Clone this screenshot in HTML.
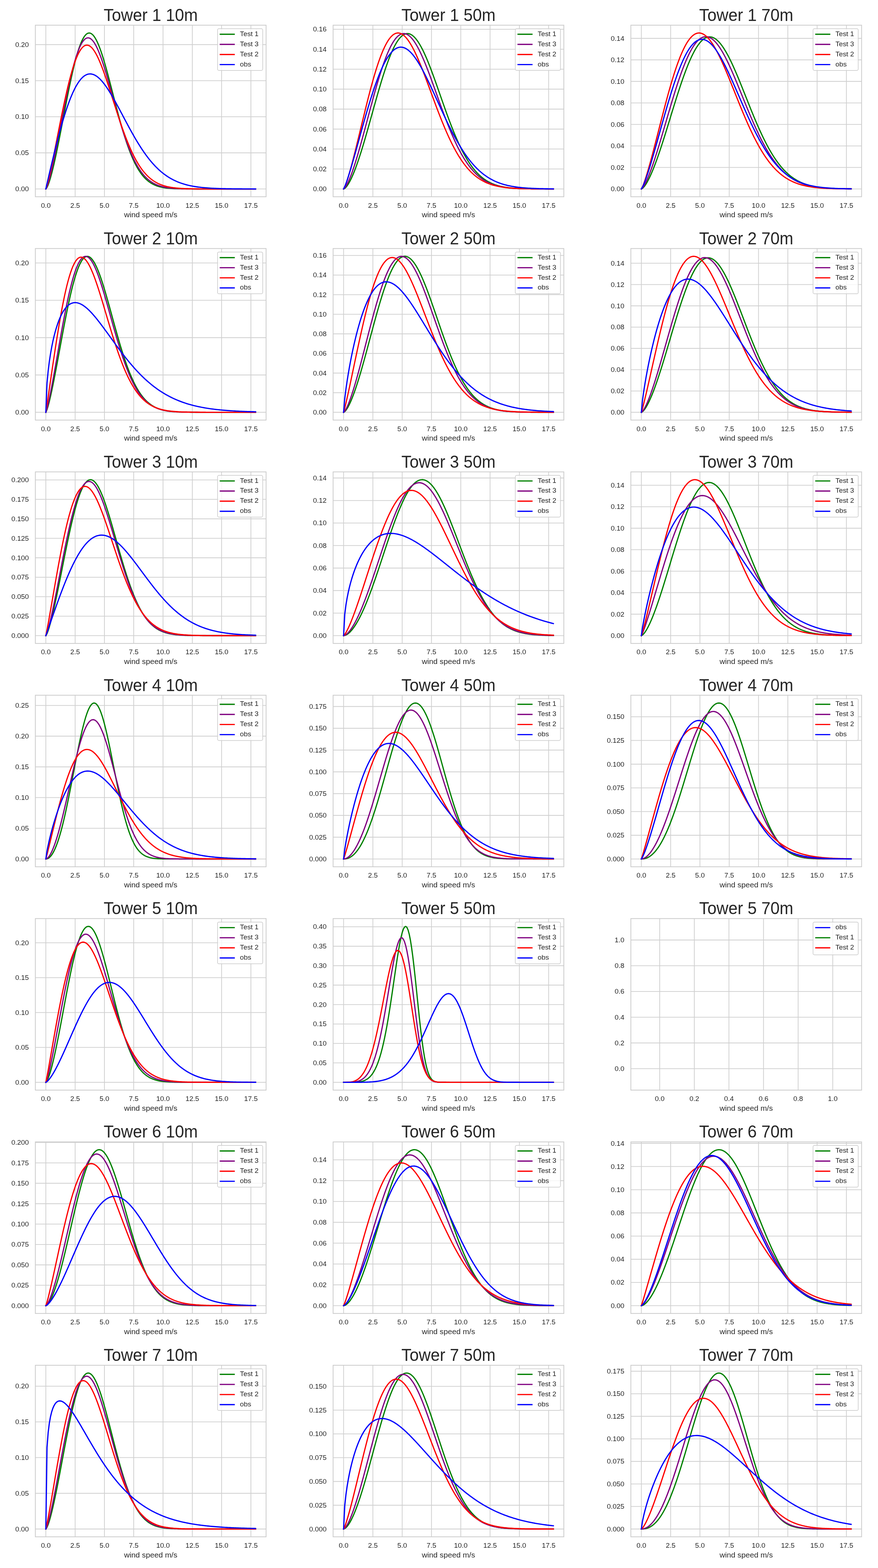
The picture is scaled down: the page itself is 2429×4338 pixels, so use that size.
<!DOCTYPE html>
<html><head><meta charset="utf-8"><title>Wind speed distributions</title><style>html,body{margin:0;padding:0;background:#fff;overflow:hidden}svg{display:block}text{font-family:"Liberation Sans",Arial,sans-serif;fill:#262626}</style></head><body>
<svg width="2429" height="4338" viewBox="0 0 2429 4338">
<rect width="2429" height="4338" fill="#fff"/>
<g stroke="#d0d0d0" stroke-width="2.1"><line x1="126.81" y1="69.70" x2="126.81" y2="544.30"/><line x1="207.86" y1="69.70" x2="207.86" y2="544.30"/><line x1="288.90" y1="69.70" x2="288.90" y2="544.30"/><line x1="369.94" y1="69.70" x2="369.94" y2="544.30"/><line x1="450.99" y1="69.70" x2="450.99" y2="544.30"/><line x1="532.03" y1="69.70" x2="532.03" y2="544.30"/><line x1="613.08" y1="69.70" x2="613.08" y2="544.30"/><line x1="694.12" y1="69.70" x2="694.12" y2="544.30"/><line x1="97.80" y1="522.73" x2="736.10" y2="522.73"/><line x1="97.80" y1="422.90" x2="736.10" y2="422.90"/><line x1="97.80" y1="323.07" x2="736.10" y2="323.07"/><line x1="97.80" y1="223.24" x2="736.10" y2="223.24"/><line x1="97.80" y1="123.42" x2="736.10" y2="123.42"/></g>
<polyline fill="none" stroke="#008000" stroke-width="3.40" stroke-linejoin="round" stroke-linecap="square" points="126.81,522.73 130.06,518.48 133.30,511.19 136.54,502.03 139.78,491.41 143.02,479.59 146.26,466.75 149.51,453.02 152.75,438.52 155.99,423.38 159.23,407.70 162.47,391.57 165.71,375.08 168.96,358.34 172.20,341.44 175.44,324.47 178.68,307.52 181.92,290.67 185.17,274.03 188.41,257.67 191.65,241.69 194.89,226.15 198.13,211.16 201.37,196.77 204.62,183.07 207.86,170.12 211.10,158.00 214.34,146.75 217.58,136.43 220.82,127.09 224.07,118.77 227.31,111.51 230.55,105.34 233.79,100.27 237.03,96.33 240.27,93.51 243.52,91.83 246.76,91.27 250.00,91.83 253.24,93.47 256.48,96.18 259.73,99.92 262.97,104.65 266.21,110.34 269.45,116.92 272.69,124.35 275.93,132.58 279.18,141.53 282.42,151.15 285.66,161.37 288.90,172.13 292.14,183.36 295.38,194.98 298.63,206.93 301.87,219.15 305.11,231.56 308.35,244.11 311.59,256.72 314.83,269.34 318.08,281.92 321.32,294.39 324.56,306.72 327.80,318.84 331.04,330.73 334.29,342.33 337.53,353.62 340.77,364.57 344.01,375.15 347.25,385.34 350.49,395.12 353.74,404.47 356.98,413.40 360.22,421.88 363.46,429.93 366.70,437.53 369.94,444.68 373.19,451.41 376.43,457.71 379.67,463.59 382.91,469.06 386.15,474.15 389.40,478.85 392.64,483.20 395.88,487.20 399.12,490.87 402.36,494.23 405.60,497.29 408.85,500.08 412.09,502.62 415.33,504.91 418.57,506.98 421.81,508.84 425.05,510.52 428.30,512.01 431.54,513.35 434.78,514.54 438.02,515.60 441.26,516.53 444.50,517.36 447.75,518.09 450.99,518.73 454.23,519.29 457.47,519.77 460.71,520.20 463.96,520.57 467.20,520.89 470.44,521.17 473.68,521.41 476.92,521.61 480.16,521.79 483.41,521.94 486.65,522.06 489.89,522.17 493.13,522.26 496.37,522.34 499.61,522.41 502.86,522.46 506.10,522.51 509.34,522.55 512.58,522.58 515.82,522.61 519.07,522.63 522.31,522.65 525.55,522.66 528.79,522.67 532.03,522.68 535.27,522.69 538.52,522.70 541.76,522.71 545.00,522.71 548.24,522.71 551.48,522.72 554.72,522.72 557.97,522.72 561.21,522.72 564.45,522.72 567.69,522.72 570.93,522.72 574.17,522.73 577.42,522.73 580.66,522.73 583.90,522.73 587.14,522.73 590.38,522.73 593.63,522.73 596.87,522.73 600.11,522.73 603.35,522.73 606.59,522.73 609.83,522.73 613.08,522.73 616.32,522.73 619.56,522.73 622.80,522.73 626.04,522.73 629.28,522.73 632.53,522.73 635.77,522.73 639.01,522.73 642.25,522.73 645.49,522.73 648.73,522.73 651.98,522.73 655.22,522.73 658.46,522.73 661.70,522.73 664.94,522.73 668.19,522.73 671.43,522.73 674.67,522.73 677.91,522.73 681.15,522.73 684.39,522.73 687.64,522.73 690.88,522.73 694.12,522.73 697.36,522.73 700.60,522.73 703.84,522.73 707.09,522.73"/>
<polyline fill="none" stroke="#800080" stroke-width="3.40" stroke-linejoin="round" stroke-linecap="square" points="126.81,522.73 130.06,516.54 133.30,507.13 136.54,495.95 139.78,483.48 143.02,469.98 146.26,455.64 149.51,440.61 152.75,425.03 155.99,409.00 159.23,392.64 162.47,376.04 165.71,359.29 168.96,342.49 172.20,325.72 175.44,309.07 178.68,292.63 181.92,276.47 185.17,260.67 188.41,245.32 191.65,230.47 194.89,216.20 198.13,202.58 201.37,189.66 204.62,177.50 207.86,166.16 211.10,155.68 214.34,146.10 217.58,137.47 220.82,129.80 224.07,123.13 227.31,117.47 230.55,112.84 233.79,109.24 237.03,106.68 240.27,105.16 243.52,104.65 246.76,105.15 250.00,106.63 253.24,109.08 256.48,112.44 259.73,116.71 262.97,121.82 266.21,127.74 269.45,134.42 272.69,141.81 275.93,149.86 279.18,158.52 282.42,167.72 285.66,177.42 288.90,187.55 292.14,198.06 295.38,208.88 298.63,219.97 301.87,231.26 305.11,242.69 308.35,254.23 311.59,265.81 314.83,277.38 318.08,288.91 321.32,300.34 324.56,311.63 327.80,322.75 331.04,333.67 334.29,344.34 337.53,354.75 340.77,364.86 344.01,374.67 347.25,384.14 350.49,393.26 353.74,402.02 356.98,410.41 360.22,418.43 363.46,426.07 366.70,433.33 369.94,440.20 373.19,446.70 376.43,452.83 379.67,458.60 382.91,464.00 386.15,469.06 389.40,473.78 392.64,478.17 395.88,482.25 399.12,486.04 402.36,489.53 405.60,492.75 408.85,495.72 412.09,498.44 415.33,500.93 418.57,503.21 421.81,505.28 425.05,507.16 428.30,508.87 431.54,510.42 434.78,511.82 438.02,513.08 441.26,514.21 444.50,515.22 447.75,516.13 450.99,516.94 454.23,517.66 457.47,518.30 460.71,518.86 463.96,519.36 467.20,519.81 470.44,520.20 473.68,520.54 476.92,520.84 480.16,521.10 483.41,521.33 486.65,521.53 489.89,521.70 493.13,521.85 496.37,521.98 499.61,522.09 502.86,522.19 506.10,522.27 509.34,522.34 512.58,522.40 515.82,522.45 519.07,522.50 522.31,522.54 525.55,522.57 528.79,522.59 532.03,522.62 535.27,522.63 538.52,522.65 541.76,522.66 545.00,522.68 548.24,522.68 551.48,522.69 554.72,522.70 557.97,522.70 561.21,522.71 564.45,522.71 567.69,522.71 570.93,522.72 574.17,522.72 577.42,522.72 580.66,522.72 583.90,522.72 587.14,522.72 590.38,522.72 593.63,522.73 596.87,522.73 600.11,522.73 603.35,522.73 606.59,522.73 609.83,522.73 613.08,522.73 616.32,522.73 619.56,522.73 622.80,522.73 626.04,522.73 629.28,522.73 632.53,522.73 635.77,522.73 639.01,522.73 642.25,522.73 645.49,522.73 648.73,522.73 651.98,522.73 655.22,522.73 658.46,522.73 661.70,522.73 664.94,522.73 668.19,522.73 671.43,522.73 674.67,522.73 677.91,522.73 681.15,522.73 684.39,522.73 687.64,522.73 690.88,522.73 694.12,522.73 697.36,522.73 700.60,522.73 703.84,522.73 707.09,522.73"/>
<polyline fill="none" stroke="#ff0000" stroke-width="3.40" stroke-linejoin="round" stroke-linecap="square" points="126.81,522.73 130.06,513.30 133.30,500.99 136.54,487.34 139.78,472.76 143.02,457.52 146.26,441.79 149.51,425.69 152.75,409.34 155.99,392.85 159.23,376.30 162.47,359.78 165.71,343.36 168.96,327.14 172.20,311.17 175.44,295.53 178.68,280.28 181.92,265.49 185.17,251.21 188.41,237.49 191.65,224.40 194.89,211.98 198.13,200.26 201.37,189.30 204.62,179.13 207.86,169.77 211.10,161.26 214.34,153.62 217.58,146.86 220.82,141.00 224.07,136.04 227.31,131.99 230.55,128.85 233.79,126.62 237.03,125.28 240.27,124.82 243.52,125.22 246.76,126.46 250.00,128.52 253.24,131.37 256.48,134.98 259.73,139.31 262.97,144.33 266.21,150.00 269.45,156.27 272.69,163.11 275.93,170.48 279.18,178.32 282.42,186.59 285.66,195.26 288.90,204.26 292.14,213.56 295.38,223.11 298.63,232.87 301.87,242.79 305.11,252.84 308.35,262.97 311.59,273.14 314.83,283.31 318.08,293.45 321.32,303.53 324.56,313.52 327.80,323.38 331.04,333.08 334.29,342.61 337.53,351.94 340.77,361.05 344.01,369.93 347.25,378.55 350.49,386.91 353.74,394.98 356.98,402.77 360.22,410.27 363.46,417.47 366.70,424.37 369.94,430.96 373.19,437.24 376.43,443.23 379.67,448.91 382.91,454.29 386.15,459.39 389.40,464.19 392.64,468.72 395.88,472.98 399.12,476.98 402.36,480.72 405.60,484.21 408.85,487.47 412.09,490.51 415.33,493.33 418.57,495.95 421.81,498.37 425.05,500.61 428.30,502.68 431.54,504.58 434.78,506.32 438.02,507.93 441.26,509.39 444.50,510.73 447.75,511.96 450.99,513.07 454.23,514.08 457.47,515.00 460.71,515.83 463.96,516.59 467.20,517.26 470.44,517.88 473.68,518.43 476.92,518.92 480.16,519.36 483.41,519.76 486.65,520.11 489.89,520.43 493.13,520.71 496.37,520.96 499.61,521.18 502.86,521.37 506.10,521.54 509.34,521.70 512.58,521.83 515.82,521.95 519.07,522.05 522.31,522.14 525.55,522.22 528.79,522.29 532.03,522.35 535.27,522.40 538.52,522.45 541.76,522.49 545.00,522.52 548.24,522.55 551.48,522.58 554.72,522.60 557.97,522.62 561.21,522.64 564.45,522.65 567.69,522.66 570.93,522.67 574.17,522.68 577.42,522.69 580.66,522.69 583.90,522.70 587.14,522.70 590.38,522.71 593.63,522.71 596.87,522.71 600.11,522.72 603.35,522.72 606.59,522.72 609.83,522.72 613.08,522.72 616.32,522.72 619.56,522.72 622.80,522.72 626.04,522.72 629.28,522.73 632.53,522.73 635.77,522.73 639.01,522.73 642.25,522.73 645.49,522.73 648.73,522.73 651.98,522.73 655.22,522.73 658.46,522.73 661.70,522.73 664.94,522.73 668.19,522.73 671.43,522.73 674.67,522.73 677.91,522.73 681.15,522.73 684.39,522.73 687.64,522.73 690.88,522.73 694.12,522.73 697.36,522.73 700.60,522.73 703.84,522.73 707.09,522.73"/>
<polyline fill="none" stroke="#0000ff" stroke-width="3.40" stroke-linejoin="round" stroke-linecap="square" points="126.81,522.73 130.06,508.37 133.30,494.24 136.54,480.24 139.78,466.38 143.02,452.67 146.26,439.14 149.51,425.80 152.75,412.68 155.99,399.81 159.23,387.20 162.47,374.88 165.71,362.88 168.96,351.20 172.20,339.88 175.44,328.93 178.68,318.38 181.92,308.22 185.17,298.49 188.41,289.20 191.65,280.36 194.89,271.98 198.13,264.07 201.37,256.64 204.62,249.70 207.86,243.25 211.10,237.30 214.34,231.85 217.58,226.90 220.82,222.46 224.07,218.52 227.31,215.07 230.55,212.13 233.79,209.67 237.03,207.70 240.27,206.20 243.52,205.18 246.76,204.61 250.00,204.49 253.24,204.81 256.48,205.55 259.73,206.70 262.97,208.25 266.21,210.18 269.45,212.48 272.69,215.14 275.93,218.12 279.18,221.43 282.42,225.04 285.66,228.93 288.90,233.09 292.14,237.50 295.38,242.14 298.63,247.00 301.87,252.06 305.11,257.29 308.35,262.68 311.59,268.22 314.83,273.89 318.08,279.67 321.32,285.55 324.56,291.50 327.80,297.52 331.04,303.59 334.29,309.70 337.53,315.83 340.77,321.96 344.01,328.09 347.25,334.21 350.49,340.29 353.74,346.34 356.98,352.33 360.22,358.27 363.46,364.14 366.70,369.93 369.94,375.64 373.19,381.26 376.43,386.78 379.67,392.19 382.91,397.49 386.15,402.68 389.40,407.76 392.64,412.70 395.88,417.53 399.12,422.22 402.36,426.78 405.60,431.22 408.85,435.51 412.09,439.68 415.33,443.71 418.57,447.60 421.81,451.36 425.05,454.98 428.30,458.48 431.54,461.84 434.78,465.07 438.02,468.17 441.26,471.15 444.50,474.00 447.75,476.73 450.99,479.34 454.23,481.84 457.47,484.22 460.71,486.49 463.96,488.66 467.20,490.71 470.44,492.67 473.68,494.53 476.92,496.30 480.16,497.97 483.41,499.56 486.65,501.06 489.89,502.47 493.13,503.81 496.37,505.08 499.61,506.27 502.86,507.39 506.10,508.45 509.34,509.45 512.58,510.38 515.82,511.26 519.07,512.08 522.31,512.85 525.55,513.58 528.79,514.25 532.03,514.88 535.27,515.47 538.52,516.02 541.76,516.54 545.00,517.02 548.24,517.46 551.48,517.87 554.72,518.26 557.97,518.62 561.21,518.95 564.45,519.26 567.69,519.54 570.93,519.80 574.17,520.05 577.42,520.27 580.66,520.48 583.90,520.67 587.14,520.85 590.38,521.01 593.63,521.16 596.87,521.30 600.11,521.43 603.35,521.54 606.59,521.65 609.83,521.75 613.08,521.84 616.32,521.92 619.56,521.99 622.80,522.06 626.04,522.12 629.28,522.18 632.53,522.23 635.77,522.28 639.01,522.32 642.25,522.36 645.49,522.40 648.73,522.43 651.98,522.46 655.22,522.49 658.46,522.51 661.70,522.53 664.94,522.55 668.19,522.57 671.43,522.59 674.67,522.60 677.91,522.61 681.15,522.63 684.39,522.64 687.64,522.65 690.88,522.66 694.12,522.66 697.36,522.67 700.60,522.68 703.84,522.68 707.09,522.69"/>
<rect x="97.80" y="69.70" width="638.30" height="474.60" fill="none" stroke="#cccccc" stroke-width="2.2"/>
<g font-size="19.3"><text transform="matrix(1 0 0 0.930 126.81 574.62)" text-anchor="middle">0.0</text><text transform="matrix(1 0 0 0.930 207.86 574.62)" text-anchor="middle">2.5</text><text transform="matrix(1 0 0 0.930 288.90 574.62)" text-anchor="middle">5.0</text><text transform="matrix(1 0 0 0.930 369.94 574.62)" text-anchor="middle">7.5</text><text transform="matrix(1 0 0 0.930 450.99 574.62)" text-anchor="middle">10.0</text><text transform="matrix(1 0 0 0.930 532.03 574.62)" text-anchor="middle">12.5</text><text transform="matrix(1 0 0 0.930 613.08 574.62)" text-anchor="middle">15.0</text><text transform="matrix(1 0 0 0.930 694.12 574.62)" text-anchor="middle">17.5</text><text transform="matrix(1 0 0 0.930 79.80 529.14)" text-anchor="end">0.00</text><text transform="matrix(1 0 0 0.930 79.80 429.32)" text-anchor="end">0.05</text><text transform="matrix(1 0 0 0.930 79.80 329.49)" text-anchor="end">0.10</text><text transform="matrix(1 0 0 0.930 79.80 229.66)" text-anchor="end">0.15</text><text transform="matrix(1 0 0 0.930 79.80 129.83)" text-anchor="end">0.20</text></g>
<text transform="matrix(1 0 0 0.930 416.95 601.30)" font-size="21.2" text-anchor="middle">wind speed m/s</text>
<text x="416.95" y="0.00" font-size="45.5" text-anchor="middle" transform="translate(0 57.80) scale(1 1.05)">Tower 1 10m</text>
<g><rect x="601.80" y="79.40" width="125.00" height="115.40" rx="3.8" ry="3.8" fill="#fff" fill-opacity="0.8" stroke="#cccccc" stroke-width="1.75"/><line x1="609.50" y1="94.80" x2="647.90" y2="94.80" stroke="#008000" stroke-width="3.40" stroke-linecap="square"/><text transform="matrix(1 0 0 0.930 663.80 99.72)" font-size="19.3">Test 1</text><line x1="609.50" y1="122.75" x2="647.90" y2="122.75" stroke="#800080" stroke-width="3.40" stroke-linecap="square"/><text transform="matrix(1 0 0 0.930 663.80 127.67)" font-size="19.3">Test 3</text><line x1="609.50" y1="150.70" x2="647.90" y2="150.70" stroke="#ff0000" stroke-width="3.40" stroke-linecap="square"/><text transform="matrix(1 0 0 0.930 663.80 155.62)" font-size="19.3">Test 2</text><line x1="609.50" y1="178.65" x2="647.90" y2="178.65" stroke="#0000ff" stroke-width="3.40" stroke-linecap="square"/><text transform="matrix(1 0 0 0.930 663.80 183.57)" font-size="19.3">obs</text></g>
<g stroke="#d0d0d0" stroke-width="2.1"><line x1="950.56" y1="69.70" x2="950.56" y2="544.30"/><line x1="1031.61" y1="69.70" x2="1031.61" y2="544.30"/><line x1="1112.65" y1="69.70" x2="1112.65" y2="544.30"/><line x1="1193.69" y1="69.70" x2="1193.69" y2="544.30"/><line x1="1274.74" y1="69.70" x2="1274.74" y2="544.30"/><line x1="1355.78" y1="69.70" x2="1355.78" y2="544.30"/><line x1="1436.83" y1="69.70" x2="1436.83" y2="544.30"/><line x1="1517.87" y1="69.70" x2="1517.87" y2="544.30"/><line x1="921.55" y1="522.73" x2="1559.85" y2="522.73"/><line x1="921.55" y1="467.51" x2="1559.85" y2="467.51"/><line x1="921.55" y1="412.30" x2="1559.85" y2="412.30"/><line x1="921.55" y1="357.08" x2="1559.85" y2="357.08"/><line x1="921.55" y1="301.87" x2="1559.85" y2="301.87"/><line x1="921.55" y1="246.65" x2="1559.85" y2="246.65"/><line x1="921.55" y1="191.44" x2="1559.85" y2="191.44"/><line x1="921.55" y1="136.22" x2="1559.85" y2="136.22"/><line x1="921.55" y1="81.00" x2="1559.85" y2="81.00"/></g>
<polyline fill="none" stroke="#008000" stroke-width="3.40" stroke-linejoin="round" stroke-linecap="square" points="950.56,522.73 953.81,521.18 957.05,518.17 960.29,514.15 963.53,509.30 966.77,503.72 970.01,497.48 973.26,490.65 976.50,483.27 979.74,475.38 982.98,467.03 986.22,458.24 989.46,449.05 992.71,439.49 995.95,429.59 999.19,419.38 1002.43,408.90 1005.67,398.16 1008.92,387.20 1012.16,376.05 1015.40,364.74 1018.64,353.31 1021.88,341.77 1025.12,330.17 1028.37,318.53 1031.61,306.88 1034.85,295.27 1038.09,283.70 1041.33,272.23 1044.57,260.88 1047.82,249.67 1051.06,238.65 1054.30,227.84 1057.54,217.27 1060.78,206.97 1064.02,196.96 1067.27,187.29 1070.51,177.96 1073.75,169.02 1076.99,160.47 1080.23,152.36 1083.48,144.69 1086.72,137.49 1089.96,130.77 1093.20,124.57 1096.44,118.88 1099.68,113.73 1102.93,109.13 1106.17,105.09 1109.41,101.62 1112.65,98.72 1115.89,96.40 1119.13,94.66 1122.38,93.51 1125.62,92.94 1128.86,92.95 1132.10,93.54 1135.34,94.70 1138.58,96.41 1141.83,98.68 1145.07,101.49 1148.31,104.82 1151.55,108.66 1154.79,112.99 1158.04,117.80 1161.28,123.06 1164.52,128.75 1167.76,134.86 1171.00,141.36 1174.24,148.22 1177.49,155.43 1180.73,162.95 1183.97,170.76 1187.21,178.83 1190.45,187.14 1193.69,195.67 1196.94,204.37 1200.18,213.24 1203.42,222.24 1206.66,231.34 1209.90,240.52 1213.15,249.76 1216.39,259.03 1219.63,268.30 1222.87,277.56 1226.11,286.78 1229.35,295.94 1232.60,305.03 1235.84,314.01 1239.08,322.88 1242.32,331.62 1245.56,340.21 1248.80,348.63 1252.05,356.88 1255.29,364.94 1258.53,372.81 1261.77,380.46 1265.01,387.90 1268.25,395.12 1271.50,402.10 1274.74,408.86 1277.98,415.37 1281.22,421.65 1284.46,427.68 1287.71,433.48 1290.95,439.02 1294.19,444.33 1297.43,449.40 1300.67,454.24 1303.91,458.84 1307.16,463.21 1310.40,467.35 1313.64,471.28 1316.88,474.99 1320.12,478.50 1323.36,481.80 1326.61,484.91 1329.85,487.83 1333.09,490.57 1336.33,493.13 1339.57,495.53 1342.82,497.77 1346.06,499.85 1349.30,501.79 1352.54,503.60 1355.78,505.27 1359.02,506.82 1362.27,508.25 1365.51,509.57 1368.75,510.79 1371.99,511.91 1375.23,512.94 1378.47,513.88 1381.72,514.74 1384.96,515.54 1388.20,516.26 1391.44,516.91 1394.68,517.51 1397.92,518.06 1401.17,518.55 1404.41,519.00 1407.65,519.40 1410.89,519.76 1414.13,520.09 1417.38,520.39 1420.62,520.65 1423.86,520.89 1427.10,521.10 1430.34,521.29 1433.58,521.46 1436.83,521.62 1440.07,521.75 1443.31,521.87 1446.55,521.98 1449.79,522.07 1453.03,522.15 1456.28,522.23 1459.52,522.29 1462.76,522.35 1466.00,522.40 1469.24,522.44 1472.48,522.48 1475.73,522.51 1478.97,522.54 1482.21,522.57 1485.45,522.59 1488.69,522.61 1491.94,522.63 1495.18,522.64 1498.42,522.65 1501.66,522.67 1504.90,522.67 1508.14,522.68 1511.39,522.69 1514.63,522.69 1517.87,522.70 1521.11,522.70 1524.35,522.71 1527.59,522.71 1530.84,522.71"/>
<polyline fill="none" stroke="#800080" stroke-width="3.40" stroke-linejoin="round" stroke-linecap="square" points="950.56,522.73 953.81,520.07 957.05,515.51 960.29,509.78 963.53,503.14 966.77,495.73 970.01,487.66 973.26,478.99 976.50,469.80 979.74,460.14 982.98,450.06 986.22,439.59 989.46,428.79 992.71,417.69 995.95,406.32 999.19,394.73 1002.43,382.96 1005.67,371.03 1008.92,358.98 1012.16,346.84 1015.40,334.66 1018.64,322.46 1021.88,310.28 1025.12,298.16 1028.37,286.12 1031.61,274.19 1034.85,262.42 1038.09,250.83 1041.33,239.46 1044.57,228.32 1047.82,217.47 1051.06,206.91 1054.30,196.69 1057.54,186.83 1060.78,177.35 1064.02,168.28 1067.27,159.64 1070.51,151.45 1073.75,143.74 1076.99,136.53 1080.23,129.82 1083.48,123.64 1086.72,118.00 1089.96,112.91 1093.20,108.38 1096.44,104.42 1099.68,101.04 1102.93,98.25 1106.17,96.03 1109.41,94.41 1112.65,93.36 1115.89,92.90 1119.13,93.02 1122.38,93.70 1125.62,94.95 1128.86,96.74 1132.10,99.08 1135.34,101.94 1138.58,105.32 1141.83,109.19 1145.07,113.54 1148.31,118.34 1151.55,123.59 1154.79,129.25 1158.04,135.31 1161.28,141.74 1164.52,148.52 1167.76,155.63 1171.00,163.03 1174.24,170.71 1177.49,178.65 1180.73,186.80 1183.97,195.16 1187.21,203.69 1190.45,212.36 1193.69,221.16 1196.94,230.06 1200.18,239.04 1203.42,248.06 1206.66,257.12 1209.90,266.18 1213.15,275.22 1216.39,284.23 1219.63,293.19 1222.87,302.06 1226.11,310.85 1229.35,319.53 1232.60,328.08 1235.84,336.50 1239.08,344.76 1242.32,352.86 1245.56,360.78 1248.80,368.52 1252.05,376.06 1255.29,383.40 1258.53,390.53 1261.77,397.45 1265.01,404.14 1268.25,410.62 1271.50,416.86 1274.74,422.88 1277.98,428.67 1281.22,434.23 1284.46,439.57 1287.71,444.67 1290.95,449.55 1294.19,454.21 1297.43,458.65 1300.67,462.88 1303.91,466.89 1307.16,470.70 1310.40,474.31 1313.64,477.72 1316.88,480.95 1320.12,483.99 1323.36,486.85 1326.61,489.55 1329.85,492.08 1333.09,494.45 1336.33,496.67 1339.57,498.74 1342.82,500.68 1346.06,502.49 1349.30,504.17 1352.54,505.74 1355.78,507.19 1359.02,508.53 1362.27,509.78 1365.51,510.93 1368.75,511.99 1371.99,512.97 1375.23,513.87 1378.47,514.70 1381.72,515.46 1384.96,516.16 1388.20,516.79 1391.44,517.38 1394.68,517.91 1397.92,518.39 1401.17,518.83 1404.41,519.23 1407.65,519.60 1410.89,519.93 1414.13,520.22 1417.38,520.49 1420.62,520.74 1423.86,520.95 1427.10,521.15 1430.34,521.33 1433.58,521.49 1436.83,521.63 1440.07,521.76 1443.31,521.87 1446.55,521.97 1449.79,522.06 1453.03,522.14 1456.28,522.21 1459.52,522.28 1462.76,522.33 1466.00,522.38 1469.24,522.43 1472.48,522.46 1475.73,522.50 1478.97,522.53 1482.21,522.55 1485.45,522.58 1488.69,522.60 1491.94,522.61 1495.18,522.63 1498.42,522.64 1501.66,522.65 1504.90,522.66 1508.14,522.67 1511.39,522.68 1514.63,522.69 1517.87,522.69 1521.11,522.70 1524.35,522.70 1527.59,522.71 1530.84,522.71"/>
<polyline fill="none" stroke="#ff0000" stroke-width="3.40" stroke-linejoin="round" stroke-linecap="square" points="950.56,522.73 953.81,516.95 957.05,508.81 960.29,499.45 963.53,489.22 966.77,478.31 970.01,466.85 973.26,454.92 976.50,442.61 979.74,429.97 982.98,417.08 986.22,403.99 989.46,390.73 992.71,377.36 995.95,363.93 999.19,350.47 1002.43,337.02 1005.67,323.63 1008.92,310.34 1012.16,297.17 1015.40,284.17 1018.64,271.37 1021.88,258.80 1025.12,246.51 1028.37,234.51 1031.61,222.84 1034.85,211.53 1038.09,200.60 1041.33,190.09 1044.57,180.02 1047.82,170.40 1051.06,161.27 1054.30,152.63 1057.54,144.52 1060.78,136.94 1064.02,129.92 1067.27,123.45 1070.51,117.57 1073.75,112.26 1076.99,107.54 1080.23,103.43 1083.48,99.90 1086.72,96.98 1089.96,94.66 1093.20,92.94 1096.44,91.81 1099.68,91.27 1102.93,91.31 1106.17,91.92 1109.41,93.10 1112.65,94.82 1115.89,97.07 1119.13,99.84 1122.38,103.12 1125.62,106.88 1128.86,111.11 1132.10,115.79 1135.34,120.89 1138.58,126.39 1141.83,132.28 1145.07,138.53 1148.31,145.11 1151.55,152.01 1154.79,159.19 1158.04,166.64 1161.28,174.33 1164.52,182.23 1167.76,190.32 1171.00,198.59 1174.24,206.99 1177.49,215.52 1180.73,224.14 1183.97,232.83 1187.21,241.58 1190.45,250.36 1193.69,259.15 1196.94,267.93 1200.18,276.69 1203.42,285.39 1206.66,294.04 1209.90,302.60 1213.15,311.07 1216.39,319.43 1219.63,327.66 1222.87,335.76 1226.11,343.71 1229.35,351.51 1232.60,359.14 1235.84,366.59 1239.08,373.86 1242.32,380.94 1245.56,387.83 1248.80,394.52 1252.05,401.00 1255.29,407.27 1258.53,413.34 1261.77,419.20 1265.01,424.85 1268.25,430.28 1271.50,435.50 1274.74,440.52 1277.98,445.33 1281.22,449.93 1284.46,454.33 1287.71,458.53 1290.95,462.54 1294.19,466.36 1297.43,469.99 1300.67,473.43 1303.91,476.70 1307.16,479.80 1310.40,482.73 1313.64,485.50 1316.88,488.12 1320.12,490.58 1323.36,492.91 1326.61,495.09 1329.85,497.14 1333.09,499.06 1336.33,500.86 1339.57,502.55 1342.82,504.12 1346.06,505.59 1349.30,506.96 1352.54,508.24 1355.78,509.43 1359.02,510.53 1362.27,511.55 1365.51,512.50 1368.75,513.38 1371.99,514.19 1375.23,514.94 1378.47,515.63 1381.72,516.27 1384.96,516.85 1388.20,517.39 1391.44,517.88 1394.68,518.34 1397.92,518.75 1401.17,519.13 1404.41,519.48 1407.65,519.80 1410.89,520.08 1414.13,520.35 1417.38,520.59 1420.62,520.80 1423.86,521.00 1427.10,521.18 1430.34,521.34 1433.58,521.49 1436.83,521.62 1440.07,521.74 1443.31,521.84 1446.55,521.94 1449.79,522.03 1453.03,522.10 1456.28,522.17 1459.52,522.24 1462.76,522.29 1466.00,522.34 1469.24,522.39 1472.48,522.43 1475.73,522.46 1478.97,522.49 1482.21,522.52 1485.45,522.55 1488.69,522.57 1491.94,522.59 1495.18,522.60 1498.42,522.62 1501.66,522.63 1504.90,522.65 1508.14,522.66 1511.39,522.67 1514.63,522.67 1517.87,522.68 1521.11,522.69 1524.35,522.69 1527.59,522.70 1530.84,522.70"/>
<polyline fill="none" stroke="#0000ff" stroke-width="3.40" stroke-linejoin="round" stroke-linecap="square" points="950.56,522.73 953.81,516.27 957.05,507.94 960.29,498.72 963.53,488.90 966.77,478.61 970.01,467.96 973.26,457.01 976.50,445.83 979.74,434.46 982.98,422.95 986.22,411.33 989.46,399.65 992.71,387.93 995.95,376.20 999.19,364.51 1002.43,352.87 1005.67,341.31 1008.92,329.86 1012.16,318.54 1015.40,307.39 1018.64,296.42 1021.88,285.65 1025.12,275.12 1028.37,264.83 1031.61,254.82 1034.85,245.09 1038.09,235.67 1041.33,226.58 1044.57,217.83 1047.82,209.44 1051.06,201.42 1054.30,193.79 1057.54,186.56 1060.78,179.73 1064.02,173.32 1067.27,167.34 1070.51,161.80 1073.75,156.69 1076.99,152.04 1080.23,147.84 1083.48,144.09 1086.72,140.79 1089.96,137.96 1093.20,135.58 1096.44,133.65 1099.68,132.18 1102.93,131.15 1106.17,130.57 1109.41,130.43 1112.65,130.72 1115.89,131.43 1119.13,132.55 1122.38,134.08 1125.62,136.01 1128.86,138.32 1132.10,141.00 1135.34,144.04 1138.58,147.43 1141.83,151.15 1145.07,155.18 1148.31,159.53 1151.55,164.16 1154.79,169.06 1158.04,174.23 1161.28,179.63 1164.52,185.26 1167.76,191.10 1171.00,197.14 1174.24,203.35 1177.49,209.72 1180.73,216.24 1183.97,222.89 1187.21,229.65 1190.45,236.51 1193.69,243.45 1196.94,250.46 1200.18,257.52 1203.42,264.62 1206.66,271.75 1209.90,278.88 1213.15,286.02 1216.39,293.14 1219.63,300.23 1222.87,307.28 1226.11,314.29 1229.35,321.23 1232.60,328.11 1235.84,334.91 1239.08,341.62 1242.32,348.23 1245.56,354.75 1248.80,361.15 1252.05,367.43 1255.29,373.60 1258.53,379.63 1261.77,385.54 1265.01,391.30 1268.25,396.93 1271.50,402.41 1274.74,407.75 1277.98,412.94 1281.22,417.98 1284.46,422.87 1287.71,427.61 1290.95,432.20 1294.19,436.63 1297.43,440.92 1300.67,445.05 1303.91,449.03 1307.16,452.87 1310.40,456.56 1313.64,460.10 1316.88,463.51 1320.12,466.77 1323.36,469.89 1326.61,472.88 1329.85,475.74 1333.09,478.47 1336.33,481.08 1339.57,483.56 1342.82,485.92 1346.06,488.17 1349.30,490.31 1352.54,492.34 1355.78,494.26 1359.02,496.09 1362.27,497.82 1365.51,499.45 1368.75,501.00 1371.99,502.45 1375.23,503.83 1378.47,505.12 1381.72,506.34 1384.96,507.49 1388.20,508.57 1391.44,509.58 1394.68,510.53 1397.92,511.42 1401.17,512.26 1404.41,513.04 1407.65,513.77 1410.89,514.45 1414.13,515.08 1417.38,515.68 1420.62,516.23 1423.86,516.74 1427.10,517.22 1430.34,517.66 1433.58,518.07 1436.83,518.45 1440.07,518.81 1443.31,519.13 1446.55,519.43 1449.79,519.71 1453.03,519.97 1456.28,520.21 1459.52,520.43 1462.76,520.63 1466.00,520.82 1469.24,520.99 1472.48,521.14 1475.73,521.29 1478.97,521.42 1482.21,521.54 1485.45,521.65 1488.69,521.75 1491.94,521.84 1495.18,521.93 1498.42,522.00 1501.66,522.07 1504.90,522.14 1508.14,522.19 1511.39,522.25 1514.63,522.29 1517.87,522.34 1521.11,522.38 1524.35,522.41 1527.59,522.45 1530.84,522.47"/>
<rect x="921.55" y="69.70" width="638.30" height="474.60" fill="none" stroke="#cccccc" stroke-width="2.2"/>
<g font-size="19.3"><text transform="matrix(1 0 0 0.930 950.56 574.62)" text-anchor="middle">0.0</text><text transform="matrix(1 0 0 0.930 1031.61 574.62)" text-anchor="middle">2.5</text><text transform="matrix(1 0 0 0.930 1112.65 574.62)" text-anchor="middle">5.0</text><text transform="matrix(1 0 0 0.930 1193.69 574.62)" text-anchor="middle">7.5</text><text transform="matrix(1 0 0 0.930 1274.74 574.62)" text-anchor="middle">10.0</text><text transform="matrix(1 0 0 0.930 1355.78 574.62)" text-anchor="middle">12.5</text><text transform="matrix(1 0 0 0.930 1436.83 574.62)" text-anchor="middle">15.0</text><text transform="matrix(1 0 0 0.930 1517.87 574.62)" text-anchor="middle">17.5</text><text transform="matrix(1 0 0 0.930 903.55 529.14)" text-anchor="end">0.00</text><text transform="matrix(1 0 0 0.930 903.55 473.93)" text-anchor="end">0.02</text><text transform="matrix(1 0 0 0.930 903.55 418.71)" text-anchor="end">0.04</text><text transform="matrix(1 0 0 0.930 903.55 363.50)" text-anchor="end">0.06</text><text transform="matrix(1 0 0 0.930 903.55 308.28)" text-anchor="end">0.08</text><text transform="matrix(1 0 0 0.930 903.55 253.07)" text-anchor="end">0.10</text><text transform="matrix(1 0 0 0.930 903.55 197.85)" text-anchor="end">0.12</text><text transform="matrix(1 0 0 0.930 903.55 142.64)" text-anchor="end">0.14</text><text transform="matrix(1 0 0 0.930 903.55 87.42)" text-anchor="end">0.16</text></g>
<text transform="matrix(1 0 0 0.930 1240.70 601.30)" font-size="21.2" text-anchor="middle">wind speed m/s</text>
<text x="1240.70" y="0.00" font-size="45.5" text-anchor="middle" transform="translate(0 57.80) scale(1 1.05)">Tower 1 50m</text>
<g><rect x="1425.55" y="79.40" width="125.00" height="115.40" rx="3.8" ry="3.8" fill="#fff" fill-opacity="0.8" stroke="#cccccc" stroke-width="1.75"/><line x1="1433.25" y1="94.80" x2="1471.65" y2="94.80" stroke="#008000" stroke-width="3.40" stroke-linecap="square"/><text transform="matrix(1 0 0 0.930 1487.55 99.72)" font-size="19.3">Test 1</text><line x1="1433.25" y1="122.75" x2="1471.65" y2="122.75" stroke="#800080" stroke-width="3.40" stroke-linecap="square"/><text transform="matrix(1 0 0 0.930 1487.55 127.67)" font-size="19.3">Test 3</text><line x1="1433.25" y1="150.70" x2="1471.65" y2="150.70" stroke="#ff0000" stroke-width="3.40" stroke-linecap="square"/><text transform="matrix(1 0 0 0.930 1487.55 155.62)" font-size="19.3">Test 2</text><line x1="1433.25" y1="178.65" x2="1471.65" y2="178.65" stroke="#0000ff" stroke-width="3.40" stroke-linecap="square"/><text transform="matrix(1 0 0 0.930 1487.55 183.57)" font-size="19.3">obs</text></g>
<g stroke="#d0d0d0" stroke-width="2.1"><line x1="1774.31" y1="69.70" x2="1774.31" y2="544.30"/><line x1="1855.36" y1="69.70" x2="1855.36" y2="544.30"/><line x1="1936.40" y1="69.70" x2="1936.40" y2="544.30"/><line x1="2017.44" y1="69.70" x2="2017.44" y2="544.30"/><line x1="2098.49" y1="69.70" x2="2098.49" y2="544.30"/><line x1="2179.53" y1="69.70" x2="2179.53" y2="544.30"/><line x1="2260.58" y1="69.70" x2="2260.58" y2="544.30"/><line x1="2341.62" y1="69.70" x2="2341.62" y2="544.30"/><line x1="1745.30" y1="522.73" x2="2383.60" y2="522.73"/><line x1="1745.30" y1="463.21" x2="2383.60" y2="463.21"/><line x1="1745.30" y1="403.70" x2="2383.60" y2="403.70"/><line x1="1745.30" y1="344.19" x2="2383.60" y2="344.19"/><line x1="1745.30" y1="284.68" x2="2383.60" y2="284.68"/><line x1="1745.30" y1="225.16" x2="2383.60" y2="225.16"/><line x1="1745.30" y1="165.65" x2="2383.60" y2="165.65"/><line x1="1745.30" y1="106.14" x2="2383.60" y2="106.14"/></g>
<polyline fill="none" stroke="#008000" stroke-width="3.40" stroke-linejoin="round" stroke-linecap="square" points="1774.31,522.73 1777.56,521.02 1780.80,517.89 1784.04,513.83 1787.28,509.02 1790.52,503.58 1793.76,497.56 1797.01,491.04 1800.25,484.05 1803.49,476.62 1806.73,468.81 1809.97,460.63 1813.21,452.12 1816.46,443.31 1819.70,434.21 1822.94,424.86 1826.18,415.27 1829.42,405.48 1832.67,395.51 1835.91,385.38 1839.15,375.12 1842.39,364.75 1845.63,354.29 1848.87,343.76 1852.12,333.20 1855.36,322.62 1858.60,312.06 1861.84,301.52 1865.08,291.04 1868.32,280.64 1871.57,270.35 1874.81,260.17 1878.05,250.15 1881.29,240.30 1884.53,230.65 1887.77,221.20 1891.02,212.00 1894.26,203.05 1897.50,194.38 1900.74,186.00 1903.98,177.94 1907.23,170.21 1910.47,162.83 1913.71,155.81 1916.95,149.18 1920.19,142.94 1923.43,137.10 1926.68,131.69 1929.92,126.70 1933.16,122.16 1936.40,118.06 1939.64,114.42 1942.88,111.24 1946.13,108.52 1949.37,106.27 1952.61,104.49 1955.85,103.19 1959.09,102.36 1962.33,101.99 1965.58,102.09 1968.82,102.66 1972.06,103.68 1975.30,105.15 1978.54,107.06 1981.79,109.41 1985.03,112.18 1988.27,115.36 1991.51,118.95 1994.75,122.92 1997.99,127.26 2001.24,131.97 2004.48,137.01 2007.72,142.38 2010.96,148.07 2014.20,154.05 2017.44,160.30 2020.69,166.81 2023.93,173.56 2027.17,180.53 2030.41,187.70 2033.65,195.06 2036.90,202.57 2040.14,210.23 2043.38,218.02 2046.62,225.91 2049.86,233.89 2053.10,241.94 2056.35,250.04 2059.59,258.18 2062.83,266.33 2066.07,274.48 2069.31,282.62 2072.55,290.72 2075.80,298.78 2079.04,306.78 2082.28,314.70 2085.52,322.53 2088.76,330.27 2092.00,337.89 2095.25,345.40 2098.49,352.77 2101.73,360.00 2104.97,367.08 2108.21,374.01 2111.46,380.78 2114.70,387.37 2117.94,393.79 2121.18,400.04 2124.42,406.10 2127.66,411.98 2130.91,417.67 2134.15,423.17 2137.39,428.48 2140.63,433.60 2143.87,438.53 2147.11,443.27 2150.36,447.83 2153.60,452.19 2156.84,456.37 2160.08,460.37 2163.32,464.19 2166.57,467.83 2169.81,471.31 2173.05,474.61 2176.29,477.75 2179.53,480.73 2182.77,483.55 2186.02,486.23 2189.26,488.75 2192.50,491.14 2195.74,493.39 2198.98,495.51 2202.22,497.50 2205.47,499.38 2208.71,501.13 2211.95,502.78 2215.19,504.32 2218.43,505.76 2221.67,507.11 2224.92,508.36 2228.16,509.53 2231.40,510.62 2234.64,511.63 2237.88,512.57 2241.13,513.43 2244.37,514.24 2247.61,514.98 2250.85,515.67 2254.09,516.30 2257.33,516.88 2260.58,517.42 2263.82,517.91 2267.06,518.36 2270.30,518.77 2273.54,519.15 2276.78,519.50 2280.03,519.81 2283.27,520.10 2286.51,520.36 2289.75,520.60 2292.99,520.82 2296.23,521.01 2299.48,521.19 2302.72,521.35 2305.96,521.50 2309.20,521.63 2312.44,521.75 2315.69,521.86 2318.93,521.95 2322.17,522.04 2325.41,522.12 2328.65,522.19 2331.89,522.25 2335.14,522.30 2338.38,522.35 2341.62,522.40 2344.86,522.44 2348.10,522.47 2351.34,522.50 2354.59,522.53"/>
<polyline fill="none" stroke="#800080" stroke-width="3.40" stroke-linejoin="round" stroke-linecap="square" points="1774.31,522.73 1777.56,519.92 1780.80,515.34 1784.04,509.72 1787.28,503.31 1790.52,496.24 1793.76,488.60 1797.01,480.46 1800.25,471.88 1803.49,462.91 1806.73,453.59 1809.97,443.95 1813.21,434.03 1816.46,423.86 1819.70,413.48 1822.94,402.91 1826.18,392.19 1829.42,381.33 1832.67,370.38 1835.91,359.34 1839.15,348.26 1842.39,337.16 1845.63,326.06 1848.87,314.99 1852.12,303.97 1855.36,293.04 1858.60,282.21 1861.84,271.51 1865.08,260.97 1868.32,250.60 1871.57,240.42 1874.81,230.48 1878.05,220.77 1881.29,211.33 1884.53,202.17 1887.77,193.32 1891.02,184.79 1894.26,176.60 1897.50,168.77 1900.74,161.31 1903.98,154.24 1907.23,147.57 1910.47,141.32 1913.71,135.49 1916.95,130.10 1920.19,125.16 1923.43,120.67 1926.68,116.64 1929.92,113.07 1933.16,109.98 1936.40,107.36 1939.64,105.22 1942.88,103.55 1946.13,102.35 1949.37,101.63 1952.61,101.38 1955.85,101.59 1959.09,102.26 1962.33,103.39 1965.58,104.96 1968.82,106.96 1972.06,109.40 1975.30,112.24 1978.54,115.49 1981.79,119.13 1985.03,123.15 1988.27,127.53 1991.51,132.25 1994.75,137.31 1997.99,142.68 2001.24,148.35 2004.48,154.30 2007.72,160.51 2010.96,166.97 2014.20,173.66 2017.44,180.56 2020.69,187.64 2023.93,194.90 2027.17,202.31 2030.41,209.86 2033.65,217.52 2036.90,225.29 2040.14,233.13 2043.38,241.04 2046.62,249.00 2049.86,256.98 2053.10,264.98 2056.35,272.98 2059.59,280.96 2062.83,288.90 2066.07,296.81 2069.31,304.65 2072.55,312.42 2075.80,320.11 2079.04,327.70 2082.28,335.19 2085.52,342.56 2088.76,349.80 2092.00,356.91 2095.25,363.89 2098.49,370.71 2101.73,377.38 2104.97,383.89 2108.21,390.23 2111.46,396.41 2114.70,402.41 2117.94,408.23 2121.18,413.88 2124.42,419.35 2127.66,424.64 2130.91,429.75 2134.15,434.67 2137.39,439.42 2140.63,443.98 2143.87,448.37 2147.11,452.58 2150.36,456.62 2153.60,460.48 2156.84,464.17 2160.08,467.70 2163.32,471.07 2166.57,474.28 2169.81,477.33 2173.05,480.23 2176.29,482.99 2179.53,485.60 2182.77,488.07 2186.02,490.41 2189.26,492.63 2192.50,494.72 2195.74,496.69 2198.98,498.54 2202.22,500.29 2205.47,501.92 2208.71,503.46 2211.95,504.91 2215.19,506.26 2218.43,507.52 2221.67,508.70 2224.92,509.80 2228.16,510.83 2231.40,511.79 2234.64,512.68 2237.88,513.50 2241.13,514.27 2244.37,514.98 2247.61,515.64 2250.85,516.25 2254.09,516.81 2257.33,517.33 2260.58,517.81 2263.82,518.25 2267.06,518.66 2270.30,519.03 2273.54,519.37 2276.78,519.68 2280.03,519.97 2283.27,520.23 2286.51,520.47 2289.75,520.69 2292.99,520.89 2296.23,521.07 2299.48,521.24 2302.72,521.39 2305.96,521.53 2309.20,521.65 2312.44,521.76 2315.69,521.86 2318.93,521.95 2322.17,522.04 2325.41,522.11 2328.65,522.18 2331.89,522.24 2335.14,522.29 2338.38,522.34 2341.62,522.38 2344.86,522.42 2348.10,522.46 2351.34,522.49 2354.59,522.52"/>
<polyline fill="none" stroke="#ff0000" stroke-width="3.40" stroke-linejoin="round" stroke-linecap="square" points="1774.31,522.73 1777.56,516.78 1780.80,508.68 1784.04,499.49 1787.28,489.55 1790.52,479.01 1793.76,467.99 1797.01,456.58 1800.25,444.83 1803.49,432.82 1806.73,420.59 1809.97,408.18 1813.21,395.63 1816.46,382.99 1819.70,370.30 1822.94,357.58 1826.18,344.87 1829.42,332.20 1832.67,319.61 1835.91,307.12 1839.15,294.77 1842.39,282.58 1845.63,270.58 1848.87,258.80 1852.12,247.27 1855.36,236.00 1858.60,225.03 1861.84,214.37 1865.08,204.05 1868.32,194.09 1871.57,184.50 1874.81,175.32 1878.05,166.55 1881.29,158.21 1884.53,150.31 1887.77,142.88 1891.02,135.91 1894.26,129.43 1897.50,123.44 1900.74,117.94 1903.98,112.96 1907.23,108.48 1910.47,104.52 1913.71,101.08 1916.95,98.16 1920.19,95.76 1923.43,93.87 1926.68,92.50 1929.92,91.63 1933.16,91.27 1936.40,91.41 1939.64,92.04 1942.88,93.15 1946.13,94.72 1949.37,96.76 1952.61,99.25 1955.85,102.16 1959.09,105.50 1962.33,109.24 1965.58,113.37 1968.82,117.87 1972.06,122.73 1975.30,127.93 1978.54,133.45 1981.79,139.27 1985.03,145.37 1988.27,151.74 1991.51,158.35 1994.75,165.19 1997.99,172.24 2001.24,179.48 2004.48,186.88 2007.72,194.43 2010.96,202.12 2014.20,209.91 2017.44,217.81 2020.69,225.77 2023.93,233.80 2027.17,241.86 2030.41,249.96 2033.65,258.05 2036.90,266.15 2040.14,274.22 2043.38,282.25 2046.62,290.24 2049.86,298.16 2053.10,306.01 2056.35,313.77 2059.59,321.43 2062.83,328.99 2066.07,336.42 2069.31,343.73 2072.55,350.91 2075.80,357.95 2079.04,364.83 2082.28,371.57 2085.52,378.14 2088.76,384.55 2092.00,390.80 2095.25,396.87 2098.49,402.76 2101.73,408.49 2104.97,414.03 2108.21,419.40 2111.46,424.59 2114.70,429.59 2117.94,434.43 2121.18,439.08 2124.42,443.56 2127.66,447.86 2130.91,451.99 2134.15,455.95 2137.39,459.75 2140.63,463.38 2143.87,466.85 2147.11,470.17 2150.36,473.33 2153.60,476.34 2156.84,479.21 2160.08,481.93 2163.32,484.52 2166.57,486.97 2169.81,489.30 2173.05,491.50 2176.29,493.58 2179.53,495.55 2182.77,497.41 2186.02,499.16 2189.26,500.81 2192.50,502.36 2195.74,503.82 2198.98,505.19 2202.22,506.47 2205.47,507.68 2208.71,508.80 2211.95,509.86 2215.19,510.84 2218.43,511.76 2221.67,512.62 2224.92,513.42 2228.16,514.16 2231.40,514.85 2234.64,515.49 2237.88,516.08 2241.13,516.64 2244.37,517.15 2247.61,517.62 2250.85,518.05 2254.09,518.46 2257.33,518.83 2260.58,519.17 2263.82,519.49 2267.06,519.78 2270.30,520.04 2273.54,520.29 2276.78,520.51 2280.03,520.72 2283.27,520.91 2286.51,521.08 2289.75,521.23 2292.99,521.38 2296.23,521.51 2299.48,521.63 2302.72,521.74 2305.96,521.83 2309.20,521.92 2312.44,522.00 2315.69,522.08 2318.93,522.14 2322.17,522.20 2325.41,522.26 2328.65,522.31 2331.89,522.35 2335.14,522.39 2338.38,522.43 2341.62,522.46 2344.86,522.49 2348.10,522.52 2351.34,522.54 2354.59,522.56"/>
<polyline fill="none" stroke="#0000ff" stroke-width="3.40" stroke-linejoin="round" stroke-linecap="square" points="1774.31,522.73 1777.56,517.55 1780.80,510.40 1784.04,502.27 1787.28,493.42 1790.52,484.02 1793.76,474.17 1797.01,463.93 1800.25,453.39 1803.49,442.57 1806.73,431.54 1809.97,420.32 1813.21,408.96 1816.46,397.48 1819.70,385.92 1822.94,374.32 1826.18,362.69 1829.42,351.07 1832.67,339.49 1835.91,327.97 1839.15,316.54 1842.39,305.22 1845.63,294.03 1848.87,283.01 1852.12,272.17 1855.36,261.53 1858.60,251.13 1861.84,240.97 1865.08,231.08 1868.32,221.47 1871.57,212.17 1874.81,203.19 1878.05,194.55 1881.29,186.27 1884.53,178.35 1887.77,170.81 1891.02,163.67 1894.26,156.94 1897.50,150.62 1900.74,144.72 1903.98,139.26 1907.23,134.23 1910.47,129.66 1913.71,125.53 1916.95,121.86 1920.19,118.64 1923.43,115.88 1926.68,113.58 1929.92,111.73 1933.16,110.34 1936.40,109.40 1939.64,108.90 1942.88,108.85 1946.13,109.23 1949.37,110.04 1952.61,111.27 1955.85,112.91 1959.09,114.96 1962.33,117.39 1965.58,120.20 1968.82,123.39 1972.06,126.92 1975.30,130.80 1978.54,135.00 1981.79,139.52 1985.03,144.33 1988.27,149.43 1991.51,154.79 1994.75,160.41 1997.99,166.26 2001.24,172.34 2004.48,178.61 2007.72,185.07 2010.96,191.71 2014.20,198.49 2017.44,205.42 2020.69,212.46 2023.93,219.62 2027.17,226.86 2030.41,234.18 2033.65,241.55 2036.90,248.97 2040.14,256.43 2043.38,263.90 2046.62,271.37 2049.86,278.83 2053.10,286.27 2056.35,293.67 2059.59,301.03 2062.83,308.33 2066.07,315.56 2069.31,322.72 2072.55,329.79 2075.80,336.76 2079.04,343.63 2082.28,350.38 2085.52,357.02 2088.76,363.54 2092.00,369.92 2095.25,376.17 2098.49,382.28 2101.73,388.24 2104.97,394.06 2108.21,399.72 2111.46,405.24 2114.70,410.59 2117.94,415.79 2121.18,420.83 2124.42,425.72 2127.66,430.44 2130.91,435.01 2134.15,439.42 2137.39,443.67 2140.63,447.76 2143.87,451.71 2147.11,455.49 2150.36,459.13 2153.60,462.62 2156.84,465.97 2160.08,469.17 2163.32,472.23 2166.57,475.16 2169.81,477.95 2173.05,480.62 2176.29,483.15 2179.53,485.57 2182.77,487.87 2186.02,490.05 2189.26,492.12 2192.50,494.08 2195.74,495.94 2198.98,497.69 2202.22,499.35 2205.47,500.92 2208.71,502.40 2211.95,503.80 2215.19,505.11 2218.43,506.35 2221.67,507.51 2224.92,508.60 2228.16,509.63 2231.40,510.59 2234.64,511.48 2237.88,512.32 2241.13,513.11 2244.37,513.84 2247.61,514.53 2250.85,515.17 2254.09,515.76 2257.33,516.31 2260.58,516.83 2263.82,517.30 2267.06,517.74 2270.30,518.16 2273.54,518.54 2276.78,518.89 2280.03,519.21 2283.27,519.51 2286.51,519.79 2289.75,520.04 2292.99,520.28 2296.23,520.50 2299.48,520.69 2302.72,520.88 2305.96,521.05 2309.20,521.20 2312.44,521.34 2315.69,521.47 2318.93,521.59 2322.17,521.69 2325.41,521.79 2328.65,521.88 2331.89,521.96 2335.14,522.04 2338.38,522.11 2341.62,522.17 2344.86,522.22 2348.10,522.27 2351.34,522.32 2354.59,522.36"/>
<rect x="1745.30" y="69.70" width="638.30" height="474.60" fill="none" stroke="#cccccc" stroke-width="2.2"/>
<g font-size="19.3"><text transform="matrix(1 0 0 0.930 1774.31 574.62)" text-anchor="middle">0.0</text><text transform="matrix(1 0 0 0.930 1855.36 574.62)" text-anchor="middle">2.5</text><text transform="matrix(1 0 0 0.930 1936.40 574.62)" text-anchor="middle">5.0</text><text transform="matrix(1 0 0 0.930 2017.44 574.62)" text-anchor="middle">7.5</text><text transform="matrix(1 0 0 0.930 2098.49 574.62)" text-anchor="middle">10.0</text><text transform="matrix(1 0 0 0.930 2179.53 574.62)" text-anchor="middle">12.5</text><text transform="matrix(1 0 0 0.930 2260.58 574.62)" text-anchor="middle">15.0</text><text transform="matrix(1 0 0 0.930 2341.62 574.62)" text-anchor="middle">17.5</text><text transform="matrix(1 0 0 0.930 1727.30 529.14)" text-anchor="end">0.00</text><text transform="matrix(1 0 0 0.930 1727.30 469.63)" text-anchor="end">0.02</text><text transform="matrix(1 0 0 0.930 1727.30 410.12)" text-anchor="end">0.04</text><text transform="matrix(1 0 0 0.930 1727.30 350.61)" text-anchor="end">0.06</text><text transform="matrix(1 0 0 0.930 1727.30 291.09)" text-anchor="end">0.08</text><text transform="matrix(1 0 0 0.930 1727.30 231.58)" text-anchor="end">0.10</text><text transform="matrix(1 0 0 0.930 1727.30 172.07)" text-anchor="end">0.12</text><text transform="matrix(1 0 0 0.930 1727.30 112.56)" text-anchor="end">0.14</text></g>
<text transform="matrix(1 0 0 0.930 2064.45 601.30)" font-size="21.2" text-anchor="middle">wind speed m/s</text>
<text x="2064.45" y="0.00" font-size="45.5" text-anchor="middle" transform="translate(0 57.80) scale(1 1.05)">Tower 1 70m</text>
<g><rect x="2249.30" y="79.40" width="125.00" height="115.40" rx="3.8" ry="3.8" fill="#fff" fill-opacity="0.8" stroke="#cccccc" stroke-width="1.75"/><line x1="2257.00" y1="94.80" x2="2295.40" y2="94.80" stroke="#008000" stroke-width="3.40" stroke-linecap="square"/><text transform="matrix(1 0 0 0.930 2311.30 99.72)" font-size="19.3">Test 1</text><line x1="2257.00" y1="122.75" x2="2295.40" y2="122.75" stroke="#800080" stroke-width="3.40" stroke-linecap="square"/><text transform="matrix(1 0 0 0.930 2311.30 127.67)" font-size="19.3">Test 3</text><line x1="2257.00" y1="150.70" x2="2295.40" y2="150.70" stroke="#ff0000" stroke-width="3.40" stroke-linecap="square"/><text transform="matrix(1 0 0 0.930 2311.30 155.62)" font-size="19.3">Test 2</text><line x1="2257.00" y1="178.65" x2="2295.40" y2="178.65" stroke="#0000ff" stroke-width="3.40" stroke-linecap="square"/><text transform="matrix(1 0 0 0.930 2311.30 183.57)" font-size="19.3">obs</text></g>
<g stroke="#d0d0d0" stroke-width="2.1"><line x1="126.81" y1="687.60" x2="126.81" y2="1162.20"/><line x1="207.86" y1="687.60" x2="207.86" y2="1162.20"/><line x1="288.90" y1="687.60" x2="288.90" y2="1162.20"/><line x1="369.94" y1="687.60" x2="369.94" y2="1162.20"/><line x1="450.99" y1="687.60" x2="450.99" y2="1162.20"/><line x1="532.03" y1="687.60" x2="532.03" y2="1162.20"/><line x1="613.08" y1="687.60" x2="613.08" y2="1162.20"/><line x1="694.12" y1="687.60" x2="694.12" y2="1162.20"/><line x1="97.80" y1="1140.63" x2="736.10" y2="1140.63"/><line x1="97.80" y1="1037.36" x2="736.10" y2="1037.36"/><line x1="97.80" y1="934.09" x2="736.10" y2="934.09"/><line x1="97.80" y1="830.82" x2="736.10" y2="830.82"/><line x1="97.80" y1="727.55" x2="736.10" y2="727.55"/></g>
<polyline fill="none" stroke="#008000" stroke-width="3.40" stroke-linejoin="round" stroke-linecap="square" points="126.81,1140.63 130.06,1133.35 133.30,1122.68 136.54,1110.22 139.78,1096.47 143.02,1081.72 146.26,1066.17 149.51,1049.98 152.75,1033.27 155.99,1016.18 159.23,998.82 162.47,981.27 165.71,963.66 168.96,946.06 172.20,928.56 175.44,911.27 178.68,894.26 181.92,877.61 185.17,861.41 188.41,845.72 191.65,830.62 194.89,816.18 198.13,802.46 201.37,789.53 204.62,777.42 207.86,766.20 211.10,755.90 214.34,746.57 217.58,738.24 220.82,730.93 224.07,724.66 227.31,719.45 230.55,715.30 233.79,712.23 237.03,710.22 240.27,709.26 243.52,709.34 246.76,710.44 250.00,712.53 253.24,715.59 256.48,719.57 259.73,724.44 262.97,730.15 266.21,736.66 269.45,743.91 272.69,751.86 275.93,760.45 279.18,769.62 282.42,779.32 285.66,789.48 288.90,800.05 292.14,810.97 295.38,822.18 298.63,833.63 301.87,845.25 305.11,857.00 308.35,868.82 311.59,880.65 314.83,892.46 318.08,904.20 321.32,915.82 324.56,927.29 327.80,938.56 331.04,949.61 334.29,960.41 337.53,970.92 340.77,981.13 344.01,991.02 347.25,1000.56 350.49,1009.75 353.74,1018.57 356.98,1027.01 360.22,1035.08 363.46,1042.76 366.70,1050.06 369.94,1056.97 373.19,1063.51 376.43,1069.67 379.67,1075.46 382.91,1080.90 386.15,1085.99 389.40,1090.74 392.64,1095.17 395.88,1099.29 399.12,1103.10 402.36,1106.63 405.60,1109.89 408.85,1112.89 412.09,1115.64 415.33,1118.17 418.57,1120.48 421.81,1122.58 425.05,1124.50 428.30,1126.25 431.54,1127.83 434.78,1129.25 438.02,1130.54 441.26,1131.70 444.50,1132.75 447.75,1133.68 450.99,1134.52 454.23,1135.26 457.47,1135.93 460.71,1136.52 463.96,1137.04 467.20,1137.50 470.44,1137.91 473.68,1138.27 476.92,1138.59 480.16,1138.86 483.41,1139.11 486.65,1139.32 489.89,1139.50 493.13,1139.66 496.37,1139.80 499.61,1139.92 502.86,1140.03 506.10,1140.12 509.34,1140.20 512.58,1140.26 515.82,1140.32 519.07,1140.37 522.31,1140.41 525.55,1140.44 528.79,1140.47 532.03,1140.50 535.27,1140.52 538.52,1140.54 541.76,1140.55 545.00,1140.57 548.24,1140.58 551.48,1140.58 554.72,1140.59 557.97,1140.60 561.21,1140.60 564.45,1140.61 567.69,1140.61 570.93,1140.61 574.17,1140.62 577.42,1140.62 580.66,1140.62 583.90,1140.62 587.14,1140.62 590.38,1140.62 593.63,1140.62 596.87,1140.62 600.11,1140.63 603.35,1140.63 606.59,1140.63 609.83,1140.63 613.08,1140.63 616.32,1140.63 619.56,1140.63 622.80,1140.63 626.04,1140.63 629.28,1140.63 632.53,1140.63 635.77,1140.63 639.01,1140.63 642.25,1140.63 645.49,1140.63 648.73,1140.63 651.98,1140.63 655.22,1140.63 658.46,1140.63 661.70,1140.63 664.94,1140.63 668.19,1140.63 671.43,1140.63 674.67,1140.63 677.91,1140.63 681.15,1140.63 684.39,1140.63 687.64,1140.63 690.88,1140.63 694.12,1140.63 697.36,1140.63 700.60,1140.63 703.84,1140.63 707.09,1140.63"/>
<polyline fill="none" stroke="#800080" stroke-width="3.40" stroke-linejoin="round" stroke-linecap="square" points="126.81,1140.63 130.06,1130.76 133.30,1117.52 136.54,1102.65 139.78,1086.66 143.02,1069.86 146.26,1052.43 149.51,1034.55 152.75,1016.34 155.99,997.94 159.23,979.45 162.47,960.97 165.71,942.61 168.96,924.46 172.20,906.61 175.44,889.14 178.68,872.14 181.92,855.67 185.17,839.82 188.41,824.65 191.65,810.23 194.89,796.61 198.13,783.84 201.37,771.98 204.62,761.07 207.86,751.14 211.10,742.23 214.34,734.36 217.58,727.54 220.82,721.80 224.07,717.13 227.31,713.54 230.55,711.03 233.79,709.58 237.03,709.17 240.27,709.79 243.52,711.42 246.76,714.01 250.00,717.53 253.24,721.94 256.48,727.21 259.73,733.28 262.97,740.10 266.21,747.63 269.45,755.80 272.69,764.57 275.93,773.88 279.18,783.67 282.42,793.88 285.66,804.46 288.90,815.35 292.14,826.49 295.38,837.83 298.63,849.32 301.87,860.90 305.11,872.52 308.35,884.15 311.59,895.72 314.83,907.21 318.08,918.57 321.32,929.77 324.56,940.77 327.80,951.55 331.04,962.07 334.29,972.31 337.53,982.25 340.77,991.88 344.01,1001.17 347.25,1010.12 350.49,1018.72 353.74,1026.95 356.98,1034.82 360.22,1042.33 363.46,1049.46 366.70,1056.23 369.94,1062.63 373.19,1068.68 376.43,1074.38 379.67,1079.74 382.91,1084.76 386.15,1089.46 389.40,1093.85 392.64,1097.94 395.88,1101.74 399.12,1105.27 402.36,1108.53 405.60,1111.55 408.85,1114.33 412.09,1116.88 415.33,1119.23 418.57,1121.38 421.81,1123.34 425.05,1125.13 428.30,1126.76 431.54,1128.25 434.78,1129.59 438.02,1130.80 441.26,1131.90 444.50,1132.89 447.75,1133.78 450.99,1134.58 454.23,1135.29 457.47,1135.93 460.71,1136.50 463.96,1137.01 467.20,1137.46 470.44,1137.86 473.68,1138.21 476.92,1138.52 480.16,1138.80 483.41,1139.04 486.65,1139.25 489.89,1139.44 493.13,1139.60 496.37,1139.74 499.61,1139.87 502.86,1139.98 506.10,1140.07 509.34,1140.15 512.58,1140.22 515.82,1140.28 519.07,1140.33 522.31,1140.38 525.55,1140.41 528.79,1140.45 532.03,1140.48 535.27,1140.50 538.52,1140.52 541.76,1140.54 545.00,1140.55 548.24,1140.56 551.48,1140.57 554.72,1140.58 557.97,1140.59 561.21,1140.60 564.45,1140.60 567.69,1140.61 570.93,1140.61 574.17,1140.61 577.42,1140.62 580.66,1140.62 583.90,1140.62 587.14,1140.62 590.38,1140.62 593.63,1140.62 596.87,1140.62 600.11,1140.62 603.35,1140.62 606.59,1140.63 609.83,1140.63 613.08,1140.63 616.32,1140.63 619.56,1140.63 622.80,1140.63 626.04,1140.63 629.28,1140.63 632.53,1140.63 635.77,1140.63 639.01,1140.63 642.25,1140.63 645.49,1140.63 648.73,1140.63 651.98,1140.63 655.22,1140.63 658.46,1140.63 661.70,1140.63 664.94,1140.63 668.19,1140.63 671.43,1140.63 674.67,1140.63 677.91,1140.63 681.15,1140.63 684.39,1140.63 687.64,1140.63 690.88,1140.63 694.12,1140.63 697.36,1140.63 700.60,1140.63 703.84,1140.63 707.09,1140.63"/>
<polyline fill="none" stroke="#ff0000" stroke-width="3.40" stroke-linejoin="round" stroke-linecap="square" points="126.81,1140.63 130.06,1119.74 133.30,1097.80 136.54,1075.56 139.78,1053.24 143.02,1030.99 146.26,1008.92 149.51,987.15 152.75,965.77 155.99,944.86 159.23,924.51 162.47,904.79 165.71,885.77 168.96,867.52 172.20,850.09 175.44,833.55 178.68,817.93 181.92,803.30 185.17,789.67 188.41,777.10 191.65,765.59 194.89,755.18 198.13,745.88 201.37,737.70 204.62,730.64 207.86,724.71 211.10,719.89 214.34,716.17 217.58,713.54 220.82,711.97 224.07,711.44 227.31,711.92 230.55,713.37 233.79,715.76 237.03,719.04 240.27,723.18 243.52,728.12 246.76,733.82 250.00,740.23 253.24,747.30 256.48,754.97 259.73,763.20 262.97,771.92 266.21,781.09 269.45,790.66 272.69,800.56 275.93,810.75 279.18,821.19 282.42,831.81 285.66,842.58 288.90,853.45 292.14,864.38 295.38,875.32 298.63,886.23 301.87,897.08 305.11,907.84 308.35,918.47 311.59,928.95 314.83,939.24 318.08,949.33 321.32,959.19 324.56,968.80 327.80,978.15 331.04,987.21 334.29,995.99 337.53,1004.47 340.77,1012.64 344.01,1020.50 347.25,1028.04 350.49,1035.26 353.74,1042.16 356.98,1048.74 360.22,1055.01 363.46,1060.96 366.70,1066.60 369.94,1071.95 373.19,1077.00 376.43,1081.76 379.67,1086.24 382.91,1090.45 386.15,1094.40 389.40,1098.10 392.64,1101.56 395.88,1104.78 399.12,1107.79 402.36,1110.58 405.60,1113.18 408.85,1115.59 412.09,1117.81 415.33,1119.87 418.57,1121.77 421.81,1123.52 425.05,1125.12 428.30,1126.60 431.54,1127.95 434.78,1129.19 438.02,1130.32 441.26,1131.35 444.50,1132.29 447.75,1133.15 450.99,1133.92 454.23,1134.63 457.47,1135.26 460.71,1135.84 463.96,1136.36 467.20,1136.83 470.44,1137.25 473.68,1137.63 476.92,1137.97 480.16,1138.27 483.41,1138.55 486.65,1138.79 489.89,1139.01 493.13,1139.20 496.37,1139.37 499.61,1139.52 502.86,1139.66 506.10,1139.78 509.34,1139.89 512.58,1139.98 515.82,1140.06 519.07,1140.14 522.31,1140.20 525.55,1140.26 528.79,1140.30 532.03,1140.35 535.27,1140.39 538.52,1140.42 541.76,1140.45 545.00,1140.47 548.24,1140.49 551.48,1140.51 554.72,1140.53 557.97,1140.54 561.21,1140.55 564.45,1140.57 567.69,1140.57 570.93,1140.58 574.17,1140.59 577.42,1140.59 580.66,1140.60 583.90,1140.60 587.14,1140.61 590.38,1140.61 593.63,1140.61 596.87,1140.62 600.11,1140.62 603.35,1140.62 606.59,1140.62 609.83,1140.62 613.08,1140.62 616.32,1140.62 619.56,1140.62 622.80,1140.62 626.04,1140.62 629.28,1140.63 632.53,1140.63 635.77,1140.63 639.01,1140.63 642.25,1140.63 645.49,1140.63 648.73,1140.63 651.98,1140.63 655.22,1140.63 658.46,1140.63 661.70,1140.63 664.94,1140.63 668.19,1140.63 671.43,1140.63 674.67,1140.63 677.91,1140.63 681.15,1140.63 684.39,1140.63 687.64,1140.63 690.88,1140.63 694.12,1140.63 697.36,1140.63 700.60,1140.63 703.84,1140.63 707.09,1140.63"/>
<polyline fill="none" stroke="#0000ff" stroke-width="3.40" stroke-linejoin="round" stroke-linecap="square" points="126.81,1140.63 130.06,1060.03 133.30,1025.87 136.54,1000.00 139.78,978.68 143.02,960.43 146.26,944.48 149.51,930.40 152.75,917.86 155.99,906.66 159.23,896.65 162.47,887.69 165.71,879.68 168.96,872.56 172.20,866.25 175.44,860.68 178.68,855.82 181.92,851.61 185.17,848.01 188.41,844.99 191.65,842.52 194.89,840.55 198.13,839.06 201.37,838.03 204.62,837.42 207.86,837.22 211.10,837.40 214.34,837.94 217.58,838.81 220.82,840.00 224.07,841.49 227.31,843.26 230.55,845.30 233.79,847.57 237.03,850.08 240.27,852.80 243.52,855.72 246.76,858.82 250.00,862.09 253.24,865.52 256.48,869.09 259.73,872.79 262.97,876.61 266.21,880.54 269.45,884.57 272.69,888.68 275.93,892.87 279.18,897.13 282.42,901.45 285.66,905.81 288.90,910.22 292.14,914.66 295.38,919.12 298.63,923.61 301.87,928.10 305.11,932.60 308.35,937.10 311.59,941.59 314.83,946.07 318.08,950.53 321.32,954.97 324.56,959.38 327.80,963.76 331.04,968.11 334.29,972.42 337.53,976.68 340.77,980.90 344.01,985.07 347.25,989.19 350.49,993.25 353.74,997.26 356.98,1001.21 360.22,1005.11 363.46,1008.93 366.70,1012.70 369.94,1016.40 373.19,1020.04 376.43,1023.61 379.67,1027.11 382.91,1030.54 386.15,1033.90 389.40,1037.20 392.64,1040.42 395.88,1043.58 399.12,1046.66 402.36,1049.68 405.60,1052.63 408.85,1055.50 412.09,1058.31 415.33,1061.05 418.57,1063.72 421.81,1066.32 425.05,1068.86 428.30,1071.32 431.54,1073.73 434.78,1076.07 438.02,1078.34 441.26,1080.55 444.50,1082.70 447.75,1084.78 450.99,1086.81 454.23,1088.78 457.47,1090.68 460.71,1092.54 463.96,1094.33 467.20,1096.07 470.44,1097.75 473.68,1099.39 476.92,1100.97 480.16,1102.49 483.41,1103.97 486.65,1105.40 489.89,1106.79 493.13,1108.13 496.37,1109.42 499.61,1110.67 502.86,1111.87 506.10,1113.03 509.34,1114.16 512.58,1115.24 515.82,1116.28 519.07,1117.29 522.31,1118.26 525.55,1119.20 528.79,1120.10 532.03,1120.96 535.27,1121.80 538.52,1122.60 541.76,1123.38 545.00,1124.12 548.24,1124.84 551.48,1125.52 554.72,1126.18 557.97,1126.82 561.21,1127.43 564.45,1128.02 567.69,1128.58 570.93,1129.12 574.17,1129.64 577.42,1130.13 580.66,1130.61 583.90,1131.07 587.14,1131.51 590.38,1131.93 593.63,1132.33 596.87,1132.71 600.11,1133.08 603.35,1133.43 606.59,1133.77 609.83,1134.10 613.08,1134.41 616.32,1134.70 619.56,1134.99 622.80,1135.26 626.04,1135.51 629.28,1135.76 632.53,1136.00 635.77,1136.22 639.01,1136.44 642.25,1136.64 645.49,1136.84 648.73,1137.03 651.98,1137.21 655.22,1137.38 658.46,1137.54 661.70,1137.70 664.94,1137.84 668.19,1137.98 671.43,1138.12 674.67,1138.25 677.91,1138.37 681.15,1138.48 684.39,1138.59 687.64,1138.70 690.88,1138.80 694.12,1138.89 697.36,1138.98 700.60,1139.07 703.84,1139.15 707.09,1139.23"/>
<rect x="97.80" y="687.60" width="638.30" height="474.60" fill="none" stroke="#cccccc" stroke-width="2.2"/>
<g font-size="19.3"><text transform="matrix(1 0 0 0.930 126.81 1192.52)" text-anchor="middle">0.0</text><text transform="matrix(1 0 0 0.930 207.86 1192.52)" text-anchor="middle">2.5</text><text transform="matrix(1 0 0 0.930 288.90 1192.52)" text-anchor="middle">5.0</text><text transform="matrix(1 0 0 0.930 369.94 1192.52)" text-anchor="middle">7.5</text><text transform="matrix(1 0 0 0.930 450.99 1192.52)" text-anchor="middle">10.0</text><text transform="matrix(1 0 0 0.930 532.03 1192.52)" text-anchor="middle">12.5</text><text transform="matrix(1 0 0 0.930 613.08 1192.52)" text-anchor="middle">15.0</text><text transform="matrix(1 0 0 0.930 694.12 1192.52)" text-anchor="middle">17.5</text><text transform="matrix(1 0 0 0.930 79.80 1147.04)" text-anchor="end">0.00</text><text transform="matrix(1 0 0 0.930 79.80 1043.77)" text-anchor="end">0.05</text><text transform="matrix(1 0 0 0.930 79.80 940.50)" text-anchor="end">0.10</text><text transform="matrix(1 0 0 0.930 79.80 837.24)" text-anchor="end">0.15</text><text transform="matrix(1 0 0 0.930 79.80 733.97)" text-anchor="end">0.20</text></g>
<text transform="matrix(1 0 0 0.930 416.95 1219.20)" font-size="21.2" text-anchor="middle">wind speed m/s</text>
<text x="416.95" y="0.00" font-size="45.5" text-anchor="middle" transform="translate(0 675.70) scale(1 1.05)">Tower 2 10m</text>
<g><rect x="601.80" y="697.30" width="125.00" height="115.40" rx="3.8" ry="3.8" fill="#fff" fill-opacity="0.8" stroke="#cccccc" stroke-width="1.75"/><line x1="609.50" y1="712.70" x2="647.90" y2="712.70" stroke="#008000" stroke-width="3.40" stroke-linecap="square"/><text transform="matrix(1 0 0 0.930 663.80 717.62)" font-size="19.3">Test 1</text><line x1="609.50" y1="740.65" x2="647.90" y2="740.65" stroke="#800080" stroke-width="3.40" stroke-linecap="square"/><text transform="matrix(1 0 0 0.930 663.80 745.57)" font-size="19.3">Test 3</text><line x1="609.50" y1="768.60" x2="647.90" y2="768.60" stroke="#ff0000" stroke-width="3.40" stroke-linecap="square"/><text transform="matrix(1 0 0 0.930 663.80 773.52)" font-size="19.3">Test 2</text><line x1="609.50" y1="796.55" x2="647.90" y2="796.55" stroke="#0000ff" stroke-width="3.40" stroke-linecap="square"/><text transform="matrix(1 0 0 0.930 663.80 801.47)" font-size="19.3">obs</text></g>
<g stroke="#d0d0d0" stroke-width="2.1"><line x1="950.56" y1="687.60" x2="950.56" y2="1162.20"/><line x1="1031.61" y1="687.60" x2="1031.61" y2="1162.20"/><line x1="1112.65" y1="687.60" x2="1112.65" y2="1162.20"/><line x1="1193.69" y1="687.60" x2="1193.69" y2="1162.20"/><line x1="1274.74" y1="687.60" x2="1274.74" y2="1162.20"/><line x1="1355.78" y1="687.60" x2="1355.78" y2="1162.20"/><line x1="1436.83" y1="687.60" x2="1436.83" y2="1162.20"/><line x1="1517.87" y1="687.60" x2="1517.87" y2="1162.20"/><line x1="921.55" y1="1140.63" x2="1559.85" y2="1140.63"/><line x1="921.55" y1="1086.39" x2="1559.85" y2="1086.39"/><line x1="921.55" y1="1032.15" x2="1559.85" y2="1032.15"/><line x1="921.55" y1="977.91" x2="1559.85" y2="977.91"/><line x1="921.55" y1="923.67" x2="1559.85" y2="923.67"/><line x1="921.55" y1="869.43" x2="1559.85" y2="869.43"/><line x1="921.55" y1="815.19" x2="1559.85" y2="815.19"/><line x1="921.55" y1="760.95" x2="1559.85" y2="760.95"/><line x1="921.55" y1="706.71" x2="1559.85" y2="706.71"/></g>
<polyline fill="none" stroke="#008000" stroke-width="3.40" stroke-linejoin="round" stroke-linecap="square" points="950.56,1140.63 953.81,1138.70 957.05,1135.10 960.29,1130.39 963.53,1124.79 966.77,1118.41 970.01,1111.34 973.26,1103.65 976.50,1095.40 979.74,1086.63 982.98,1077.38 986.22,1067.71 989.46,1057.64 992.71,1047.21 995.95,1036.46 999.19,1025.42 1002.43,1014.12 1005.67,1002.61 1008.92,990.91 1012.16,979.05 1015.40,967.08 1018.64,955.03 1021.88,942.92 1025.12,930.80 1028.37,918.70 1031.61,906.65 1034.85,894.69 1038.09,882.86 1041.33,871.17 1044.57,859.68 1047.82,848.40 1051.06,837.38 1054.30,826.64 1057.54,816.22 1060.78,806.14 1064.02,796.44 1067.27,787.14 1070.51,778.26 1073.75,769.83 1076.99,761.88 1080.23,754.43 1083.48,747.49 1086.72,741.09 1089.96,735.24 1093.20,729.96 1096.44,725.25 1099.68,721.14 1102.93,717.62 1106.17,714.71 1109.41,712.41 1112.65,710.72 1115.89,709.64 1119.13,709.17 1122.38,709.31 1125.62,710.05 1128.86,711.38 1132.10,713.30 1135.34,715.78 1138.58,718.82 1141.83,722.40 1145.07,726.51 1148.31,731.12 1151.55,736.21 1154.79,741.77 1158.04,747.77 1161.28,754.19 1164.52,760.99 1167.76,768.17 1171.00,775.68 1174.24,783.51 1177.49,791.62 1180.73,799.98 1183.97,808.58 1187.21,817.38 1190.45,826.35 1193.69,835.47 1196.94,844.70 1200.18,854.03 1203.42,863.42 1206.66,872.84 1209.90,882.29 1213.15,891.72 1216.39,901.11 1219.63,910.45 1222.87,919.71 1226.11,928.88 1229.35,937.93 1232.60,946.84 1235.84,955.60 1239.08,964.20 1242.32,972.62 1245.56,980.84 1248.80,988.87 1252.05,996.67 1255.29,1004.26 1258.53,1011.62 1261.77,1018.74 1265.01,1025.62 1268.25,1032.26 1271.50,1038.65 1274.74,1044.79 1277.98,1050.68 1281.22,1056.32 1284.46,1061.71 1287.71,1066.86 1290.95,1071.77 1294.19,1076.44 1297.43,1080.87 1300.67,1085.07 1303.91,1089.04 1307.16,1092.80 1310.40,1096.35 1313.64,1099.68 1316.88,1102.82 1320.12,1105.77 1323.36,1108.53 1326.61,1111.11 1329.85,1113.53 1333.09,1115.78 1336.33,1117.87 1339.57,1119.82 1342.82,1121.63 1346.06,1123.30 1349.30,1124.85 1352.54,1126.29 1355.78,1127.61 1359.02,1128.82 1362.27,1129.94 1365.51,1130.96 1368.75,1131.90 1371.99,1132.76 1375.23,1133.55 1378.47,1134.27 1381.72,1134.92 1384.96,1135.51 1388.20,1136.05 1391.44,1136.54 1394.68,1136.98 1397.92,1137.37 1401.17,1137.73 1404.41,1138.06 1407.65,1138.35 1410.89,1138.61 1414.13,1138.84 1417.38,1139.05 1420.62,1139.24 1423.86,1139.40 1427.10,1139.55 1430.34,1139.68 1433.58,1139.80 1436.83,1139.90 1440.07,1139.99 1443.31,1140.08 1446.55,1140.15 1449.79,1140.21 1453.03,1140.26 1456.28,1140.31 1459.52,1140.35 1462.76,1140.39 1466.00,1140.42 1469.24,1140.45 1472.48,1140.48 1475.73,1140.50 1478.97,1140.52 1482.21,1140.53 1485.45,1140.55 1488.69,1140.56 1491.94,1140.57 1495.18,1140.58 1498.42,1140.58 1501.66,1140.59 1504.90,1140.60 1508.14,1140.60 1511.39,1140.61 1514.63,1140.61 1517.87,1140.61 1521.11,1140.61 1524.35,1140.62 1527.59,1140.62 1530.84,1140.62"/>
<polyline fill="none" stroke="#800080" stroke-width="3.40" stroke-linejoin="round" stroke-linecap="square" points="950.56,1140.63 953.81,1137.47 957.05,1132.24 960.29,1125.77 963.53,1118.35 966.77,1110.13 970.01,1101.24 973.26,1091.75 976.50,1081.74 979.74,1071.26 982.98,1060.36 986.22,1049.11 989.46,1037.53 992.71,1025.68 995.95,1013.59 999.19,1001.32 1002.43,988.88 1005.67,976.33 1008.92,963.71 1012.16,951.04 1015.40,938.38 1018.64,925.75 1021.88,913.19 1025.12,900.74 1028.37,888.43 1031.61,876.30 1034.85,864.38 1038.09,852.70 1041.33,841.31 1044.57,830.22 1047.82,819.47 1051.06,809.09 1054.30,799.11 1057.54,789.55 1060.78,780.44 1064.02,771.80 1067.27,763.66 1070.51,756.03 1073.75,748.93 1076.99,742.38 1080.23,736.40 1083.48,731.00 1086.72,726.19 1089.96,721.97 1093.20,718.36 1096.44,715.36 1099.68,712.97 1102.93,711.19 1106.17,710.03 1109.41,709.47 1112.65,709.52 1115.89,710.17 1119.13,711.40 1122.38,713.20 1125.62,715.57 1128.86,718.49 1132.10,721.94 1135.34,725.90 1138.58,730.36 1141.83,735.29 1145.07,740.68 1148.31,746.50 1151.55,752.72 1154.79,759.33 1158.04,766.30 1161.28,773.60 1164.52,781.20 1167.76,789.09 1171.00,797.22 1174.24,805.58 1177.49,814.14 1180.73,822.87 1183.97,831.75 1187.21,840.75 1190.45,849.84 1193.69,858.99 1196.94,868.20 1200.18,877.42 1203.42,886.63 1206.66,895.83 1209.90,904.97 1213.15,914.05 1216.39,923.05 1219.63,931.94 1222.87,940.71 1226.11,949.34 1229.35,957.82 1232.60,966.14 1235.84,974.28 1239.08,982.24 1242.32,989.99 1245.56,997.54 1248.80,1004.88 1252.05,1012.00 1255.29,1018.90 1258.53,1025.56 1261.77,1031.99 1265.01,1038.19 1268.25,1044.16 1271.50,1049.88 1274.74,1055.38 1277.98,1060.63 1281.22,1065.66 1284.46,1070.46 1287.71,1075.03 1290.95,1079.38 1294.19,1083.51 1297.43,1087.43 1300.67,1091.14 1303.91,1094.65 1307.16,1097.96 1310.40,1101.09 1313.64,1104.03 1316.88,1106.79 1320.12,1109.39 1323.36,1111.82 1326.61,1114.10 1329.85,1116.23 1333.09,1118.21 1336.33,1120.06 1339.57,1121.78 1342.82,1123.38 1346.06,1124.86 1349.30,1126.24 1352.54,1127.51 1355.78,1128.68 1359.02,1129.77 1362.27,1130.76 1365.51,1131.68 1368.75,1132.52 1371.99,1133.30 1375.23,1134.00 1378.47,1134.65 1381.72,1135.24 1384.96,1135.78 1388.20,1136.27 1391.44,1136.72 1394.68,1137.12 1397.92,1137.49 1401.17,1137.82 1404.41,1138.12 1407.65,1138.39 1410.89,1138.64 1414.13,1138.86 1417.38,1139.06 1420.62,1139.23 1423.86,1139.39 1427.10,1139.54 1430.34,1139.66 1433.58,1139.78 1436.83,1139.88 1440.07,1139.97 1443.31,1140.05 1446.55,1140.12 1449.79,1140.18 1453.03,1140.24 1456.28,1140.29 1459.52,1140.33 1462.76,1140.37 1466.00,1140.40 1469.24,1140.43 1472.48,1140.46 1475.73,1140.48 1478.97,1140.50 1482.21,1140.52 1485.45,1140.53 1488.69,1140.55 1491.94,1140.56 1495.18,1140.57 1498.42,1140.58 1501.66,1140.58 1504.90,1140.59 1508.14,1140.59 1511.39,1140.60 1514.63,1140.60 1517.87,1140.61 1521.11,1140.61 1524.35,1140.61 1527.59,1140.61 1530.84,1140.62"/>
<polyline fill="none" stroke="#ff0000" stroke-width="3.40" stroke-linejoin="round" stroke-linecap="square" points="950.56,1140.63 953.81,1128.93 957.05,1115.43 960.29,1101.20 963.53,1086.50 966.77,1071.49 970.01,1056.26 973.26,1040.89 976.50,1025.46 979.74,1010.02 982.98,994.62 986.22,979.31 989.46,964.13 992.71,949.13 995.95,934.35 999.19,919.82 1002.43,905.58 1005.67,891.67 1008.92,878.11 1012.16,864.94 1015.40,852.18 1018.64,839.87 1021.88,828.03 1025.12,816.68 1028.37,805.84 1031.61,795.54 1034.85,785.80 1038.09,776.62 1041.33,768.03 1044.57,760.03 1047.82,752.64 1051.06,745.87 1054.30,739.71 1057.54,734.19 1060.78,729.29 1064.02,725.02 1067.27,721.38 1070.51,718.37 1073.75,715.98 1076.99,714.21 1080.23,713.04 1083.48,712.47 1086.72,712.49 1089.96,713.08 1093.20,714.23 1096.44,715.93 1099.68,718.15 1102.93,720.89 1106.17,724.12 1109.41,727.82 1112.65,731.97 1115.89,736.56 1119.13,741.55 1122.38,746.94 1125.62,752.69 1128.86,758.77 1132.10,765.18 1135.34,771.88 1138.58,778.86 1141.83,786.08 1145.07,793.52 1148.31,801.17 1151.55,808.99 1154.79,816.96 1158.04,825.07 1161.28,833.29 1164.52,841.59 1167.76,849.97 1171.00,858.39 1174.24,866.83 1177.49,875.29 1180.73,883.74 1183.97,892.16 1187.21,900.54 1190.45,908.86 1193.69,917.11 1196.94,925.26 1200.18,933.32 1203.42,941.27 1206.66,949.09 1209.90,956.78 1213.15,964.33 1216.39,971.72 1219.63,978.96 1222.87,986.03 1226.11,992.92 1229.35,999.64 1232.60,1006.18 1235.84,1012.53 1239.08,1018.70 1242.32,1024.67 1245.56,1030.45 1248.80,1036.04 1252.05,1041.43 1255.29,1046.64 1258.53,1051.65 1261.77,1056.46 1265.01,1061.09 1268.25,1065.54 1271.50,1069.79 1274.74,1073.87 1277.98,1077.77 1281.22,1081.49 1284.46,1085.04 1287.71,1088.43 1290.95,1091.65 1294.19,1094.71 1297.43,1097.63 1300.67,1100.39 1303.91,1103.01 1307.16,1105.48 1310.40,1107.83 1313.64,1110.04 1316.88,1112.13 1320.12,1114.11 1323.36,1115.96 1326.61,1117.71 1329.85,1119.35 1333.09,1120.89 1336.33,1122.34 1339.57,1123.69 1342.82,1124.96 1346.06,1126.15 1349.30,1127.25 1352.54,1128.29 1355.78,1129.25 1359.02,1130.15 1362.27,1130.99 1365.51,1131.76 1368.75,1132.48 1371.99,1133.15 1375.23,1133.77 1378.47,1134.35 1381.72,1134.88 1384.96,1135.37 1388.20,1135.82 1391.44,1136.24 1394.68,1136.62 1397.92,1136.98 1401.17,1137.30 1404.41,1137.60 1407.65,1137.88 1410.89,1138.13 1414.13,1138.36 1417.38,1138.57 1420.62,1138.77 1423.86,1138.94 1427.10,1139.10 1430.34,1139.25 1433.58,1139.38 1436.83,1139.51 1440.07,1139.62 1443.31,1139.72 1446.55,1139.81 1449.79,1139.89 1453.03,1139.97 1456.28,1140.03 1459.52,1140.10 1462.76,1140.15 1466.00,1140.20 1469.24,1140.25 1472.48,1140.29 1475.73,1140.32 1478.97,1140.36 1482.21,1140.39 1485.45,1140.41 1488.69,1140.44 1491.94,1140.46 1495.18,1140.48 1498.42,1140.49 1501.66,1140.51 1504.90,1140.52 1508.14,1140.53 1511.39,1140.54 1514.63,1140.55 1517.87,1140.56 1521.11,1140.57 1524.35,1140.58 1527.59,1140.58 1530.84,1140.59"/>
<polyline fill="none" stroke="#0000ff" stroke-width="3.40" stroke-linejoin="round" stroke-linecap="square" points="950.56,1140.63 953.81,1102.16 957.05,1076.44 960.29,1054.19 963.53,1034.03 966.77,1015.40 970.01,998.00 973.26,981.64 976.50,966.21 979.74,951.61 982.98,937.80 986.22,924.71 989.46,912.31 992.71,900.59 995.95,889.50 999.19,879.03 1002.43,869.17 1005.67,859.90 1008.92,851.20 1012.16,843.06 1015.40,835.47 1018.64,828.42 1021.88,821.89 1025.12,815.88 1028.37,810.38 1031.61,805.37 1034.85,800.84 1038.09,796.79 1041.33,793.19 1044.57,790.05 1047.82,787.35 1051.06,785.07 1054.30,783.21 1057.54,781.75 1060.78,780.69 1064.02,780.00 1067.27,779.69 1070.51,779.73 1073.75,780.12 1076.99,780.83 1080.23,781.87 1083.48,783.22 1086.72,784.86 1089.96,786.78 1093.20,788.97 1096.44,791.43 1099.68,794.13 1102.93,797.06 1106.17,800.21 1109.41,803.57 1112.65,807.14 1115.89,810.88 1119.13,814.81 1122.38,818.89 1125.62,823.13 1128.86,827.51 1132.10,832.02 1135.34,836.65 1138.58,841.38 1141.83,846.22 1145.07,851.15 1148.31,856.16 1151.55,861.24 1154.79,866.37 1158.04,871.57 1161.28,876.80 1164.52,882.07 1167.76,887.37 1171.00,892.69 1174.24,898.03 1177.49,903.37 1180.73,908.70 1183.97,914.03 1187.21,919.35 1190.45,924.64 1193.69,929.92 1196.94,935.16 1200.18,940.36 1203.42,945.52 1206.66,950.64 1209.90,955.71 1213.15,960.72 1216.39,965.68 1219.63,970.58 1222.87,975.41 1226.11,980.18 1229.35,984.88 1232.60,989.50 1235.84,994.05 1239.08,998.52 1242.32,1002.92 1245.56,1007.24 1248.80,1011.47 1252.05,1015.62 1255.29,1019.69 1258.53,1023.67 1261.77,1027.57 1265.01,1031.38 1268.25,1035.11 1271.50,1038.75 1274.74,1042.30 1277.98,1045.77 1281.22,1049.15 1284.46,1052.44 1287.71,1055.65 1290.95,1058.77 1294.19,1061.81 1297.43,1064.76 1300.67,1067.63 1303.91,1070.42 1307.16,1073.13 1310.40,1075.76 1313.64,1078.31 1316.88,1080.78 1320.12,1083.17 1323.36,1085.49 1326.61,1087.73 1329.85,1089.90 1333.09,1092.00 1336.33,1094.03 1339.57,1095.99 1342.82,1097.89 1346.06,1099.71 1349.30,1101.48 1352.54,1103.18 1355.78,1104.82 1359.02,1106.39 1362.27,1107.92 1365.51,1109.38 1368.75,1110.79 1371.99,1112.14 1375.23,1113.45 1378.47,1114.70 1381.72,1115.90 1384.96,1117.06 1388.20,1118.17 1391.44,1119.23 1394.68,1120.25 1397.92,1121.23 1401.17,1122.17 1404.41,1123.06 1407.65,1123.92 1410.89,1124.75 1414.13,1125.53 1417.38,1126.29 1420.62,1127.01 1423.86,1127.69 1427.10,1128.35 1430.34,1128.98 1433.58,1129.58 1436.83,1130.15 1440.07,1130.69 1443.31,1131.21 1446.55,1131.71 1449.79,1132.18 1453.03,1132.63 1456.28,1133.06 1459.52,1133.47 1462.76,1133.85 1466.00,1134.22 1469.24,1134.57 1472.48,1134.91 1475.73,1135.22 1478.97,1135.52 1482.21,1135.81 1485.45,1136.08 1488.69,1136.34 1491.94,1136.58 1495.18,1136.81 1498.42,1137.03 1501.66,1137.24 1504.90,1137.43 1508.14,1137.62 1511.39,1137.80 1514.63,1137.96 1517.87,1138.12 1521.11,1138.27 1524.35,1138.41 1527.59,1138.54 1530.84,1138.67"/>
<rect x="921.55" y="687.60" width="638.30" height="474.60" fill="none" stroke="#cccccc" stroke-width="2.2"/>
<g font-size="19.3"><text transform="matrix(1 0 0 0.930 950.56 1192.52)" text-anchor="middle">0.0</text><text transform="matrix(1 0 0 0.930 1031.61 1192.52)" text-anchor="middle">2.5</text><text transform="matrix(1 0 0 0.930 1112.65 1192.52)" text-anchor="middle">5.0</text><text transform="matrix(1 0 0 0.930 1193.69 1192.52)" text-anchor="middle">7.5</text><text transform="matrix(1 0 0 0.930 1274.74 1192.52)" text-anchor="middle">10.0</text><text transform="matrix(1 0 0 0.930 1355.78 1192.52)" text-anchor="middle">12.5</text><text transform="matrix(1 0 0 0.930 1436.83 1192.52)" text-anchor="middle">15.0</text><text transform="matrix(1 0 0 0.930 1517.87 1192.52)" text-anchor="middle">17.5</text><text transform="matrix(1 0 0 0.930 903.55 1147.04)" text-anchor="end">0.00</text><text transform="matrix(1 0 0 0.930 903.55 1092.80)" text-anchor="end">0.02</text><text transform="matrix(1 0 0 0.930 903.55 1038.56)" text-anchor="end">0.04</text><text transform="matrix(1 0 0 0.930 903.55 984.33)" text-anchor="end">0.06</text><text transform="matrix(1 0 0 0.930 903.55 930.09)" text-anchor="end">0.08</text><text transform="matrix(1 0 0 0.930 903.55 875.85)" text-anchor="end">0.10</text><text transform="matrix(1 0 0 0.930 903.55 821.61)" text-anchor="end">0.12</text><text transform="matrix(1 0 0 0.930 903.55 767.37)" text-anchor="end">0.14</text><text transform="matrix(1 0 0 0.930 903.55 713.13)" text-anchor="end">0.16</text></g>
<text transform="matrix(1 0 0 0.930 1240.70 1219.20)" font-size="21.2" text-anchor="middle">wind speed m/s</text>
<text x="1240.70" y="0.00" font-size="45.5" text-anchor="middle" transform="translate(0 675.70) scale(1 1.05)">Tower 2 50m</text>
<g><rect x="1425.55" y="697.30" width="125.00" height="115.40" rx="3.8" ry="3.8" fill="#fff" fill-opacity="0.8" stroke="#cccccc" stroke-width="1.75"/><line x1="1433.25" y1="712.70" x2="1471.65" y2="712.70" stroke="#008000" stroke-width="3.40" stroke-linecap="square"/><text transform="matrix(1 0 0 0.930 1487.55 717.62)" font-size="19.3">Test 1</text><line x1="1433.25" y1="740.65" x2="1471.65" y2="740.65" stroke="#800080" stroke-width="3.40" stroke-linecap="square"/><text transform="matrix(1 0 0 0.930 1487.55 745.57)" font-size="19.3">Test 3</text><line x1="1433.25" y1="768.60" x2="1471.65" y2="768.60" stroke="#ff0000" stroke-width="3.40" stroke-linecap="square"/><text transform="matrix(1 0 0 0.930 1487.55 773.52)" font-size="19.3">Test 2</text><line x1="1433.25" y1="796.55" x2="1471.65" y2="796.55" stroke="#0000ff" stroke-width="3.40" stroke-linecap="square"/><text transform="matrix(1 0 0 0.930 1487.55 801.47)" font-size="19.3">obs</text></g>
<g stroke="#d0d0d0" stroke-width="2.1"><line x1="1774.31" y1="687.60" x2="1774.31" y2="1162.20"/><line x1="1855.36" y1="687.60" x2="1855.36" y2="1162.20"/><line x1="1936.40" y1="687.60" x2="1936.40" y2="1162.20"/><line x1="2017.44" y1="687.60" x2="2017.44" y2="1162.20"/><line x1="2098.49" y1="687.60" x2="2098.49" y2="1162.20"/><line x1="2179.53" y1="687.60" x2="2179.53" y2="1162.20"/><line x1="2260.58" y1="687.60" x2="2260.58" y2="1162.20"/><line x1="2341.62" y1="687.60" x2="2341.62" y2="1162.20"/><line x1="1745.30" y1="1140.63" x2="2383.60" y2="1140.63"/><line x1="1745.30" y1="1081.72" x2="2383.60" y2="1081.72"/><line x1="1745.30" y1="1022.82" x2="2383.60" y2="1022.82"/><line x1="1745.30" y1="963.91" x2="2383.60" y2="963.91"/><line x1="1745.30" y1="905.01" x2="2383.60" y2="905.01"/><line x1="1745.30" y1="846.10" x2="2383.60" y2="846.10"/><line x1="1745.30" y1="787.19" x2="2383.60" y2="787.19"/><line x1="1745.30" y1="728.29" x2="2383.60" y2="728.29"/></g>
<polyline fill="none" stroke="#008000" stroke-width="3.40" stroke-linejoin="round" stroke-linecap="square" points="1774.31,1140.63 1777.56,1138.89 1780.80,1135.69 1784.04,1131.51 1787.28,1126.56 1790.52,1120.93 1793.76,1114.70 1797.01,1107.93 1800.25,1100.68 1803.49,1092.97 1806.73,1084.85 1809.97,1076.34 1813.21,1067.48 1816.46,1058.30 1819.70,1048.82 1822.94,1039.08 1826.18,1029.09 1829.42,1018.89 1832.67,1008.50 1835.91,997.95 1839.15,987.26 1842.39,976.46 1845.63,965.57 1848.87,954.63 1852.12,943.65 1855.36,932.66 1858.60,921.69 1861.84,910.77 1865.08,899.91 1868.32,889.15 1871.57,878.52 1874.81,868.03 1878.05,857.70 1881.29,847.58 1884.53,837.67 1887.77,828.01 1891.02,818.61 1894.26,809.50 1897.50,800.70 1900.74,792.23 1903.98,784.11 1907.23,776.36 1910.47,768.99 1913.71,762.03 1916.95,755.48 1920.19,749.37 1923.43,743.70 1926.68,738.49 1929.92,733.75 1933.16,729.49 1936.40,725.72 1939.64,722.43 1942.88,719.65 1946.13,717.37 1949.37,715.59 1952.61,714.31 1955.85,713.54 1959.09,713.27 1962.33,713.50 1965.58,714.22 1968.82,715.43 1972.06,717.12 1975.30,719.28 1978.54,721.89 1981.79,724.96 1985.03,728.47 1988.27,732.39 1991.51,736.73 1994.75,741.46 1997.99,746.56 2001.24,752.02 2004.48,757.83 2007.72,763.95 2010.96,770.38 2014.20,777.09 2017.44,784.06 2020.69,791.28 2023.93,798.71 2027.17,806.35 2030.41,814.17 2033.65,822.14 2036.90,830.25 2040.14,838.48 2043.38,846.80 2046.62,855.20 2049.86,863.66 2053.10,872.15 2056.35,880.66 2059.59,889.17 2062.83,897.67 2066.07,906.12 2069.31,914.53 2072.55,922.86 2075.80,931.12 2079.04,939.28 2082.28,947.32 2085.52,955.25 2088.76,963.04 2092.00,970.69 2095.25,978.19 2098.49,985.52 2101.73,992.69 2104.97,999.67 2108.21,1006.47 2111.46,1013.09 2114.70,1019.50 2117.94,1025.73 2121.18,1031.75 2124.42,1037.57 2127.66,1043.18 2130.91,1048.60 2134.15,1053.80 2137.39,1058.81 2140.63,1063.61 2143.87,1068.21 2147.11,1072.61 2150.36,1076.81 2153.60,1080.82 2156.84,1084.65 2160.08,1088.28 2163.32,1091.74 2166.57,1095.02 2169.81,1098.12 2173.05,1101.07 2176.29,1103.84 2179.53,1106.47 2182.77,1108.94 2186.02,1111.27 2189.26,1113.45 2192.50,1115.51 2195.74,1117.43 2198.98,1119.23 2202.22,1120.92 2205.47,1122.49 2208.71,1123.96 2211.95,1125.33 2215.19,1126.60 2218.43,1127.78 2221.67,1128.87 2224.92,1129.89 2228.16,1130.83 2231.40,1131.69 2234.64,1132.49 2237.88,1133.23 2241.13,1133.91 2244.37,1134.53 2247.61,1135.10 2250.85,1135.63 2254.09,1136.11 2257.33,1136.55 2260.58,1136.95 2263.82,1137.31 2267.06,1137.65 2270.30,1137.95 2273.54,1138.22 2276.78,1138.47 2280.03,1138.70 2283.27,1138.90 2286.51,1139.09 2289.75,1139.25 2292.99,1139.40 2296.23,1139.54 2299.48,1139.66 2302.72,1139.77 2305.96,1139.87 2309.20,1139.95 2312.44,1140.03 2315.69,1140.10 2318.93,1140.16 2322.17,1140.22 2325.41,1140.27 2328.65,1140.31 2331.89,1140.35 2335.14,1140.39 2338.38,1140.42 2341.62,1140.44 2344.86,1140.47 2348.10,1140.49 2351.34,1140.50 2354.59,1140.52"/>
<polyline fill="none" stroke="#800080" stroke-width="3.40" stroke-linejoin="round" stroke-linecap="square" points="1774.31,1140.63 1777.56,1137.91 1780.80,1133.38 1784.04,1127.78 1787.28,1121.34 1790.52,1114.21 1793.76,1106.47 1797.01,1098.21 1800.25,1089.48 1803.49,1080.33 1806.73,1070.80 1809.97,1060.93 1813.21,1050.76 1816.46,1040.32 1819.70,1029.65 1822.94,1018.77 1826.18,1007.72 1829.42,996.53 1832.67,985.22 1835.91,973.83 1839.15,962.39 1842.39,950.92 1845.63,939.45 1848.87,928.01 1852.12,916.62 1855.36,905.32 1858.60,894.13 1861.84,883.08 1865.08,872.19 1868.32,861.49 1871.57,851.01 1874.81,840.76 1878.05,830.77 1881.29,821.07 1884.53,811.68 1887.77,802.61 1891.02,793.89 1894.26,785.54 1897.50,777.57 1900.74,770.01 1903.98,762.86 1907.23,756.15 1910.47,749.89 1913.71,744.08 1916.95,738.75 1920.19,733.89 1923.43,729.52 1926.68,725.65 1929.92,722.28 1933.16,719.41 1936.40,717.05 1939.64,715.20 1942.88,713.86 1946.13,713.02 1949.37,712.69 1952.61,712.85 1955.85,713.51 1959.09,714.65 1962.33,716.27 1965.58,718.35 1968.82,720.90 1972.06,723.89 1975.30,727.31 1978.54,731.14 1981.79,735.38 1985.03,740.01 1988.27,745.01 1991.51,750.36 1994.75,756.05 1997.99,762.05 2001.24,768.35 2004.48,774.93 2007.72,781.76 2010.96,788.84 2014.20,796.13 2017.44,803.62 2020.69,811.28 2023.93,819.10 2027.17,827.06 2030.41,835.14 2033.65,843.31 2036.90,851.56 2040.14,859.86 2043.38,868.21 2046.62,876.57 2049.86,884.94 2053.10,893.30 2056.35,901.62 2059.59,909.90 2062.83,918.12 2066.07,926.26 2069.31,934.32 2072.55,942.27 2075.80,950.11 2079.04,957.83 2082.28,965.41 2085.52,972.85 2088.76,980.13 2092.00,987.26 2095.25,994.22 2098.49,1001.00 2101.73,1007.61 2104.97,1014.03 2108.21,1020.27 2111.46,1026.31 2114.70,1032.16 2117.94,1037.82 2121.18,1043.28 2124.42,1048.55 2127.66,1053.62 2130.91,1058.50 2134.15,1063.18 2137.39,1067.68 2140.63,1071.98 2143.87,1076.09 2147.11,1080.02 2150.36,1083.77 2153.60,1087.35 2156.84,1090.75 2160.08,1093.98 2163.32,1097.05 2166.57,1099.96 2169.81,1102.71 2173.05,1105.32 2176.29,1107.78 2179.53,1110.10 2182.77,1112.29 2186.02,1114.35 2189.26,1116.28 2192.50,1118.10 2195.74,1119.80 2198.98,1121.39 2202.22,1122.89 2205.47,1124.28 2208.71,1125.58 2211.95,1126.79 2215.19,1127.92 2218.43,1128.96 2221.67,1129.94 2224.92,1130.84 2228.16,1131.68 2231.40,1132.45 2234.64,1133.16 2237.88,1133.82 2241.13,1134.43 2244.37,1134.99 2247.61,1135.51 2250.85,1135.98 2254.09,1136.41 2257.33,1136.81 2260.58,1137.17 2263.82,1137.51 2267.06,1137.81 2270.30,1138.09 2273.54,1138.34 2276.78,1138.57 2280.03,1138.78 2283.27,1138.97 2286.51,1139.14 2289.75,1139.29 2292.99,1139.43 2296.23,1139.56 2299.48,1139.68 2302.72,1139.78 2305.96,1139.87 2309.20,1139.95 2312.44,1140.03 2315.69,1140.10 2318.93,1140.16 2322.17,1140.21 2325.41,1140.26 2328.65,1140.30 2331.89,1140.34 2335.14,1140.37 2338.38,1140.40 2341.62,1140.43 2344.86,1140.45 2348.10,1140.48 2351.34,1140.49 2354.59,1140.51"/>
<polyline fill="none" stroke="#ff0000" stroke-width="3.40" stroke-linejoin="round" stroke-linecap="square" points="1774.31,1140.63 1777.56,1129.73 1780.80,1117.19 1784.04,1103.95 1787.28,1090.27 1790.52,1076.30 1793.76,1062.11 1797.01,1047.78 1800.25,1033.36 1803.49,1018.91 1806.73,1004.47 1809.97,990.08 1813.21,975.77 1816.46,961.59 1819.70,947.57 1822.94,933.73 1826.18,920.11 1829.42,906.74 1832.67,893.65 1835.91,880.86 1839.15,868.40 1842.39,856.29 1845.63,844.55 1848.87,833.21 1852.12,822.28 1855.36,811.79 1858.60,801.75 1861.84,792.17 1865.08,783.08 1868.32,774.48 1871.57,766.39 1874.81,758.81 1878.05,751.76 1881.29,745.24 1884.53,739.25 1887.77,733.81 1891.02,728.92 1894.26,724.57 1897.50,720.76 1900.74,717.51 1903.98,714.79 1907.23,712.61 1910.47,710.97 1913.71,709.86 1916.95,709.26 1920.19,709.17 1923.43,709.59 1926.68,710.49 1929.92,711.87 1933.16,713.72 1936.40,716.02 1939.64,718.75 1942.88,721.91 1946.13,725.47 1949.37,729.42 1952.61,733.74 1955.85,738.42 1959.09,743.43 1962.33,748.76 1965.58,754.39 1968.82,760.30 1972.06,766.48 1975.30,772.89 1978.54,779.53 1981.79,786.37 1985.03,793.40 1988.27,800.60 1991.51,807.94 1994.75,815.42 1997.99,823.00 2001.24,830.68 2004.48,838.44 2007.72,846.26 2010.96,854.12 2014.20,862.01 2017.44,869.92 2020.69,877.82 2023.93,885.70 2027.17,893.56 2030.41,901.37 2033.65,909.13 2036.90,916.82 2040.14,924.44 2043.38,931.96 2046.62,939.39 2049.86,946.71 2053.10,953.92 2056.35,961.00 2059.59,967.96 2062.83,974.77 2066.07,981.45 2069.31,987.98 2072.55,994.36 2075.80,1000.58 2079.04,1006.64 2082.28,1012.55 2085.52,1018.28 2088.76,1023.86 2092.00,1029.27 2095.25,1034.51 2098.49,1039.58 2101.73,1044.48 2104.97,1049.22 2108.21,1053.79 2111.46,1058.20 2114.70,1062.44 2117.94,1066.53 2121.18,1070.45 2124.42,1074.22 2127.66,1077.83 2130.91,1081.29 2134.15,1084.61 2137.39,1087.78 2140.63,1090.80 2143.87,1093.69 2147.11,1096.45 2150.36,1099.08 2153.60,1101.58 2156.84,1103.96 2160.08,1106.21 2163.32,1108.36 2166.57,1110.39 2169.81,1112.32 2173.05,1114.14 2176.29,1115.87 2179.53,1117.50 2182.77,1119.04 2186.02,1120.49 2189.26,1121.86 2192.50,1123.15 2195.74,1124.36 2198.98,1125.50 2202.22,1126.57 2205.47,1127.58 2208.71,1128.52 2211.95,1129.40 2215.19,1130.23 2218.43,1131.00 2221.67,1131.72 2224.92,1132.39 2228.16,1133.02 2231.40,1133.61 2234.64,1134.15 2237.88,1134.66 2241.13,1135.13 2244.37,1135.57 2247.61,1135.98 2250.85,1136.36 2254.09,1136.71 2257.33,1137.03 2260.58,1137.33 2263.82,1137.61 2267.06,1137.86 2270.30,1138.10 2273.54,1138.31 2276.78,1138.52 2280.03,1138.70 2283.27,1138.87 2286.51,1139.03 2289.75,1139.17 2292.99,1139.30 2296.23,1139.42 2299.48,1139.53 2302.72,1139.63 2305.96,1139.72 2309.20,1139.81 2312.44,1139.89 2315.69,1139.96 2318.93,1140.02 2322.17,1140.08 2325.41,1140.13 2328.65,1140.18 2331.89,1140.22 2335.14,1140.26 2338.38,1140.30 2341.62,1140.33 2344.86,1140.36 2348.10,1140.39 2351.34,1140.41 2354.59,1140.44"/>
<polyline fill="none" stroke="#0000ff" stroke-width="3.40" stroke-linejoin="round" stroke-linecap="square" points="1774.31,1140.63 1777.56,1107.09 1780.80,1083.59 1784.04,1062.92 1787.28,1043.98 1790.52,1026.31 1793.76,1009.67 1797.01,993.91 1800.25,978.92 1803.49,964.64 1806.73,951.02 1809.97,938.03 1813.21,925.62 1816.46,913.79 1819.70,902.51 1822.94,891.77 1826.18,881.55 1829.42,871.85 1832.67,862.65 1835.91,853.95 1839.15,845.73 1842.39,838.00 1845.63,830.74 1848.87,823.94 1852.12,817.60 1855.36,811.72 1858.60,806.27 1861.84,801.26 1865.08,796.69 1868.32,792.53 1871.57,788.78 1874.81,785.44 1878.05,782.50 1881.29,779.94 1884.53,777.77 1887.77,775.96 1891.02,774.52 1894.26,773.43 1897.50,772.68 1900.74,772.27 1903.98,772.18 1907.23,772.41 1910.47,772.94 1913.71,773.76 1916.95,774.87 1920.19,776.25 1923.43,777.90 1926.68,779.80 1929.92,781.94 1933.16,784.32 1936.40,786.92 1939.64,789.73 1942.88,792.75 1946.13,795.96 1949.37,799.36 1952.61,802.92 1955.85,806.65 1959.09,810.54 1962.33,814.56 1965.58,818.72 1968.82,823.01 1972.06,827.42 1975.30,831.93 1978.54,836.53 1981.79,841.23 1985.03,846.01 1988.27,850.87 1991.51,855.78 1994.75,860.76 1997.99,865.78 2001.24,870.85 2004.48,875.95 2007.72,881.08 2010.96,886.23 2014.20,891.39 2017.44,896.56 2020.69,901.74 2023.93,906.91 2027.17,912.07 2030.41,917.22 2033.65,922.35 2036.90,927.45 2040.14,932.53 2043.38,937.57 2046.62,942.57 2049.86,947.54 2053.10,952.45 2056.35,957.32 2059.59,962.14 2062.83,966.90 2066.07,971.60 2069.31,976.24 2072.55,980.82 2075.80,985.33 2079.04,989.78 2082.28,994.15 2085.52,998.45 2088.76,1002.68 2092.00,1006.84 2095.25,1010.92 2098.49,1014.93 2101.73,1018.85 2104.97,1022.70 2108.21,1026.47 2111.46,1030.16 2114.70,1033.77 2117.94,1037.30 2121.18,1040.75 2124.42,1044.12 2127.66,1047.41 2130.91,1050.62 2134.15,1053.75 2137.39,1056.80 2140.63,1059.78 2143.87,1062.67 2147.11,1065.49 2150.36,1068.23 2153.60,1070.90 2156.84,1073.49 2160.08,1076.01 2163.32,1078.45 2166.57,1080.82 2169.81,1083.12 2173.05,1085.36 2176.29,1087.52 2179.53,1089.61 2182.77,1091.64 2186.02,1093.61 2189.26,1095.51 2192.50,1097.35 2195.74,1099.12 2198.98,1100.84 2202.22,1102.50 2205.47,1104.10 2208.71,1105.65 2211.95,1107.14 2215.19,1108.57 2218.43,1109.96 2221.67,1111.30 2224.92,1112.58 2228.16,1113.82 2231.40,1115.01 2234.64,1116.16 2237.88,1117.26 2241.13,1118.32 2244.37,1119.34 2247.61,1120.32 2250.85,1121.26 2254.09,1122.16 2257.33,1123.02 2260.58,1123.85 2263.82,1124.65 2267.06,1125.41 2270.30,1126.14 2273.54,1126.84 2276.78,1127.51 2280.03,1128.15 2283.27,1128.77 2286.51,1129.36 2289.75,1129.92 2292.99,1130.45 2296.23,1130.96 2299.48,1131.45 2302.72,1131.92 2305.96,1132.37 2309.20,1132.79 2312.44,1133.20 2315.69,1133.58 2318.93,1133.95 2322.17,1134.30 2325.41,1134.64 2328.65,1134.96 2331.89,1135.26 2335.14,1135.55 2338.38,1135.82 2341.62,1136.08 2344.86,1136.33 2348.10,1136.57 2351.34,1136.79 2354.59,1137.00"/>
<rect x="1745.30" y="687.60" width="638.30" height="474.60" fill="none" stroke="#cccccc" stroke-width="2.2"/>
<g font-size="19.3"><text transform="matrix(1 0 0 0.930 1774.31 1192.52)" text-anchor="middle">0.0</text><text transform="matrix(1 0 0 0.930 1855.36 1192.52)" text-anchor="middle">2.5</text><text transform="matrix(1 0 0 0.930 1936.40 1192.52)" text-anchor="middle">5.0</text><text transform="matrix(1 0 0 0.930 2017.44 1192.52)" text-anchor="middle">7.5</text><text transform="matrix(1 0 0 0.930 2098.49 1192.52)" text-anchor="middle">10.0</text><text transform="matrix(1 0 0 0.930 2179.53 1192.52)" text-anchor="middle">12.5</text><text transform="matrix(1 0 0 0.930 2260.58 1192.52)" text-anchor="middle">15.0</text><text transform="matrix(1 0 0 0.930 2341.62 1192.52)" text-anchor="middle">17.5</text><text transform="matrix(1 0 0 0.930 1727.30 1147.04)" text-anchor="end">0.00</text><text transform="matrix(1 0 0 0.930 1727.30 1088.14)" text-anchor="end">0.02</text><text transform="matrix(1 0 0 0.930 1727.30 1029.23)" text-anchor="end">0.04</text><text transform="matrix(1 0 0 0.930 1727.30 970.33)" text-anchor="end">0.06</text><text transform="matrix(1 0 0 0.930 1727.30 911.42)" text-anchor="end">0.08</text><text transform="matrix(1 0 0 0.930 1727.30 852.52)" text-anchor="end">0.10</text><text transform="matrix(1 0 0 0.930 1727.30 793.61)" text-anchor="end">0.12</text><text transform="matrix(1 0 0 0.930 1727.30 734.71)" text-anchor="end">0.14</text></g>
<text transform="matrix(1 0 0 0.930 2064.45 1219.20)" font-size="21.2" text-anchor="middle">wind speed m/s</text>
<text x="2064.45" y="0.00" font-size="45.5" text-anchor="middle" transform="translate(0 675.70) scale(1 1.05)">Tower 2 70m</text>
<g><rect x="2249.30" y="697.30" width="125.00" height="115.40" rx="3.8" ry="3.8" fill="#fff" fill-opacity="0.8" stroke="#cccccc" stroke-width="1.75"/><line x1="2257.00" y1="712.70" x2="2295.40" y2="712.70" stroke="#008000" stroke-width="3.40" stroke-linecap="square"/><text transform="matrix(1 0 0 0.930 2311.30 717.62)" font-size="19.3">Test 1</text><line x1="2257.00" y1="740.65" x2="2295.40" y2="740.65" stroke="#800080" stroke-width="3.40" stroke-linecap="square"/><text transform="matrix(1 0 0 0.930 2311.30 745.57)" font-size="19.3">Test 3</text><line x1="2257.00" y1="768.60" x2="2295.40" y2="768.60" stroke="#ff0000" stroke-width="3.40" stroke-linecap="square"/><text transform="matrix(1 0 0 0.930 2311.30 773.52)" font-size="19.3">Test 2</text><line x1="2257.00" y1="796.55" x2="2295.40" y2="796.55" stroke="#0000ff" stroke-width="3.40" stroke-linecap="square"/><text transform="matrix(1 0 0 0.930 2311.30 801.47)" font-size="19.3">obs</text></g>
<g stroke="#d0d0d0" stroke-width="2.1"><line x1="126.81" y1="1305.50" x2="126.81" y2="1780.10"/><line x1="207.86" y1="1305.50" x2="207.86" y2="1780.10"/><line x1="288.90" y1="1305.50" x2="288.90" y2="1780.10"/><line x1="369.94" y1="1305.50" x2="369.94" y2="1780.10"/><line x1="450.99" y1="1305.50" x2="450.99" y2="1780.10"/><line x1="532.03" y1="1305.50" x2="532.03" y2="1780.10"/><line x1="613.08" y1="1305.50" x2="613.08" y2="1780.10"/><line x1="694.12" y1="1305.50" x2="694.12" y2="1780.10"/><line x1="97.80" y1="1758.53" x2="736.10" y2="1758.53"/><line x1="97.80" y1="1704.68" x2="736.10" y2="1704.68"/><line x1="97.80" y1="1650.82" x2="736.10" y2="1650.82"/><line x1="97.80" y1="1596.97" x2="736.10" y2="1596.97"/><line x1="97.80" y1="1543.12" x2="736.10" y2="1543.12"/><line x1="97.80" y1="1489.27" x2="736.10" y2="1489.27"/><line x1="97.80" y1="1435.42" x2="736.10" y2="1435.42"/><line x1="97.80" y1="1381.57" x2="736.10" y2="1381.57"/><line x1="97.80" y1="1327.72" x2="736.10" y2="1327.72"/></g>
<polyline fill="none" stroke="#008000" stroke-width="3.40" stroke-linejoin="round" stroke-linecap="square" points="126.81,1758.53 130.06,1753.03 133.30,1744.46 136.54,1734.16 139.78,1722.57 143.02,1709.95 146.26,1696.48 149.51,1682.30 152.75,1667.51 155.99,1652.24 159.23,1636.56 162.47,1620.59 165.71,1604.39 168.96,1588.05 172.20,1571.65 175.44,1555.28 178.68,1539.00 181.92,1522.89 185.17,1507.03 188.41,1491.48 191.65,1476.31 194.89,1461.60 198.13,1447.39 201.37,1433.77 204.62,1420.77 207.86,1408.45 211.10,1396.87 214.34,1386.07 217.58,1376.09 220.82,1366.96 224.07,1358.73 227.31,1351.41 230.55,1345.03 233.79,1339.60 237.03,1335.15 240.27,1331.67 243.52,1329.17 246.76,1327.64 250.00,1327.07 253.24,1327.46 256.48,1328.78 259.73,1331.02 262.97,1334.13 266.21,1338.11 269.45,1342.90 272.69,1348.47 275.93,1354.78 279.18,1361.79 282.42,1369.45 285.66,1377.72 288.90,1386.53 292.14,1395.84 295.38,1405.61 298.63,1415.77 301.87,1426.27 305.11,1437.06 308.35,1448.09 311.59,1459.31 314.83,1470.66 318.08,1482.11 321.32,1493.59 324.56,1505.07 327.80,1516.51 331.04,1527.86 334.29,1539.09 337.53,1550.16 340.77,1561.03 344.01,1571.69 347.25,1582.10 350.49,1592.23 353.74,1602.08 356.98,1611.61 360.22,1620.82 363.46,1629.69 366.70,1638.22 369.94,1646.38 373.19,1654.19 376.43,1661.63 379.67,1668.71 382.91,1675.43 386.15,1681.79 389.40,1687.79 392.64,1693.45 395.88,1698.76 399.12,1703.75 402.36,1708.41 405.60,1712.76 408.85,1716.81 412.09,1720.58 415.33,1724.07 418.57,1727.30 421.81,1730.28 425.05,1733.02 428.30,1735.54 431.54,1737.85 434.78,1739.96 438.02,1741.89 441.26,1743.65 444.50,1745.25 447.75,1746.70 450.99,1748.01 454.23,1749.19 457.47,1750.26 460.71,1751.22 463.96,1752.08 467.20,1752.85 470.44,1753.53 473.68,1754.15 476.92,1754.69 480.16,1755.18 483.41,1755.61 486.65,1755.98 489.89,1756.32 493.13,1756.61 496.37,1756.87 499.61,1757.10 502.86,1757.29 506.10,1757.47 509.34,1757.62 512.58,1757.75 515.82,1757.86 519.07,1757.96 522.31,1758.04 525.55,1758.12 528.79,1758.18 532.03,1758.23 535.27,1758.28 538.52,1758.32 541.76,1758.35 545.00,1758.38 548.24,1758.40 551.48,1758.42 554.72,1758.44 557.97,1758.45 561.21,1758.47 564.45,1758.48 567.69,1758.49 570.93,1758.49 574.17,1758.50 577.42,1758.50 580.66,1758.51 583.90,1758.51 587.14,1758.51 590.38,1758.52 593.63,1758.52 596.87,1758.52 600.11,1758.52 603.35,1758.52 606.59,1758.52 609.83,1758.52 613.08,1758.52 616.32,1758.53 619.56,1758.53 622.80,1758.53 626.04,1758.53 629.28,1758.53 632.53,1758.53 635.77,1758.53 639.01,1758.53 642.25,1758.53 645.49,1758.53 648.73,1758.53 651.98,1758.53 655.22,1758.53 658.46,1758.53 661.70,1758.53 664.94,1758.53 668.19,1758.53 671.43,1758.53 674.67,1758.53 677.91,1758.53 681.15,1758.53 684.39,1758.53 687.64,1758.53 690.88,1758.53 694.12,1758.53 697.36,1758.53 700.60,1758.53 703.84,1758.53 707.09,1758.53"/>
<polyline fill="none" stroke="#800080" stroke-width="3.40" stroke-linejoin="round" stroke-linecap="square" points="126.81,1758.53 130.06,1751.06 133.30,1740.43 136.54,1728.18 139.78,1714.77 143.02,1700.48 146.26,1685.48 149.51,1669.92 152.75,1653.91 155.99,1637.58 159.23,1621.00 162.47,1604.28 165.71,1587.49 168.96,1570.73 172.20,1554.06 175.44,1537.57 178.68,1521.33 181.92,1505.40 185.17,1489.86 188.41,1474.77 191.65,1460.19 194.89,1446.18 198.13,1432.80 201.37,1420.09 204.62,1408.11 207.86,1396.90 211.10,1386.49 214.34,1376.92 217.58,1368.23 220.82,1360.43 224.07,1353.55 227.31,1347.60 230.55,1342.60 233.79,1338.55 237.03,1335.46 240.27,1333.31 243.52,1332.10 246.76,1331.83 250.00,1332.46 253.24,1333.99 256.48,1336.39 259.73,1339.62 262.97,1343.66 266.21,1348.47 269.45,1354.01 272.69,1360.25 275.93,1367.14 279.18,1374.63 282.42,1382.69 285.66,1391.25 288.90,1400.28 292.14,1409.72 295.38,1419.53 298.63,1429.65 301.87,1440.04 305.11,1450.65 308.35,1461.44 311.59,1472.35 314.83,1483.34 318.08,1494.37 321.32,1505.41 324.56,1516.40 327.80,1527.31 331.04,1538.11 334.29,1548.77 337.53,1559.26 340.77,1569.54 344.01,1579.60 347.25,1589.42 350.49,1598.97 353.74,1608.23 356.98,1617.20 360.22,1625.86 363.46,1634.20 366.70,1642.21 369.94,1649.89 373.19,1657.24 376.43,1664.25 379.67,1670.92 382.91,1677.26 386.15,1683.26 389.40,1688.94 392.64,1694.30 395.88,1699.35 399.12,1704.10 402.36,1708.55 405.60,1712.71 408.85,1716.60 412.09,1720.22 415.33,1723.59 418.57,1726.71 421.81,1729.61 425.05,1732.29 428.30,1734.76 431.54,1737.03 434.78,1739.12 438.02,1741.04 441.26,1742.79 444.50,1744.39 447.75,1745.86 450.99,1747.19 454.23,1748.39 457.47,1749.49 460.71,1750.48 463.96,1751.37 467.20,1752.18 470.44,1752.90 473.68,1753.55 476.92,1754.14 480.16,1754.66 483.41,1755.12 486.65,1755.54 489.89,1755.91 493.13,1756.23 496.37,1756.52 499.61,1756.78 502.86,1757.01 506.10,1757.20 509.34,1757.38 512.58,1757.53 515.82,1757.67 519.07,1757.79 522.31,1757.89 525.55,1757.98 528.79,1758.06 532.03,1758.12 535.27,1758.18 538.52,1758.23 541.76,1758.28 545.00,1758.31 548.24,1758.35 551.48,1758.37 554.72,1758.40 557.97,1758.42 561.21,1758.43 564.45,1758.45 567.69,1758.46 570.93,1758.47 574.17,1758.48 577.42,1758.49 580.66,1758.50 583.90,1758.50 587.14,1758.51 590.38,1758.51 593.63,1758.51 596.87,1758.51 600.11,1758.52 603.35,1758.52 606.59,1758.52 609.83,1758.52 613.08,1758.52 616.32,1758.52 619.56,1758.52 622.80,1758.52 626.04,1758.53 629.28,1758.53 632.53,1758.53 635.77,1758.53 639.01,1758.53 642.25,1758.53 645.49,1758.53 648.73,1758.53 651.98,1758.53 655.22,1758.53 658.46,1758.53 661.70,1758.53 664.94,1758.53 668.19,1758.53 671.43,1758.53 674.67,1758.53 677.91,1758.53 681.15,1758.53 684.39,1758.53 687.64,1758.53 690.88,1758.53 694.12,1758.53 697.36,1758.53 700.60,1758.53 703.84,1758.53 707.09,1758.53"/>
<polyline fill="none" stroke="#ff0000" stroke-width="3.40" stroke-linejoin="round" stroke-linecap="square" points="126.81,1758.53 130.06,1742.71 133.30,1725.20 136.54,1707.04 139.78,1688.55 143.02,1669.86 146.26,1651.12 149.51,1632.42 152.75,1613.85 155.99,1595.49 159.23,1577.41 162.47,1559.68 165.71,1542.36 168.96,1525.51 172.20,1509.19 175.44,1493.45 178.68,1478.33 181.92,1463.89 185.17,1450.17 188.41,1437.19 191.65,1425.00 194.89,1413.62 198.13,1403.08 201.37,1393.40 204.62,1384.60 207.86,1376.69 211.10,1369.67 214.34,1363.56 217.58,1358.36 220.82,1354.05 224.07,1350.65 227.31,1348.12 230.55,1346.47 233.79,1345.68 237.03,1345.72 240.27,1346.57 243.52,1348.21 246.76,1350.61 250.00,1353.73 253.24,1357.56 256.48,1362.04 259.73,1367.15 262.97,1372.84 266.21,1379.09 269.45,1385.85 272.69,1393.07 275.93,1400.73 279.18,1408.78 282.42,1417.17 285.66,1425.88 288.90,1434.85 292.14,1444.06 295.38,1453.45 298.63,1463.00 301.87,1472.67 305.11,1482.42 308.35,1492.22 311.59,1502.04 314.83,1511.84 318.08,1521.60 321.32,1531.29 324.56,1540.89 327.80,1550.37 331.04,1559.71 334.29,1568.88 337.53,1577.88 340.77,1586.68 344.01,1595.27 347.25,1603.64 350.49,1611.78 353.74,1619.67 356.98,1627.31 360.22,1634.69 363.46,1641.81 366.70,1648.67 369.94,1655.25 373.19,1661.57 376.43,1667.61 379.67,1673.39 382.91,1678.91 386.15,1684.16 389.40,1689.16 392.64,1693.90 395.88,1698.39 399.12,1702.64 402.36,1706.66 405.60,1710.45 408.85,1714.02 412.09,1717.38 415.33,1720.53 418.57,1723.48 421.81,1726.24 425.05,1728.83 428.30,1731.24 431.54,1733.48 434.78,1735.57 438.02,1737.51 441.26,1739.32 444.50,1740.98 447.75,1742.53 450.99,1743.95 454.23,1745.27 457.47,1746.48 460.71,1747.59 463.96,1748.62 467.20,1749.56 470.44,1750.42 473.68,1751.20 476.92,1751.92 480.16,1752.58 483.41,1753.17 486.65,1753.71 489.89,1754.21 493.13,1754.66 496.37,1755.06 499.61,1755.43 502.86,1755.76 506.10,1756.06 509.34,1756.33 512.58,1756.57 515.82,1756.79 519.07,1756.98 522.31,1757.16 525.55,1757.31 528.79,1757.45 532.03,1757.58 535.27,1757.69 538.52,1757.79 541.76,1757.88 545.00,1757.96 548.24,1758.03 551.48,1758.09 554.72,1758.14 557.97,1758.19 561.21,1758.23 564.45,1758.27 567.69,1758.30 570.93,1758.33 574.17,1758.36 577.42,1758.38 580.66,1758.40 583.90,1758.42 587.14,1758.43 590.38,1758.44 593.63,1758.46 596.87,1758.47 600.11,1758.47 603.35,1758.48 606.59,1758.49 609.83,1758.49 613.08,1758.50 616.32,1758.50 619.56,1758.51 622.80,1758.51 626.04,1758.51 629.28,1758.51 632.53,1758.52 635.77,1758.52 639.01,1758.52 642.25,1758.52 645.49,1758.52 648.73,1758.52 651.98,1758.52 655.22,1758.52 658.46,1758.52 661.70,1758.52 664.94,1758.53 668.19,1758.53 671.43,1758.53 674.67,1758.53 677.91,1758.53 681.15,1758.53 684.39,1758.53 687.64,1758.53 690.88,1758.53 694.12,1758.53 697.36,1758.53 700.60,1758.53 703.84,1758.53 707.09,1758.53"/>
<polyline fill="none" stroke="#0000ff" stroke-width="3.40" stroke-linejoin="round" stroke-linecap="square" points="126.81,1758.53 130.06,1749.50 133.30,1740.26 136.54,1730.96 139.78,1721.64 143.02,1712.32 146.26,1703.03 149.51,1693.78 152.75,1684.60 155.99,1675.49 159.23,1666.47 162.47,1657.56 165.71,1648.76 168.96,1640.10 172.20,1631.57 175.44,1623.20 178.68,1615.00 181.92,1606.97 185.17,1599.12 188.41,1591.47 191.65,1584.03 194.89,1576.80 198.13,1569.79 201.37,1563.02 204.62,1556.48 207.86,1550.18 211.10,1544.14 214.34,1538.35 217.58,1532.82 220.82,1527.56 224.07,1522.57 227.31,1517.86 230.55,1513.42 233.79,1509.26 237.03,1505.38 240.27,1501.79 243.52,1498.48 246.76,1495.45 250.00,1492.70 253.24,1490.24 256.48,1488.06 259.73,1486.16 262.97,1484.54 266.21,1483.19 269.45,1482.12 272.69,1481.31 275.93,1480.77 279.18,1480.49 282.42,1480.46 285.66,1480.68 288.90,1481.15 292.14,1481.85 295.38,1482.79 298.63,1483.95 301.87,1485.33 305.11,1486.93 308.35,1488.73 311.59,1490.73 314.83,1492.92 318.08,1495.29 321.32,1497.83 324.56,1500.54 327.80,1503.42 331.04,1506.44 334.29,1509.60 337.53,1512.90 340.77,1516.33 344.01,1519.87 347.25,1523.52 350.49,1527.27 353.74,1531.12 356.98,1535.05 360.22,1539.06 363.46,1543.14 366.70,1547.28 369.94,1551.48 373.19,1555.72 376.43,1560.00 379.67,1564.32 382.91,1568.66 386.15,1573.02 389.40,1577.39 392.64,1581.76 395.88,1586.14 399.12,1590.51 402.36,1594.87 405.60,1599.22 408.85,1603.54 412.09,1607.83 415.33,1612.09 418.57,1616.31 421.81,1620.50 425.05,1624.64 428.30,1628.73 431.54,1632.77 434.78,1636.75 438.02,1640.68 441.26,1644.54 444.50,1648.34 447.75,1652.07 450.99,1655.74 454.23,1659.34 457.47,1662.86 460.71,1666.31 463.96,1669.69 467.20,1672.99 470.44,1676.21 473.68,1679.35 476.92,1682.42 480.16,1685.41 483.41,1688.32 486.65,1691.15 489.89,1693.90 493.13,1696.58 496.37,1699.17 499.61,1701.69 502.86,1704.13 506.10,1706.49 509.34,1708.78 512.58,1710.99 515.82,1713.13 519.07,1715.20 522.31,1717.19 525.55,1719.11 528.79,1720.97 532.03,1722.75 535.27,1724.47 538.52,1726.13 541.76,1727.71 545.00,1729.24 548.24,1730.71 551.48,1732.11 554.72,1733.46 557.97,1734.75 561.21,1735.99 564.45,1737.17 567.69,1738.31 570.93,1739.39 574.17,1740.42 577.42,1741.41 580.66,1742.35 583.90,1743.25 587.14,1744.10 590.38,1744.92 593.63,1745.69 596.87,1746.43 600.11,1747.13 603.35,1747.80 606.59,1748.43 609.83,1749.03 613.08,1749.60 616.32,1750.13 619.56,1750.64 622.80,1751.13 626.04,1751.59 629.28,1752.02 632.53,1752.43 635.77,1752.81 639.01,1753.18 642.25,1753.52 645.49,1753.84 648.73,1754.15 651.98,1754.43 655.22,1754.70 658.46,1754.96 661.70,1755.20 664.94,1755.42 668.19,1755.63 671.43,1755.83 674.67,1756.02 677.91,1756.19 681.15,1756.35 684.39,1756.51 687.64,1756.65 690.88,1756.78 694.12,1756.91 697.36,1757.03 700.60,1757.13 703.84,1757.24 707.09,1757.33"/>
<rect x="97.80" y="1305.50" width="638.30" height="474.60" fill="none" stroke="#cccccc" stroke-width="2.2"/>
<g font-size="19.3"><text transform="matrix(1 0 0 0.930 126.81 1810.42)" text-anchor="middle">0.0</text><text transform="matrix(1 0 0 0.930 207.86 1810.42)" text-anchor="middle">2.5</text><text transform="matrix(1 0 0 0.930 288.90 1810.42)" text-anchor="middle">5.0</text><text transform="matrix(1 0 0 0.930 369.94 1810.42)" text-anchor="middle">7.5</text><text transform="matrix(1 0 0 0.930 450.99 1810.42)" text-anchor="middle">10.0</text><text transform="matrix(1 0 0 0.930 532.03 1810.42)" text-anchor="middle">12.5</text><text transform="matrix(1 0 0 0.930 613.08 1810.42)" text-anchor="middle">15.0</text><text transform="matrix(1 0 0 0.930 694.12 1810.42)" text-anchor="middle">17.5</text><text transform="matrix(1 0 0 0.930 79.80 1764.94)" text-anchor="end">0.000</text><text transform="matrix(1 0 0 0.930 79.80 1711.09)" text-anchor="end">0.025</text><text transform="matrix(1 0 0 0.930 79.80 1657.24)" text-anchor="end">0.050</text><text transform="matrix(1 0 0 0.930 79.80 1603.39)" text-anchor="end">0.075</text><text transform="matrix(1 0 0 0.930 79.80 1549.54)" text-anchor="end">0.100</text><text transform="matrix(1 0 0 0.930 79.80 1495.69)" text-anchor="end">0.125</text><text transform="matrix(1 0 0 0.930 79.80 1441.84)" text-anchor="end">0.150</text><text transform="matrix(1 0 0 0.930 79.80 1387.98)" text-anchor="end">0.175</text><text transform="matrix(1 0 0 0.930 79.80 1334.13)" text-anchor="end">0.200</text></g>
<text transform="matrix(1 0 0 0.930 416.95 1837.10)" font-size="21.2" text-anchor="middle">wind speed m/s</text>
<text x="416.95" y="0.00" font-size="45.5" text-anchor="middle" transform="translate(0 1293.60) scale(1 1.05)">Tower 3 10m</text>
<g><rect x="601.80" y="1315.20" width="125.00" height="115.40" rx="3.8" ry="3.8" fill="#fff" fill-opacity="0.8" stroke="#cccccc" stroke-width="1.75"/><line x1="609.50" y1="1330.60" x2="647.90" y2="1330.60" stroke="#008000" stroke-width="3.40" stroke-linecap="square"/><text transform="matrix(1 0 0 0.930 663.80 1335.52)" font-size="19.3">Test 1</text><line x1="609.50" y1="1358.55" x2="647.90" y2="1358.55" stroke="#800080" stroke-width="3.40" stroke-linecap="square"/><text transform="matrix(1 0 0 0.930 663.80 1363.47)" font-size="19.3">Test 3</text><line x1="609.50" y1="1386.50" x2="647.90" y2="1386.50" stroke="#ff0000" stroke-width="3.40" stroke-linecap="square"/><text transform="matrix(1 0 0 0.930 663.80 1391.42)" font-size="19.3">Test 2</text><line x1="609.50" y1="1414.45" x2="647.90" y2="1414.45" stroke="#0000ff" stroke-width="3.40" stroke-linecap="square"/><text transform="matrix(1 0 0 0.930 663.80 1419.37)" font-size="19.3">obs</text></g>
<g stroke="#d0d0d0" stroke-width="2.1"><line x1="950.56" y1="1305.50" x2="950.56" y2="1780.10"/><line x1="1031.61" y1="1305.50" x2="1031.61" y2="1780.10"/><line x1="1112.65" y1="1305.50" x2="1112.65" y2="1780.10"/><line x1="1193.69" y1="1305.50" x2="1193.69" y2="1780.10"/><line x1="1274.74" y1="1305.50" x2="1274.74" y2="1780.10"/><line x1="1355.78" y1="1305.50" x2="1355.78" y2="1780.10"/><line x1="1436.83" y1="1305.50" x2="1436.83" y2="1780.10"/><line x1="1517.87" y1="1305.50" x2="1517.87" y2="1780.10"/><line x1="921.55" y1="1758.53" x2="1559.85" y2="1758.53"/><line x1="921.55" y1="1696.22" x2="1559.85" y2="1696.22"/><line x1="921.55" y1="1633.92" x2="1559.85" y2="1633.92"/><line x1="921.55" y1="1571.62" x2="1559.85" y2="1571.62"/><line x1="921.55" y1="1509.31" x2="1559.85" y2="1509.31"/><line x1="921.55" y1="1447.01" x2="1559.85" y2="1447.01"/><line x1="921.55" y1="1384.70" x2="1559.85" y2="1384.70"/><line x1="921.55" y1="1322.40" x2="1559.85" y2="1322.40"/></g>
<polyline fill="none" stroke="#008000" stroke-width="3.40" stroke-linejoin="round" stroke-linecap="square" points="950.56,1758.53 953.81,1758.02 957.05,1756.81 960.29,1755.03 963.53,1752.74 966.77,1749.97 970.01,1746.74 973.26,1743.09 976.50,1739.02 979.74,1734.56 982.98,1729.71 986.22,1724.50 989.46,1718.93 992.71,1713.02 995.95,1706.78 999.19,1700.22 1002.43,1693.35 1005.67,1686.19 1008.92,1678.76 1012.16,1671.05 1015.40,1663.10 1018.64,1654.90 1021.88,1646.49 1025.12,1637.86 1028.37,1629.04 1031.61,1620.04 1034.85,1610.88 1038.09,1601.57 1041.33,1592.14 1044.57,1582.60 1047.82,1572.96 1051.06,1563.26 1054.30,1553.50 1057.54,1543.70 1060.78,1533.89 1064.02,1524.08 1067.27,1514.30 1070.51,1504.57 1073.75,1494.90 1076.99,1485.31 1080.23,1475.84 1083.48,1466.49 1086.72,1457.29 1089.96,1448.26 1093.20,1439.42 1096.44,1430.78 1099.68,1422.38 1102.93,1414.23 1106.17,1406.34 1109.41,1398.73 1112.65,1391.44 1115.89,1384.46 1119.13,1377.82 1122.38,1371.53 1125.62,1365.61 1128.86,1360.07 1132.10,1354.92 1135.34,1350.18 1138.58,1345.86 1141.83,1341.97 1145.07,1338.52 1148.31,1335.51 1151.55,1332.95 1154.79,1330.85 1158.04,1329.21 1161.28,1328.03 1164.52,1327.32 1167.76,1327.07 1171.00,1327.29 1174.24,1327.97 1177.49,1329.11 1180.73,1330.70 1183.97,1332.74 1187.21,1335.22 1190.45,1338.14 1193.69,1341.47 1196.94,1345.22 1200.18,1349.36 1203.42,1353.89 1206.66,1358.80 1209.90,1364.06 1213.15,1369.67 1216.39,1375.60 1219.63,1381.84 1222.87,1388.37 1226.11,1395.18 1229.35,1402.23 1232.60,1409.53 1235.84,1417.04 1239.08,1424.74 1242.32,1432.62 1245.56,1440.66 1248.80,1448.83 1252.05,1457.11 1255.29,1465.49 1258.53,1473.95 1261.77,1482.47 1265.01,1491.02 1268.25,1499.58 1271.50,1508.15 1274.74,1516.71 1277.98,1525.22 1281.22,1533.69 1284.46,1542.09 1287.71,1550.41 1290.95,1558.63 1294.19,1566.74 1297.43,1574.73 1300.67,1582.59 1303.91,1590.30 1307.16,1597.86 1310.40,1605.25 1313.64,1612.47 1316.88,1619.51 1320.12,1626.36 1323.36,1633.02 1326.61,1639.48 1329.85,1645.75 1333.09,1651.81 1336.33,1657.66 1339.57,1663.30 1342.82,1668.74 1346.06,1673.96 1349.30,1678.98 1352.54,1683.79 1355.78,1688.39 1359.02,1692.79 1362.27,1696.99 1365.51,1700.99 1368.75,1704.79 1371.99,1708.41 1375.23,1711.84 1378.47,1715.09 1381.72,1718.16 1384.96,1721.06 1388.20,1723.80 1391.44,1726.38 1394.68,1728.80 1397.92,1731.08 1401.17,1733.22 1404.41,1735.21 1407.65,1737.08 1410.89,1738.83 1414.13,1740.45 1417.38,1741.96 1420.62,1743.37 1423.86,1744.68 1427.10,1745.89 1430.34,1747.00 1433.58,1748.04 1436.83,1748.99 1440.07,1749.87 1443.31,1750.68 1446.55,1751.42 1449.79,1752.10 1453.03,1752.73 1456.28,1753.30 1459.52,1753.82 1462.76,1754.29 1466.00,1754.72 1469.24,1755.12 1472.48,1755.47 1475.73,1755.80 1478.97,1756.09 1482.21,1756.35 1485.45,1756.59 1488.69,1756.80 1491.94,1757.00 1495.18,1757.17 1498.42,1757.33 1501.66,1757.47 1504.90,1757.59 1508.14,1757.70 1511.39,1757.80 1514.63,1757.89 1517.87,1757.97 1521.11,1758.04 1524.35,1758.10 1527.59,1758.15 1530.84,1758.20"/>
<polyline fill="none" stroke="#800080" stroke-width="3.40" stroke-linejoin="round" stroke-linecap="square" points="950.56,1758.53 953.81,1757.63 957.05,1755.75 960.29,1753.17 963.53,1749.97 966.77,1746.23 970.01,1742.00 973.26,1737.30 976.50,1732.18 979.74,1726.65 982.98,1720.73 986.22,1714.45 989.46,1707.83 992.71,1700.89 995.95,1693.64 999.19,1686.10 1002.43,1678.28 1005.67,1670.21 1008.92,1661.91 1012.16,1653.38 1015.40,1644.64 1018.64,1635.72 1021.88,1626.63 1025.12,1617.39 1028.37,1608.02 1031.61,1598.53 1034.85,1588.94 1038.09,1579.28 1041.33,1569.56 1044.57,1559.80 1047.82,1550.02 1051.06,1540.24 1054.30,1530.47 1057.54,1520.75 1060.78,1511.09 1064.02,1501.51 1067.27,1492.02 1070.51,1482.65 1073.75,1473.42 1076.99,1464.35 1080.23,1455.46 1083.48,1446.76 1086.72,1438.27 1089.96,1430.02 1093.20,1422.02 1096.44,1414.28 1099.68,1406.83 1102.93,1399.67 1106.17,1392.84 1109.41,1386.33 1112.65,1380.16 1115.89,1374.35 1119.13,1368.91 1122.38,1363.85 1125.62,1359.18 1128.86,1354.91 1132.10,1351.05 1135.34,1347.61 1138.58,1344.59 1141.83,1341.99 1145.07,1339.83 1148.31,1338.10 1151.55,1336.80 1154.79,1335.95 1158.04,1335.53 1161.28,1335.55 1164.52,1336.00 1167.76,1336.88 1171.00,1338.18 1174.24,1339.90 1177.49,1342.04 1180.73,1344.58 1183.97,1347.51 1187.21,1350.83 1190.45,1354.53 1193.69,1358.58 1196.94,1362.99 1200.18,1367.74 1203.42,1372.80 1206.66,1378.18 1209.90,1383.85 1213.15,1389.80 1216.39,1396.01 1219.63,1402.46 1222.87,1409.15 1226.11,1416.04 1229.35,1423.13 1232.60,1430.39 1235.84,1437.81 1239.08,1445.37 1242.32,1453.06 1245.56,1460.84 1248.80,1468.72 1252.05,1476.66 1255.29,1484.66 1258.53,1492.70 1261.77,1500.75 1265.01,1508.81 1268.25,1516.86 1271.50,1524.88 1274.74,1532.86 1277.98,1540.78 1281.22,1548.64 1284.46,1556.42 1287.71,1564.10 1290.95,1571.68 1294.19,1579.15 1297.43,1586.49 1300.67,1593.70 1303.91,1600.77 1307.16,1607.69 1310.40,1614.45 1313.64,1621.05 1316.88,1627.49 1320.12,1633.75 1323.36,1639.83 1326.61,1645.74 1329.85,1651.46 1333.09,1657.00 1336.33,1662.35 1339.57,1667.52 1342.82,1672.50 1346.06,1677.29 1349.30,1681.90 1352.54,1686.32 1355.78,1690.56 1359.02,1694.61 1362.27,1698.49 1365.51,1702.20 1368.75,1705.73 1371.99,1709.10 1375.23,1712.30 1378.47,1715.34 1381.72,1718.22 1384.96,1720.96 1388.20,1723.54 1391.44,1725.99 1394.68,1728.29 1397.92,1730.47 1401.17,1732.51 1404.41,1734.44 1407.65,1736.24 1410.89,1737.94 1414.13,1739.53 1417.38,1741.01 1420.62,1742.40 1423.86,1743.69 1427.10,1744.90 1430.34,1746.02 1433.58,1747.06 1436.83,1748.03 1440.07,1748.93 1443.31,1749.76 1446.55,1750.52 1449.79,1751.23 1453.03,1751.89 1456.28,1752.49 1459.52,1753.04 1462.76,1753.55 1466.00,1754.02 1469.24,1754.45 1472.48,1754.84 1475.73,1755.20 1478.97,1755.53 1482.21,1755.82 1485.45,1756.10 1488.69,1756.34 1491.94,1756.57 1495.18,1756.77 1498.42,1756.95 1501.66,1757.12 1504.90,1757.27 1508.14,1757.41 1511.39,1757.53 1514.63,1757.64 1517.87,1757.74 1521.11,1757.83 1524.35,1757.91 1527.59,1757.98 1530.84,1758.04"/>
<polyline fill="none" stroke="#ff0000" stroke-width="3.40" stroke-linejoin="round" stroke-linecap="square" points="950.56,1758.53 953.81,1755.13 957.05,1750.08 960.29,1744.12 963.53,1737.49 966.77,1730.33 970.01,1722.72 973.26,1714.71 976.50,1706.37 979.74,1697.73 982.98,1688.83 986.22,1679.70 989.46,1670.37 992.71,1660.87 995.95,1651.22 999.19,1641.45 1002.43,1631.58 1005.67,1621.63 1008.92,1611.62 1012.16,1601.58 1015.40,1591.52 1018.64,1581.47 1021.88,1571.45 1025.12,1561.47 1028.37,1551.56 1031.61,1541.73 1034.85,1532.00 1038.09,1522.40 1041.33,1512.92 1044.57,1503.61 1047.82,1494.46 1051.06,1485.50 1054.30,1476.74 1057.54,1468.21 1060.78,1459.90 1064.02,1451.84 1067.27,1444.04 1070.51,1436.51 1073.75,1429.27 1076.99,1422.33 1080.23,1415.69 1083.48,1409.37 1086.72,1403.38 1089.96,1397.72 1093.20,1392.41 1096.44,1387.45 1099.68,1382.85 1102.93,1378.61 1106.17,1374.73 1109.41,1371.23 1112.65,1368.11 1115.89,1365.36 1119.13,1362.98 1122.38,1360.99 1125.62,1359.38 1128.86,1358.14 1132.10,1357.28 1135.34,1356.79 1138.58,1356.67 1141.83,1356.92 1145.07,1357.53 1148.31,1358.49 1151.55,1359.81 1154.79,1361.46 1158.04,1363.46 1161.28,1365.77 1164.52,1368.41 1167.76,1371.35 1171.00,1374.60 1174.24,1378.13 1177.49,1381.94 1180.73,1386.02 1183.97,1390.36 1187.21,1394.94 1190.45,1399.75 1193.69,1404.78 1196.94,1410.02 1200.18,1415.45 1203.42,1421.06 1206.66,1426.85 1209.90,1432.79 1213.15,1438.87 1216.39,1445.09 1219.63,1451.42 1222.87,1457.85 1226.11,1464.38 1229.35,1470.99 1232.60,1477.66 1235.84,1484.39 1239.08,1491.16 1242.32,1497.96 1245.56,1504.78 1248.80,1511.61 1252.05,1518.44 1255.29,1525.26 1258.53,1532.05 1261.77,1538.81 1265.01,1545.53 1268.25,1552.20 1271.50,1558.81 1274.74,1565.35 1277.98,1571.82 1281.22,1578.21 1284.46,1584.50 1287.71,1590.71 1290.95,1596.81 1294.19,1602.81 1297.43,1608.70 1300.67,1614.47 1303.91,1620.12 1307.16,1625.65 1310.40,1631.05 1313.64,1636.33 1316.88,1641.47 1320.12,1646.48 1323.36,1651.36 1326.61,1656.10 1329.85,1660.70 1333.09,1665.17 1336.33,1669.50 1339.57,1673.69 1342.82,1677.74 1346.06,1681.66 1349.30,1685.44 1352.54,1689.09 1355.78,1692.60 1359.02,1695.99 1362.27,1699.24 1365.51,1702.37 1368.75,1705.37 1371.99,1708.25 1375.23,1711.01 1378.47,1713.65 1381.72,1716.17 1384.96,1718.59 1388.20,1720.89 1391.44,1723.09 1394.68,1725.18 1397.92,1727.18 1401.17,1729.08 1404.41,1730.88 1407.65,1732.59 1410.89,1734.22 1414.13,1735.76 1417.38,1737.22 1420.62,1738.60 1423.86,1739.90 1427.10,1741.13 1430.34,1742.30 1433.58,1743.39 1436.83,1744.43 1440.07,1745.40 1443.31,1746.32 1446.55,1747.18 1449.79,1747.98 1453.03,1748.74 1456.28,1749.45 1459.52,1750.12 1462.76,1750.74 1466.00,1751.32 1469.24,1751.86 1472.48,1752.37 1475.73,1752.84 1478.97,1753.28 1482.21,1753.69 1485.45,1754.08 1488.69,1754.43 1491.94,1754.76 1495.18,1755.06 1498.42,1755.35 1501.66,1755.61 1504.90,1755.85 1508.14,1756.08 1511.39,1756.28 1514.63,1756.48 1517.87,1756.65 1521.11,1756.82 1524.35,1756.96 1527.59,1757.10 1530.84,1757.23"/>
<polyline fill="none" stroke="#0000ff" stroke-width="3.40" stroke-linejoin="round" stroke-linecap="square" points="950.56,1758.53 953.81,1699.03 957.05,1673.81 960.29,1654.52 963.53,1638.41 966.77,1624.39 970.01,1611.90 973.26,1600.62 976.50,1590.33 979.74,1580.86 982.98,1572.13 986.22,1564.03 989.46,1556.50 992.71,1549.50 995.95,1542.96 999.19,1536.87 1002.43,1531.19 1005.67,1525.89 1008.92,1520.94 1012.16,1516.33 1015.40,1512.05 1018.64,1508.06 1021.88,1504.37 1025.12,1500.95 1028.37,1497.80 1031.61,1494.89 1034.85,1492.23 1038.09,1489.80 1041.33,1487.59 1044.57,1485.59 1047.82,1483.80 1051.06,1482.21 1054.30,1480.81 1057.54,1479.59 1060.78,1478.55 1064.02,1477.68 1067.27,1476.97 1070.51,1476.42 1073.75,1476.03 1076.99,1475.78 1080.23,1475.67 1083.48,1475.70 1086.72,1475.87 1089.96,1476.16 1093.20,1476.57 1096.44,1477.10 1099.68,1477.74 1102.93,1478.49 1106.17,1479.35 1109.41,1480.31 1112.65,1481.37 1115.89,1482.51 1119.13,1483.75 1122.38,1485.08 1125.62,1486.48 1128.86,1487.96 1132.10,1489.52 1135.34,1491.15 1138.58,1492.85 1141.83,1494.62 1145.07,1496.45 1148.31,1498.33 1151.55,1500.28 1154.79,1502.27 1158.04,1504.32 1161.28,1506.41 1164.52,1508.55 1167.76,1510.74 1171.00,1512.96 1174.24,1515.22 1177.49,1517.52 1180.73,1519.85 1183.97,1522.20 1187.21,1524.59 1190.45,1527.01 1193.69,1529.45 1196.94,1531.91 1200.18,1534.39 1203.42,1536.89 1206.66,1539.40 1209.90,1541.93 1213.15,1544.48 1216.39,1547.03 1219.63,1549.60 1222.87,1552.17 1226.11,1554.75 1229.35,1557.33 1232.60,1559.92 1235.84,1562.50 1239.08,1565.09 1242.32,1567.68 1245.56,1570.27 1248.80,1572.85 1252.05,1575.43 1255.29,1578.00 1258.53,1580.57 1261.77,1583.13 1265.01,1585.68 1268.25,1588.22 1271.50,1590.75 1274.74,1593.26 1277.98,1595.77 1281.22,1598.26 1284.46,1600.74 1287.71,1603.20 1290.95,1605.65 1294.19,1608.08 1297.43,1610.50 1300.67,1612.89 1303.91,1615.27 1307.16,1617.63 1310.40,1619.97 1313.64,1622.29 1316.88,1624.60 1320.12,1626.88 1323.36,1629.14 1326.61,1631.37 1329.85,1633.59 1333.09,1635.78 1336.33,1637.96 1339.57,1640.10 1342.82,1642.23 1346.06,1644.33 1349.30,1646.41 1352.54,1648.47 1355.78,1650.50 1359.02,1652.51 1362.27,1654.49 1365.51,1656.45 1368.75,1658.38 1371.99,1660.29 1375.23,1662.18 1378.47,1664.04 1381.72,1665.87 1384.96,1667.68 1388.20,1669.47 1391.44,1671.23 1394.68,1672.97 1397.92,1674.68 1401.17,1676.36 1404.41,1678.03 1407.65,1679.66 1410.89,1681.28 1414.13,1682.87 1417.38,1684.43 1420.62,1685.97 1423.86,1687.49 1427.10,1688.98 1430.34,1690.45 1433.58,1691.89 1436.83,1693.31 1440.07,1694.71 1443.31,1696.09 1446.55,1697.44 1449.79,1698.77 1453.03,1700.07 1456.28,1701.36 1459.52,1702.62 1462.76,1703.86 1466.00,1705.07 1469.24,1706.27 1472.48,1707.44 1475.73,1708.60 1478.97,1709.73 1482.21,1710.84 1485.45,1711.93 1488.69,1713.00 1491.94,1714.05 1495.18,1715.08 1498.42,1716.09 1501.66,1717.08 1504.90,1718.05 1508.14,1719.01 1511.39,1719.94 1514.63,1720.86 1517.87,1721.75 1521.11,1722.63 1524.35,1723.49 1527.59,1724.34 1530.84,1725.17"/>
<rect x="921.55" y="1305.50" width="638.30" height="474.60" fill="none" stroke="#cccccc" stroke-width="2.2"/>
<g font-size="19.3"><text transform="matrix(1 0 0 0.930 950.56 1810.42)" text-anchor="middle">0.0</text><text transform="matrix(1 0 0 0.930 1031.61 1810.42)" text-anchor="middle">2.5</text><text transform="matrix(1 0 0 0.930 1112.65 1810.42)" text-anchor="middle">5.0</text><text transform="matrix(1 0 0 0.930 1193.69 1810.42)" text-anchor="middle">7.5</text><text transform="matrix(1 0 0 0.930 1274.74 1810.42)" text-anchor="middle">10.0</text><text transform="matrix(1 0 0 0.930 1355.78 1810.42)" text-anchor="middle">12.5</text><text transform="matrix(1 0 0 0.930 1436.83 1810.42)" text-anchor="middle">15.0</text><text transform="matrix(1 0 0 0.930 1517.87 1810.42)" text-anchor="middle">17.5</text><text transform="matrix(1 0 0 0.930 903.55 1764.94)" text-anchor="end">0.00</text><text transform="matrix(1 0 0 0.930 903.55 1702.64)" text-anchor="end">0.02</text><text transform="matrix(1 0 0 0.930 903.55 1640.34)" text-anchor="end">0.04</text><text transform="matrix(1 0 0 0.930 903.55 1578.03)" text-anchor="end">0.06</text><text transform="matrix(1 0 0 0.930 903.55 1515.73)" text-anchor="end">0.08</text><text transform="matrix(1 0 0 0.930 903.55 1453.42)" text-anchor="end">0.10</text><text transform="matrix(1 0 0 0.930 903.55 1391.12)" text-anchor="end">0.12</text><text transform="matrix(1 0 0 0.930 903.55 1328.82)" text-anchor="end">0.14</text></g>
<text transform="matrix(1 0 0 0.930 1240.70 1837.10)" font-size="21.2" text-anchor="middle">wind speed m/s</text>
<text x="1240.70" y="0.00" font-size="45.5" text-anchor="middle" transform="translate(0 1293.60) scale(1 1.05)">Tower 3 50m</text>
<g><rect x="1425.55" y="1315.20" width="125.00" height="115.40" rx="3.8" ry="3.8" fill="#fff" fill-opacity="0.8" stroke="#cccccc" stroke-width="1.75"/><line x1="1433.25" y1="1330.60" x2="1471.65" y2="1330.60" stroke="#008000" stroke-width="3.40" stroke-linecap="square"/><text transform="matrix(1 0 0 0.930 1487.55 1335.52)" font-size="19.3">Test 1</text><line x1="1433.25" y1="1358.55" x2="1471.65" y2="1358.55" stroke="#800080" stroke-width="3.40" stroke-linecap="square"/><text transform="matrix(1 0 0 0.930 1487.55 1363.47)" font-size="19.3">Test 3</text><line x1="1433.25" y1="1386.50" x2="1471.65" y2="1386.50" stroke="#ff0000" stroke-width="3.40" stroke-linecap="square"/><text transform="matrix(1 0 0 0.930 1487.55 1391.42)" font-size="19.3">Test 2</text><line x1="1433.25" y1="1414.45" x2="1471.65" y2="1414.45" stroke="#0000ff" stroke-width="3.40" stroke-linecap="square"/><text transform="matrix(1 0 0 0.930 1487.55 1419.37)" font-size="19.3">obs</text></g>
<g stroke="#d0d0d0" stroke-width="2.1"><line x1="1774.31" y1="1305.50" x2="1774.31" y2="1780.10"/><line x1="1855.36" y1="1305.50" x2="1855.36" y2="1780.10"/><line x1="1936.40" y1="1305.50" x2="1936.40" y2="1780.10"/><line x1="2017.44" y1="1305.50" x2="2017.44" y2="1780.10"/><line x1="2098.49" y1="1305.50" x2="2098.49" y2="1780.10"/><line x1="2179.53" y1="1305.50" x2="2179.53" y2="1780.10"/><line x1="2260.58" y1="1305.50" x2="2260.58" y2="1780.10"/><line x1="2341.62" y1="1305.50" x2="2341.62" y2="1780.10"/><line x1="1745.30" y1="1758.53" x2="2383.60" y2="1758.53"/><line x1="1745.30" y1="1699.10" x2="2383.60" y2="1699.10"/><line x1="1745.30" y1="1639.66" x2="2383.60" y2="1639.66"/><line x1="1745.30" y1="1580.23" x2="2383.60" y2="1580.23"/><line x1="1745.30" y1="1520.80" x2="2383.60" y2="1520.80"/><line x1="1745.30" y1="1461.37" x2="2383.60" y2="1461.37"/><line x1="1745.30" y1="1401.93" x2="2383.60" y2="1401.93"/><line x1="1745.30" y1="1342.50" x2="2383.60" y2="1342.50"/></g>
<polyline fill="none" stroke="#008000" stroke-width="3.40" stroke-linejoin="round" stroke-linecap="square" points="1774.31,1758.53 1777.56,1756.78 1780.80,1753.59 1784.04,1749.45 1787.28,1744.55 1790.52,1739.00 1793.76,1732.86 1797.01,1726.21 1800.25,1719.08 1803.49,1711.51 1806.73,1703.54 1809.97,1695.21 1813.21,1686.53 1816.46,1677.55 1819.70,1668.28 1822.94,1658.75 1826.18,1648.98 1829.42,1639.01 1832.67,1628.86 1835.91,1618.55 1839.15,1608.11 1842.39,1597.55 1845.63,1586.92 1848.87,1576.22 1852.12,1565.49 1855.36,1554.74 1858.60,1544.02 1861.84,1533.33 1865.08,1522.70 1868.32,1512.16 1871.57,1501.73 1874.81,1491.44 1878.05,1481.30 1881.29,1471.35 1884.53,1461.60 1887.77,1452.08 1891.02,1442.81 1894.26,1433.80 1897.50,1425.09 1900.74,1416.68 1903.98,1408.61 1907.23,1400.88 1910.47,1393.51 1913.71,1386.52 1916.95,1379.93 1920.19,1373.74 1923.43,1367.98 1926.68,1362.65 1929.92,1357.77 1933.16,1353.34 1936.40,1349.37 1939.64,1345.87 1942.88,1342.84 1946.13,1340.29 1949.37,1338.23 1952.61,1336.64 1955.85,1335.54 1959.09,1334.93 1962.33,1334.79 1965.58,1335.12 1968.82,1335.93 1972.06,1337.21 1975.30,1338.94 1978.54,1341.11 1981.79,1343.73 1985.03,1346.77 1988.27,1350.23 1991.51,1354.10 1994.75,1358.35 1997.99,1362.97 2001.24,1367.96 2004.48,1373.28 2007.72,1378.94 2010.96,1384.89 2014.20,1391.14 2017.44,1397.66 2020.69,1404.43 2023.93,1411.43 2027.17,1418.65 2030.41,1426.06 2033.65,1433.64 2036.90,1441.38 2040.14,1449.25 2043.38,1457.24 2046.62,1465.32 2049.86,1473.48 2053.10,1481.69 2056.35,1489.95 2059.59,1498.22 2062.83,1506.50 2066.07,1514.77 2069.31,1523.01 2072.55,1531.21 2075.80,1539.34 2079.04,1547.41 2082.28,1555.38 2085.52,1563.26 2088.76,1571.02 2092.00,1578.67 2095.25,1586.18 2098.49,1593.55 2101.73,1600.76 2104.97,1607.82 2108.21,1614.71 2111.46,1621.43 2114.70,1627.98 2117.94,1634.34 2121.18,1640.51 2124.42,1646.50 2127.66,1652.30 2130.91,1657.90 2134.15,1663.30 2137.39,1668.51 2140.63,1673.53 2143.87,1678.35 2147.11,1682.98 2150.36,1687.42 2153.60,1691.67 2156.84,1695.73 2160.08,1699.61 2163.32,1703.31 2166.57,1706.83 2169.81,1710.18 2173.05,1713.36 2176.29,1716.38 2179.53,1719.24 2182.77,1721.95 2186.02,1724.50 2189.26,1726.91 2192.50,1729.19 2195.74,1731.33 2198.98,1733.34 2202.22,1735.23 2205.47,1737.00 2208.71,1738.66 2211.95,1740.21 2215.19,1741.66 2218.43,1743.01 2221.67,1744.27 2224.92,1745.44 2228.16,1746.53 2231.40,1747.54 2234.64,1748.48 2237.88,1749.35 2241.13,1750.15 2244.37,1750.89 2247.61,1751.57 2250.85,1752.20 2254.09,1752.78 2257.33,1753.31 2260.58,1753.80 2263.82,1754.25 2267.06,1754.66 2270.30,1755.03 2273.54,1755.37 2276.78,1755.69 2280.03,1755.97 2283.27,1756.23 2286.51,1756.46 2289.75,1756.68 2292.99,1756.87 2296.23,1757.04 2299.48,1757.20 2302.72,1757.34 2305.96,1757.47 2309.20,1757.59 2312.44,1757.69 2315.69,1757.78 2318.93,1757.87 2322.17,1757.94 2325.41,1758.01 2328.65,1758.07 2331.89,1758.12 2335.14,1758.17 2338.38,1758.21 2341.62,1758.25 2344.86,1758.28 2348.10,1758.31 2351.34,1758.34 2354.59,1758.36"/>
<polyline fill="none" stroke="#800080" stroke-width="3.40" stroke-linejoin="round" stroke-linecap="square" points="1774.31,1758.53 1777.56,1751.79 1780.80,1743.47 1784.04,1734.43 1787.28,1724.91 1790.52,1715.02 1793.76,1704.84 1797.01,1694.45 1800.25,1683.87 1803.49,1673.16 1806.73,1662.35 1809.97,1651.46 1813.21,1640.53 1816.46,1629.59 1819.70,1618.65 1822.94,1607.75 1826.18,1596.90 1829.42,1586.13 1832.67,1575.45 1835.91,1564.89 1839.15,1554.47 1842.39,1544.20 1845.63,1534.10 1848.87,1524.19 1852.12,1514.49 1855.36,1505.01 1858.60,1495.77 1861.84,1486.78 1865.08,1478.06 1868.32,1469.62 1871.57,1461.46 1874.81,1453.61 1878.05,1446.08 1881.29,1438.86 1884.53,1431.99 1887.77,1425.45 1891.02,1419.26 1894.26,1413.43 1897.50,1407.96 1900.74,1402.87 1903.98,1398.14 1907.23,1393.79 1910.47,1389.82 1913.71,1386.23 1916.95,1383.02 1920.19,1380.20 1923.43,1377.76 1926.68,1375.70 1929.92,1374.02 1933.16,1372.71 1936.40,1371.79 1939.64,1371.23 1942.88,1371.03 1946.13,1371.19 1949.37,1371.71 1952.61,1372.58 1955.85,1373.78 1959.09,1375.32 1962.33,1377.17 1965.58,1379.35 1968.82,1381.82 1972.06,1384.60 1975.30,1387.65 1978.54,1390.98 1981.79,1394.58 1985.03,1398.43 1988.27,1402.52 1991.51,1406.84 1994.75,1411.37 1997.99,1416.11 2001.24,1421.05 2004.48,1426.17 2007.72,1431.45 2010.96,1436.89 2014.20,1442.48 2017.44,1448.20 2020.69,1454.04 2023.93,1459.99 2027.17,1466.04 2030.41,1472.17 2033.65,1478.37 2036.90,1484.63 2040.14,1490.95 2043.38,1497.30 2046.62,1503.68 2049.86,1510.09 2053.10,1516.50 2056.35,1522.91 2059.59,1529.30 2062.83,1535.68 2066.07,1542.04 2069.31,1548.35 2072.55,1554.62 2075.80,1560.84 2079.04,1567.00 2082.28,1573.09 2085.52,1579.11 2088.76,1585.06 2092.00,1590.92 2095.25,1596.69 2098.49,1602.36 2101.73,1607.94 2104.97,1613.42 2108.21,1618.79 2111.46,1624.05 2114.70,1629.19 2117.94,1634.23 2121.18,1639.15 2124.42,1643.94 2127.66,1648.62 2130.91,1653.18 2134.15,1657.61 2137.39,1661.92 2140.63,1666.11 2143.87,1670.17 2147.11,1674.12 2150.36,1677.93 2153.60,1681.63 2156.84,1685.20 2160.08,1688.65 2163.32,1691.99 2166.57,1695.20 2169.81,1698.30 2173.05,1701.29 2176.29,1704.16 2179.53,1706.92 2182.77,1709.58 2186.02,1712.12 2189.26,1714.57 2192.50,1716.91 2195.74,1719.15 2198.98,1721.29 2202.22,1723.34 2205.47,1725.30 2208.71,1727.17 2211.95,1728.96 2215.19,1730.66 2218.43,1732.28 2221.67,1733.82 2224.92,1735.29 2228.16,1736.68 2231.40,1738.00 2234.64,1739.26 2237.88,1740.45 2241.13,1741.58 2244.37,1742.64 2247.61,1743.65 2250.85,1744.61 2254.09,1745.51 2257.33,1746.36 2260.58,1747.16 2263.82,1747.92 2267.06,1748.63 2270.30,1749.30 2273.54,1749.93 2276.78,1750.53 2280.03,1751.08 2283.27,1751.60 2286.51,1752.09 2289.75,1752.55 2292.99,1752.98 2296.23,1753.39 2299.48,1753.76 2302.72,1754.11 2305.96,1754.44 2309.20,1754.75 2312.44,1755.03 2315.69,1755.30 2318.93,1755.55 2322.17,1755.78 2325.41,1755.99 2328.65,1756.19 2331.89,1756.38 2335.14,1756.55 2338.38,1756.71 2341.62,1756.85 2344.86,1756.99 2348.10,1757.12 2351.34,1757.23 2354.59,1757.34"/>
<polyline fill="none" stroke="#ff0000" stroke-width="3.40" stroke-linejoin="round" stroke-linecap="square" points="1774.31,1758.53 1777.56,1748.67 1780.80,1737.00 1784.04,1724.56 1787.28,1711.61 1790.52,1698.30 1793.76,1684.73 1797.01,1670.96 1800.25,1657.06 1803.49,1643.08 1806.73,1629.07 1809.97,1615.06 1813.21,1601.10 1816.46,1587.22 1819.70,1573.45 1822.94,1559.83 1826.18,1546.39 1829.42,1533.16 1832.67,1520.16 1835.91,1507.42 1839.15,1494.98 1842.39,1482.84 1845.63,1471.05 1848.87,1459.61 1852.12,1448.56 1855.36,1437.90 1858.60,1427.66 1861.84,1417.86 1865.08,1408.51 1868.32,1399.62 1871.57,1391.21 1874.81,1383.30 1878.05,1375.88 1881.29,1368.97 1884.53,1362.58 1887.77,1356.71 1891.02,1351.38 1894.26,1346.57 1897.50,1342.29 1900.74,1338.55 1903.98,1335.34 1907.23,1332.66 1910.47,1330.51 1913.71,1328.88 1916.95,1327.77 1920.19,1327.17 1923.43,1327.07 1926.68,1327.47 1929.92,1328.34 1933.16,1329.69 1936.40,1331.49 1939.64,1333.74 1942.88,1336.42 1946.13,1339.52 1949.37,1343.02 1952.61,1346.91 1955.85,1351.17 1959.09,1355.77 1962.33,1360.72 1965.58,1365.98 1968.82,1371.54 1972.06,1377.38 1975.30,1383.48 1978.54,1389.83 1981.79,1396.40 1985.03,1403.18 1988.27,1410.15 1991.51,1417.29 1994.75,1424.57 1997.99,1431.99 2001.24,1439.53 2004.48,1447.16 2007.72,1454.88 2010.96,1462.65 2014.20,1470.48 2017.44,1478.34 2020.69,1486.21 2023.93,1494.09 2027.17,1501.96 2030.41,1509.79 2033.65,1517.59 2036.90,1525.34 2040.14,1533.03 2043.38,1540.64 2046.62,1548.17 2049.86,1555.60 2053.10,1562.93 2056.35,1570.15 2059.59,1577.25 2062.83,1584.22 2066.07,1591.06 2069.31,1597.76 2072.55,1604.32 2075.80,1610.72 2079.04,1616.98 2082.28,1623.07 2085.52,1629.01 2088.76,1634.78 2092.00,1640.39 2095.25,1645.83 2098.49,1651.11 2101.73,1656.22 2104.97,1661.17 2108.21,1665.94 2111.46,1670.56 2114.70,1675.00 2117.94,1679.29 2121.18,1683.41 2124.42,1687.37 2127.66,1691.18 2130.91,1694.83 2134.15,1698.33 2137.39,1701.69 2140.63,1704.89 2143.87,1707.96 2147.11,1710.88 2150.36,1713.68 2153.60,1716.34 2156.84,1718.87 2160.08,1721.28 2163.32,1723.57 2166.57,1725.75 2169.81,1727.81 2173.05,1729.76 2176.29,1731.61 2179.53,1733.37 2182.77,1735.02 2186.02,1736.58 2189.26,1738.06 2192.50,1739.45 2195.74,1740.76 2198.98,1741.99 2202.22,1743.15 2205.47,1744.24 2208.71,1745.26 2211.95,1746.22 2215.19,1747.11 2218.43,1747.95 2221.67,1748.74 2224.92,1749.47 2228.16,1750.16 2231.40,1750.80 2234.64,1751.39 2237.88,1751.95 2241.13,1752.46 2244.37,1752.94 2247.61,1753.39 2250.85,1753.80 2254.09,1754.19 2257.33,1754.54 2260.58,1754.87 2263.82,1755.18 2267.06,1755.46 2270.30,1755.72 2273.54,1755.96 2276.78,1756.18 2280.03,1756.38 2283.27,1756.57 2286.51,1756.74 2289.75,1756.90 2292.99,1757.05 2296.23,1757.18 2299.48,1757.30 2302.72,1757.42 2305.96,1757.52 2309.20,1757.61 2312.44,1757.70 2315.69,1757.78 2318.93,1757.85 2322.17,1757.91 2325.41,1757.97 2328.65,1758.03 2331.89,1758.08 2335.14,1758.12 2338.38,1758.16 2341.62,1758.20 2344.86,1758.23 2348.10,1758.26 2351.34,1758.29 2354.59,1758.31"/>
<polyline fill="none" stroke="#0000ff" stroke-width="3.40" stroke-linejoin="round" stroke-linecap="square" points="1774.31,1758.53 1777.56,1735.91 1780.80,1717.92 1784.04,1701.41 1787.28,1685.84 1790.52,1670.98 1793.76,1656.72 1797.01,1642.97 1800.25,1629.69 1803.49,1616.86 1806.73,1604.45 1809.97,1592.44 1813.21,1580.83 1816.46,1569.61 1819.70,1558.77 1822.94,1548.31 1826.18,1538.23 1829.42,1528.52 1832.67,1519.19 1835.91,1510.23 1839.15,1501.65 1842.39,1493.44 1845.63,1485.60 1848.87,1478.13 1852.12,1471.03 1855.36,1464.30 1858.60,1457.94 1861.84,1451.95 1865.08,1446.32 1868.32,1441.05 1871.57,1436.14 1874.81,1431.58 1878.05,1427.38 1881.29,1423.53 1884.53,1420.03 1887.77,1416.86 1891.02,1414.04 1894.26,1411.54 1897.50,1409.37 1900.74,1407.52 1903.98,1405.99 1907.23,1404.77 1910.47,1403.85 1913.71,1403.22 1916.95,1402.89 1920.19,1402.84 1923.43,1403.07 1926.68,1403.56 1929.92,1404.31 1933.16,1405.32 1936.40,1406.58 1939.64,1408.07 1942.88,1409.79 1946.13,1411.73 1949.37,1413.89 1952.61,1416.25 1955.85,1418.80 1959.09,1421.55 1962.33,1424.47 1965.58,1427.57 1968.82,1430.83 1972.06,1434.25 1975.30,1437.81 1978.54,1441.51 1981.79,1445.34 1985.03,1449.30 1988.27,1453.37 1991.51,1457.54 1994.75,1461.82 1997.99,1466.18 2001.24,1470.63 2004.48,1475.15 2007.72,1479.75 2010.96,1484.40 2014.20,1489.11 2017.44,1493.87 2020.69,1498.66 2023.93,1503.50 2027.17,1508.36 2030.41,1513.24 2033.65,1518.14 2036.90,1523.05 2040.14,1527.96 2043.38,1532.88 2046.62,1537.78 2049.86,1542.68 2053.10,1547.56 2056.35,1552.42 2059.59,1557.26 2062.83,1562.07 2066.07,1566.85 2069.31,1571.58 2072.55,1576.28 2075.80,1580.94 2079.04,1585.55 2082.28,1590.11 2085.52,1594.62 2088.76,1599.07 2092.00,1603.46 2095.25,1607.80 2098.49,1612.07 2101.73,1616.28 2104.97,1620.42 2108.21,1624.49 2111.46,1628.50 2114.70,1632.43 2117.94,1636.30 2121.18,1640.09 2124.42,1643.81 2127.66,1647.45 2130.91,1651.02 2134.15,1654.52 2137.39,1657.94 2140.63,1661.28 2143.87,1664.55 2147.11,1667.74 2150.36,1670.86 2153.60,1673.90 2156.84,1676.87 2160.08,1679.76 2163.32,1682.57 2166.57,1685.32 2169.81,1687.99 2173.05,1690.58 2176.29,1693.11 2179.53,1695.56 2182.77,1697.95 2186.02,1700.26 2189.26,1702.51 2192.50,1704.68 2195.74,1706.80 2198.98,1708.84 2202.22,1710.83 2205.47,1712.75 2208.71,1714.60 2211.95,1716.40 2215.19,1718.14 2218.43,1719.82 2221.67,1721.44 2224.92,1723.01 2228.16,1724.52 2231.40,1725.98 2234.64,1727.39 2237.88,1728.74 2241.13,1730.05 2244.37,1731.31 2247.61,1732.52 2250.85,1733.69 2254.09,1734.81 2257.33,1735.89 2260.58,1736.93 2263.82,1737.92 2267.06,1738.88 2270.30,1739.80 2273.54,1740.68 2276.78,1741.53 2280.03,1742.34 2283.27,1743.12 2286.51,1743.86 2289.75,1744.57 2292.99,1745.26 2296.23,1745.91 2299.48,1746.54 2302.72,1747.14 2305.96,1747.71 2309.20,1748.25 2312.44,1748.78 2315.69,1749.28 2318.93,1749.75 2322.17,1750.21 2325.41,1750.64 2328.65,1751.05 2331.89,1751.45 2335.14,1751.82 2338.38,1752.18 2341.62,1752.52 2344.86,1752.84 2348.10,1753.15 2351.34,1753.44 2354.59,1753.72"/>
<rect x="1745.30" y="1305.50" width="638.30" height="474.60" fill="none" stroke="#cccccc" stroke-width="2.2"/>
<g font-size="19.3"><text transform="matrix(1 0 0 0.930 1774.31 1810.42)" text-anchor="middle">0.0</text><text transform="matrix(1 0 0 0.930 1855.36 1810.42)" text-anchor="middle">2.5</text><text transform="matrix(1 0 0 0.930 1936.40 1810.42)" text-anchor="middle">5.0</text><text transform="matrix(1 0 0 0.930 2017.44 1810.42)" text-anchor="middle">7.5</text><text transform="matrix(1 0 0 0.930 2098.49 1810.42)" text-anchor="middle">10.0</text><text transform="matrix(1 0 0 0.930 2179.53 1810.42)" text-anchor="middle">12.5</text><text transform="matrix(1 0 0 0.930 2260.58 1810.42)" text-anchor="middle">15.0</text><text transform="matrix(1 0 0 0.930 2341.62 1810.42)" text-anchor="middle">17.5</text><text transform="matrix(1 0 0 0.930 1727.30 1764.94)" text-anchor="end">0.00</text><text transform="matrix(1 0 0 0.930 1727.30 1705.51)" text-anchor="end">0.02</text><text transform="matrix(1 0 0 0.930 1727.30 1646.08)" text-anchor="end">0.04</text><text transform="matrix(1 0 0 0.930 1727.30 1586.65)" text-anchor="end">0.06</text><text transform="matrix(1 0 0 0.930 1727.30 1527.22)" text-anchor="end">0.08</text><text transform="matrix(1 0 0 0.930 1727.30 1467.78)" text-anchor="end">0.10</text><text transform="matrix(1 0 0 0.930 1727.30 1408.35)" text-anchor="end">0.12</text><text transform="matrix(1 0 0 0.930 1727.30 1348.92)" text-anchor="end">0.14</text></g>
<text transform="matrix(1 0 0 0.930 2064.45 1837.10)" font-size="21.2" text-anchor="middle">wind speed m/s</text>
<text x="2064.45" y="0.00" font-size="45.5" text-anchor="middle" transform="translate(0 1293.60) scale(1 1.05)">Tower 3 70m</text>
<g><rect x="2249.30" y="1315.20" width="125.00" height="115.40" rx="3.8" ry="3.8" fill="#fff" fill-opacity="0.8" stroke="#cccccc" stroke-width="1.75"/><line x1="2257.00" y1="1330.60" x2="2295.40" y2="1330.60" stroke="#008000" stroke-width="3.40" stroke-linecap="square"/><text transform="matrix(1 0 0 0.930 2311.30 1335.52)" font-size="19.3">Test 1</text><line x1="2257.00" y1="1358.55" x2="2295.40" y2="1358.55" stroke="#800080" stroke-width="3.40" stroke-linecap="square"/><text transform="matrix(1 0 0 0.930 2311.30 1363.47)" font-size="19.3">Test 3</text><line x1="2257.00" y1="1386.50" x2="2295.40" y2="1386.50" stroke="#ff0000" stroke-width="3.40" stroke-linecap="square"/><text transform="matrix(1 0 0 0.930 2311.30 1391.42)" font-size="19.3">Test 2</text><line x1="2257.00" y1="1414.45" x2="2295.40" y2="1414.45" stroke="#0000ff" stroke-width="3.40" stroke-linecap="square"/><text transform="matrix(1 0 0 0.930 2311.30 1419.37)" font-size="19.3">obs</text></g>
<g stroke="#d0d0d0" stroke-width="2.1"><line x1="126.81" y1="1923.40" x2="126.81" y2="2398.00"/><line x1="207.86" y1="1923.40" x2="207.86" y2="2398.00"/><line x1="288.90" y1="1923.40" x2="288.90" y2="2398.00"/><line x1="369.94" y1="1923.40" x2="369.94" y2="2398.00"/><line x1="450.99" y1="1923.40" x2="450.99" y2="2398.00"/><line x1="532.03" y1="1923.40" x2="532.03" y2="2398.00"/><line x1="613.08" y1="1923.40" x2="613.08" y2="2398.00"/><line x1="694.12" y1="1923.40" x2="694.12" y2="2398.00"/><line x1="97.80" y1="2376.43" x2="736.10" y2="2376.43"/><line x1="97.80" y1="2291.49" x2="736.10" y2="2291.49"/><line x1="97.80" y1="2206.55" x2="736.10" y2="2206.55"/><line x1="97.80" y1="2121.61" x2="736.10" y2="2121.61"/><line x1="97.80" y1="2036.67" x2="736.10" y2="2036.67"/><line x1="97.80" y1="1951.74" x2="736.10" y2="1951.74"/></g>
<polyline fill="none" stroke="#008000" stroke-width="3.40" stroke-linejoin="round" stroke-linecap="square" points="126.81,2376.43 130.06,2376.01 133.30,2374.71 136.54,2372.49 139.78,2369.33 143.02,2365.22 146.26,2360.16 149.51,2354.14 152.75,2347.17 155.99,2339.26 159.23,2330.42 162.47,2320.66 165.71,2310.02 168.96,2298.52 172.20,2286.20 175.44,2273.10 178.68,2259.28 181.92,2244.79 185.17,2229.70 188.41,2214.09 191.65,2198.02 194.89,2181.59 198.13,2164.90 201.37,2148.03 204.62,2131.11 207.86,2114.24 211.10,2097.54 214.34,2081.12 217.58,2065.11 220.82,2049.63 224.07,2034.79 227.31,2020.73 230.55,2007.56 233.79,1995.39 237.03,1984.32 240.27,1974.47 243.52,1965.91 246.76,1958.73 250.00,1953.00 253.24,1948.77 256.48,1946.08 259.73,1944.97 262.97,1945.45 266.21,1947.51 269.45,1951.13 272.69,1956.29 275.93,1962.93 279.18,1970.98 282.42,1980.37 285.66,1991.01 288.90,2002.80 292.14,2015.61 295.38,2029.34 298.63,2043.85 301.87,2059.01 305.11,2074.69 308.35,2090.74 311.59,2107.04 314.83,2123.45 318.08,2139.84 321.32,2156.10 324.56,2172.11 327.80,2187.76 331.04,2202.97 334.29,2217.65 337.53,2231.73 340.77,2245.15 344.01,2257.87 347.25,2269.84 350.49,2281.04 353.74,2291.47 356.98,2301.11 360.22,2309.98 363.46,2318.09 366.70,2325.45 369.94,2332.11 373.19,2338.09 376.43,2343.43 379.67,2348.17 382.91,2352.36 386.15,2356.03 389.40,2359.23 392.64,2362.01 395.88,2364.40 399.12,2366.45 402.36,2368.20 405.60,2369.68 408.85,2370.92 412.09,2371.96 415.33,2372.83 418.57,2373.54 421.81,2374.13 425.05,2374.60 428.30,2374.99 431.54,2375.30 434.78,2375.55 438.02,2375.75 441.26,2375.91 444.50,2376.03 447.75,2376.13 450.99,2376.20 454.23,2376.26 457.47,2376.30 460.71,2376.33 463.96,2376.36 467.20,2376.38 470.44,2376.39 473.68,2376.40 476.92,2376.41 480.16,2376.41 483.41,2376.42 486.65,2376.42 489.89,2376.42 493.13,2376.42 496.37,2376.43 499.61,2376.43 502.86,2376.43 506.10,2376.43 509.34,2376.43 512.58,2376.43 515.82,2376.43 519.07,2376.43 522.31,2376.43 525.55,2376.43 528.79,2376.43 532.03,2376.43 535.27,2376.43 538.52,2376.43 541.76,2376.43 545.00,2376.43 548.24,2376.43 551.48,2376.43 554.72,2376.43 557.97,2376.43 561.21,2376.43 564.45,2376.43 567.69,2376.43 570.93,2376.43 574.17,2376.43 577.42,2376.43 580.66,2376.43 583.90,2376.43 587.14,2376.43 590.38,2376.43 593.63,2376.43 596.87,2376.43 600.11,2376.43 603.35,2376.43 606.59,2376.43 609.83,2376.43 613.08,2376.43 616.32,2376.43 619.56,2376.43 622.80,2376.43 626.04,2376.43 629.28,2376.43 632.53,2376.43 635.77,2376.43 639.01,2376.43 642.25,2376.43 645.49,2376.43 648.73,2376.43 651.98,2376.43 655.22,2376.43 658.46,2376.43 661.70,2376.43 664.94,2376.43 668.19,2376.43 671.43,2376.43 674.67,2376.43 677.91,2376.43 681.15,2376.43 684.39,2376.43 687.64,2376.43 690.88,2376.43 694.12,2376.43 697.36,2376.43 700.60,2376.43 703.84,2376.43 707.09,2376.43"/>
<polyline fill="none" stroke="#800080" stroke-width="3.40" stroke-linejoin="round" stroke-linecap="square" points="126.81,2376.43 130.06,2375.18 133.30,2372.30 136.54,2368.14 139.78,2362.83 143.02,2356.49 146.26,2349.17 149.51,2340.96 152.75,2331.90 155.99,2322.05 159.23,2311.47 162.47,2300.22 165.71,2288.34 168.96,2275.90 172.20,2262.96 175.44,2249.59 178.68,2235.86 181.92,2221.82 185.17,2207.56 188.41,2193.16 191.65,2178.68 194.89,2164.20 198.13,2149.82 201.37,2135.60 204.62,2121.63 207.86,2108.00 211.10,2094.78 214.34,2082.05 217.58,2069.89 220.82,2058.38 224.07,2047.58 227.31,2037.57 230.55,2028.40 233.79,2020.13 237.03,2012.82 240.27,2006.51 243.52,2001.24 246.76,1997.04 250.00,1993.92 253.24,1991.92 256.48,1991.03 259.73,1991.25 262.97,1992.57 266.21,1994.99 269.45,1998.46 272.69,2002.96 275.93,2008.45 279.18,2014.87 282.42,2022.19 285.66,2030.33 288.90,2039.24 292.14,2048.84 295.38,2059.07 298.63,2069.85 301.87,2081.10 305.11,2092.74 308.35,2104.70 311.59,2116.90 314.83,2129.27 318.08,2141.72 321.32,2154.19 324.56,2166.61 327.80,2178.91 331.04,2191.04 334.29,2202.93 337.53,2214.54 340.77,2225.83 344.01,2236.75 347.25,2247.26 350.49,2257.35 353.74,2266.98 356.98,2276.14 360.22,2284.82 363.46,2293.01 366.70,2300.70 369.94,2307.90 373.19,2314.61 376.43,2320.84 379.67,2326.60 382.91,2331.91 386.15,2336.78 389.40,2341.23 392.64,2345.29 395.88,2348.97 399.12,2352.29 402.36,2355.28 405.60,2357.97 408.85,2360.37 412.09,2362.50 415.33,2364.39 418.57,2366.06 421.81,2367.53 425.05,2368.82 428.30,2369.94 431.54,2370.92 434.78,2371.77 438.02,2372.50 441.26,2373.13 444.50,2373.66 447.75,2374.12 450.99,2374.51 454.23,2374.84 457.47,2375.12 460.71,2375.35 463.96,2375.55 467.20,2375.71 470.44,2375.84 473.68,2375.95 476.92,2376.05 480.16,2376.12 483.41,2376.18 486.65,2376.23 489.89,2376.27 493.13,2376.30 496.37,2376.33 499.61,2376.35 502.86,2376.37 506.10,2376.38 509.34,2376.39 512.58,2376.40 515.82,2376.41 519.07,2376.41 522.31,2376.41 525.55,2376.42 528.79,2376.42 532.03,2376.42 535.27,2376.42 538.52,2376.42 541.76,2376.43 545.00,2376.43 548.24,2376.43 551.48,2376.43 554.72,2376.43 557.97,2376.43 561.21,2376.43 564.45,2376.43 567.69,2376.43 570.93,2376.43 574.17,2376.43 577.42,2376.43 580.66,2376.43 583.90,2376.43 587.14,2376.43 590.38,2376.43 593.63,2376.43 596.87,2376.43 600.11,2376.43 603.35,2376.43 606.59,2376.43 609.83,2376.43 613.08,2376.43 616.32,2376.43 619.56,2376.43 622.80,2376.43 626.04,2376.43 629.28,2376.43 632.53,2376.43 635.77,2376.43 639.01,2376.43 642.25,2376.43 645.49,2376.43 648.73,2376.43 651.98,2376.43 655.22,2376.43 658.46,2376.43 661.70,2376.43 664.94,2376.43 668.19,2376.43 671.43,2376.43 674.67,2376.43 677.91,2376.43 681.15,2376.43 684.39,2376.43 687.64,2376.43 690.88,2376.43 694.12,2376.43 697.36,2376.43 700.60,2376.43 703.84,2376.43 707.09,2376.43"/>
<polyline fill="none" stroke="#ff0000" stroke-width="3.40" stroke-linejoin="round" stroke-linecap="square" points="126.81,2376.43 130.06,2364.10 133.30,2351.06 136.54,2337.77 139.78,2324.37 143.02,2310.95 146.26,2297.58 149.51,2284.29 152.75,2271.14 155.99,2258.17 159.23,2245.43 162.47,2232.95 165.71,2220.77 168.96,2208.91 172.20,2197.42 175.44,2186.32 178.68,2175.63 181.92,2165.39 185.17,2155.62 188.41,2146.34 191.65,2137.57 194.89,2129.32 198.13,2121.61 201.37,2114.46 204.62,2107.87 207.86,2101.85 211.10,2096.41 214.34,2091.55 217.58,2087.27 220.82,2083.57 224.07,2080.46 227.31,2077.92 230.55,2075.95 233.79,2074.54 237.03,2073.69 240.27,2073.37 243.52,2073.58 246.76,2074.30 250.00,2075.51 253.24,2077.20 256.48,2079.35 259.73,2081.94 262.97,2084.94 266.21,2088.35 269.45,2092.12 272.69,2096.25 275.93,2100.71 279.18,2105.47 282.42,2110.52 285.66,2115.82 288.90,2121.36 292.14,2127.11 295.38,2133.04 298.63,2139.14 301.87,2145.38 305.11,2151.73 308.35,2158.19 311.59,2164.72 314.83,2171.31 318.08,2177.93 321.32,2184.57 324.56,2191.21 327.80,2197.83 331.04,2204.42 334.29,2210.96 337.53,2217.43 340.77,2223.83 344.01,2230.14 347.25,2236.34 350.49,2242.44 353.74,2248.41 356.98,2254.26 360.22,2259.97 363.46,2265.54 366.70,2270.95 369.94,2276.22 373.19,2281.32 376.43,2286.26 379.67,2291.04 382.91,2295.66 386.15,2300.11 389.40,2304.39 392.64,2308.50 395.88,2312.45 399.12,2316.23 402.36,2319.85 405.60,2323.31 408.85,2326.61 412.09,2329.75 415.33,2332.74 418.57,2335.58 421.81,2338.28 425.05,2340.84 428.30,2343.26 431.54,2345.55 434.78,2347.71 438.02,2349.74 441.26,2351.66 444.50,2353.47 447.75,2355.16 450.99,2356.75 454.23,2358.24 457.47,2359.63 460.71,2360.94 463.96,2362.15 467.20,2363.29 470.44,2364.34 473.68,2365.33 476.92,2366.24 480.16,2367.09 483.41,2367.87 486.65,2368.60 489.89,2369.27 493.13,2369.90 496.37,2370.47 499.61,2371.00 502.86,2371.49 506.10,2371.93 509.34,2372.35 512.58,2372.72 515.82,2373.07 519.07,2373.39 522.31,2373.67 525.55,2373.94 528.79,2374.18 532.03,2374.40 535.27,2374.60 538.52,2374.78 541.76,2374.95 545.00,2375.10 548.24,2375.23 551.48,2375.36 554.72,2375.47 557.97,2375.57 561.21,2375.66 564.45,2375.74 567.69,2375.82 570.93,2375.88 574.17,2375.94 577.42,2376.00 580.66,2376.04 583.90,2376.09 587.14,2376.13 590.38,2376.16 593.63,2376.19 596.87,2376.22 600.11,2376.24 603.35,2376.26 606.59,2376.28 609.83,2376.30 613.08,2376.32 616.32,2376.33 619.56,2376.34 622.80,2376.35 626.04,2376.36 629.28,2376.37 632.53,2376.38 635.77,2376.38 639.01,2376.39 642.25,2376.39 645.49,2376.40 648.73,2376.40 651.98,2376.40 655.22,2376.41 658.46,2376.41 661.70,2376.41 664.94,2376.41 668.19,2376.42 671.43,2376.42 674.67,2376.42 677.91,2376.42 681.15,2376.42 684.39,2376.42 687.64,2376.42 690.88,2376.42 694.12,2376.42 697.36,2376.42 700.60,2376.42 703.84,2376.43 707.09,2376.43"/>
<polyline fill="none" stroke="#0000ff" stroke-width="3.40" stroke-linejoin="round" stroke-linecap="square" points="126.81,2376.43 130.06,2354.46 133.30,2338.35 136.54,2323.98 139.78,2310.70 143.02,2298.25 146.26,2286.49 149.51,2275.32 152.75,2264.70 155.99,2254.58 159.23,2244.94 162.47,2235.76 165.71,2227.03 168.96,2218.72 172.20,2210.85 175.44,2203.39 178.68,2196.34 181.92,2189.70 185.17,2183.46 188.41,2177.61 191.65,2172.16 194.89,2167.09 198.13,2162.40 201.37,2158.08 204.62,2154.14 207.86,2150.55 211.10,2147.33 214.34,2144.46 217.58,2141.93 220.82,2139.74 224.07,2137.88 227.31,2136.34 230.55,2135.11 233.79,2134.19 237.03,2133.57 240.27,2133.23 243.52,2133.18 246.76,2133.39 250.00,2133.87 253.24,2134.60 256.48,2135.56 259.73,2136.77 262.97,2138.19 266.21,2139.83 269.45,2141.66 272.69,2143.70 275.93,2145.91 279.18,2148.30 282.42,2150.85 285.66,2153.55 288.90,2156.40 292.14,2159.37 295.38,2162.48 298.63,2165.70 301.87,2169.02 305.11,2172.44 308.35,2175.95 311.59,2179.54 314.83,2183.20 318.08,2186.92 321.32,2190.70 324.56,2194.52 327.80,2198.38 331.04,2202.27 334.29,2206.19 337.53,2210.12 340.77,2214.07 344.01,2218.02 347.25,2221.97 350.49,2225.92 353.74,2229.85 356.98,2233.76 360.22,2237.65 363.46,2241.51 366.70,2245.35 369.94,2249.14 373.19,2252.90 376.43,2256.61 379.67,2260.28 382.91,2263.90 386.15,2267.46 389.40,2270.97 392.64,2274.42 395.88,2277.82 399.12,2281.15 402.36,2284.41 405.60,2287.61 408.85,2290.75 412.09,2293.82 415.33,2296.81 418.57,2299.74 421.81,2302.60 425.05,2305.39 428.30,2308.11 431.54,2310.76 434.78,2313.33 438.02,2315.84 441.26,2318.27 444.50,2320.63 447.75,2322.93 450.99,2325.15 454.23,2327.31 457.47,2329.39 460.71,2331.42 463.96,2333.37 467.20,2335.26 470.44,2337.08 473.68,2338.84 476.92,2340.54 480.16,2342.18 483.41,2343.76 486.65,2345.28 489.89,2346.74 493.13,2348.15 496.37,2349.50 499.61,2350.80 502.86,2352.05 506.10,2353.25 509.34,2354.40 512.58,2355.50 515.82,2356.55 519.07,2357.57 522.31,2358.53 525.55,2359.46 528.79,2360.34 532.03,2361.19 535.27,2361.99 538.52,2362.76 541.76,2363.50 545.00,2364.20 548.24,2364.86 551.48,2365.50 554.72,2366.10 557.97,2366.68 561.21,2367.23 564.45,2367.75 567.69,2368.24 570.93,2368.71 574.17,2369.16 577.42,2369.58 580.66,2369.98 583.90,2370.36 587.14,2370.72 590.38,2371.06 593.63,2371.39 596.87,2371.69 600.11,2371.98 603.35,2372.25 606.59,2372.51 609.83,2372.75 613.08,2372.98 616.32,2373.20 619.56,2373.40 622.80,2373.59 626.04,2373.78 629.28,2373.95 632.53,2374.11 635.77,2374.26 639.01,2374.40 642.25,2374.53 645.49,2374.66 648.73,2374.78 651.98,2374.89 655.22,2374.99 658.46,2375.09 661.70,2375.18 664.94,2375.26 668.19,2375.34 671.43,2375.42 674.67,2375.49 677.91,2375.55 681.15,2375.62 684.39,2375.67 687.64,2375.73 690.88,2375.78 694.12,2375.82 697.36,2375.87 700.60,2375.91 703.84,2375.95 707.09,2375.98"/>
<rect x="97.80" y="1923.40" width="638.30" height="474.60" fill="none" stroke="#cccccc" stroke-width="2.2"/>
<g font-size="19.3"><text transform="matrix(1 0 0 0.930 126.81 2428.32)" text-anchor="middle">0.0</text><text transform="matrix(1 0 0 0.930 207.86 2428.32)" text-anchor="middle">2.5</text><text transform="matrix(1 0 0 0.930 288.90 2428.32)" text-anchor="middle">5.0</text><text transform="matrix(1 0 0 0.930 369.94 2428.32)" text-anchor="middle">7.5</text><text transform="matrix(1 0 0 0.930 450.99 2428.32)" text-anchor="middle">10.0</text><text transform="matrix(1 0 0 0.930 532.03 2428.32)" text-anchor="middle">12.5</text><text transform="matrix(1 0 0 0.930 613.08 2428.32)" text-anchor="middle">15.0</text><text transform="matrix(1 0 0 0.930 694.12 2428.32)" text-anchor="middle">17.5</text><text transform="matrix(1 0 0 0.930 79.80 2382.84)" text-anchor="end">0.00</text><text transform="matrix(1 0 0 0.930 79.80 2297.91)" text-anchor="end">0.05</text><text transform="matrix(1 0 0 0.930 79.80 2212.97)" text-anchor="end">0.10</text><text transform="matrix(1 0 0 0.930 79.80 2128.03)" text-anchor="end">0.15</text><text transform="matrix(1 0 0 0.930 79.80 2043.09)" text-anchor="end">0.20</text><text transform="matrix(1 0 0 0.930 79.80 1958.15)" text-anchor="end">0.25</text></g>
<text transform="matrix(1 0 0 0.930 416.95 2455.00)" font-size="21.2" text-anchor="middle">wind speed m/s</text>
<text x="416.95" y="0.00" font-size="45.5" text-anchor="middle" transform="translate(0 1911.50) scale(1 1.05)">Tower 4 10m</text>
<g><rect x="601.80" y="1933.10" width="125.00" height="115.40" rx="3.8" ry="3.8" fill="#fff" fill-opacity="0.8" stroke="#cccccc" stroke-width="1.75"/><line x1="609.50" y1="1948.50" x2="647.90" y2="1948.50" stroke="#008000" stroke-width="3.40" stroke-linecap="square"/><text transform="matrix(1 0 0 0.930 663.80 1953.42)" font-size="19.3">Test 1</text><line x1="609.50" y1="1976.45" x2="647.90" y2="1976.45" stroke="#800080" stroke-width="3.40" stroke-linecap="square"/><text transform="matrix(1 0 0 0.930 663.80 1981.37)" font-size="19.3">Test 3</text><line x1="609.50" y1="2004.40" x2="647.90" y2="2004.40" stroke="#ff0000" stroke-width="3.40" stroke-linecap="square"/><text transform="matrix(1 0 0 0.930 663.80 2009.32)" font-size="19.3">Test 2</text><line x1="609.50" y1="2032.35" x2="647.90" y2="2032.35" stroke="#0000ff" stroke-width="3.40" stroke-linecap="square"/><text transform="matrix(1 0 0 0.930 663.80 2037.27)" font-size="19.3">obs</text></g>
<g stroke="#d0d0d0" stroke-width="2.1"><line x1="950.56" y1="1923.40" x2="950.56" y2="2398.00"/><line x1="1031.61" y1="1923.40" x2="1031.61" y2="2398.00"/><line x1="1112.65" y1="1923.40" x2="1112.65" y2="2398.00"/><line x1="1193.69" y1="1923.40" x2="1193.69" y2="2398.00"/><line x1="1274.74" y1="1923.40" x2="1274.74" y2="2398.00"/><line x1="1355.78" y1="1923.40" x2="1355.78" y2="2398.00"/><line x1="1436.83" y1="1923.40" x2="1436.83" y2="2398.00"/><line x1="1517.87" y1="1923.40" x2="1517.87" y2="2398.00"/><line x1="921.55" y1="2376.43" x2="1559.85" y2="2376.43"/><line x1="921.55" y1="2316.17" x2="1559.85" y2="2316.17"/><line x1="921.55" y1="2255.90" x2="1559.85" y2="2255.90"/><line x1="921.55" y1="2195.64" x2="1559.85" y2="2195.64"/><line x1="921.55" y1="2135.38" x2="1559.85" y2="2135.38"/><line x1="921.55" y1="2075.12" x2="1559.85" y2="2075.12"/><line x1="921.55" y1="2014.85" x2="1559.85" y2="2014.85"/><line x1="921.55" y1="1954.59" x2="1559.85" y2="1954.59"/></g>
<polyline fill="none" stroke="#008000" stroke-width="3.40" stroke-linejoin="round" stroke-linecap="square" points="950.56,2376.43 953.81,2376.32 957.05,2375.92 960.29,2375.21 963.53,2374.16 966.77,2372.74 970.01,2370.95 973.26,2368.77 976.50,2366.20 979.74,2363.22 982.98,2359.83 986.22,2356.02 989.46,2351.80 992.71,2347.15 995.95,2342.07 999.19,2336.57 1002.43,2330.65 1005.67,2324.31 1008.92,2317.55 1012.16,2310.37 1015.40,2302.80 1018.64,2294.82 1021.88,2286.47 1025.12,2277.73 1028.37,2268.64 1031.61,2259.20 1034.85,2249.44 1038.09,2239.37 1041.33,2229.01 1044.57,2218.39 1047.82,2207.53 1051.06,2196.45 1054.30,2185.19 1057.54,2173.78 1060.78,2162.25 1064.02,2150.63 1067.27,2138.95 1070.51,2127.26 1073.75,2115.59 1076.99,2103.98 1080.23,2092.48 1083.48,2081.11 1086.72,2069.93 1089.96,2058.97 1093.20,2048.28 1096.44,2037.90 1099.68,2027.88 1102.93,2018.25 1106.17,2009.06 1109.41,2000.34 1112.65,1992.13 1115.89,1984.48 1119.13,1977.42 1122.38,1970.98 1125.62,1965.19 1128.86,1960.08 1132.10,1955.68 1135.34,1952.01 1138.58,1949.09 1141.83,1946.93 1145.07,1945.56 1148.31,1944.97 1151.55,1945.18 1154.79,1946.18 1158.04,1947.97 1161.28,1950.55 1164.52,1953.90 1167.76,1958.01 1171.00,1962.87 1174.24,1968.44 1177.49,1974.70 1180.73,1981.62 1183.97,1989.18 1187.21,1997.32 1190.45,2006.02 1193.69,2015.24 1196.94,2024.92 1200.18,2035.03 1203.42,2045.52 1206.66,2056.33 1209.90,2067.43 1213.15,2078.76 1216.39,2090.27 1219.63,2101.91 1222.87,2113.63 1226.11,2125.39 1229.35,2137.14 1232.60,2148.83 1235.84,2160.43 1239.08,2171.89 1242.32,2183.17 1245.56,2194.24 1248.80,2205.07 1252.05,2215.62 1255.29,2225.87 1258.53,2235.80 1261.77,2245.38 1265.01,2254.59 1268.25,2263.43 1271.50,2271.88 1274.74,2279.94 1277.98,2287.59 1281.22,2294.84 1284.46,2301.68 1287.71,2308.13 1290.95,2314.17 1294.19,2319.83 1297.43,2325.11 1300.67,2330.01 1303.91,2334.56 1307.16,2338.77 1310.40,2342.64 1313.64,2346.19 1316.88,2349.45 1320.12,2352.42 1323.36,2355.12 1326.61,2357.58 1329.85,2359.79 1333.09,2361.79 1336.33,2363.59 1339.57,2365.19 1342.82,2366.63 1346.06,2367.91 1349.30,2369.04 1352.54,2370.04 1355.78,2370.92 1359.02,2371.70 1362.27,2372.38 1365.51,2372.97 1368.75,2373.48 1371.99,2373.93 1375.23,2374.31 1378.47,2374.64 1381.72,2374.93 1384.96,2375.17 1388.20,2375.38 1391.44,2375.55 1394.68,2375.70 1397.92,2375.83 1401.17,2375.93 1404.41,2376.02 1407.65,2376.10 1410.89,2376.16 1414.13,2376.21 1417.38,2376.25 1420.62,2376.28 1423.86,2376.31 1427.10,2376.33 1430.34,2376.35 1433.58,2376.37 1436.83,2376.38 1440.07,2376.39 1443.31,2376.40 1446.55,2376.40 1449.79,2376.41 1453.03,2376.41 1456.28,2376.42 1459.52,2376.42 1462.76,2376.42 1466.00,2376.42 1469.24,2376.42 1472.48,2376.42 1475.73,2376.43 1478.97,2376.43 1482.21,2376.43 1485.45,2376.43 1488.69,2376.43 1491.94,2376.43 1495.18,2376.43 1498.42,2376.43 1501.66,2376.43 1504.90,2376.43 1508.14,2376.43 1511.39,2376.43 1514.63,2376.43 1517.87,2376.43 1521.11,2376.43 1524.35,2376.43 1527.59,2376.43 1530.84,2376.43"/>
<polyline fill="none" stroke="#800080" stroke-width="3.40" stroke-linejoin="round" stroke-linecap="square" points="950.56,2376.43 953.81,2376.05 957.05,2375.03 960.29,2373.42 963.53,2371.26 966.77,2368.55 970.01,2365.32 973.26,2361.57 976.50,2357.33 979.74,2352.59 982.98,2347.38 986.22,2341.69 989.46,2335.56 992.71,2328.98 995.95,2321.97 999.19,2314.54 1002.43,2306.71 1005.67,2298.50 1008.92,2289.92 1012.16,2280.99 1015.40,2271.74 1018.64,2262.17 1021.88,2252.32 1025.12,2242.21 1028.37,2231.86 1031.61,2221.30 1034.85,2210.56 1038.09,2199.66 1041.33,2188.63 1044.57,2177.52 1047.82,2166.34 1051.06,2155.13 1054.30,2143.93 1057.54,2132.77 1060.78,2121.68 1064.02,2110.70 1067.27,2099.87 1070.51,2089.22 1073.75,2078.79 1076.99,2068.61 1080.23,2058.73 1083.48,2049.17 1086.72,2039.97 1089.96,2031.17 1093.20,2022.79 1096.44,2014.87 1099.68,2007.43 1102.93,2000.52 1106.17,1994.14 1109.41,1988.34 1112.65,1983.12 1115.89,1978.52 1119.13,1974.54 1122.38,1971.21 1125.62,1968.54 1128.86,1966.53 1132.10,1965.20 1135.34,1964.55 1138.58,1964.57 1141.83,1965.28 1145.07,1966.66 1148.31,1968.71 1151.55,1971.41 1154.79,1974.76 1158.04,1978.74 1161.28,1983.33 1164.52,1988.50 1167.76,1994.24 1171.00,2000.52 1174.24,2007.31 1177.49,2014.58 1180.73,2022.30 1183.97,2030.44 1187.21,2038.95 1190.45,2047.82 1193.69,2056.99 1196.94,2066.44 1200.18,2076.12 1203.42,2086.00 1206.66,2096.03 1209.90,2106.19 1213.15,2116.44 1216.39,2126.74 1219.63,2137.05 1222.87,2147.34 1226.11,2157.57 1229.35,2167.73 1232.60,2177.77 1235.84,2187.67 1239.08,2197.40 1242.32,2206.94 1245.56,2216.27 1248.80,2225.37 1252.05,2234.21 1255.29,2242.79 1258.53,2251.08 1261.77,2259.09 1265.01,2266.79 1268.25,2274.18 1271.50,2281.26 1274.74,2288.02 1277.98,2294.46 1281.22,2300.58 1284.46,2306.38 1287.71,2311.87 1290.95,2317.05 1294.19,2321.92 1297.43,2326.49 1300.67,2330.77 1303.91,2334.78 1307.16,2338.50 1310.40,2341.97 1313.64,2345.19 1316.88,2348.16 1320.12,2350.91 1323.36,2353.43 1326.61,2355.76 1329.85,2357.88 1333.09,2359.83 1336.33,2361.60 1339.57,2363.21 1342.82,2364.68 1346.06,2366.00 1349.30,2367.20 1352.54,2368.27 1355.78,2369.24 1359.02,2370.11 1362.27,2370.88 1365.51,2371.57 1368.75,2372.19 1371.99,2372.74 1375.23,2373.22 1378.47,2373.64 1381.72,2374.02 1384.96,2374.35 1388.20,2374.64 1391.44,2374.89 1394.68,2375.11 1397.92,2375.30 1401.17,2375.47 1404.41,2375.61 1407.65,2375.73 1410.89,2375.84 1414.13,2375.93 1417.38,2376.01 1420.62,2376.08 1423.86,2376.13 1427.10,2376.18 1430.34,2376.22 1433.58,2376.26 1436.83,2376.29 1440.07,2376.31 1443.31,2376.33 1446.55,2376.35 1449.79,2376.36 1453.03,2376.37 1456.28,2376.38 1459.52,2376.39 1462.76,2376.40 1466.00,2376.40 1469.24,2376.41 1472.48,2376.41 1475.73,2376.42 1478.97,2376.42 1482.21,2376.42 1485.45,2376.42 1488.69,2376.42 1491.94,2376.42 1495.18,2376.42 1498.42,2376.42 1501.66,2376.43 1504.90,2376.43 1508.14,2376.43 1511.39,2376.43 1514.63,2376.43 1517.87,2376.43 1521.11,2376.43 1524.35,2376.43 1527.59,2376.43 1530.84,2376.43"/>
<polyline fill="none" stroke="#ff0000" stroke-width="3.40" stroke-linejoin="round" stroke-linecap="square" points="950.56,2376.43 953.81,2366.87 957.05,2356.13 960.29,2344.93 963.53,2333.44 966.77,2321.75 970.01,2309.94 973.26,2298.05 976.50,2286.13 979.74,2274.22 982.98,2262.34 986.22,2250.54 989.46,2238.83 992.71,2227.25 995.95,2215.82 999.19,2204.56 1002.43,2193.51 1005.67,2182.68 1008.92,2172.09 1012.16,2161.76 1015.40,2151.72 1018.64,2141.97 1021.88,2132.54 1025.12,2123.45 1028.37,2114.70 1031.61,2106.31 1034.85,2098.30 1038.09,2090.68 1041.33,2083.45 1044.57,2076.63 1047.82,2070.22 1051.06,2064.24 1054.30,2058.68 1057.54,2053.56 1060.78,2048.87 1064.02,2044.61 1067.27,2040.80 1070.51,2037.43 1073.75,2034.50 1076.99,2032.01 1080.23,2029.95 1083.48,2028.32 1086.72,2027.12 1089.96,2026.34 1093.20,2025.97 1096.44,2026.01 1099.68,2026.45 1102.93,2027.28 1106.17,2028.48 1109.41,2030.06 1112.65,2031.99 1115.89,2034.27 1119.13,2036.88 1122.38,2039.81 1125.62,2043.04 1128.86,2046.57 1132.10,2050.38 1135.34,2054.45 1138.58,2058.77 1141.83,2063.33 1145.07,2068.11 1148.31,2073.09 1151.55,2078.27 1154.79,2083.62 1158.04,2089.12 1161.28,2094.78 1164.52,2100.56 1167.76,2106.46 1171.00,2112.47 1174.24,2118.56 1177.49,2124.72 1180.73,2130.95 1183.97,2137.22 1187.21,2143.52 1190.45,2149.85 1193.69,2156.19 1196.94,2162.52 1200.18,2168.84 1203.42,2175.14 1206.66,2181.41 1209.90,2187.63 1213.15,2193.80 1216.39,2199.91 1219.63,2205.95 1222.87,2211.91 1226.11,2217.79 1229.35,2223.58 1232.60,2229.28 1235.84,2234.87 1239.08,2240.35 1242.32,2245.72 1245.56,2250.98 1248.80,2256.12 1252.05,2261.14 1255.29,2266.03 1258.53,2270.79 1261.77,2275.43 1265.01,2279.94 1268.25,2284.31 1271.50,2288.55 1274.74,2292.66 1277.98,2296.64 1281.22,2300.49 1284.46,2304.20 1287.71,2307.79 1290.95,2311.24 1294.19,2314.57 1297.43,2317.77 1300.67,2320.85 1303.91,2323.80 1307.16,2326.63 1310.40,2329.35 1313.64,2331.95 1316.88,2334.44 1320.12,2336.82 1323.36,2339.09 1326.61,2341.25 1329.85,2343.32 1333.09,2345.29 1336.33,2347.16 1339.57,2348.93 1342.82,2350.62 1346.06,2352.23 1349.30,2353.75 1352.54,2355.19 1355.78,2356.55 1359.02,2357.84 1362.27,2359.06 1365.51,2360.21 1368.75,2361.29 1371.99,2362.31 1375.23,2363.28 1378.47,2364.18 1381.72,2365.03 1384.96,2365.84 1388.20,2366.59 1391.44,2367.29 1394.68,2367.95 1397.92,2368.57 1401.17,2369.15 1404.41,2369.69 1407.65,2370.19 1410.89,2370.66 1414.13,2371.10 1417.38,2371.51 1420.62,2371.89 1423.86,2372.25 1427.10,2372.58 1430.34,2372.88 1433.58,2373.17 1436.83,2373.43 1440.07,2373.68 1443.31,2373.90 1446.55,2374.11 1449.79,2374.30 1453.03,2374.48 1456.28,2374.65 1459.52,2374.80 1462.76,2374.94 1466.00,2375.07 1469.24,2375.19 1472.48,2375.30 1475.73,2375.40 1478.97,2375.49 1482.21,2375.57 1485.45,2375.65 1488.69,2375.72 1491.94,2375.79 1495.18,2375.85 1498.42,2375.90 1501.66,2375.95 1504.90,2375.99 1508.14,2376.04 1511.39,2376.07 1514.63,2376.11 1517.87,2376.14 1521.11,2376.17 1524.35,2376.19 1527.59,2376.22 1530.84,2376.24"/>
<polyline fill="none" stroke="#0000ff" stroke-width="3.40" stroke-linejoin="round" stroke-linecap="square" points="950.56,2376.43 953.81,2349.66 957.05,2329.90 960.29,2312.23 963.53,2295.86 966.77,2280.47 970.01,2265.89 973.26,2252.00 976.50,2238.74 979.74,2226.07 982.98,2213.94 986.22,2202.34 989.46,2191.25 992.71,2180.66 995.95,2170.54 999.19,2160.90 1002.43,2151.73 1005.67,2143.02 1008.92,2134.77 1012.16,2126.96 1015.40,2119.60 1018.64,2112.68 1021.88,2106.20 1025.12,2100.15 1028.37,2094.52 1031.61,2089.31 1034.85,2084.52 1038.09,2080.14 1041.33,2076.16 1044.57,2072.57 1047.82,2069.37 1051.06,2066.56 1054.30,2064.12 1057.54,2062.04 1060.78,2060.32 1064.02,2058.96 1067.27,2057.93 1070.51,2057.24 1073.75,2056.87 1076.99,2056.81 1080.23,2057.06 1083.48,2057.60 1086.72,2058.43 1089.96,2059.54 1093.20,2060.90 1096.44,2062.53 1099.68,2064.40 1102.93,2066.50 1106.17,2068.82 1109.41,2071.36 1112.65,2074.10 1115.89,2077.04 1119.13,2080.16 1122.38,2083.45 1125.62,2086.90 1128.86,2090.50 1132.10,2094.25 1135.34,2098.13 1138.58,2102.13 1141.83,2106.25 1145.07,2110.47 1148.31,2114.78 1151.55,2119.18 1154.79,2123.66 1158.04,2128.21 1161.28,2132.81 1164.52,2137.47 1167.76,2142.17 1171.00,2146.91 1174.24,2151.67 1177.49,2156.46 1180.73,2161.27 1183.97,2166.08 1187.21,2170.89 1190.45,2175.70 1193.69,2180.50 1196.94,2185.28 1200.18,2190.04 1203.42,2194.78 1206.66,2199.48 1209.90,2204.15 1213.15,2208.78 1216.39,2213.36 1219.63,2217.90 1222.87,2222.38 1226.11,2226.81 1229.35,2231.18 1232.60,2235.49 1235.84,2239.74 1239.08,2243.92 1242.32,2248.03 1245.56,2252.07 1248.80,2256.04 1252.05,2259.93 1255.29,2263.75 1258.53,2267.50 1261.77,2271.16 1265.01,2274.75 1268.25,2278.26 1271.50,2281.69 1274.74,2285.04 1277.98,2288.31 1281.22,2291.50 1284.46,2294.61 1287.71,2297.63 1290.95,2300.58 1294.19,2303.45 1297.43,2306.24 1300.67,2308.95 1303.91,2311.59 1307.16,2314.14 1310.40,2316.62 1313.64,2319.03 1316.88,2321.36 1320.12,2323.62 1323.36,2325.81 1326.61,2327.92 1329.85,2329.97 1333.09,2331.94 1336.33,2333.85 1339.57,2335.70 1342.82,2337.48 1346.06,2339.20 1349.30,2340.85 1352.54,2342.45 1355.78,2343.98 1359.02,2345.46 1362.27,2346.88 1365.51,2348.25 1368.75,2349.57 1371.99,2350.83 1375.23,2352.04 1378.47,2353.21 1381.72,2354.33 1384.96,2355.40 1388.20,2356.43 1391.44,2357.41 1394.68,2358.35 1397.92,2359.26 1401.17,2360.12 1404.41,2360.94 1407.65,2361.73 1410.89,2362.49 1414.13,2363.21 1417.38,2363.90 1420.62,2364.55 1423.86,2365.18 1427.10,2365.78 1430.34,2366.35 1433.58,2366.89 1436.83,2367.40 1440.07,2367.90 1443.31,2368.36 1446.55,2368.81 1449.79,2369.23 1453.03,2369.63 1456.28,2370.01 1459.52,2370.38 1462.76,2370.72 1466.00,2371.05 1469.24,2371.36 1472.48,2371.65 1475.73,2371.93 1478.97,2372.19 1482.21,2372.44 1485.45,2372.67 1488.69,2372.90 1491.94,2373.11 1495.18,2373.31 1498.42,2373.50 1501.66,2373.68 1504.90,2373.84 1508.14,2374.00 1511.39,2374.15 1514.63,2374.29 1517.87,2374.43 1521.11,2374.55 1524.35,2374.67 1527.59,2374.78 1530.84,2374.89"/>
<rect x="921.55" y="1923.40" width="638.30" height="474.60" fill="none" stroke="#cccccc" stroke-width="2.2"/>
<g font-size="19.3"><text transform="matrix(1 0 0 0.930 950.56 2428.32)" text-anchor="middle">0.0</text><text transform="matrix(1 0 0 0.930 1031.61 2428.32)" text-anchor="middle">2.5</text><text transform="matrix(1 0 0 0.930 1112.65 2428.32)" text-anchor="middle">5.0</text><text transform="matrix(1 0 0 0.930 1193.69 2428.32)" text-anchor="middle">7.5</text><text transform="matrix(1 0 0 0.930 1274.74 2428.32)" text-anchor="middle">10.0</text><text transform="matrix(1 0 0 0.930 1355.78 2428.32)" text-anchor="middle">12.5</text><text transform="matrix(1 0 0 0.930 1436.83 2428.32)" text-anchor="middle">15.0</text><text transform="matrix(1 0 0 0.930 1517.87 2428.32)" text-anchor="middle">17.5</text><text transform="matrix(1 0 0 0.930 903.55 2382.84)" text-anchor="end">0.000</text><text transform="matrix(1 0 0 0.930 903.55 2322.58)" text-anchor="end">0.025</text><text transform="matrix(1 0 0 0.930 903.55 2262.32)" text-anchor="end">0.050</text><text transform="matrix(1 0 0 0.930 903.55 2202.06)" text-anchor="end">0.075</text><text transform="matrix(1 0 0 0.930 903.55 2141.80)" text-anchor="end">0.100</text><text transform="matrix(1 0 0 0.930 903.55 2081.53)" text-anchor="end">0.125</text><text transform="matrix(1 0 0 0.930 903.55 2021.27)" text-anchor="end">0.150</text><text transform="matrix(1 0 0 0.930 903.55 1961.01)" text-anchor="end">0.175</text></g>
<text transform="matrix(1 0 0 0.930 1240.70 2455.00)" font-size="21.2" text-anchor="middle">wind speed m/s</text>
<text x="1240.70" y="0.00" font-size="45.5" text-anchor="middle" transform="translate(0 1911.50) scale(1 1.05)">Tower 4 50m</text>
<g><rect x="1425.55" y="1933.10" width="125.00" height="115.40" rx="3.8" ry="3.8" fill="#fff" fill-opacity="0.8" stroke="#cccccc" stroke-width="1.75"/><line x1="1433.25" y1="1948.50" x2="1471.65" y2="1948.50" stroke="#008000" stroke-width="3.40" stroke-linecap="square"/><text transform="matrix(1 0 0 0.930 1487.55 1953.42)" font-size="19.3">Test 1</text><line x1="1433.25" y1="1976.45" x2="1471.65" y2="1976.45" stroke="#800080" stroke-width="3.40" stroke-linecap="square"/><text transform="matrix(1 0 0 0.930 1487.55 1981.37)" font-size="19.3">Test 3</text><line x1="1433.25" y1="2004.40" x2="1471.65" y2="2004.40" stroke="#ff0000" stroke-width="3.40" stroke-linecap="square"/><text transform="matrix(1 0 0 0.930 1487.55 2009.32)" font-size="19.3">Test 2</text><line x1="1433.25" y1="2032.35" x2="1471.65" y2="2032.35" stroke="#0000ff" stroke-width="3.40" stroke-linecap="square"/><text transform="matrix(1 0 0 0.930 1487.55 2037.27)" font-size="19.3">obs</text></g>
<g stroke="#d0d0d0" stroke-width="2.1"><line x1="1774.31" y1="1923.40" x2="1774.31" y2="2398.00"/><line x1="1855.36" y1="1923.40" x2="1855.36" y2="2398.00"/><line x1="1936.40" y1="1923.40" x2="1936.40" y2="2398.00"/><line x1="2017.44" y1="1923.40" x2="2017.44" y2="2398.00"/><line x1="2098.49" y1="1923.40" x2="2098.49" y2="2398.00"/><line x1="2179.53" y1="1923.40" x2="2179.53" y2="2398.00"/><line x1="2260.58" y1="1923.40" x2="2260.58" y2="2398.00"/><line x1="2341.62" y1="1923.40" x2="2341.62" y2="2398.00"/><line x1="1745.30" y1="2376.43" x2="2383.60" y2="2376.43"/><line x1="1745.30" y1="2310.86" x2="2383.60" y2="2310.86"/><line x1="1745.30" y1="2245.28" x2="2383.60" y2="2245.28"/><line x1="1745.30" y1="2179.71" x2="2383.60" y2="2179.71"/><line x1="1745.30" y1="2114.14" x2="2383.60" y2="2114.14"/><line x1="1745.30" y1="2048.57" x2="2383.60" y2="2048.57"/><line x1="1745.30" y1="1983.00" x2="2383.60" y2="1983.00"/></g>
<polyline fill="none" stroke="#008000" stroke-width="3.40" stroke-linejoin="round" stroke-linecap="square" points="1774.31,2376.43 1777.56,2376.32 1780.80,2375.97 1784.04,2375.34 1787.28,2374.40 1790.52,2373.15 1793.76,2371.57 1797.01,2369.66 1800.25,2367.41 1803.49,2364.81 1806.73,2361.85 1809.97,2358.54 1813.21,2354.87 1816.46,2350.84 1819.70,2346.44 1822.94,2341.68 1826.18,2336.56 1829.42,2331.07 1832.67,2325.23 1835.91,2319.02 1839.15,2312.47 1842.39,2305.57 1845.63,2298.32 1848.87,2290.75 1852.12,2282.85 1855.36,2274.64 1858.60,2266.13 1861.84,2257.34 1865.08,2248.27 1868.32,2238.94 1871.57,2229.36 1874.81,2219.57 1878.05,2209.57 1881.29,2199.39 1884.53,2189.05 1887.77,2178.57 1891.02,2167.98 1894.26,2157.30 1897.50,2146.56 1900.74,2135.78 1903.98,2125.01 1907.23,2114.26 1910.47,2103.57 1913.71,2092.97 1916.95,2082.49 1920.19,2072.16 1923.43,2062.02 1926.68,2052.09 1929.92,2042.42 1933.16,2033.04 1936.40,2023.97 1939.64,2015.25 1942.88,2006.91 1946.13,1998.98 1949.37,1991.50 1952.61,1984.48 1955.85,1977.97 1959.09,1971.97 1962.33,1966.53 1965.58,1961.66 1968.82,1957.37 1972.06,1953.70 1975.30,1950.66 1978.54,1948.25 1981.79,1946.50 1985.03,1945.40 1988.27,1944.97 1991.51,1945.21 1994.75,1946.13 1997.99,1947.70 2001.24,1949.95 2004.48,1952.84 2007.72,1956.38 2010.96,1960.55 2014.20,1965.34 2017.44,1970.72 2020.69,1976.67 2023.93,1983.17 2027.17,1990.20 2030.41,1997.72 2033.65,2005.70 2036.90,2014.12 2040.14,2022.93 2043.38,2032.12 2046.62,2041.62 2049.86,2051.42 2053.10,2061.48 2056.35,2071.75 2059.59,2082.19 2062.83,2092.78 2066.07,2103.47 2069.31,2114.22 2072.55,2125.00 2075.80,2135.77 2079.04,2146.50 2082.28,2157.15 2085.52,2167.70 2088.76,2178.11 2092.00,2188.35 2095.25,2198.40 2098.49,2208.24 2101.73,2217.84 2104.97,2227.18 2108.21,2236.24 2111.46,2245.01 2114.70,2253.48 2117.94,2261.64 2121.18,2269.46 2124.42,2276.96 2127.66,2284.12 2130.91,2290.95 2134.15,2297.43 2137.39,2303.57 2140.63,2309.38 2143.87,2314.86 2147.11,2320.01 2150.36,2324.85 2153.60,2329.37 2156.84,2333.59 2160.08,2337.52 2163.32,2341.16 2166.57,2344.54 2169.81,2347.66 2173.05,2350.53 2176.29,2353.17 2179.53,2355.59 2182.77,2357.81 2186.02,2359.82 2189.26,2361.66 2192.50,2363.32 2195.74,2364.82 2198.98,2366.18 2202.22,2367.40 2205.47,2368.49 2208.71,2369.47 2211.95,2370.34 2215.19,2371.12 2218.43,2371.81 2221.67,2372.42 2224.92,2372.96 2228.16,2373.43 2231.40,2373.85 2234.64,2374.21 2237.88,2374.53 2241.13,2374.81 2244.37,2375.05 2247.61,2375.26 2250.85,2375.44 2254.09,2375.59 2257.33,2375.72 2260.58,2375.83 2263.82,2375.93 2267.06,2376.01 2270.30,2376.08 2273.54,2376.14 2276.78,2376.19 2280.03,2376.23 2283.27,2376.27 2286.51,2376.29 2289.75,2376.32 2292.99,2376.34 2296.23,2376.36 2299.48,2376.37 2302.72,2376.38 2305.96,2376.39 2309.20,2376.40 2312.44,2376.40 2315.69,2376.41 2318.93,2376.41 2322.17,2376.41 2325.41,2376.42 2328.65,2376.42 2331.89,2376.42 2335.14,2376.42 2338.38,2376.42 2341.62,2376.42 2344.86,2376.43 2348.10,2376.43 2351.34,2376.43 2354.59,2376.43"/>
<polyline fill="none" stroke="#800080" stroke-width="3.40" stroke-linejoin="round" stroke-linecap="square" points="1774.31,2376.43 1777.56,2376.00 1780.80,2374.90 1784.04,2373.24 1787.28,2371.05 1790.52,2368.35 1793.76,2365.17 1797.01,2361.53 1800.25,2357.44 1803.49,2352.92 1806.73,2347.97 1809.97,2342.62 1813.21,2336.87 1816.46,2330.73 1819.70,2324.23 1822.94,2317.36 1826.18,2310.16 1829.42,2302.62 1832.67,2294.77 1835.91,2286.62 1839.15,2278.19 1842.39,2269.49 1845.63,2260.54 1848.87,2251.37 1852.12,2241.98 1855.36,2232.41 1858.60,2222.67 1861.84,2212.78 1865.08,2202.78 1868.32,2192.67 1871.57,2182.49 1874.81,2172.25 1878.05,2161.99 1881.29,2151.74 1884.53,2141.51 1887.77,2131.33 1891.02,2121.23 1894.26,2111.25 1897.50,2101.39 1900.74,2091.71 1903.98,2082.21 1907.23,2072.93 1910.47,2063.89 1913.71,2055.12 1916.95,2046.65 1920.19,2038.50 1923.43,2030.70 1926.68,2023.26 1929.92,2016.22 1933.16,2009.59 1936.40,2003.40 1939.64,1997.66 1942.88,1992.39 1946.13,1987.61 1949.37,1983.34 1952.61,1979.57 1955.85,1976.34 1959.09,1973.64 1962.33,1971.49 1965.58,1969.89 1968.82,1968.84 1972.06,1968.35 1975.30,1968.42 1978.54,1969.04 1981.79,1970.21 1985.03,1971.93 1988.27,1974.19 1991.51,1976.97 1994.75,1980.27 1997.99,1984.08 2001.24,1988.37 2004.48,1993.14 2007.72,1998.35 2010.96,2004.01 2014.20,2010.07 2017.44,2016.53 2020.69,2023.35 2023.93,2030.52 2027.17,2038.00 2030.41,2045.78 2033.65,2053.82 2036.90,2062.10 2040.14,2070.59 2043.38,2079.27 2046.62,2088.10 2049.86,2097.06 2053.10,2106.12 2056.35,2115.25 2059.59,2124.43 2062.83,2133.63 2066.07,2142.83 2069.31,2152.01 2072.55,2161.13 2075.80,2170.18 2079.04,2179.13 2082.28,2187.97 2085.52,2196.68 2088.76,2205.24 2092.00,2213.63 2095.25,2221.84 2098.49,2229.85 2101.73,2237.66 2104.97,2245.24 2108.21,2252.60 2111.46,2259.73 2114.70,2266.61 2117.94,2273.24 2121.18,2279.63 2124.42,2285.76 2127.66,2291.63 2130.91,2297.25 2134.15,2302.61 2137.39,2307.71 2140.63,2312.57 2143.87,2317.17 2147.11,2321.54 2150.36,2325.66 2153.60,2329.55 2156.84,2333.21 2160.08,2336.65 2163.32,2339.88 2166.57,2342.90 2169.81,2345.72 2173.05,2348.35 2176.29,2350.80 2179.53,2353.08 2182.77,2355.19 2186.02,2357.14 2189.26,2358.94 2192.50,2360.60 2195.74,2362.13 2198.98,2363.53 2202.22,2364.82 2205.47,2365.99 2208.71,2367.07 2211.95,2368.04 2215.19,2368.93 2218.43,2369.74 2221.67,2370.47 2224.92,2371.13 2228.16,2371.73 2231.40,2372.26 2234.64,2372.74 2237.88,2373.18 2241.13,2373.56 2244.37,2373.91 2247.61,2374.22 2250.85,2374.49 2254.09,2374.73 2257.33,2374.95 2260.58,2375.14 2263.82,2375.31 2267.06,2375.46 2270.30,2375.59 2273.54,2375.70 2276.78,2375.80 2280.03,2375.89 2283.27,2375.96 2286.51,2376.03 2289.75,2376.09 2292.99,2376.14 2296.23,2376.18 2299.48,2376.22 2302.72,2376.25 2305.96,2376.28 2309.20,2376.30 2312.44,2376.32 2315.69,2376.34 2318.93,2376.35 2322.17,2376.36 2325.41,2376.37 2328.65,2376.38 2331.89,2376.39 2335.14,2376.40 2338.38,2376.40 2341.62,2376.41 2344.86,2376.41 2348.10,2376.41 2351.34,2376.42 2354.59,2376.42"/>
<polyline fill="none" stroke="#ff0000" stroke-width="3.40" stroke-linejoin="round" stroke-linecap="square" points="1774.31,2376.43 1777.56,2366.65 1780.80,2355.80 1784.04,2344.52 1787.28,2332.99 1790.52,2321.28 1793.76,2309.45 1797.01,2297.57 1800.25,2285.65 1803.49,2273.75 1806.73,2261.88 1809.97,2250.08 1813.21,2238.38 1816.46,2226.79 1819.70,2215.34 1822.94,2204.05 1826.18,2192.95 1829.42,2182.05 1832.67,2171.37 1835.91,2160.94 1839.15,2150.77 1842.39,2140.87 1845.63,2131.26 1848.87,2121.96 1852.12,2112.99 1855.36,2104.34 1858.60,2096.04 1861.84,2088.10 1865.08,2080.53 1868.32,2073.33 1871.57,2066.52 1874.81,2060.10 1878.05,2054.08 1881.29,2048.46 1884.53,2043.26 1887.77,2038.46 1891.02,2034.08 1894.26,2030.11 1897.50,2026.56 1900.74,2023.42 1903.98,2020.71 1907.23,2018.40 1910.47,2016.50 1913.71,2015.01 1916.95,2013.92 1920.19,2013.22 1923.43,2012.92 1926.68,2012.99 1929.92,2013.44 1933.16,2014.26 1936.40,2015.43 1939.64,2016.95 1942.88,2018.81 1946.13,2020.99 1949.37,2023.49 1952.61,2026.30 1955.85,2029.39 1959.09,2032.77 1962.33,2036.42 1965.58,2040.31 1968.82,2044.45 1972.06,2048.82 1975.30,2053.41 1978.54,2058.19 1981.79,2063.17 1985.03,2068.32 1988.27,2073.63 1991.51,2079.09 1994.75,2084.68 1997.99,2090.39 2001.24,2096.22 2004.48,2102.13 2007.72,2108.13 2010.96,2114.21 2014.20,2120.34 2017.44,2126.51 2020.69,2132.72 2023.93,2138.96 2027.17,2145.21 2030.41,2151.46 2033.65,2157.70 2036.90,2163.93 2040.14,2170.13 2043.38,2176.29 2046.62,2182.41 2049.86,2188.48 2053.10,2194.49 2056.35,2200.43 2059.59,2206.30 2062.83,2212.10 2066.07,2217.80 2069.31,2223.42 2072.55,2228.94 2075.80,2234.36 2079.04,2239.68 2082.28,2244.89 2085.52,2249.98 2088.76,2254.97 2092.00,2259.84 2095.25,2264.59 2098.49,2269.22 2101.73,2273.73 2104.97,2278.11 2108.21,2282.38 2111.46,2286.52 2114.70,2290.53 2117.94,2294.42 2121.18,2298.19 2124.42,2301.84 2127.66,2305.36 2130.91,2308.76 2134.15,2312.04 2137.39,2315.21 2140.63,2318.25 2143.87,2321.19 2147.11,2324.01 2150.36,2326.71 2153.60,2329.31 2156.84,2331.81 2160.08,2334.20 2163.32,2336.48 2166.57,2338.67 2169.81,2340.76 2173.05,2342.76 2176.29,2344.67 2179.53,2346.49 2182.77,2348.22 2186.02,2349.87 2189.26,2351.44 2192.50,2352.94 2195.74,2354.35 2198.98,2355.70 2202.22,2356.97 2205.47,2358.18 2208.71,2359.33 2211.95,2360.41 2215.19,2361.44 2218.43,2362.41 2221.67,2363.32 2224.92,2364.18 2228.16,2365.00 2231.40,2365.76 2234.64,2366.49 2237.88,2367.16 2241.13,2367.80 2244.37,2368.40 2247.61,2368.96 2250.85,2369.49 2254.09,2369.98 2257.33,2370.45 2260.58,2370.88 2263.82,2371.28 2267.06,2371.66 2270.30,2372.02 2273.54,2372.35 2276.78,2372.65 2280.03,2372.94 2283.27,2373.21 2286.51,2373.46 2289.75,2373.69 2292.99,2373.90 2296.23,2374.10 2299.48,2374.29 2302.72,2374.46 2305.96,2374.62 2309.20,2374.76 2312.44,2374.90 2315.69,2375.03 2318.93,2375.14 2322.17,2375.25 2325.41,2375.35 2328.65,2375.44 2331.89,2375.52 2335.14,2375.60 2338.38,2375.67 2341.62,2375.74 2344.86,2375.80 2348.10,2375.86 2351.34,2375.91 2354.59,2375.95"/>
<polyline fill="none" stroke="#0000ff" stroke-width="3.40" stroke-linejoin="round" stroke-linecap="square" points="1774.31,2376.43 1777.56,2371.25 1780.80,2364.13 1784.04,2356.04 1787.28,2347.26 1790.52,2337.94 1793.76,2328.18 1797.01,2318.07 1800.25,2307.65 1803.49,2296.98 1806.73,2286.11 1809.97,2275.08 1813.21,2263.92 1816.46,2252.67 1819.70,2241.36 1822.94,2230.03 1826.18,2218.71 1829.42,2207.41 1832.67,2196.19 1835.91,2185.05 1839.15,2174.03 1842.39,2163.15 1845.63,2152.45 1848.87,2141.94 1852.12,2131.64 1855.36,2121.59 1858.60,2111.79 1861.84,2102.28 1865.08,2093.08 1868.32,2084.19 1871.57,2075.64 1874.81,2067.45 1878.05,2059.64 1881.29,2052.21 1884.53,2045.18 1887.77,2038.56 1891.02,2032.37 1894.26,2026.61 1897.50,2021.30 1900.74,2016.43 1903.98,2012.02 1907.23,2008.08 1910.47,2004.59 1913.71,2001.57 1916.95,1999.02 1920.19,1996.94 1923.43,1995.32 1926.68,1994.17 1929.92,1993.47 1933.16,1993.23 1936.40,1993.43 1939.64,1994.08 1942.88,1995.15 1946.13,1996.65 1949.37,1998.56 1952.61,2000.87 1955.85,2003.57 1959.09,2006.65 1962.33,2010.09 1965.58,2013.87 1968.82,2017.99 1972.06,2022.42 1975.30,2027.16 1978.54,2032.18 1981.79,2037.47 1985.03,2043.01 1988.27,2048.79 1991.51,2054.78 1994.75,2060.97 1997.99,2067.35 2001.24,2073.88 2004.48,2080.57 2007.72,2087.38 2010.96,2094.31 2014.20,2101.33 2017.44,2108.43 2020.69,2115.59 2023.93,2122.80 2027.17,2130.04 2030.41,2137.30 2033.65,2144.55 2036.90,2151.80 2040.14,2159.02 2043.38,2166.21 2046.62,2173.34 2049.86,2180.41 2053.10,2187.41 2056.35,2194.32 2059.59,2201.14 2062.83,2207.86 2066.07,2214.47 2069.31,2220.96 2072.55,2227.33 2075.80,2233.56 2079.04,2239.66 2082.28,2245.61 2085.52,2251.42 2088.76,2257.08 2092.00,2262.59 2095.25,2267.94 2098.49,2273.13 2101.73,2278.16 2104.97,2283.03 2108.21,2287.73 2111.46,2292.28 2114.70,2296.66 2117.94,2300.89 2121.18,2304.95 2124.42,2308.86 2127.66,2312.61 2130.91,2316.20 2134.15,2319.65 2137.39,2322.94 2140.63,2326.09 2143.87,2329.09 2147.11,2331.96 2150.36,2334.69 2153.60,2337.29 2156.84,2339.76 2160.08,2342.10 2163.32,2344.32 2166.57,2346.43 2169.81,2348.42 2173.05,2350.30 2176.29,2352.08 2179.53,2353.76 2182.77,2355.34 2186.02,2356.83 2189.26,2358.23 2192.50,2359.55 2195.74,2360.78 2198.98,2361.94 2202.22,2363.02 2205.47,2364.03 2208.71,2364.98 2211.95,2365.87 2215.19,2366.69 2218.43,2367.46 2221.67,2368.17 2224.92,2368.84 2228.16,2369.46 2231.40,2370.03 2234.64,2370.56 2237.88,2371.05 2241.13,2371.51 2244.37,2371.93 2247.61,2372.32 2250.85,2372.68 2254.09,2373.01 2257.33,2373.31 2260.58,2373.59 2263.82,2373.85 2267.06,2374.08 2270.30,2374.30 2273.54,2374.50 2276.78,2374.68 2280.03,2374.84 2283.27,2375.00 2286.51,2375.13 2289.75,2375.26 2292.99,2375.37 2296.23,2375.48 2299.48,2375.57 2302.72,2375.66 2305.96,2375.74 2309.20,2375.81 2312.44,2375.87 2315.69,2375.93 2318.93,2375.98 2322.17,2376.03 2325.41,2376.07 2328.65,2376.11 2331.89,2376.14 2335.14,2376.17 2338.38,2376.20 2341.62,2376.23 2344.86,2376.25 2348.10,2376.27 2351.34,2376.29 2354.59,2376.30"/>
<rect x="1745.30" y="1923.40" width="638.30" height="474.60" fill="none" stroke="#cccccc" stroke-width="2.2"/>
<g font-size="19.3"><text transform="matrix(1 0 0 0.930 1774.31 2428.32)" text-anchor="middle">0.0</text><text transform="matrix(1 0 0 0.930 1855.36 2428.32)" text-anchor="middle">2.5</text><text transform="matrix(1 0 0 0.930 1936.40 2428.32)" text-anchor="middle">5.0</text><text transform="matrix(1 0 0 0.930 2017.44 2428.32)" text-anchor="middle">7.5</text><text transform="matrix(1 0 0 0.930 2098.49 2428.32)" text-anchor="middle">10.0</text><text transform="matrix(1 0 0 0.930 2179.53 2428.32)" text-anchor="middle">12.5</text><text transform="matrix(1 0 0 0.930 2260.58 2428.32)" text-anchor="middle">15.0</text><text transform="matrix(1 0 0 0.930 2341.62 2428.32)" text-anchor="middle">17.5</text><text transform="matrix(1 0 0 0.930 1727.30 2382.84)" text-anchor="end">0.000</text><text transform="matrix(1 0 0 0.930 1727.30 2317.27)" text-anchor="end">0.025</text><text transform="matrix(1 0 0 0.930 1727.30 2251.70)" text-anchor="end">0.050</text><text transform="matrix(1 0 0 0.930 1727.30 2186.13)" text-anchor="end">0.075</text><text transform="matrix(1 0 0 0.930 1727.30 2120.56)" text-anchor="end">0.100</text><text transform="matrix(1 0 0 0.930 1727.30 2054.99)" text-anchor="end">0.125</text><text transform="matrix(1 0 0 0.930 1727.30 1989.41)" text-anchor="end">0.150</text></g>
<text transform="matrix(1 0 0 0.930 2064.45 2455.00)" font-size="21.2" text-anchor="middle">wind speed m/s</text>
<text x="2064.45" y="0.00" font-size="45.5" text-anchor="middle" transform="translate(0 1911.50) scale(1 1.05)">Tower 4 70m</text>
<g><rect x="2249.30" y="1933.10" width="125.00" height="115.40" rx="3.8" ry="3.8" fill="#fff" fill-opacity="0.8" stroke="#cccccc" stroke-width="1.75"/><line x1="2257.00" y1="1948.50" x2="2295.40" y2="1948.50" stroke="#008000" stroke-width="3.40" stroke-linecap="square"/><text transform="matrix(1 0 0 0.930 2311.30 1953.42)" font-size="19.3">Test 1</text><line x1="2257.00" y1="1976.45" x2="2295.40" y2="1976.45" stroke="#800080" stroke-width="3.40" stroke-linecap="square"/><text transform="matrix(1 0 0 0.930 2311.30 1981.37)" font-size="19.3">Test 3</text><line x1="2257.00" y1="2004.40" x2="2295.40" y2="2004.40" stroke="#ff0000" stroke-width="3.40" stroke-linecap="square"/><text transform="matrix(1 0 0 0.930 2311.30 2009.32)" font-size="19.3">Test 2</text><line x1="2257.00" y1="2032.35" x2="2295.40" y2="2032.35" stroke="#0000ff" stroke-width="3.40" stroke-linecap="square"/><text transform="matrix(1 0 0 0.930 2311.30 2037.27)" font-size="19.3">obs</text></g>
<g stroke="#d0d0d0" stroke-width="2.1"><line x1="126.81" y1="2541.30" x2="126.81" y2="3015.90"/><line x1="207.86" y1="2541.30" x2="207.86" y2="3015.90"/><line x1="288.90" y1="2541.30" x2="288.90" y2="3015.90"/><line x1="369.94" y1="2541.30" x2="369.94" y2="3015.90"/><line x1="450.99" y1="2541.30" x2="450.99" y2="3015.90"/><line x1="532.03" y1="2541.30" x2="532.03" y2="3015.90"/><line x1="613.08" y1="2541.30" x2="613.08" y2="3015.90"/><line x1="694.12" y1="2541.30" x2="694.12" y2="3015.90"/><line x1="97.80" y1="2994.33" x2="736.10" y2="2994.33"/><line x1="97.80" y1="2897.80" x2="736.10" y2="2897.80"/><line x1="97.80" y1="2801.26" x2="736.10" y2="2801.26"/><line x1="97.80" y1="2704.73" x2="736.10" y2="2704.73"/><line x1="97.80" y1="2608.20" x2="736.10" y2="2608.20"/></g>
<polyline fill="none" stroke="#008000" stroke-width="3.40" stroke-linejoin="round" stroke-linecap="square" points="126.81,2994.33 130.06,2990.34 133.30,2983.28 136.54,2974.29 139.78,2963.78 143.02,2952.01 146.26,2939.14 149.51,2925.33 152.75,2910.70 155.99,2895.37 159.23,2879.45 162.47,2863.04 165.71,2846.24 168.96,2829.15 172.20,2811.88 175.44,2794.52 178.68,2777.18 181.92,2759.94 185.17,2742.91 188.41,2726.19 191.65,2709.86 194.89,2694.02 198.13,2678.75 201.37,2664.14 204.62,2650.27 207.86,2637.22 211.10,2625.05 214.34,2613.84 217.58,2603.63 220.82,2594.48 224.07,2586.44 227.31,2579.53 230.55,2573.80 233.79,2569.26 237.03,2565.92 240.27,2563.79 243.52,2562.87 246.76,2563.15 250.00,2564.59 253.24,2567.19 256.48,2570.90 259.73,2575.69 262.97,2581.50 266.21,2588.28 269.45,2595.98 272.69,2604.54 275.93,2613.88 279.18,2623.93 282.42,2634.62 285.66,2645.89 288.90,2657.64 292.14,2669.81 295.38,2682.32 298.63,2695.09 301.87,2708.05 305.11,2721.13 308.35,2734.26 311.59,2747.37 314.83,2760.41 318.08,2773.30 321.32,2786.00 324.56,2798.46 327.80,2810.64 331.04,2822.48 334.29,2833.97 337.53,2845.06 340.77,2855.73 344.01,2865.96 347.25,2875.74 350.49,2885.04 353.74,2893.87 356.98,2902.23 360.22,2910.10 363.46,2917.49 366.70,2924.42 369.94,2930.88 373.19,2936.89 376.43,2942.47 379.67,2947.63 382.91,2952.38 386.15,2956.75 389.40,2960.75 392.64,2964.40 395.88,2967.73 399.12,2970.75 402.36,2973.48 405.60,2975.94 408.85,2978.16 412.09,2980.14 415.33,2981.92 418.57,2983.50 421.81,2984.91 425.05,2986.15 428.30,2987.25 431.54,2988.22 434.78,2989.07 438.02,2989.82 441.26,2990.47 444.50,2991.03 447.75,2991.52 450.99,2991.95 454.23,2992.31 457.47,2992.63 460.71,2992.90 463.96,2993.13 467.20,2993.32 470.44,2993.49 473.68,2993.63 476.92,2993.75 480.16,2993.85 483.41,2993.93 486.65,2994.00 489.89,2994.06 493.13,2994.11 496.37,2994.15 499.61,2994.18 502.86,2994.21 506.10,2994.23 509.34,2994.25 512.58,2994.27 515.82,2994.28 519.07,2994.29 522.31,2994.30 525.55,2994.30 528.79,2994.31 532.03,2994.31 535.27,2994.32 538.52,2994.32 541.76,2994.32 545.00,2994.32 548.24,2994.32 551.48,2994.32 554.72,2994.32 557.97,2994.33 561.21,2994.33 564.45,2994.33 567.69,2994.33 570.93,2994.33 574.17,2994.33 577.42,2994.33 580.66,2994.33 583.90,2994.33 587.14,2994.33 590.38,2994.33 593.63,2994.33 596.87,2994.33 600.11,2994.33 603.35,2994.33 606.59,2994.33 609.83,2994.33 613.08,2994.33 616.32,2994.33 619.56,2994.33 622.80,2994.33 626.04,2994.33 629.28,2994.33 632.53,2994.33 635.77,2994.33 639.01,2994.33 642.25,2994.33 645.49,2994.33 648.73,2994.33 651.98,2994.33 655.22,2994.33 658.46,2994.33 661.70,2994.33 664.94,2994.33 668.19,2994.33 671.43,2994.33 674.67,2994.33 677.91,2994.33 681.15,2994.33 684.39,2994.33 687.64,2994.33 690.88,2994.33 694.12,2994.33 697.36,2994.33 700.60,2994.33 703.84,2994.33 707.09,2994.33"/>
<polyline fill="none" stroke="#800080" stroke-width="3.40" stroke-linejoin="round" stroke-linecap="square" points="126.81,2994.33 130.06,2986.05 133.30,2974.46 136.54,2961.20 139.78,2946.78 143.02,2931.46 146.26,2915.46 149.51,2898.92 152.75,2882.00 155.99,2864.80 159.23,2847.43 162.47,2830.00 165.71,2812.61 168.96,2795.35 172.20,2778.31 175.44,2761.58 178.68,2745.23 181.92,2729.35 185.17,2714.01 188.41,2699.28 191.65,2685.24 194.89,2671.93 198.13,2659.41 201.37,2647.75 204.62,2636.98 207.86,2627.15 211.10,2618.28 214.34,2610.42 217.58,2603.57 220.82,2597.76 224.07,2593.01 227.31,2589.30 230.55,2586.65 233.79,2585.04 237.03,2584.45 240.27,2584.89 243.52,2586.31 246.76,2588.68 250.00,2591.99 253.24,2596.18 256.48,2601.21 259.73,2607.05 262.97,2613.63 266.21,2620.92 269.45,2628.85 272.69,2637.37 275.93,2646.43 279.18,2655.97 282.42,2665.92 285.66,2676.24 288.90,2686.86 292.14,2697.73 295.38,2708.79 298.63,2719.99 301.87,2731.28 305.11,2742.60 308.35,2753.92 311.59,2765.17 314.83,2776.33 318.08,2787.35 321.32,2798.20 324.56,2808.84 327.80,2819.25 331.04,2829.39 334.29,2839.25 337.53,2848.79 340.77,2858.02 344.01,2866.90 347.25,2875.44 350.49,2883.62 353.74,2891.43 356.98,2898.88 360.22,2905.95 363.46,2912.66 366.70,2919.01 369.94,2924.99 373.19,2930.62 376.43,2935.91 379.67,2940.86 382.91,2945.49 386.15,2949.80 389.40,2953.81 392.64,2957.52 395.88,2960.96 399.12,2964.14 402.36,2967.07 405.60,2969.76 408.85,2972.23 412.09,2974.49 415.33,2976.55 418.57,2978.43 421.81,2980.14 425.05,2981.68 428.30,2983.09 431.54,2984.35 434.78,2985.49 438.02,2986.52 441.26,2987.44 444.50,2988.26 447.75,2988.99 450.99,2989.65 454.23,2990.23 457.47,2990.75 460.71,2991.21 463.96,2991.61 467.20,2991.97 470.44,2992.28 473.68,2992.56 476.92,2992.80 480.16,2993.01 483.41,2993.20 486.65,2993.36 489.89,2993.50 493.13,2993.62 496.37,2993.72 499.61,2993.81 502.86,2993.89 506.10,2993.95 509.34,2994.01 512.58,2994.06 515.82,2994.10 519.07,2994.14 522.31,2994.17 525.55,2994.19 528.79,2994.22 532.03,2994.23 535.27,2994.25 538.52,2994.26 541.76,2994.27 545.00,2994.28 548.24,2994.29 551.48,2994.30 554.72,2994.30 557.97,2994.31 561.21,2994.31 564.45,2994.31 567.69,2994.32 570.93,2994.32 574.17,2994.32 577.42,2994.32 580.66,2994.32 583.90,2994.32 587.14,2994.32 590.38,2994.32 593.63,2994.33 596.87,2994.33 600.11,2994.33 603.35,2994.33 606.59,2994.33 609.83,2994.33 613.08,2994.33 616.32,2994.33 619.56,2994.33 622.80,2994.33 626.04,2994.33 629.28,2994.33 632.53,2994.33 635.77,2994.33 639.01,2994.33 642.25,2994.33 645.49,2994.33 648.73,2994.33 651.98,2994.33 655.22,2994.33 658.46,2994.33 661.70,2994.33 664.94,2994.33 668.19,2994.33 671.43,2994.33 674.67,2994.33 677.91,2994.33 681.15,2994.33 684.39,2994.33 687.64,2994.33 690.88,2994.33 694.12,2994.33 697.36,2994.33 700.60,2994.33 703.84,2994.33 707.09,2994.33"/>
<polyline fill="none" stroke="#ff0000" stroke-width="3.40" stroke-linejoin="round" stroke-linecap="square" points="126.81,2994.33 130.06,2978.37 133.30,2960.82 136.54,2942.70 139.78,2924.28 143.02,2905.73 146.26,2887.16 149.51,2868.69 152.75,2850.39 155.99,2832.36 159.23,2814.67 162.47,2797.38 165.71,2780.57 168.96,2764.29 172.20,2748.61 175.44,2733.56 178.68,2719.22 181.92,2705.61 185.17,2692.77 188.41,2680.75 191.65,2669.58 194.89,2659.27 198.13,2649.86 201.37,2641.36 204.62,2633.79 207.86,2627.14 211.10,2621.43 214.34,2616.65 217.58,2612.81 220.82,2609.88 224.07,2607.86 227.31,2606.74 230.55,2606.48 233.79,2607.07 237.03,2608.48 240.27,2610.67 243.52,2613.63 246.76,2617.30 250.00,2621.66 253.24,2626.67 256.48,2632.28 259.73,2638.46 262.97,2645.16 266.21,2652.34 269.45,2659.95 272.69,2667.95 275.93,2676.30 279.18,2684.96 282.42,2693.88 285.66,2703.01 288.90,2712.33 292.14,2721.78 295.38,2731.34 298.63,2740.95 301.87,2750.60 305.11,2760.25 308.35,2769.85 311.59,2779.39 314.83,2788.84 318.08,2798.16 321.32,2807.35 324.56,2816.36 327.80,2825.20 331.04,2833.83 334.29,2842.24 337.53,2850.42 340.77,2858.36 344.01,2866.04 347.25,2873.47 350.49,2880.63 353.74,2887.51 356.98,2894.13 360.22,2900.46 363.46,2906.52 366.70,2912.30 369.94,2917.81 373.19,2923.05 376.43,2928.03 379.67,2932.74 382.91,2937.19 386.15,2941.40 389.40,2945.37 392.64,2949.10 395.88,2952.60 399.12,2955.89 402.36,2958.96 405.60,2961.83 408.85,2964.51 412.09,2967.01 415.33,2969.33 418.57,2971.49 421.81,2973.49 425.05,2975.33 428.30,2977.04 431.54,2978.62 434.78,2980.07 438.02,2981.40 441.26,2982.63 444.50,2983.75 447.75,2984.78 450.99,2985.72 454.23,2986.58 457.47,2987.36 460.71,2988.07 463.96,2988.72 467.20,2989.30 470.44,2989.84 473.68,2990.32 476.92,2990.75 480.16,2991.14 483.41,2991.49 486.65,2991.81 489.89,2992.09 493.13,2992.35 496.37,2992.58 499.61,2992.78 502.86,2992.96 506.10,2993.12 509.34,2993.27 512.58,2993.40 515.82,2993.51 519.07,2993.61 522.31,2993.70 525.55,2993.78 528.79,2993.85 532.03,2993.91 535.27,2993.96 538.52,2994.01 541.76,2994.05 545.00,2994.09 548.24,2994.12 551.48,2994.15 554.72,2994.17 557.97,2994.19 561.21,2994.21 564.45,2994.23 567.69,2994.24 570.93,2994.25 574.17,2994.26 577.42,2994.27 580.66,2994.28 583.90,2994.29 587.14,2994.29 590.38,2994.30 593.63,2994.30 596.87,2994.31 600.11,2994.31 603.35,2994.31 606.59,2994.31 609.83,2994.32 613.08,2994.32 616.32,2994.32 619.56,2994.32 622.80,2994.32 626.04,2994.32 629.28,2994.32 632.53,2994.32 635.77,2994.32 639.01,2994.33 642.25,2994.33 645.49,2994.33 648.73,2994.33 651.98,2994.33 655.22,2994.33 658.46,2994.33 661.70,2994.33 664.94,2994.33 668.19,2994.33 671.43,2994.33 674.67,2994.33 677.91,2994.33 681.15,2994.33 684.39,2994.33 687.64,2994.33 690.88,2994.33 694.12,2994.33 697.36,2994.33 700.60,2994.33 703.84,2994.33 707.09,2994.33"/>
<polyline fill="none" stroke="#0000ff" stroke-width="3.40" stroke-linejoin="round" stroke-linecap="square" points="126.81,2994.33 130.06,2992.39 133.30,2989.26 136.54,2985.43 139.78,2981.07 143.02,2976.27 146.26,2971.09 149.51,2965.59 152.75,2959.80 155.99,2953.74 159.23,2947.46 162.47,2940.97 165.71,2934.30 168.96,2927.47 172.20,2920.51 175.44,2913.42 178.68,2906.24 181.92,2898.97 185.17,2891.65 188.41,2884.28 191.65,2876.89 194.89,2869.50 198.13,2862.11 201.37,2854.76 204.62,2847.45 207.86,2840.21 211.10,2833.04 214.34,2825.97 217.58,2819.01 220.82,2812.19 224.07,2805.50 227.31,2798.97 230.55,2792.62 233.79,2786.45 237.03,2780.49 240.27,2774.73 243.52,2769.20 246.76,2763.91 250.00,2758.87 253.24,2754.08 256.48,2749.56 259.73,2745.32 262.97,2741.36 266.21,2737.70 269.45,2734.33 272.69,2731.27 275.93,2728.51 279.18,2726.07 282.42,2723.94 285.66,2722.13 288.90,2720.64 292.14,2719.47 295.38,2718.62 298.63,2718.09 301.87,2717.87 305.11,2717.96 308.35,2718.36 311.59,2719.07 314.83,2720.07 318.08,2721.37 321.32,2722.95 324.56,2724.82 327.80,2726.95 331.04,2729.35 334.29,2732.00 337.53,2734.89 340.77,2738.01 344.01,2741.36 347.25,2744.91 350.49,2748.67 353.74,2752.62 356.98,2756.74 360.22,2761.02 363.46,2765.46 366.70,2770.04 369.94,2774.74 373.19,2779.56 376.43,2784.48 379.67,2789.49 382.91,2794.57 386.15,2799.72 389.40,2804.92 392.64,2810.17 395.88,2815.44 399.12,2820.73 402.36,2826.03 405.60,2831.33 408.85,2836.61 412.09,2841.87 415.33,2847.10 418.57,2852.29 421.81,2857.42 425.05,2862.50 428.30,2867.51 431.54,2872.45 434.78,2877.31 438.02,2882.09 441.26,2886.78 444.50,2891.37 447.75,2895.86 450.99,2900.24 454.23,2904.52 457.47,2908.68 460.71,2912.74 463.96,2916.67 467.20,2920.49 470.44,2924.19 473.68,2927.77 476.92,2931.22 480.16,2934.56 483.41,2937.77 486.65,2940.87 489.89,2943.84 493.13,2946.70 496.37,2949.43 499.61,2952.06 502.86,2954.56 506.10,2956.96 509.34,2959.25 512.58,2961.43 515.82,2963.50 519.07,2965.47 522.31,2967.34 525.55,2969.12 528.79,2970.80 532.03,2972.39 535.27,2973.90 538.52,2975.32 541.76,2976.66 545.00,2977.92 548.24,2979.11 551.48,2980.22 554.72,2981.27 557.97,2982.25 561.21,2983.17 564.45,2984.03 567.69,2984.83 570.93,2985.58 574.17,2986.27 577.42,2986.92 580.66,2987.53 583.90,2988.09 587.14,2988.61 590.38,2989.09 593.63,2989.54 596.87,2989.95 600.11,2990.34 603.35,2990.69 606.59,2991.01 609.83,2991.31 613.08,2991.58 616.32,2991.84 619.56,2992.07 622.80,2992.28 626.04,2992.47 629.28,2992.65 632.53,2992.81 635.77,2992.96 639.01,2993.10 642.25,2993.22 645.49,2993.33 648.73,2993.43 651.98,2993.52 655.22,2993.61 658.46,2993.68 661.70,2993.75 664.94,2993.81 668.19,2993.87 671.43,2993.92 674.67,2993.96 677.91,2994.00 681.15,2994.04 684.39,2994.07 687.64,2994.10 690.88,2994.12 694.12,2994.15 697.36,2994.17 700.60,2994.19 703.84,2994.20 707.09,2994.22"/>
<rect x="97.80" y="2541.30" width="638.30" height="474.60" fill="none" stroke="#cccccc" stroke-width="2.2"/>
<g font-size="19.3"><text transform="matrix(1 0 0 0.930 126.81 3046.22)" text-anchor="middle">0.0</text><text transform="matrix(1 0 0 0.930 207.86 3046.22)" text-anchor="middle">2.5</text><text transform="matrix(1 0 0 0.930 288.90 3046.22)" text-anchor="middle">5.0</text><text transform="matrix(1 0 0 0.930 369.94 3046.22)" text-anchor="middle">7.5</text><text transform="matrix(1 0 0 0.930 450.99 3046.22)" text-anchor="middle">10.0</text><text transform="matrix(1 0 0 0.930 532.03 3046.22)" text-anchor="middle">12.5</text><text transform="matrix(1 0 0 0.930 613.08 3046.22)" text-anchor="middle">15.0</text><text transform="matrix(1 0 0 0.930 694.12 3046.22)" text-anchor="middle">17.5</text><text transform="matrix(1 0 0 0.930 79.80 3000.74)" text-anchor="end">0.00</text><text transform="matrix(1 0 0 0.930 79.80 2904.21)" text-anchor="end">0.05</text><text transform="matrix(1 0 0 0.930 79.80 2807.68)" text-anchor="end">0.10</text><text transform="matrix(1 0 0 0.930 79.80 2711.15)" text-anchor="end">0.15</text><text transform="matrix(1 0 0 0.930 79.80 2614.62)" text-anchor="end">0.20</text></g>
<text transform="matrix(1 0 0 0.930 416.95 3072.90)" font-size="21.2" text-anchor="middle">wind speed m/s</text>
<text x="416.95" y="0.00" font-size="45.5" text-anchor="middle" transform="translate(0 2529.40) scale(1 1.05)">Tower 5 10m</text>
<g><rect x="601.80" y="2551.00" width="125.00" height="115.40" rx="3.8" ry="3.8" fill="#fff" fill-opacity="0.8" stroke="#cccccc" stroke-width="1.75"/><line x1="609.50" y1="2566.40" x2="647.90" y2="2566.40" stroke="#008000" stroke-width="3.40" stroke-linecap="square"/><text transform="matrix(1 0 0 0.930 663.80 2571.32)" font-size="19.3">Test 1</text><line x1="609.50" y1="2594.35" x2="647.90" y2="2594.35" stroke="#800080" stroke-width="3.40" stroke-linecap="square"/><text transform="matrix(1 0 0 0.930 663.80 2599.27)" font-size="19.3">Test 3</text><line x1="609.50" y1="2622.30" x2="647.90" y2="2622.30" stroke="#ff0000" stroke-width="3.40" stroke-linecap="square"/><text transform="matrix(1 0 0 0.930 663.80 2627.22)" font-size="19.3">Test 2</text><line x1="609.50" y1="2650.25" x2="647.90" y2="2650.25" stroke="#0000ff" stroke-width="3.40" stroke-linecap="square"/><text transform="matrix(1 0 0 0.930 663.80 2655.17)" font-size="19.3">obs</text></g>
<g stroke="#d0d0d0" stroke-width="2.1"><line x1="950.56" y1="2541.30" x2="950.56" y2="3015.90"/><line x1="1031.61" y1="2541.30" x2="1031.61" y2="3015.90"/><line x1="1112.65" y1="2541.30" x2="1112.65" y2="3015.90"/><line x1="1193.69" y1="2541.30" x2="1193.69" y2="3015.90"/><line x1="1274.74" y1="2541.30" x2="1274.74" y2="3015.90"/><line x1="1355.78" y1="2541.30" x2="1355.78" y2="3015.90"/><line x1="1436.83" y1="2541.30" x2="1436.83" y2="3015.90"/><line x1="1517.87" y1="2541.30" x2="1517.87" y2="3015.90"/><line x1="921.55" y1="2994.33" x2="1559.85" y2="2994.33"/><line x1="921.55" y1="2940.54" x2="1559.85" y2="2940.54"/><line x1="921.55" y1="2886.76" x2="1559.85" y2="2886.76"/><line x1="921.55" y1="2832.97" x2="1559.85" y2="2832.97"/><line x1="921.55" y1="2779.18" x2="1559.85" y2="2779.18"/><line x1="921.55" y1="2725.40" x2="1559.85" y2="2725.40"/><line x1="921.55" y1="2671.61" x2="1559.85" y2="2671.61"/><line x1="921.55" y1="2617.83" x2="1559.85" y2="2617.83"/><line x1="921.55" y1="2564.04" x2="1559.85" y2="2564.04"/></g>
<polyline fill="none" stroke="#008000" stroke-width="3.40" stroke-linejoin="round" stroke-linecap="square" points="950.56,2994.33 953.81,2994.33 957.05,2994.33 960.29,2994.33 963.53,2994.32 966.77,2994.32 970.01,2994.30 973.26,2994.27 976.50,2994.23 979.74,2994.15 982.98,2994.03 986.22,2993.85 989.46,2993.60 992.71,2993.26 995.95,2992.80 999.19,2992.18 1002.43,2991.39 1005.67,2990.39 1008.92,2989.13 1012.16,2987.57 1015.40,2985.66 1018.64,2983.35 1021.88,2980.57 1025.12,2977.28 1028.37,2973.39 1031.61,2968.85 1034.85,2963.57 1038.09,2957.49 1041.33,2950.53 1044.57,2942.61 1047.82,2933.66 1051.06,2923.61 1054.30,2912.41 1057.54,2899.99 1060.78,2886.32 1064.02,2871.38 1067.27,2855.16 1070.51,2837.70 1073.75,2819.05 1076.99,2799.29 1080.23,2778.55 1083.48,2757.03 1086.72,2734.92 1089.96,2712.52 1093.20,2690.14 1096.44,2668.16 1099.68,2647.01 1102.93,2627.15 1106.17,2609.06 1109.41,2593.28 1112.65,2580.30 1115.89,2570.62 1119.13,2564.69 1122.38,2562.87 1125.62,2565.47 1128.86,2572.63 1132.10,2584.38 1135.34,2600.59 1138.58,2620.95 1141.83,2645.00 1145.07,2672.14 1148.31,2701.62 1151.55,2732.61 1154.79,2764.23 1158.04,2795.61 1161.28,2825.90 1164.52,2854.39 1167.76,2880.47 1171.00,2903.71 1174.24,2923.88 1177.49,2940.89 1180.73,2954.83 1183.97,2965.91 1187.21,2974.47 1190.45,2980.86 1193.69,2985.48 1196.94,2988.71 1200.18,2990.88 1203.42,2992.29 1206.66,2993.17 1209.90,2993.69 1213.15,2994.00 1216.39,2994.16 1219.63,2994.25 1222.87,2994.29 1226.11,2994.31 1229.35,2994.32 1232.60,2994.32 1235.84,2994.33 1239.08,2994.33 1242.32,2994.33 1245.56,2994.33 1248.80,2994.33 1252.05,2994.33 1255.29,2994.33 1258.53,2994.33 1261.77,2994.33 1265.01,2994.33 1268.25,2994.33 1271.50,2994.33 1274.74,2994.33 1277.98,2994.33 1281.22,2994.33 1284.46,2994.33 1287.71,2994.33 1290.95,2994.33 1294.19,2994.33 1297.43,2994.33 1300.67,2994.33 1303.91,2994.33 1307.16,2994.33 1310.40,2994.33 1313.64,2994.33 1316.88,2994.33 1320.12,2994.33 1323.36,2994.33 1326.61,2994.33 1329.85,2994.33 1333.09,2994.33 1336.33,2994.33 1339.57,2994.33 1342.82,2994.33 1346.06,2994.33 1349.30,2994.33 1352.54,2994.33 1355.78,2994.33 1359.02,2994.33 1362.27,2994.33 1365.51,2994.33 1368.75,2994.33 1371.99,2994.33 1375.23,2994.33 1378.47,2994.33 1381.72,2994.33 1384.96,2994.33 1388.20,2994.33 1391.44,2994.33 1394.68,2994.33 1397.92,2994.33 1401.17,2994.33 1404.41,2994.33 1407.65,2994.33 1410.89,2994.33 1414.13,2994.33 1417.38,2994.33 1420.62,2994.33 1423.86,2994.33 1427.10,2994.33 1430.34,2994.33 1433.58,2994.33 1436.83,2994.33 1440.07,2994.33 1443.31,2994.33 1446.55,2994.33 1449.79,2994.33 1453.03,2994.33 1456.28,2994.33 1459.52,2994.33 1462.76,2994.33 1466.00,2994.33 1469.24,2994.33 1472.48,2994.33 1475.73,2994.33 1478.97,2994.33 1482.21,2994.33 1485.45,2994.33 1488.69,2994.33 1491.94,2994.33 1495.18,2994.33 1498.42,2994.33 1501.66,2994.33 1504.90,2994.33 1508.14,2994.33 1511.39,2994.33 1514.63,2994.33 1517.87,2994.33 1521.11,2994.33 1524.35,2994.33 1527.59,2994.33 1530.84,2994.33"/>
<polyline fill="none" stroke="#800080" stroke-width="3.40" stroke-linejoin="round" stroke-linecap="square" points="950.56,2994.33 953.81,2994.33 957.05,2994.33 960.29,2994.32 963.53,2994.30 966.77,2994.26 970.01,2994.17 973.26,2994.04 976.50,2993.83 979.74,2993.52 982.98,2993.08 986.22,2992.48 989.46,2991.69 992.71,2990.66 995.95,2989.36 999.19,2987.73 1002.43,2985.73 1005.67,2983.31 1008.92,2980.40 1012.16,2976.96 1015.40,2972.92 1018.64,2968.22 1021.88,2962.80 1025.12,2956.60 1028.37,2949.56 1031.61,2941.63 1034.85,2932.74 1038.09,2922.85 1041.33,2911.94 1044.57,2899.96 1047.82,2886.92 1051.06,2872.80 1054.30,2857.64 1057.54,2841.47 1060.78,2824.38 1064.02,2806.44 1067.27,2787.80 1070.51,2768.60 1073.75,2749.06 1076.99,2729.38 1080.23,2709.84 1083.48,2690.72 1086.72,2672.36 1089.96,2655.09 1093.20,2639.28 1096.44,2625.30 1099.68,2613.52 1102.93,2604.27 1106.17,2597.89 1109.41,2594.65 1112.65,2594.76 1115.89,2598.36 1119.13,2605.52 1122.38,2616.20 1125.62,2630.25 1128.86,2647.44 1132.10,2667.42 1135.34,2689.77 1138.58,2713.98 1141.83,2739.48 1145.07,2765.69 1148.31,2792.01 1151.55,2817.85 1154.79,2842.69 1158.04,2866.06 1161.28,2887.59 1164.52,2907.02 1167.76,2924.18 1171.00,2939.01 1174.24,2951.55 1177.49,2961.91 1180.73,2970.28 1183.97,2976.87 1187.21,2981.95 1190.45,2985.76 1193.69,2988.54 1196.94,2990.52 1200.18,2991.89 1203.42,2992.81 1206.66,2993.41 1209.90,2993.79 1213.15,2994.02 1216.39,2994.16 1219.63,2994.24 1222.87,2994.28 1226.11,2994.30 1229.35,2994.32 1232.60,2994.32 1235.84,2994.33 1239.08,2994.33 1242.32,2994.33 1245.56,2994.33 1248.80,2994.33 1252.05,2994.33 1255.29,2994.33 1258.53,2994.33 1261.77,2994.33 1265.01,2994.33 1268.25,2994.33 1271.50,2994.33 1274.74,2994.33 1277.98,2994.33 1281.22,2994.33 1284.46,2994.33 1287.71,2994.33 1290.95,2994.33 1294.19,2994.33 1297.43,2994.33 1300.67,2994.33 1303.91,2994.33 1307.16,2994.33 1310.40,2994.33 1313.64,2994.33 1316.88,2994.33 1320.12,2994.33 1323.36,2994.33 1326.61,2994.33 1329.85,2994.33 1333.09,2994.33 1336.33,2994.33 1339.57,2994.33 1342.82,2994.33 1346.06,2994.33 1349.30,2994.33 1352.54,2994.33 1355.78,2994.33 1359.02,2994.33 1362.27,2994.33 1365.51,2994.33 1368.75,2994.33 1371.99,2994.33 1375.23,2994.33 1378.47,2994.33 1381.72,2994.33 1384.96,2994.33 1388.20,2994.33 1391.44,2994.33 1394.68,2994.33 1397.92,2994.33 1401.17,2994.33 1404.41,2994.33 1407.65,2994.33 1410.89,2994.33 1414.13,2994.33 1417.38,2994.33 1420.62,2994.33 1423.86,2994.33 1427.10,2994.33 1430.34,2994.33 1433.58,2994.33 1436.83,2994.33 1440.07,2994.33 1443.31,2994.33 1446.55,2994.33 1449.79,2994.33 1453.03,2994.33 1456.28,2994.33 1459.52,2994.33 1462.76,2994.33 1466.00,2994.33 1469.24,2994.33 1472.48,2994.33 1475.73,2994.33 1478.97,2994.33 1482.21,2994.33 1485.45,2994.33 1488.69,2994.33 1491.94,2994.33 1495.18,2994.33 1498.42,2994.33 1501.66,2994.33 1504.90,2994.33 1508.14,2994.33 1511.39,2994.33 1514.63,2994.33 1517.87,2994.33 1521.11,2994.33 1524.35,2994.33 1527.59,2994.33 1530.84,2994.33"/>
<polyline fill="none" stroke="#ff0000" stroke-width="3.40" stroke-linejoin="round" stroke-linecap="square" points="950.56,2994.33 953.81,2994.33 957.05,2994.31 960.29,2994.25 963.53,2994.13 966.77,2993.92 970.01,2993.56 973.26,2993.04 976.50,2992.30 979.74,2991.30 982.98,2990.00 986.22,2988.35 989.46,2986.29 992.71,2983.79 995.95,2980.78 999.19,2977.23 1002.43,2973.07 1005.67,2968.27 1008.92,2962.76 1012.16,2956.52 1015.40,2949.49 1018.64,2941.65 1021.88,2932.96 1025.12,2923.40 1028.37,2912.96 1031.61,2901.64 1034.85,2889.45 1038.09,2876.41 1041.33,2862.55 1044.57,2847.95 1047.82,2832.67 1051.06,2816.80 1054.30,2800.47 1057.54,2783.81 1060.78,2766.97 1064.02,2750.14 1067.27,2733.52 1070.51,2717.31 1073.75,2701.75 1076.99,2687.08 1080.23,2673.55 1083.48,2661.40 1086.72,2650.89 1089.96,2642.23 1093.20,2635.65 1096.44,2631.33 1099.68,2629.42 1102.93,2630.04 1106.17,2633.25 1109.41,2639.05 1112.65,2647.42 1115.89,2658.24 1119.13,2671.37 1122.38,2686.57 1125.62,2703.60 1128.86,2722.15 1132.10,2741.87 1135.34,2762.41 1138.58,2783.38 1141.83,2804.43 1145.07,2825.19 1148.31,2845.33 1151.55,2864.55 1154.79,2882.63 1158.04,2899.35 1161.28,2914.57 1164.52,2928.23 1167.76,2940.27 1171.00,2950.73 1174.24,2959.67 1177.49,2967.18 1180.73,2973.39 1183.97,2978.42 1187.21,2982.45 1190.45,2985.60 1193.69,2988.02 1196.94,2989.86 1200.18,2991.21 1203.42,2992.20 1206.66,2992.90 1209.90,2993.39 1213.15,2993.72 1216.39,2993.95 1219.63,2994.09 1222.87,2994.19 1226.11,2994.24 1229.35,2994.28 1232.60,2994.30 1235.84,2994.31 1239.08,2994.32 1242.32,2994.32 1245.56,2994.33 1248.80,2994.33 1252.05,2994.33 1255.29,2994.33 1258.53,2994.33 1261.77,2994.33 1265.01,2994.33 1268.25,2994.33 1271.50,2994.33 1274.74,2994.33 1277.98,2994.33 1281.22,2994.33 1284.46,2994.33 1287.71,2994.33 1290.95,2994.33 1294.19,2994.33 1297.43,2994.33 1300.67,2994.33 1303.91,2994.33 1307.16,2994.33 1310.40,2994.33 1313.64,2994.33 1316.88,2994.33 1320.12,2994.33 1323.36,2994.33 1326.61,2994.33 1329.85,2994.33 1333.09,2994.33 1336.33,2994.33 1339.57,2994.33 1342.82,2994.33 1346.06,2994.33 1349.30,2994.33 1352.54,2994.33 1355.78,2994.33 1359.02,2994.33 1362.27,2994.33 1365.51,2994.33 1368.75,2994.33 1371.99,2994.33 1375.23,2994.33 1378.47,2994.33 1381.72,2994.33 1384.96,2994.33 1388.20,2994.33 1391.44,2994.33 1394.68,2994.33 1397.92,2994.33 1401.17,2994.33 1404.41,2994.33 1407.65,2994.33 1410.89,2994.33 1414.13,2994.33 1417.38,2994.33 1420.62,2994.33 1423.86,2994.33 1427.10,2994.33 1430.34,2994.33 1433.58,2994.33 1436.83,2994.33 1440.07,2994.33 1443.31,2994.33 1446.55,2994.33 1449.79,2994.33 1453.03,2994.33 1456.28,2994.33 1459.52,2994.33 1462.76,2994.33 1466.00,2994.33 1469.24,2994.33 1472.48,2994.33 1475.73,2994.33 1478.97,2994.33 1482.21,2994.33 1485.45,2994.33 1488.69,2994.33 1491.94,2994.33 1495.18,2994.33 1498.42,2994.33 1501.66,2994.33 1504.90,2994.33 1508.14,2994.33 1511.39,2994.33 1514.63,2994.33 1517.87,2994.33 1521.11,2994.33 1524.35,2994.33 1527.59,2994.33 1530.84,2994.33"/>
<polyline fill="none" stroke="#0000ff" stroke-width="3.40" stroke-linejoin="round" stroke-linecap="square" points="950.56,2994.33 953.81,2994.33 957.05,2994.33 960.29,2994.33 963.53,2994.33 966.77,2994.33 970.01,2994.33 973.26,2994.32 976.50,2994.32 979.74,2994.31 982.98,2994.31 986.22,2994.29 989.46,2994.28 992.71,2994.26 995.95,2994.23 999.19,2994.19 1002.43,2994.14 1005.67,2994.08 1008.92,2994.00 1012.16,2993.91 1015.40,2993.80 1018.64,2993.67 1021.88,2993.51 1025.12,2993.32 1028.37,2993.10 1031.61,2992.84 1034.85,2992.54 1038.09,2992.20 1041.33,2991.81 1044.57,2991.37 1047.82,2990.86 1051.06,2990.29 1054.30,2989.65 1057.54,2988.94 1060.78,2988.14 1064.02,2987.25 1067.27,2986.27 1070.51,2985.18 1073.75,2983.98 1076.99,2982.67 1080.23,2981.22 1083.48,2979.65 1086.72,2977.93 1089.96,2976.07 1093.20,2974.04 1096.44,2971.86 1099.68,2969.49 1102.93,2966.95 1106.17,2964.22 1109.41,2961.29 1112.65,2958.15 1115.89,2954.81 1119.13,2951.25 1122.38,2947.46 1125.62,2943.45 1128.86,2939.21 1132.10,2934.73 1135.34,2930.01 1138.58,2925.06 1141.83,2919.86 1145.07,2914.44 1148.31,2908.78 1151.55,2902.89 1154.79,2896.79 1158.04,2890.48 1161.28,2883.98 1164.52,2877.30 1167.76,2870.45 1171.00,2863.46 1174.24,2856.35 1177.49,2849.15 1180.73,2841.89 1183.97,2834.60 1187.21,2827.31 1190.45,2820.07 1193.69,2812.91 1196.94,2805.88 1200.18,2799.02 1203.42,2792.39 1206.66,2786.04 1209.90,2780.01 1213.15,2774.36 1216.39,2769.15 1219.63,2764.42 1222.87,2760.23 1226.11,2756.63 1229.35,2753.67 1232.60,2751.40 1235.84,2749.85 1239.08,2749.06 1242.32,2749.06 1245.56,2749.87 1248.80,2751.52 1252.05,2754.01 1255.29,2757.33 1258.53,2761.49 1261.77,2766.45 1265.01,2772.20 1268.25,2778.69 1271.50,2785.88 1274.74,2793.71 1277.98,2802.11 1281.22,2811.02 1284.46,2820.35 1287.71,2830.02 1290.95,2839.94 1294.19,2850.02 1297.43,2860.17 1300.67,2870.30 1303.91,2880.33 1307.16,2890.16 1310.40,2899.73 1313.64,2908.95 1316.88,2917.78 1320.12,2926.15 1323.36,2934.02 1326.61,2941.36 1329.85,2948.14 1333.09,2954.36 1336.33,2960.01 1339.57,2965.09 1342.82,2969.62 1346.06,2973.63 1349.30,2977.13 1352.54,2980.17 1355.78,2982.78 1359.02,2985.00 1362.27,2986.86 1365.51,2988.41 1368.75,2989.69 1371.99,2990.73 1375.23,2991.56 1378.47,2992.23 1381.72,2992.75 1384.96,2993.16 1388.20,2993.47 1391.44,2993.71 1394.68,2993.88 1397.92,2994.01 1401.17,2994.11 1404.41,2994.18 1407.65,2994.23 1410.89,2994.26 1414.13,2994.28 1417.38,2994.30 1420.62,2994.31 1423.86,2994.32 1427.10,2994.32 1430.34,2994.32 1433.58,2994.32 1436.83,2994.33 1440.07,2994.33 1443.31,2994.33 1446.55,2994.33 1449.79,2994.33 1453.03,2994.33 1456.28,2994.33 1459.52,2994.33 1462.76,2994.33 1466.00,2994.33 1469.24,2994.33 1472.48,2994.33 1475.73,2994.33 1478.97,2994.33 1482.21,2994.33 1485.45,2994.33 1488.69,2994.33 1491.94,2994.33 1495.18,2994.33 1498.42,2994.33 1501.66,2994.33 1504.90,2994.33 1508.14,2994.33 1511.39,2994.33 1514.63,2994.33 1517.87,2994.33 1521.11,2994.33 1524.35,2994.33 1527.59,2994.33 1530.84,2994.33"/>
<rect x="921.55" y="2541.30" width="638.30" height="474.60" fill="none" stroke="#cccccc" stroke-width="2.2"/>
<g font-size="19.3"><text transform="matrix(1 0 0 0.930 950.56 3046.22)" text-anchor="middle">0.0</text><text transform="matrix(1 0 0 0.930 1031.61 3046.22)" text-anchor="middle">2.5</text><text transform="matrix(1 0 0 0.930 1112.65 3046.22)" text-anchor="middle">5.0</text><text transform="matrix(1 0 0 0.930 1193.69 3046.22)" text-anchor="middle">7.5</text><text transform="matrix(1 0 0 0.930 1274.74 3046.22)" text-anchor="middle">10.0</text><text transform="matrix(1 0 0 0.930 1355.78 3046.22)" text-anchor="middle">12.5</text><text transform="matrix(1 0 0 0.930 1436.83 3046.22)" text-anchor="middle">15.0</text><text transform="matrix(1 0 0 0.930 1517.87 3046.22)" text-anchor="middle">17.5</text><text transform="matrix(1 0 0 0.930 903.55 3000.74)" text-anchor="end">0.00</text><text transform="matrix(1 0 0 0.930 903.55 2946.96)" text-anchor="end">0.05</text><text transform="matrix(1 0 0 0.930 903.55 2893.17)" text-anchor="end">0.10</text><text transform="matrix(1 0 0 0.930 903.55 2839.39)" text-anchor="end">0.15</text><text transform="matrix(1 0 0 0.930 903.55 2785.60)" text-anchor="end">0.20</text><text transform="matrix(1 0 0 0.930 903.55 2731.82)" text-anchor="end">0.25</text><text transform="matrix(1 0 0 0.930 903.55 2678.03)" text-anchor="end">0.30</text><text transform="matrix(1 0 0 0.930 903.55 2624.24)" text-anchor="end">0.35</text><text transform="matrix(1 0 0 0.930 903.55 2570.46)" text-anchor="end">0.40</text></g>
<text transform="matrix(1 0 0 0.930 1240.70 3072.90)" font-size="21.2" text-anchor="middle">wind speed m/s</text>
<text x="1240.70" y="0.00" font-size="45.5" text-anchor="middle" transform="translate(0 2529.40) scale(1 1.05)">Tower 5 50m</text>
<g><rect x="1425.55" y="2551.00" width="125.00" height="115.40" rx="3.8" ry="3.8" fill="#fff" fill-opacity="0.8" stroke="#cccccc" stroke-width="1.75"/><line x1="1433.25" y1="2566.40" x2="1471.65" y2="2566.40" stroke="#008000" stroke-width="3.40" stroke-linecap="square"/><text transform="matrix(1 0 0 0.930 1487.55 2571.32)" font-size="19.3">Test 1</text><line x1="1433.25" y1="2594.35" x2="1471.65" y2="2594.35" stroke="#800080" stroke-width="3.40" stroke-linecap="square"/><text transform="matrix(1 0 0 0.930 1487.55 2599.27)" font-size="19.3">Test 3</text><line x1="1433.25" y1="2622.30" x2="1471.65" y2="2622.30" stroke="#ff0000" stroke-width="3.40" stroke-linecap="square"/><text transform="matrix(1 0 0 0.930 1487.55 2627.22)" font-size="19.3">Test 2</text><line x1="1433.25" y1="2650.25" x2="1471.65" y2="2650.25" stroke="#0000ff" stroke-width="3.40" stroke-linecap="square"/><text transform="matrix(1 0 0 0.930 1487.55 2655.17)" font-size="19.3">obs</text></g>
<g stroke="#d0d0d0" stroke-width="2.1"><line x1="1825.09" y1="2541.30" x2="1825.09" y2="3015.90"/><line x1="1920.83" y1="2541.30" x2="1920.83" y2="3015.90"/><line x1="2016.58" y1="2541.30" x2="2016.58" y2="3015.90"/><line x1="2112.32" y1="2541.30" x2="2112.32" y2="3015.90"/><line x1="2208.07" y1="2541.30" x2="2208.07" y2="3015.90"/><line x1="2303.81" y1="2541.30" x2="2303.81" y2="3015.90"/><line x1="1745.30" y1="2956.57" x2="2383.60" y2="2956.57"/><line x1="1745.30" y1="2885.38" x2="2383.60" y2="2885.38"/><line x1="1745.30" y1="2814.19" x2="2383.60" y2="2814.19"/><line x1="1745.30" y1="2743.00" x2="2383.60" y2="2743.00"/><line x1="1745.30" y1="2671.81" x2="2383.60" y2="2671.81"/><line x1="1745.30" y1="2600.62" x2="2383.60" y2="2600.62"/></g>
<rect x="1745.30" y="2541.30" width="638.30" height="474.60" fill="none" stroke="#cccccc" stroke-width="2.2"/>
<g font-size="19.3"><text transform="matrix(1 0 0 0.930 1825.09 3046.22)" text-anchor="middle">0.0</text><text transform="matrix(1 0 0 0.930 1920.83 3046.22)" text-anchor="middle">0.2</text><text transform="matrix(1 0 0 0.930 2016.58 3046.22)" text-anchor="middle">0.4</text><text transform="matrix(1 0 0 0.930 2112.32 3046.22)" text-anchor="middle">0.6</text><text transform="matrix(1 0 0 0.930 2208.07 3046.22)" text-anchor="middle">0.8</text><text transform="matrix(1 0 0 0.930 2303.81 3046.22)" text-anchor="middle">1.0</text><text transform="matrix(1 0 0 0.930 1727.30 2962.99)" text-anchor="end">0.0</text><text transform="matrix(1 0 0 0.930 1727.30 2891.80)" text-anchor="end">0.2</text><text transform="matrix(1 0 0 0.930 1727.30 2820.61)" text-anchor="end">0.4</text><text transform="matrix(1 0 0 0.930 1727.30 2749.42)" text-anchor="end">0.6</text><text transform="matrix(1 0 0 0.930 1727.30 2678.23)" text-anchor="end">0.8</text><text transform="matrix(1 0 0 0.930 1727.30 2607.04)" text-anchor="end">1.0</text></g>
<text transform="matrix(1 0 0 0.930 2064.45 3072.90)" font-size="21.2" text-anchor="middle">wind speed m/s</text>
<text x="2064.45" y="0.00" font-size="45.5" text-anchor="middle" transform="translate(0 2529.40) scale(1 1.05)">Tower 5 70m</text>
<g><rect x="2249.30" y="2551.00" width="125.00" height="90.60" rx="3.8" ry="3.8" fill="#fff" fill-opacity="0.8" stroke="#cccccc" stroke-width="1.75"/><line x1="2257.00" y1="2566.40" x2="2295.40" y2="2566.40" stroke="#0000ff" stroke-width="3.40" stroke-linecap="square"/><text transform="matrix(1 0 0 0.930 2311.30 2571.32)" font-size="19.3">obs</text><line x1="2257.00" y1="2594.35" x2="2295.40" y2="2594.35" stroke="#008000" stroke-width="3.40" stroke-linecap="square"/><text transform="matrix(1 0 0 0.930 2311.30 2599.27)" font-size="19.3">Test 1</text><line x1="2257.00" y1="2622.30" x2="2295.40" y2="2622.30" stroke="#ff0000" stroke-width="3.40" stroke-linecap="square"/><text transform="matrix(1 0 0 0.930 2311.30 2627.22)" font-size="19.3">Test 2</text></g>
<g stroke="#d0d0d0" stroke-width="2.1"><line x1="126.81" y1="3159.20" x2="126.81" y2="3633.80"/><line x1="207.86" y1="3159.20" x2="207.86" y2="3633.80"/><line x1="288.90" y1="3159.20" x2="288.90" y2="3633.80"/><line x1="369.94" y1="3159.20" x2="369.94" y2="3633.80"/><line x1="450.99" y1="3159.20" x2="450.99" y2="3633.80"/><line x1="532.03" y1="3159.20" x2="532.03" y2="3633.80"/><line x1="613.08" y1="3159.20" x2="613.08" y2="3633.80"/><line x1="694.12" y1="3159.20" x2="694.12" y2="3633.80"/><line x1="97.80" y1="3612.23" x2="736.10" y2="3612.23"/><line x1="97.80" y1="3555.80" x2="736.10" y2="3555.80"/><line x1="97.80" y1="3499.37" x2="736.10" y2="3499.37"/><line x1="97.80" y1="3442.95" x2="736.10" y2="3442.95"/><line x1="97.80" y1="3386.52" x2="736.10" y2="3386.52"/><line x1="97.80" y1="3330.09" x2="736.10" y2="3330.09"/><line x1="97.80" y1="3273.67" x2="736.10" y2="3273.67"/><line x1="97.80" y1="3217.24" x2="736.10" y2="3217.24"/><line x1="97.80" y1="3160.81" x2="736.10" y2="3160.81"/></g>
<polyline fill="none" stroke="#008000" stroke-width="3.40" stroke-linejoin="round" stroke-linecap="square" points="126.81,3612.23 130.06,3610.54 133.30,3607.07 136.54,3602.31 139.78,3596.46 143.02,3589.64 146.26,3581.95 149.51,3573.45 152.75,3564.22 155.99,3554.30 159.23,3543.76 162.47,3532.64 165.71,3520.99 168.96,3508.86 172.20,3496.30 175.44,3483.37 178.68,3470.11 181.92,3456.57 185.17,3442.82 188.41,3428.89 191.65,3414.86 194.89,3400.76 198.13,3386.67 201.37,3372.62 204.62,3358.70 207.86,3344.93 211.10,3331.40 214.34,3318.14 217.58,3305.22 220.82,3292.70 224.07,3280.61 227.31,3269.02 230.55,3257.97 233.79,3247.51 237.03,3237.69 240.27,3228.54 243.52,3220.10 246.76,3212.42 250.00,3205.51 253.24,3199.41 256.48,3194.14 259.73,3189.73 262.97,3186.17 266.21,3183.50 269.45,3181.71 272.69,3180.80 275.93,3180.77 279.18,3181.62 282.42,3183.33 285.66,3185.89 288.90,3189.27 292.14,3193.45 295.38,3198.41 298.63,3204.11 301.87,3210.52 305.11,3217.60 308.35,3225.30 311.59,3233.59 314.83,3242.43 318.08,3251.75 321.32,3261.52 324.56,3271.69 327.80,3282.20 331.04,3293.01 334.29,3304.06 337.53,3315.30 340.77,3326.70 344.01,3338.19 347.25,3349.73 350.49,3361.27 353.74,3372.78 356.98,3384.21 360.22,3395.52 363.46,3406.68 366.70,3417.65 369.94,3428.40 373.19,3438.90 376.43,3449.13 379.67,3459.06 382.91,3468.68 386.15,3477.97 389.40,3486.91 392.64,3495.49 395.88,3503.70 399.12,3511.55 402.36,3519.02 405.60,3526.11 408.85,3532.83 412.09,3539.18 415.33,3545.16 418.57,3550.78 421.81,3556.05 425.05,3560.97 428.30,3565.56 431.54,3569.84 434.78,3573.80 438.02,3577.47 441.26,3580.85 444.50,3583.97 447.75,3586.83 450.99,3589.45 454.23,3591.85 457.47,3594.04 460.71,3596.02 463.96,3597.82 467.20,3599.45 470.44,3600.92 473.68,3602.25 476.92,3603.44 480.16,3604.50 483.41,3605.45 486.65,3606.30 489.89,3607.06 493.13,3607.72 496.37,3608.31 499.61,3608.84 502.86,3609.29 506.10,3609.70 509.34,3610.05 512.58,3610.36 515.82,3610.63 519.07,3610.86 522.31,3611.06 525.55,3611.23 528.79,3611.39 532.03,3611.51 535.27,3611.63 538.52,3611.72 541.76,3611.80 545.00,3611.87 548.24,3611.93 551.48,3611.98 554.72,3612.02 557.97,3612.06 561.21,3612.09 564.45,3612.11 567.69,3612.13 570.93,3612.15 574.17,3612.16 577.42,3612.17 580.66,3612.18 583.90,3612.19 587.14,3612.20 590.38,3612.20 593.63,3612.21 596.87,3612.21 600.11,3612.22 603.35,3612.22 606.59,3612.22 609.83,3612.22 613.08,3612.22 616.32,3612.22 619.56,3612.22 622.80,3612.22 626.04,3612.23 629.28,3612.23 632.53,3612.23 635.77,3612.23 639.01,3612.23 642.25,3612.23 645.49,3612.23 648.73,3612.23 651.98,3612.23 655.22,3612.23 658.46,3612.23 661.70,3612.23 664.94,3612.23 668.19,3612.23 671.43,3612.23 674.67,3612.23 677.91,3612.23 681.15,3612.23 684.39,3612.23 687.64,3612.23 690.88,3612.23 694.12,3612.23 697.36,3612.23 700.60,3612.23 703.84,3612.23 707.09,3612.23"/>
<polyline fill="none" stroke="#800080" stroke-width="3.40" stroke-linejoin="round" stroke-linecap="square" points="126.81,3612.23 130.06,3609.14 133.30,3603.74 136.54,3596.88 139.78,3588.89 143.02,3579.95 146.26,3570.17 149.51,3559.66 152.75,3548.51 155.99,3536.78 159.23,3524.56 162.47,3511.89 165.71,3498.85 168.96,3485.48 172.20,3471.86 175.44,3458.03 178.68,3444.06 181.92,3429.99 185.17,3415.89 188.41,3401.81 191.65,3387.80 194.89,3373.93 198.13,3360.24 201.37,3346.79 204.62,3333.62 207.86,3320.80 211.10,3308.36 214.34,3296.36 217.58,3284.84 220.82,3273.85 224.07,3263.42 227.31,3253.60 230.55,3244.42 233.79,3235.91 237.03,3228.11 240.27,3221.03 243.52,3214.71 246.76,3209.16 250.00,3204.40 253.24,3200.44 256.48,3197.28 259.73,3194.94 262.97,3193.42 266.21,3192.70 269.45,3192.79 272.69,3193.67 275.93,3195.33 279.18,3197.75 282.42,3200.92 285.66,3204.80 288.90,3209.38 292.14,3214.61 295.38,3220.48 298.63,3226.95 301.87,3233.97 305.11,3241.52 308.35,3249.55 311.59,3258.02 314.83,3266.90 318.08,3276.13 321.32,3285.68 324.56,3295.51 327.80,3305.56 331.04,3315.81 334.29,3326.20 337.53,3336.70 340.77,3347.27 344.01,3357.87 347.25,3368.46 350.49,3379.01 353.74,3389.48 356.98,3399.85 360.22,3410.08 363.46,3420.15 366.70,3430.03 369.94,3439.69 373.19,3449.13 376.43,3458.31 379.67,3467.22 382.91,3475.86 386.15,3484.20 389.40,3492.24 392.64,3499.97 395.88,3507.38 399.12,3514.47 402.36,3521.24 405.60,3527.70 408.85,3533.83 412.09,3539.64 415.33,3545.14 418.57,3550.33 421.81,3555.22 425.05,3559.82 428.30,3564.13 431.54,3568.17 434.78,3571.94 438.02,3575.45 441.26,3578.72 444.50,3581.75 447.75,3584.55 450.99,3587.15 454.23,3589.54 457.47,3591.74 460.71,3593.76 463.96,3595.61 467.20,3597.31 470.44,3598.85 473.68,3600.26 476.92,3601.54 480.16,3602.70 483.41,3603.75 486.65,3604.70 489.89,3605.55 493.13,3606.32 496.37,3607.01 499.61,3607.63 502.86,3608.18 506.10,3608.67 509.34,3609.11 512.58,3609.50 515.82,3609.85 519.07,3610.15 522.31,3610.42 525.55,3610.66 528.79,3610.87 532.03,3611.05 535.27,3611.21 538.52,3611.35 541.76,3611.48 545.00,3611.58 548.24,3611.68 551.48,3611.76 554.72,3611.82 557.97,3611.88 561.21,3611.94 564.45,3611.98 567.69,3612.02 570.93,3612.05 574.17,3612.08 577.42,3612.10 580.66,3612.12 583.90,3612.14 587.14,3612.15 590.38,3612.17 593.63,3612.18 596.87,3612.18 600.11,3612.19 603.35,3612.20 606.59,3612.20 609.83,3612.21 613.08,3612.21 616.32,3612.21 619.56,3612.22 622.80,3612.22 626.04,3612.22 629.28,3612.22 632.53,3612.22 635.77,3612.22 639.01,3612.22 642.25,3612.22 645.49,3612.23 648.73,3612.23 651.98,3612.23 655.22,3612.23 658.46,3612.23 661.70,3612.23 664.94,3612.23 668.19,3612.23 671.43,3612.23 674.67,3612.23 677.91,3612.23 681.15,3612.23 684.39,3612.23 687.64,3612.23 690.88,3612.23 694.12,3612.23 697.36,3612.23 700.60,3612.23 703.84,3612.23 707.09,3612.23"/>
<polyline fill="none" stroke="#ff0000" stroke-width="3.40" stroke-linejoin="round" stroke-linecap="square" points="126.81,3612.23 130.06,3602.34 133.30,3590.25 136.54,3577.20 139.78,3563.51 143.02,3549.37 146.26,3534.91 149.51,3520.21 152.75,3505.38 155.99,3490.46 159.23,3475.54 162.47,3460.66 165.71,3445.89 168.96,3431.27 172.20,3416.85 175.44,3402.69 178.68,3388.82 181.92,3375.29 185.17,3362.13 188.41,3349.40 191.65,3337.11 194.89,3325.31 198.13,3314.03 201.37,3303.29 204.62,3293.12 207.86,3283.55 211.10,3274.60 214.34,3266.28 217.58,3258.61 220.82,3251.61 224.07,3245.28 227.31,3239.64 230.55,3234.69 233.79,3230.43 237.03,3226.87 240.27,3223.99 243.52,3221.81 246.76,3220.30 250.00,3219.47 253.24,3219.29 256.48,3219.76 259.73,3220.86 262.97,3222.57 266.21,3224.87 269.45,3227.75 272.69,3231.18 275.93,3235.13 279.18,3239.58 282.42,3244.51 285.66,3249.89 288.90,3255.69 292.14,3261.87 295.38,3268.42 298.63,3275.31 301.87,3282.50 305.11,3289.96 308.35,3297.67 311.59,3305.59 314.83,3313.70 318.08,3321.97 321.32,3330.36 324.56,3338.87 327.80,3347.44 331.04,3356.07 334.29,3364.73 337.53,3373.39 340.77,3382.03 344.01,3390.63 347.25,3399.17 350.49,3407.63 353.74,3415.98 356.98,3424.23 360.22,3432.34 363.46,3440.31 366.70,3448.12 369.94,3455.76 373.19,3463.23 376.43,3470.50 379.67,3477.58 382.91,3484.45 386.15,3491.12 389.40,3497.57 392.64,3503.81 395.88,3509.82 399.12,3515.61 402.36,3521.19 405.60,3526.53 408.85,3531.66 412.09,3536.57 415.33,3541.26 418.57,3545.74 421.81,3550.01 425.05,3554.06 428.30,3557.92 431.54,3561.58 434.78,3565.05 438.02,3568.33 441.26,3571.42 444.50,3574.35 447.75,3577.10 450.99,3579.69 454.23,3582.12 457.47,3584.41 460.71,3586.55 463.96,3588.55 467.20,3590.42 470.44,3592.16 473.68,3593.79 476.92,3595.30 480.16,3596.71 483.41,3598.02 486.65,3599.23 489.89,3600.35 493.13,3601.39 496.37,3602.34 499.61,3603.23 502.86,3604.04 506.10,3604.79 509.34,3605.48 512.58,3606.11 515.82,3606.69 519.07,3607.22 522.31,3607.70 525.55,3608.14 528.79,3608.54 532.03,3608.91 535.27,3609.25 538.52,3609.55 541.76,3609.82 545.00,3610.07 548.24,3610.30 551.48,3610.50 554.72,3610.69 557.97,3610.85 561.21,3611.00 564.45,3611.14 567.69,3611.26 570.93,3611.37 574.17,3611.46 577.42,3611.55 580.66,3611.63 583.90,3611.70 587.14,3611.76 590.38,3611.81 593.63,3611.86 596.87,3611.91 600.11,3611.95 603.35,3611.98 606.59,3612.01 609.83,3612.04 613.08,3612.06 616.32,3612.08 619.56,3612.10 622.80,3612.12 626.04,3612.13 629.28,3612.14 632.53,3612.15 635.77,3612.16 639.01,3612.17 642.25,3612.18 645.49,3612.19 648.73,3612.19 651.98,3612.20 655.22,3612.20 658.46,3612.20 661.70,3612.21 664.94,3612.21 668.19,3612.21 671.43,3612.21 674.67,3612.22 677.91,3612.22 681.15,3612.22 684.39,3612.22 687.64,3612.22 690.88,3612.22 694.12,3612.22 697.36,3612.22 700.60,3612.22 703.84,3612.22 707.09,3612.23"/>
<polyline fill="none" stroke="#0000ff" stroke-width="3.40" stroke-linejoin="round" stroke-linecap="square" points="126.81,3612.23 130.06,3610.51 133.30,3607.64 136.54,3604.10 139.78,3600.03 143.02,3595.52 146.26,3590.63 149.51,3585.41 152.75,3579.88 155.99,3574.09 159.23,3568.04 162.47,3561.78 165.71,3555.32 168.96,3548.68 172.20,3541.87 175.44,3534.93 178.68,3527.86 181.92,3520.68 185.17,3513.41 188.41,3506.07 191.65,3498.67 194.89,3491.22 198.13,3483.75 201.37,3476.27 204.62,3468.79 207.86,3461.34 211.10,3453.91 214.34,3446.54 217.58,3439.24 220.82,3432.02 224.07,3424.89 227.31,3417.87 230.55,3410.97 233.79,3404.21 237.03,3397.60 240.27,3391.15 243.52,3384.87 246.76,3378.79 250.00,3372.90 253.24,3367.22 256.48,3361.77 259.73,3356.54 262.97,3351.56 266.21,3346.82 269.45,3342.35 272.69,3338.13 275.93,3334.20 279.18,3330.54 282.42,3327.16 285.66,3324.08 288.90,3321.29 292.14,3318.80 295.38,3316.61 298.63,3314.72 301.87,3313.14 305.11,3311.86 308.35,3310.89 311.59,3310.22 314.83,3309.86 318.08,3309.79 321.32,3310.03 324.56,3310.56 327.80,3311.38 331.04,3312.48 334.29,3313.87 337.53,3315.53 340.77,3317.46 344.01,3319.65 347.25,3322.09 350.49,3324.77 353.74,3327.69 356.98,3330.84 360.22,3334.21 363.46,3337.78 366.70,3341.55 369.94,3345.51 373.19,3349.64 376.43,3353.94 379.67,3358.40 382.91,3363.00 386.15,3367.73 389.40,3372.58 392.64,3377.54 395.88,3382.60 399.12,3387.74 402.36,3392.97 405.60,3398.25 408.85,3403.59 412.09,3408.98 415.33,3414.40 418.57,3419.83 421.81,3425.29 425.05,3430.74 428.30,3436.19 431.54,3441.62 434.78,3447.02 438.02,3452.40 441.26,3457.73 444.50,3463.01 447.75,3468.24 450.99,3473.40 454.23,3478.49 457.47,3483.51 460.71,3488.45 463.96,3493.30 467.20,3498.05 470.44,3502.72 473.68,3507.28 476.92,3511.74 480.16,3516.09 483.41,3520.34 486.65,3524.47 489.89,3528.49 493.13,3532.40 496.37,3536.19 499.61,3539.86 502.86,3543.42 506.10,3546.85 509.34,3550.17 512.58,3553.38 515.82,3556.46 519.07,3559.43 522.31,3562.29 525.55,3565.03 528.79,3567.67 532.03,3570.19 535.27,3572.60 538.52,3574.91 541.76,3577.12 545.00,3579.22 548.24,3581.23 551.48,3583.13 554.72,3584.95 557.97,3586.68 561.21,3588.31 564.45,3589.87 567.69,3591.34 570.93,3592.73 574.17,3594.04 577.42,3595.29 580.66,3596.46 583.90,3597.56 587.14,3598.60 590.38,3599.57 593.63,3600.49 596.87,3601.35 600.11,3602.16 603.35,3602.91 606.59,3603.62 609.83,3604.28 613.08,3604.90 616.32,3605.47 619.56,3606.01 622.80,3606.50 626.04,3606.97 629.28,3607.40 632.53,3607.80 635.77,3608.17 639.01,3608.51 642.25,3608.83 645.49,3609.12 648.73,3609.39 651.98,3609.64 655.22,3609.87 658.46,3610.08 661.70,3610.27 664.94,3610.45 668.19,3610.61 671.43,3610.76 674.67,3610.90 677.91,3611.03 681.15,3611.14 684.39,3611.24 687.64,3611.34 690.88,3611.43 694.12,3611.51 697.36,3611.58 700.60,3611.64 703.84,3611.70 707.09,3611.76"/>
<rect x="97.80" y="3159.20" width="638.30" height="474.60" fill="none" stroke="#cccccc" stroke-width="2.2"/>
<g font-size="19.3"><text transform="matrix(1 0 0 0.930 126.81 3664.12)" text-anchor="middle">0.0</text><text transform="matrix(1 0 0 0.930 207.86 3664.12)" text-anchor="middle">2.5</text><text transform="matrix(1 0 0 0.930 288.90 3664.12)" text-anchor="middle">5.0</text><text transform="matrix(1 0 0 0.930 369.94 3664.12)" text-anchor="middle">7.5</text><text transform="matrix(1 0 0 0.930 450.99 3664.12)" text-anchor="middle">10.0</text><text transform="matrix(1 0 0 0.930 532.03 3664.12)" text-anchor="middle">12.5</text><text transform="matrix(1 0 0 0.930 613.08 3664.12)" text-anchor="middle">15.0</text><text transform="matrix(1 0 0 0.930 694.12 3664.12)" text-anchor="middle">17.5</text><text transform="matrix(1 0 0 0.930 79.80 3618.64)" text-anchor="end">0.000</text><text transform="matrix(1 0 0 0.930 79.80 3562.22)" text-anchor="end">0.025</text><text transform="matrix(1 0 0 0.930 79.80 3505.79)" text-anchor="end">0.050</text><text transform="matrix(1 0 0 0.930 79.80 3449.36)" text-anchor="end">0.075</text><text transform="matrix(1 0 0 0.930 79.80 3392.94)" text-anchor="end">0.100</text><text transform="matrix(1 0 0 0.930 79.80 3336.51)" text-anchor="end">0.125</text><text transform="matrix(1 0 0 0.930 79.80 3280.08)" text-anchor="end">0.150</text><text transform="matrix(1 0 0 0.930 79.80 3223.66)" text-anchor="end">0.175</text><text transform="matrix(1 0 0 0.930 79.80 3167.23)" text-anchor="end">0.200</text></g>
<text transform="matrix(1 0 0 0.930 416.95 3690.80)" font-size="21.2" text-anchor="middle">wind speed m/s</text>
<text x="416.95" y="0.00" font-size="45.5" text-anchor="middle" transform="translate(0 3147.30) scale(1 1.05)">Tower 6 10m</text>
<g><rect x="601.80" y="3168.90" width="125.00" height="115.40" rx="3.8" ry="3.8" fill="#fff" fill-opacity="0.8" stroke="#cccccc" stroke-width="1.75"/><line x1="609.50" y1="3184.30" x2="647.90" y2="3184.30" stroke="#008000" stroke-width="3.40" stroke-linecap="square"/><text transform="matrix(1 0 0 0.930 663.80 3189.22)" font-size="19.3">Test 1</text><line x1="609.50" y1="3212.25" x2="647.90" y2="3212.25" stroke="#800080" stroke-width="3.40" stroke-linecap="square"/><text transform="matrix(1 0 0 0.930 663.80 3217.17)" font-size="19.3">Test 3</text><line x1="609.50" y1="3240.20" x2="647.90" y2="3240.20" stroke="#ff0000" stroke-width="3.40" stroke-linecap="square"/><text transform="matrix(1 0 0 0.930 663.80 3245.12)" font-size="19.3">Test 2</text><line x1="609.50" y1="3268.15" x2="647.90" y2="3268.15" stroke="#0000ff" stroke-width="3.40" stroke-linecap="square"/><text transform="matrix(1 0 0 0.930 663.80 3273.07)" font-size="19.3">obs</text></g>
<g stroke="#d0d0d0" stroke-width="2.1"><line x1="950.56" y1="3159.20" x2="950.56" y2="3633.80"/><line x1="1031.61" y1="3159.20" x2="1031.61" y2="3633.80"/><line x1="1112.65" y1="3159.20" x2="1112.65" y2="3633.80"/><line x1="1193.69" y1="3159.20" x2="1193.69" y2="3633.80"/><line x1="1274.74" y1="3159.20" x2="1274.74" y2="3633.80"/><line x1="1355.78" y1="3159.20" x2="1355.78" y2="3633.80"/><line x1="1436.83" y1="3159.20" x2="1436.83" y2="3633.80"/><line x1="1517.87" y1="3159.20" x2="1517.87" y2="3633.80"/><line x1="921.55" y1="3612.23" x2="1559.85" y2="3612.23"/><line x1="921.55" y1="3554.58" x2="1559.85" y2="3554.58"/><line x1="921.55" y1="3496.93" x2="1559.85" y2="3496.93"/><line x1="921.55" y1="3439.28" x2="1559.85" y2="3439.28"/><line x1="921.55" y1="3381.63" x2="1559.85" y2="3381.63"/><line x1="921.55" y1="3323.98" x2="1559.85" y2="3323.98"/><line x1="921.55" y1="3266.34" x2="1559.85" y2="3266.34"/><line x1="921.55" y1="3208.69" x2="1559.85" y2="3208.69"/></g>
<polyline fill="none" stroke="#008000" stroke-width="3.40" stroke-linejoin="round" stroke-linecap="square" points="950.56,3612.23 953.81,3611.46 957.05,3609.73 960.29,3607.26 963.53,3604.14 966.77,3600.42 970.01,3596.15 973.26,3591.36 976.50,3586.08 979.74,3580.33 982.98,3574.13 986.22,3567.51 989.46,3560.48 992.71,3553.07 995.95,3545.30 999.19,3537.17 1002.43,3528.72 1005.67,3519.96 1008.92,3510.91 1012.16,3501.60 1015.40,3492.04 1018.64,3482.25 1021.88,3472.26 1025.12,3462.09 1028.37,3451.76 1031.61,3441.29 1034.85,3430.71 1038.09,3420.05 1041.33,3409.32 1044.57,3398.56 1047.82,3387.79 1051.06,3377.03 1054.30,3366.31 1057.54,3355.66 1060.78,3345.10 1064.02,3334.67 1067.27,3324.38 1070.51,3314.27 1073.75,3304.35 1076.99,3294.66 1080.23,3285.22 1083.48,3276.05 1086.72,3267.19 1089.96,3258.65 1093.20,3250.45 1096.44,3242.62 1099.68,3235.18 1102.93,3228.16 1106.17,3221.55 1109.41,3215.40 1112.65,3209.71 1115.89,3204.49 1119.13,3199.77 1122.38,3195.55 1125.62,3191.84 1128.86,3188.65 1132.10,3186.00 1135.34,3183.88 1138.58,3182.30 1141.83,3181.27 1145.07,3180.77 1148.31,3180.82 1151.55,3181.41 1154.79,3182.53 1158.04,3184.18 1161.28,3186.35 1164.52,3189.03 1167.76,3192.21 1171.00,3195.88 1174.24,3200.02 1177.49,3204.61 1180.73,3209.65 1183.97,3215.11 1187.21,3220.97 1190.45,3227.21 1193.69,3233.82 1196.94,3240.77 1200.18,3248.03 1203.42,3255.58 1206.66,3263.41 1209.90,3271.48 1213.15,3279.77 1216.39,3288.26 1219.63,3296.92 1222.87,3305.72 1226.11,3314.65 1229.35,3323.67 1232.60,3332.76 1235.84,3341.91 1239.08,3351.08 1242.32,3360.25 1245.56,3369.40 1248.80,3378.52 1252.05,3387.57 1255.29,3396.55 1258.53,3405.43 1261.77,3414.20 1265.01,3422.83 1268.25,3431.32 1271.50,3439.66 1274.74,3447.81 1277.98,3455.79 1281.22,3463.57 1284.46,3471.15 1287.71,3478.51 1290.95,3485.66 1294.19,3492.58 1297.43,3499.27 1300.67,3505.73 1303.91,3511.96 1307.16,3517.94 1310.40,3523.69 1313.64,3529.19 1316.88,3534.46 1320.12,3539.50 1323.36,3544.30 1326.61,3548.87 1329.85,3553.21 1333.09,3557.33 1336.33,3561.24 1339.57,3564.93 1342.82,3568.41 1346.06,3571.70 1349.30,3574.79 1352.54,3577.69 1355.78,3580.42 1359.02,3582.97 1362.27,3585.35 1365.51,3587.58 1368.75,3589.65 1371.99,3591.58 1375.23,3593.37 1378.47,3595.03 1381.72,3596.57 1384.96,3597.99 1388.20,3599.30 1391.44,3600.51 1394.68,3601.62 1397.92,3602.64 1401.17,3603.57 1404.41,3604.43 1407.65,3605.21 1410.89,3605.92 1414.13,3606.57 1417.38,3607.16 1420.62,3607.69 1423.86,3608.18 1427.10,3608.62 1430.34,3609.01 1433.58,3609.37 1436.83,3609.69 1440.07,3609.98 1443.31,3610.24 1446.55,3610.47 1449.79,3610.68 1453.03,3610.86 1456.28,3611.03 1459.52,3611.17 1462.76,3611.30 1466.00,3611.42 1469.24,3611.52 1472.48,3611.61 1475.73,3611.69 1478.97,3611.76 1482.21,3611.82 1485.45,3611.88 1488.69,3611.92 1491.94,3611.97 1495.18,3612.00 1498.42,3612.03 1501.66,3612.06 1504.90,3612.08 1508.14,3612.10 1511.39,3612.12 1514.63,3612.14 1517.87,3612.15 1521.11,3612.16 1524.35,3612.17 1527.59,3612.18 1530.84,3612.19"/>
<polyline fill="none" stroke="#800080" stroke-width="3.40" stroke-linejoin="round" stroke-linecap="square" points="950.56,3612.23 953.81,3610.33 957.05,3606.92 960.29,3602.54 963.53,3597.38 966.77,3591.56 970.01,3585.16 973.26,3578.23 976.50,3570.82 979.74,3562.98 982.98,3554.75 986.22,3546.15 989.46,3537.22 992.71,3527.98 995.95,3518.47 999.19,3508.72 1002.43,3498.74 1005.67,3488.57 1008.92,3478.24 1012.16,3467.76 1015.40,3457.16 1018.64,3446.48 1021.88,3435.73 1025.12,3424.94 1028.37,3414.14 1031.61,3403.35 1034.85,3392.61 1038.09,3381.92 1041.33,3371.32 1044.57,3360.84 1047.82,3350.49 1051.06,3340.31 1054.30,3330.31 1057.54,3320.52 1060.78,3310.97 1064.02,3301.67 1067.27,3292.64 1070.51,3283.92 1073.75,3275.51 1076.99,3267.43 1080.23,3259.72 1083.48,3252.37 1086.72,3245.41 1089.96,3238.86 1093.20,3232.73 1096.44,3227.02 1099.68,3221.76 1102.93,3216.96 1106.17,3212.61 1109.41,3208.74 1112.65,3205.35 1115.89,3202.43 1119.13,3200.01 1122.38,3198.07 1125.62,3196.62 1128.86,3195.66 1132.10,3195.19 1135.34,3195.21 1138.58,3195.70 1141.83,3196.67 1145.07,3198.11 1148.31,3200.00 1151.55,3202.35 1154.79,3205.13 1158.04,3208.34 1161.28,3211.97 1164.52,3216.00 1167.76,3220.41 1171.00,3225.19 1174.24,3230.33 1177.49,3235.80 1180.73,3241.59 1183.97,3247.68 1187.21,3254.06 1190.45,3260.69 1193.69,3267.57 1196.94,3274.67 1200.18,3281.97 1203.42,3289.46 1206.66,3297.11 1209.90,3304.90 1213.15,3312.81 1216.39,3320.83 1219.63,3328.93 1222.87,3337.09 1226.11,3345.30 1229.35,3353.54 1232.60,3361.78 1235.84,3370.01 1239.08,3378.23 1242.32,3386.39 1245.56,3394.51 1248.80,3402.55 1252.05,3410.51 1255.29,3418.37 1258.53,3426.12 1261.77,3433.75 1265.01,3441.24 1268.25,3448.60 1271.50,3455.80 1274.74,3462.85 1277.98,3469.73 1281.22,3476.43 1284.46,3482.96 1287.71,3489.31 1290.95,3495.47 1294.19,3501.44 1297.43,3507.22 1300.67,3512.80 1303.91,3518.19 1307.16,3523.38 1310.40,3528.37 1313.64,3533.17 1316.88,3537.78 1320.12,3542.19 1323.36,3546.41 1326.61,3550.45 1329.85,3554.30 1333.09,3557.97 1336.33,3561.46 1339.57,3564.79 1342.82,3567.94 1346.06,3570.93 1349.30,3573.76 1352.54,3576.43 1355.78,3578.96 1359.02,3581.34 1362.27,3583.58 1365.51,3585.69 1368.75,3587.68 1371.99,3589.54 1375.23,3591.28 1378.47,3592.91 1381.72,3594.43 1384.96,3595.86 1388.20,3597.18 1391.44,3598.42 1394.68,3599.56 1397.92,3600.63 1401.17,3601.62 1404.41,3602.53 1407.65,3603.38 1410.89,3604.16 1414.13,3604.88 1417.38,3605.54 1420.62,3606.15 1423.86,3606.72 1427.10,3607.23 1430.34,3607.70 1433.58,3608.14 1436.83,3608.53 1440.07,3608.89 1443.31,3609.22 1446.55,3609.52 1449.79,3609.80 1453.03,3610.05 1456.28,3610.27 1459.52,3610.47 1462.76,3610.66 1466.00,3610.83 1469.24,3610.98 1472.48,3611.11 1475.73,3611.23 1478.97,3611.34 1482.21,3611.44 1485.45,3611.53 1488.69,3611.61 1491.94,3611.68 1495.18,3611.75 1498.42,3611.80 1501.66,3611.85 1504.90,3611.90 1508.14,3611.94 1511.39,3611.97 1514.63,3612.00 1517.87,3612.03 1521.11,3612.06 1524.35,3612.08 1527.59,3612.10 1530.84,3612.11"/>
<polyline fill="none" stroke="#ff0000" stroke-width="3.40" stroke-linejoin="round" stroke-linecap="square" points="950.56,3612.23 953.81,3604.73 957.05,3595.55 960.29,3585.62 963.53,3575.18 966.77,3564.36 970.01,3553.25 973.26,3541.93 976.50,3530.43 979.74,3518.80 982.98,3507.09 986.22,3495.32 989.46,3483.53 992.71,3471.75 995.95,3460.00 999.19,3448.31 1002.43,3436.72 1005.67,3425.24 1008.92,3413.89 1012.16,3402.71 1015.40,3391.70 1018.64,3380.90 1021.88,3370.32 1025.12,3359.98 1028.37,3349.90 1031.61,3340.10 1034.85,3330.59 1038.09,3321.39 1041.33,3312.52 1044.57,3303.98 1047.82,3295.80 1051.06,3287.98 1054.30,3280.54 1057.54,3273.48 1060.78,3266.82 1064.02,3260.56 1067.27,3254.70 1070.51,3249.27 1073.75,3244.26 1076.99,3239.67 1080.23,3235.51 1083.48,3231.78 1086.72,3228.48 1089.96,3225.61 1093.20,3223.17 1096.44,3221.17 1099.68,3219.58 1102.93,3218.43 1106.17,3217.68 1109.41,3217.35 1112.65,3217.43 1115.89,3217.91 1119.13,3218.77 1122.38,3220.02 1125.62,3221.64 1128.86,3223.63 1132.10,3225.97 1135.34,3228.65 1138.58,3231.66 1141.83,3234.98 1145.07,3238.62 1148.31,3242.54 1151.55,3246.75 1154.79,3251.22 1158.04,3255.94 1161.28,3260.90 1164.52,3266.09 1167.76,3271.48 1171.00,3277.07 1174.24,3282.84 1177.49,3288.78 1180.73,3294.86 1183.97,3301.09 1187.21,3307.43 1190.45,3313.89 1193.69,3320.44 1196.94,3327.07 1200.18,3333.77 1203.42,3340.53 1206.66,3347.33 1209.90,3354.16 1213.15,3361.00 1216.39,3367.85 1219.63,3374.70 1222.87,3381.53 1226.11,3388.33 1229.35,3395.10 1232.60,3401.82 1235.84,3408.49 1239.08,3415.09 1242.32,3421.62 1245.56,3428.08 1248.80,3434.44 1252.05,3440.71 1255.29,3446.89 1258.53,3452.96 1261.77,3458.91 1265.01,3464.76 1268.25,3470.48 1271.50,3476.08 1274.74,3481.56 1277.98,3486.90 1281.22,3492.12 1284.46,3497.20 1287.71,3502.15 1290.95,3506.96 1294.19,3511.63 1297.43,3516.16 1300.67,3520.56 1303.91,3524.81 1307.16,3528.93 1310.40,3532.91 1313.64,3536.76 1316.88,3540.47 1320.12,3544.04 1323.36,3547.49 1326.61,3550.80 1329.85,3553.99 1333.09,3557.05 1336.33,3559.98 1339.57,3562.80 1342.82,3565.49 1346.06,3568.08 1349.30,3570.54 1352.54,3572.90 1355.78,3575.15 1359.02,3577.30 1362.27,3579.34 1365.51,3581.29 1368.75,3583.14 1371.99,3584.90 1375.23,3586.58 1378.47,3588.16 1381.72,3589.67 1384.96,3591.09 1388.20,3592.44 1391.44,3593.72 1394.68,3594.93 1397.92,3596.06 1401.17,3597.14 1404.41,3598.15 1407.65,3599.11 1410.89,3600.00 1414.13,3600.85 1417.38,3601.64 1420.62,3602.39 1423.86,3603.09 1427.10,3603.74 1430.34,3604.36 1433.58,3604.93 1436.83,3605.47 1440.07,3605.97 1443.31,3606.44 1446.55,3606.88 1449.79,3607.29 1453.03,3607.67 1456.28,3608.02 1459.52,3608.35 1462.76,3608.65 1466.00,3608.94 1469.24,3609.20 1472.48,3609.45 1475.73,3609.67 1478.97,3609.88 1482.21,3610.08 1485.45,3610.26 1488.69,3610.42 1491.94,3610.57 1495.18,3610.72 1498.42,3610.85 1501.66,3610.96 1504.90,3611.08 1508.14,3611.18 1511.39,3611.27 1514.63,3611.35 1517.87,3611.43 1521.11,3611.50 1524.35,3611.57 1527.59,3611.63 1530.84,3611.69"/>
<polyline fill="none" stroke="#0000ff" stroke-width="3.40" stroke-linejoin="round" stroke-linecap="square" points="950.56,3612.23 953.81,3610.34 957.05,3607.08 960.29,3602.98 963.53,3598.21 966.77,3592.89 970.01,3587.08 973.26,3580.84 976.50,3574.21 979.74,3567.22 982.98,3559.90 986.22,3552.29 989.46,3544.41 992.71,3536.29 995.95,3527.95 999.19,3519.40 1002.43,3510.68 1005.67,3501.80 1008.92,3492.78 1012.16,3483.64 1015.40,3474.41 1018.64,3465.11 1021.88,3455.74 1025.12,3446.34 1028.37,3436.93 1031.61,3427.51 1034.85,3418.12 1038.09,3408.77 1041.33,3399.47 1044.57,3390.26 1047.82,3381.14 1051.06,3372.14 1054.30,3363.27 1057.54,3354.55 1060.78,3345.99 1064.02,3337.63 1067.27,3329.46 1070.51,3321.52 1073.75,3313.80 1076.99,3306.34 1080.23,3299.14 1083.48,3292.21 1086.72,3285.58 1089.96,3279.24 1093.20,3273.22 1096.44,3267.53 1099.68,3262.17 1102.93,3257.16 1106.17,3252.50 1109.41,3248.20 1112.65,3244.26 1115.89,3240.70 1119.13,3237.52 1122.38,3234.72 1125.62,3232.31 1128.86,3230.29 1132.10,3228.65 1135.34,3227.41 1138.58,3226.55 1141.83,3226.08 1145.07,3226.00 1148.31,3226.29 1151.55,3226.97 1154.79,3228.01 1158.04,3229.43 1161.28,3231.20 1164.52,3233.32 1167.76,3235.79 1171.00,3238.60 1174.24,3241.72 1177.49,3245.17 1180.73,3248.91 1183.97,3252.95 1187.21,3257.27 1190.45,3261.85 1193.69,3266.69 1196.94,3271.78 1200.18,3277.09 1203.42,3282.61 1206.66,3288.33 1209.90,3294.24 1213.15,3300.32 1216.39,3306.56 1219.63,3312.93 1222.87,3319.44 1226.11,3326.05 1229.35,3332.77 1232.60,3339.56 1235.84,3346.43 1239.08,3353.36 1242.32,3360.32 1245.56,3367.31 1248.80,3374.32 1252.05,3381.33 1255.29,3388.34 1258.53,3395.32 1261.77,3402.27 1265.01,3409.17 1268.25,3416.02 1271.50,3422.81 1274.74,3429.52 1277.98,3436.15 1281.22,3442.69 1284.46,3449.13 1287.71,3455.46 1290.95,3461.68 1294.19,3467.78 1297.43,3473.76 1300.67,3479.61 1303.91,3485.32 1307.16,3490.89 1310.40,3496.32 1313.64,3501.61 1316.88,3506.75 1320.12,3511.74 1323.36,3516.58 1326.61,3521.27 1329.85,3525.81 1333.09,3530.19 1336.33,3534.42 1339.57,3538.50 1342.82,3542.43 1346.06,3546.20 1349.30,3549.83 1352.54,3553.32 1355.78,3556.66 1359.02,3559.85 1362.27,3562.91 1365.51,3565.83 1368.75,3568.62 1371.99,3571.28 1375.23,3573.81 1378.47,3576.22 1381.72,3578.51 1384.96,3580.68 1388.20,3582.74 1391.44,3584.69 1394.68,3586.53 1397.92,3588.27 1401.17,3589.92 1404.41,3591.47 1407.65,3592.93 1410.89,3594.31 1414.13,3595.60 1417.38,3596.82 1420.62,3597.95 1423.86,3599.02 1427.10,3600.02 1430.34,3600.95 1433.58,3601.83 1436.83,3602.64 1440.07,3603.40 1443.31,3604.10 1446.55,3604.76 1449.79,3605.37 1453.03,3605.94 1456.28,3606.46 1459.52,3606.95 1462.76,3607.40 1466.00,3607.81 1469.24,3608.20 1472.48,3608.55 1475.73,3608.88 1478.97,3609.18 1482.21,3609.45 1485.45,3609.71 1488.69,3609.94 1491.94,3610.15 1495.18,3610.35 1498.42,3610.53 1501.66,3610.69 1504.90,3610.84 1508.14,3610.97 1511.39,3611.10 1514.63,3611.21 1517.87,3611.31 1521.11,3611.40 1524.35,3611.49 1527.59,3611.56 1530.84,3611.63"/>
<rect x="921.55" y="3159.20" width="638.30" height="474.60" fill="none" stroke="#cccccc" stroke-width="2.2"/>
<g font-size="19.3"><text transform="matrix(1 0 0 0.930 950.56 3664.12)" text-anchor="middle">0.0</text><text transform="matrix(1 0 0 0.930 1031.61 3664.12)" text-anchor="middle">2.5</text><text transform="matrix(1 0 0 0.930 1112.65 3664.12)" text-anchor="middle">5.0</text><text transform="matrix(1 0 0 0.930 1193.69 3664.12)" text-anchor="middle">7.5</text><text transform="matrix(1 0 0 0.930 1274.74 3664.12)" text-anchor="middle">10.0</text><text transform="matrix(1 0 0 0.930 1355.78 3664.12)" text-anchor="middle">12.5</text><text transform="matrix(1 0 0 0.930 1436.83 3664.12)" text-anchor="middle">15.0</text><text transform="matrix(1 0 0 0.930 1517.87 3664.12)" text-anchor="middle">17.5</text><text transform="matrix(1 0 0 0.930 903.55 3618.64)" text-anchor="end">0.00</text><text transform="matrix(1 0 0 0.930 903.55 3561.00)" text-anchor="end">0.02</text><text transform="matrix(1 0 0 0.930 903.55 3503.35)" text-anchor="end">0.04</text><text transform="matrix(1 0 0 0.930 903.55 3445.70)" text-anchor="end">0.06</text><text transform="matrix(1 0 0 0.930 903.55 3388.05)" text-anchor="end">0.08</text><text transform="matrix(1 0 0 0.930 903.55 3330.40)" text-anchor="end">0.10</text><text transform="matrix(1 0 0 0.930 903.55 3272.75)" text-anchor="end">0.12</text><text transform="matrix(1 0 0 0.930 903.55 3215.10)" text-anchor="end">0.14</text></g>
<text transform="matrix(1 0 0 0.930 1240.70 3690.80)" font-size="21.2" text-anchor="middle">wind speed m/s</text>
<text x="1240.70" y="0.00" font-size="45.5" text-anchor="middle" transform="translate(0 3147.30) scale(1 1.05)">Tower 6 50m</text>
<g><rect x="1425.55" y="3168.90" width="125.00" height="115.40" rx="3.8" ry="3.8" fill="#fff" fill-opacity="0.8" stroke="#cccccc" stroke-width="1.75"/><line x1="1433.25" y1="3184.30" x2="1471.65" y2="3184.30" stroke="#008000" stroke-width="3.40" stroke-linecap="square"/><text transform="matrix(1 0 0 0.930 1487.55 3189.22)" font-size="19.3">Test 1</text><line x1="1433.25" y1="3212.25" x2="1471.65" y2="3212.25" stroke="#800080" stroke-width="3.40" stroke-linecap="square"/><text transform="matrix(1 0 0 0.930 1487.55 3217.17)" font-size="19.3">Test 3</text><line x1="1433.25" y1="3240.20" x2="1471.65" y2="3240.20" stroke="#ff0000" stroke-width="3.40" stroke-linecap="square"/><text transform="matrix(1 0 0 0.930 1487.55 3245.12)" font-size="19.3">Test 2</text><line x1="1433.25" y1="3268.15" x2="1471.65" y2="3268.15" stroke="#0000ff" stroke-width="3.40" stroke-linecap="square"/><text transform="matrix(1 0 0 0.930 1487.55 3273.07)" font-size="19.3">obs</text></g>
<g stroke="#d0d0d0" stroke-width="2.1"><line x1="1774.31" y1="3159.20" x2="1774.31" y2="3633.80"/><line x1="1855.36" y1="3159.20" x2="1855.36" y2="3633.80"/><line x1="1936.40" y1="3159.20" x2="1936.40" y2="3633.80"/><line x1="2017.44" y1="3159.20" x2="2017.44" y2="3633.80"/><line x1="2098.49" y1="3159.20" x2="2098.49" y2="3633.80"/><line x1="2179.53" y1="3159.20" x2="2179.53" y2="3633.80"/><line x1="2260.58" y1="3159.20" x2="2260.58" y2="3633.80"/><line x1="2341.62" y1="3159.20" x2="2341.62" y2="3633.80"/><line x1="1745.30" y1="3612.23" x2="2383.60" y2="3612.23"/><line x1="1745.30" y1="3548.07" x2="2383.60" y2="3548.07"/><line x1="1745.30" y1="3483.91" x2="2383.60" y2="3483.91"/><line x1="1745.30" y1="3419.75" x2="2383.60" y2="3419.75"/><line x1="1745.30" y1="3355.59" x2="2383.60" y2="3355.59"/><line x1="1745.30" y1="3291.44" x2="2383.60" y2="3291.44"/><line x1="1745.30" y1="3227.28" x2="2383.60" y2="3227.28"/><line x1="1745.30" y1="3163.12" x2="2383.60" y2="3163.12"/></g>
<polyline fill="none" stroke="#008000" stroke-width="3.40" stroke-linejoin="round" stroke-linecap="square" points="1774.31,3612.23 1777.56,3611.47 1780.80,3609.83 1784.04,3607.53 1787.28,3604.65 1790.52,3601.24 1793.76,3597.36 1797.01,3593.03 1800.25,3588.27 1803.49,3583.12 1806.73,3577.58 1809.97,3571.68 1813.21,3565.43 1816.46,3558.85 1819.70,3551.96 1822.94,3544.77 1826.18,3537.30 1829.42,3529.56 1832.67,3521.57 1835.91,3513.35 1839.15,3504.90 1842.39,3496.25 1845.63,3487.40 1848.87,3478.39 1852.12,3469.22 1855.36,3459.91 1858.60,3450.49 1861.84,3440.95 1865.08,3431.34 1868.32,3421.65 1871.57,3411.92 1874.81,3402.16 1878.05,3392.38 1881.29,3382.62 1884.53,3372.88 1887.77,3363.19 1891.02,3353.56 1894.26,3344.02 1897.50,3334.59 1900.74,3325.28 1903.98,3316.11 1907.23,3307.11 1910.47,3298.28 1913.71,3289.66 1916.95,3281.25 1920.19,3273.08 1923.43,3265.17 1926.68,3257.52 1929.92,3250.16 1933.16,3243.10 1936.40,3236.36 1939.64,3229.95 1942.88,3223.88 1946.13,3218.18 1949.37,3212.84 1952.61,3207.89 1955.85,3203.32 1959.09,3199.16 1962.33,3195.41 1965.58,3192.07 1968.82,3189.16 1972.06,3186.67 1975.30,3184.62 1978.54,3183.00 1981.79,3181.82 1985.03,3181.08 1988.27,3180.77 1991.51,3180.90 1994.75,3181.47 1997.99,3182.46 2001.24,3183.88 2004.48,3185.72 2007.72,3187.97 2010.96,3190.63 2014.20,3193.68 2017.44,3197.11 2020.69,3200.93 2023.93,3205.10 2027.17,3209.63 2030.41,3214.50 2033.65,3219.69 2036.90,3225.19 2040.14,3230.98 2043.38,3237.06 2046.62,3243.39 2049.86,3249.97 2053.10,3256.78 2056.35,3263.81 2059.59,3271.02 2062.83,3278.42 2066.07,3285.97 2069.31,3293.66 2072.55,3301.48 2075.80,3309.40 2079.04,3317.41 2082.28,3325.49 2085.52,3333.62 2088.76,3341.79 2092.00,3349.98 2095.25,3358.18 2098.49,3366.36 2101.73,3374.51 2104.97,3382.63 2108.21,3390.68 2111.46,3398.67 2114.70,3406.58 2117.94,3414.40 2121.18,3422.11 2124.42,3429.70 2127.66,3437.17 2130.91,3444.50 2134.15,3451.69 2137.39,3458.73 2140.63,3465.61 2143.87,3472.33 2147.11,3478.87 2150.36,3485.25 2153.60,3491.44 2156.84,3497.45 2160.08,3503.27 2163.32,3508.91 2166.57,3514.36 2169.81,3519.62 2173.05,3524.69 2176.29,3529.57 2179.53,3534.26 2182.77,3538.76 2186.02,3543.08 2189.26,3547.21 2192.50,3551.16 2195.74,3554.94 2198.98,3558.53 2202.22,3561.96 2205.47,3565.22 2208.71,3568.32 2211.95,3571.26 2215.19,3574.04 2218.43,3576.67 2221.67,3579.16 2224.92,3581.51 2228.16,3583.72 2231.40,3585.81 2234.64,3587.77 2237.88,3589.61 2241.13,3591.33 2244.37,3592.94 2247.61,3594.46 2250.85,3595.87 2254.09,3597.18 2257.33,3598.41 2260.58,3599.55 2263.82,3600.61 2267.06,3601.59 2270.30,3602.51 2273.54,3603.35 2276.78,3604.13 2280.03,3604.85 2283.27,3605.51 2286.51,3606.13 2289.75,3606.69 2292.99,3607.21 2296.23,3607.68 2299.48,3608.11 2302.72,3608.51 2305.96,3608.87 2309.20,3609.20 2312.44,3609.51 2315.69,3609.78 2318.93,3610.03 2322.17,3610.26 2325.41,3610.46 2328.65,3610.65 2331.89,3610.82 2335.14,3610.97 2338.38,3611.10 2341.62,3611.23 2344.86,3611.34 2348.10,3611.44 2351.34,3611.53 2354.59,3611.61"/>
<polyline fill="none" stroke="#800080" stroke-width="3.40" stroke-linejoin="round" stroke-linecap="square" points="1774.31,3612.23 1777.56,3610.21 1780.80,3606.78 1784.04,3602.49 1787.28,3597.52 1790.52,3591.99 1793.76,3585.96 1797.01,3579.48 1800.25,3572.62 1803.49,3565.39 1806.73,3557.84 1809.97,3549.98 1813.21,3541.86 1816.46,3533.48 1819.70,3524.88 1822.94,3516.08 1826.18,3507.09 1829.42,3497.94 1832.67,3488.64 1835.91,3479.23 1839.15,3469.71 1842.39,3460.11 1845.63,3450.44 1848.87,3440.73 1852.12,3431.00 1855.36,3421.25 1858.60,3411.52 1861.84,3401.81 1865.08,3392.15 1868.32,3382.56 1871.57,3373.05 1874.81,3363.65 1878.05,3354.36 1881.29,3345.21 1884.53,3336.21 1887.77,3327.38 1891.02,3318.73 1894.26,3310.29 1897.50,3302.06 1900.74,3294.07 1903.98,3286.32 1907.23,3278.83 1910.47,3271.61 1913.71,3264.68 1916.95,3258.04 1920.19,3251.72 1923.43,3245.71 1926.68,3240.03 1929.92,3234.70 1933.16,3229.70 1936.40,3225.07 1939.64,3220.79 1942.88,3216.88 1946.13,3213.35 1949.37,3210.19 1952.61,3207.41 1955.85,3205.02 1959.09,3203.01 1962.33,3201.39 1965.58,3200.15 1968.82,3199.30 1972.06,3198.83 1975.30,3198.74 1978.54,3199.03 1981.79,3199.70 1985.03,3200.73 1988.27,3202.13 1991.51,3203.88 1994.75,3205.98 1997.99,3208.43 2001.24,3211.21 2004.48,3214.31 2007.72,3217.73 2010.96,3221.45 2014.20,3225.46 2017.44,3229.76 2020.69,3234.33 2023.93,3239.16 2027.17,3244.23 2030.41,3249.54 2033.65,3255.07 2036.90,3260.80 2040.14,3266.73 2043.38,3272.83 2046.62,3279.11 2049.86,3285.53 2053.10,3292.10 2056.35,3298.79 2059.59,3305.59 2062.83,3312.48 2066.07,3319.46 2069.31,3326.51 2072.55,3333.62 2075.80,3340.76 2079.04,3347.95 2082.28,3355.14 2085.52,3362.35 2088.76,3369.55 2092.00,3376.73 2095.25,3383.89 2098.49,3391.00 2101.73,3398.07 2104.97,3405.08 2108.21,3412.03 2111.46,3418.89 2114.70,3425.68 2117.94,3432.37 2121.18,3438.96 2124.42,3445.44 2127.66,3451.81 2130.91,3458.07 2134.15,3464.20 2137.39,3470.20 2140.63,3476.07 2143.87,3481.80 2147.11,3487.40 2150.36,3492.85 2153.60,3498.15 2156.84,3503.31 2160.08,3508.32 2163.32,3513.19 2166.57,3517.90 2169.81,3522.46 2173.05,3526.87 2176.29,3531.13 2179.53,3535.24 2182.77,3539.21 2186.02,3543.02 2189.26,3546.69 2192.50,3550.22 2195.74,3553.61 2198.98,3556.86 2202.22,3559.97 2205.47,3562.95 2208.71,3565.79 2211.95,3568.51 2215.19,3571.10 2218.43,3573.58 2221.67,3575.93 2224.92,3578.17 2228.16,3580.30 2231.40,3582.32 2234.64,3584.24 2237.88,3586.05 2241.13,3587.77 2244.37,3589.40 2247.61,3590.93 2250.85,3592.38 2254.09,3593.75 2257.33,3595.03 2260.58,3596.24 2263.82,3597.38 2267.06,3598.45 2270.30,3599.46 2273.54,3600.40 2276.78,3601.28 2280.03,3602.10 2283.27,3602.87 2286.51,3603.59 2289.75,3604.26 2292.99,3604.88 2296.23,3605.47 2299.48,3606.01 2302.72,3606.51 2305.96,3606.98 2309.20,3607.41 2312.44,3607.81 2315.69,3608.18 2318.93,3608.53 2322.17,3608.84 2325.41,3609.14 2328.65,3609.41 2331.89,3609.65 2335.14,3609.88 2338.38,3610.09 2341.62,3610.29 2344.86,3610.46 2348.10,3610.63 2351.34,3610.78 2354.59,3610.91"/>
<polyline fill="none" stroke="#ff0000" stroke-width="3.40" stroke-linejoin="round" stroke-linecap="square" points="1774.31,3612.23 1777.56,3602.27 1780.80,3591.58 1784.04,3580.61 1787.28,3569.48 1790.52,3558.24 1793.76,3546.94 1797.01,3535.60 1800.25,3524.26 1803.49,3512.94 1806.73,3501.66 1809.97,3490.44 1813.21,3479.30 1816.46,3468.25 1819.70,3457.31 1822.94,3446.50 1826.18,3435.83 1829.42,3425.32 1832.67,3414.97 1835.91,3404.81 1839.15,3394.85 1842.39,3385.09 1845.63,3375.55 1848.87,3366.25 1852.12,3357.18 1855.36,3348.37 1858.60,3339.81 1861.84,3331.53 1865.08,3323.52 1868.32,3315.80 1871.57,3308.38 1874.81,3301.25 1878.05,3294.43 1881.29,3287.92 1884.53,3281.73 1887.77,3275.86 1891.02,3270.32 1894.26,3265.10 1897.50,3260.21 1900.74,3255.66 1903.98,3251.44 1907.23,3247.55 1910.47,3244.01 1913.71,3240.79 1916.95,3237.91 1920.19,3235.37 1923.43,3233.15 1926.68,3231.27 1929.92,3229.71 1933.16,3228.48 1936.40,3227.56 1939.64,3226.96 1942.88,3226.67 1946.13,3226.68 1949.37,3227.00 1952.61,3227.61 1955.85,3228.50 1959.09,3229.68 1962.33,3231.13 1965.58,3232.85 1968.82,3234.83 1972.06,3237.06 1975.30,3239.53 1978.54,3242.24 1981.79,3245.18 1985.03,3248.34 1988.27,3251.70 1991.51,3255.27 1994.75,3259.03 1997.99,3262.97 2001.24,3267.08 2004.48,3271.36 2007.72,3275.79 2010.96,3280.37 2014.20,3285.09 2017.44,3289.93 2020.69,3294.89 2023.93,3299.96 2027.17,3305.13 2030.41,3310.39 2033.65,3315.74 2036.90,3321.15 2040.14,3326.63 2043.38,3332.17 2046.62,3337.76 2049.86,3343.38 2053.10,3349.04 2056.35,3354.72 2059.59,3360.42 2062.83,3366.12 2066.07,3371.83 2069.31,3377.54 2072.55,3383.23 2075.80,3388.91 2079.04,3394.56 2082.28,3400.18 2085.52,3405.77 2088.76,3411.32 2092.00,3416.82 2095.25,3422.27 2098.49,3427.66 2101.73,3433.00 2104.97,3438.27 2108.21,3443.48 2111.46,3448.61 2114.70,3453.67 2117.94,3458.65 2121.18,3463.55 2124.42,3468.37 2127.66,3473.10 2130.91,3477.75 2134.15,3482.30 2137.39,3486.77 2140.63,3491.14 2143.87,3495.42 2147.11,3499.60 2150.36,3503.69 2153.60,3507.68 2156.84,3511.58 2160.08,3515.38 2163.32,3519.08 2166.57,3522.68 2169.81,3526.19 2173.05,3529.60 2176.29,3532.91 2179.53,3536.13 2182.77,3539.25 2186.02,3542.28 2189.26,3545.22 2192.50,3548.07 2195.74,3550.82 2198.98,3553.48 2202.22,3556.06 2205.47,3558.55 2208.71,3560.95 2211.95,3563.27 2215.19,3565.51 2218.43,3567.66 2221.67,3569.74 2224.92,3571.74 2228.16,3573.66 2231.40,3575.51 2234.64,3577.29 2237.88,3579.00 2241.13,3580.64 2244.37,3582.21 2247.61,3583.72 2250.85,3585.16 2254.09,3586.55 2257.33,3587.87 2260.58,3589.14 2263.82,3590.35 2267.06,3591.51 2270.30,3592.61 2273.54,3593.67 2276.78,3594.68 2280.03,3595.64 2283.27,3596.55 2286.51,3597.42 2289.75,3598.25 2292.99,3599.04 2296.23,3599.79 2299.48,3600.51 2302.72,3601.18 2305.96,3601.83 2309.20,3602.44 2312.44,3603.02 2315.69,3603.57 2318.93,3604.09 2322.17,3604.58 2325.41,3605.04 2328.65,3605.48 2331.89,3605.90 2335.14,3606.29 2338.38,3606.67 2341.62,3607.02 2344.86,3607.35 2348.10,3607.66 2351.34,3607.95 2354.59,3608.23"/>
<polyline fill="none" stroke="#0000ff" stroke-width="3.40" stroke-linejoin="round" stroke-linecap="square" points="1774.31,3612.23 1777.56,3609.73 1780.80,3605.68 1784.04,3600.73 1787.28,3595.08 1790.52,3588.85 1793.76,3582.13 1797.01,3574.97 1800.25,3567.42 1803.49,3559.52 1806.73,3551.31 1809.97,3542.82 1813.21,3534.07 1816.46,3525.09 1819.70,3515.90 1822.94,3506.54 1826.18,3497.02 1829.42,3487.36 1832.67,3477.59 1835.91,3467.72 1839.15,3457.79 1842.39,3447.80 1845.63,3437.77 1848.87,3427.74 1852.12,3417.71 1855.36,3407.71 1858.60,3397.76 1861.84,3387.87 1865.08,3378.07 1868.32,3368.36 1871.57,3358.78 1874.81,3349.34 1878.05,3340.05 1881.29,3330.93 1884.53,3322.01 1887.77,3313.29 1891.02,3304.79 1894.26,3296.52 1897.50,3288.51 1900.74,3280.76 1903.98,3273.30 1907.23,3266.12 1910.47,3259.25 1913.71,3252.69 1916.95,3246.46 1920.19,3240.56 1923.43,3235.01 1926.68,3229.82 1929.92,3224.98 1933.16,3220.52 1936.40,3216.43 1939.64,3212.71 1942.88,3209.39 1946.13,3206.44 1949.37,3203.89 1952.61,3201.73 1955.85,3199.97 1959.09,3198.59 1962.33,3197.61 1965.58,3197.01 1968.82,3196.80 1972.06,3196.98 1975.30,3197.53 1978.54,3198.46 1981.79,3199.76 1985.03,3201.42 1988.27,3203.43 1991.51,3205.79 1994.75,3208.49 1997.99,3211.52 2001.24,3214.86 2004.48,3218.52 2007.72,3222.47 2010.96,3226.71 2014.20,3231.22 2017.44,3235.99 2020.69,3241.02 2023.93,3246.28 2027.17,3251.76 2030.41,3257.46 2033.65,3263.35 2036.90,3269.42 2040.14,3275.66 2043.38,3282.06 2046.62,3288.60 2049.86,3295.26 2053.10,3302.04 2056.35,3308.92 2059.59,3315.88 2062.83,3322.92 2066.07,3330.02 2069.31,3337.16 2072.55,3344.34 2075.80,3351.53 2079.04,3358.74 2082.28,3365.94 2085.52,3373.13 2088.76,3380.30 2092.00,3387.42 2095.25,3394.51 2098.49,3401.53 2101.73,3408.50 2104.97,3415.38 2108.21,3422.19 2111.46,3428.91 2114.70,3435.53 2117.94,3442.04 2121.18,3448.45 2124.42,3454.74 2127.66,3460.91 2130.91,3466.95 2134.15,3472.86 2137.39,3478.64 2140.63,3484.28 2143.87,3489.78 2147.11,3495.14 2150.36,3500.35 2153.60,3505.41 2156.84,3510.33 2160.08,3515.10 2163.32,3519.72 2166.57,3524.19 2169.81,3528.51 2173.05,3532.68 2176.29,3536.71 2179.53,3540.59 2182.77,3544.32 2186.02,3547.91 2189.26,3551.36 2192.50,3554.68 2195.74,3557.85 2198.98,3560.89 2202.22,3563.81 2205.47,3566.59 2208.71,3569.25 2211.95,3571.78 2215.19,3574.20 2218.43,3576.50 2221.67,3578.69 2224.92,3580.77 2228.16,3582.75 2231.40,3584.62 2234.64,3586.40 2237.88,3588.08 2241.13,3589.67 2244.37,3591.18 2247.61,3592.60 2250.85,3593.94 2254.09,3595.20 2257.33,3596.39 2260.58,3597.50 2263.82,3598.55 2267.06,3599.54 2270.30,3600.46 2273.54,3601.33 2276.78,3602.14 2280.03,3602.90 2283.27,3603.61 2286.51,3604.27 2289.75,3604.88 2292.99,3605.46 2296.23,3605.99 2299.48,3606.49 2302.72,3606.95 2305.96,3607.38 2309.20,3607.78 2312.44,3608.15 2315.69,3608.49 2318.93,3608.81 2322.17,3609.10 2325.41,3609.37 2328.65,3609.62 2331.89,3609.84 2335.14,3610.05 2338.38,3610.25 2341.62,3610.43 2344.86,3610.59 2348.10,3610.74 2351.34,3610.88 2354.59,3611.00"/>
<rect x="1745.30" y="3159.20" width="638.30" height="474.60" fill="none" stroke="#cccccc" stroke-width="2.2"/>
<g font-size="19.3"><text transform="matrix(1 0 0 0.930 1774.31 3664.12)" text-anchor="middle">0.0</text><text transform="matrix(1 0 0 0.930 1855.36 3664.12)" text-anchor="middle">2.5</text><text transform="matrix(1 0 0 0.930 1936.40 3664.12)" text-anchor="middle">5.0</text><text transform="matrix(1 0 0 0.930 2017.44 3664.12)" text-anchor="middle">7.5</text><text transform="matrix(1 0 0 0.930 2098.49 3664.12)" text-anchor="middle">10.0</text><text transform="matrix(1 0 0 0.930 2179.53 3664.12)" text-anchor="middle">12.5</text><text transform="matrix(1 0 0 0.930 2260.58 3664.12)" text-anchor="middle">15.0</text><text transform="matrix(1 0 0 0.930 2341.62 3664.12)" text-anchor="middle">17.5</text><text transform="matrix(1 0 0 0.930 1727.30 3618.64)" text-anchor="end">0.00</text><text transform="matrix(1 0 0 0.930 1727.30 3554.49)" text-anchor="end">0.02</text><text transform="matrix(1 0 0 0.930 1727.30 3490.33)" text-anchor="end">0.04</text><text transform="matrix(1 0 0 0.930 1727.30 3426.17)" text-anchor="end">0.06</text><text transform="matrix(1 0 0 0.930 1727.30 3362.01)" text-anchor="end">0.08</text><text transform="matrix(1 0 0 0.930 1727.30 3297.85)" text-anchor="end">0.10</text><text transform="matrix(1 0 0 0.930 1727.30 3233.70)" text-anchor="end">0.12</text><text transform="matrix(1 0 0 0.930 1727.30 3169.54)" text-anchor="end">0.14</text></g>
<text transform="matrix(1 0 0 0.930 2064.45 3690.80)" font-size="21.2" text-anchor="middle">wind speed m/s</text>
<text x="2064.45" y="0.00" font-size="45.5" text-anchor="middle" transform="translate(0 3147.30) scale(1 1.05)">Tower 6 70m</text>
<g><rect x="2249.30" y="3168.90" width="125.00" height="115.40" rx="3.8" ry="3.8" fill="#fff" fill-opacity="0.8" stroke="#cccccc" stroke-width="1.75"/><line x1="2257.00" y1="3184.30" x2="2295.40" y2="3184.30" stroke="#008000" stroke-width="3.40" stroke-linecap="square"/><text transform="matrix(1 0 0 0.930 2311.30 3189.22)" font-size="19.3">Test 1</text><line x1="2257.00" y1="3212.25" x2="2295.40" y2="3212.25" stroke="#800080" stroke-width="3.40" stroke-linecap="square"/><text transform="matrix(1 0 0 0.930 2311.30 3217.17)" font-size="19.3">Test 3</text><line x1="2257.00" y1="3240.20" x2="2295.40" y2="3240.20" stroke="#ff0000" stroke-width="3.40" stroke-linecap="square"/><text transform="matrix(1 0 0 0.930 2311.30 3245.12)" font-size="19.3">Test 2</text><line x1="2257.00" y1="3268.15" x2="2295.40" y2="3268.15" stroke="#0000ff" stroke-width="3.40" stroke-linecap="square"/><text transform="matrix(1 0 0 0.930 2311.30 3273.07)" font-size="19.3">obs</text></g>
<g stroke="#d0d0d0" stroke-width="2.1"><line x1="126.81" y1="3777.10" x2="126.81" y2="4251.70"/><line x1="207.86" y1="3777.10" x2="207.86" y2="4251.70"/><line x1="288.90" y1="3777.10" x2="288.90" y2="4251.70"/><line x1="369.94" y1="3777.10" x2="369.94" y2="4251.70"/><line x1="450.99" y1="3777.10" x2="450.99" y2="4251.70"/><line x1="532.03" y1="3777.10" x2="532.03" y2="4251.70"/><line x1="613.08" y1="3777.10" x2="613.08" y2="4251.70"/><line x1="694.12" y1="3777.10" x2="694.12" y2="4251.70"/><line x1="97.80" y1="4230.13" x2="736.10" y2="4230.13"/><line x1="97.80" y1="4131.35" x2="736.10" y2="4131.35"/><line x1="97.80" y1="4032.57" x2="736.10" y2="4032.57"/><line x1="97.80" y1="3933.79" x2="736.10" y2="3933.79"/><line x1="97.80" y1="3835.01" x2="736.10" y2="3835.01"/></g>
<polyline fill="none" stroke="#008000" stroke-width="3.40" stroke-linejoin="round" stroke-linecap="square" points="126.81,4230.13 130.06,4225.38 133.30,4217.42 136.54,4207.54 139.78,4196.19 143.02,4183.63 146.26,4170.05 149.51,4155.61 152.75,4140.43 155.99,4124.63 159.23,4108.32 162.47,4091.60 165.71,4074.59 168.96,4057.37 172.20,4040.05 175.44,4022.73 178.68,4005.48 181.92,3988.42 185.17,3971.63 188.41,3955.20 191.65,3939.22 194.89,3923.77 198.13,3908.94 201.37,3894.79 204.62,3881.40 207.86,3868.84 211.10,3857.18 214.34,3846.46 217.58,3836.74 220.82,3828.06 224.07,3820.46 227.31,3813.96 230.55,3808.60 233.79,3804.39 237.03,3801.33 240.27,3799.43 243.52,3798.67 246.76,3799.06 250.00,3800.56 253.24,3803.14 256.48,3806.79 259.73,3811.45 262.97,3817.08 266.21,3823.63 269.45,3831.04 272.69,3839.27 275.93,3848.23 279.18,3857.88 282.42,3868.15 285.66,3878.95 288.90,3890.23 292.14,3901.92 295.38,3913.94 298.63,3926.23 301.87,3938.72 305.11,3951.34 308.35,3964.02 311.59,3976.72 314.83,3989.36 318.08,4001.91 321.32,4014.29 324.56,4026.47 327.80,4038.41 331.04,4050.06 334.29,4061.39 337.53,4072.38 340.77,4082.99 344.01,4093.20 347.25,4103.00 350.49,4112.37 353.74,4121.30 356.98,4129.79 360.22,4137.84 363.46,4145.43 366.70,4152.58 369.94,4159.30 373.19,4165.58 376.43,4171.45 379.67,4176.90 382.91,4181.97 386.15,4186.65 389.40,4190.98 392.64,4194.95 395.88,4198.60 399.12,4201.94 402.36,4204.98 405.60,4207.75 408.85,4210.26 412.09,4212.54 415.33,4214.59 418.57,4216.43 421.81,4218.09 425.05,4219.57 428.30,4220.89 431.54,4222.07 434.78,4223.11 438.02,4224.03 441.26,4224.85 444.50,4225.57 447.75,4226.20 450.99,4226.75 454.23,4227.23 457.47,4227.65 460.71,4228.01 463.96,4228.33 467.20,4228.60 470.44,4228.83 473.68,4229.03 476.92,4229.21 480.16,4229.35 483.41,4229.48 486.65,4229.58 489.89,4229.67 493.13,4229.75 496.37,4229.81 499.61,4229.87 502.86,4229.91 506.10,4229.95 509.34,4229.98 512.58,4230.01 515.82,4230.03 519.07,4230.05 522.31,4230.06 525.55,4230.08 528.79,4230.09 532.03,4230.09 535.27,4230.10 538.52,4230.11 541.76,4230.11 545.00,4230.11 548.24,4230.12 551.48,4230.12 554.72,4230.12 557.97,4230.12 561.21,4230.12 564.45,4230.12 567.69,4230.12 570.93,4230.13 574.17,4230.13 577.42,4230.13 580.66,4230.13 583.90,4230.13 587.14,4230.13 590.38,4230.13 593.63,4230.13 596.87,4230.13 600.11,4230.13 603.35,4230.13 606.59,4230.13 609.83,4230.13 613.08,4230.13 616.32,4230.13 619.56,4230.13 622.80,4230.13 626.04,4230.13 629.28,4230.13 632.53,4230.13 635.77,4230.13 639.01,4230.13 642.25,4230.13 645.49,4230.13 648.73,4230.13 651.98,4230.13 655.22,4230.13 658.46,4230.13 661.70,4230.13 664.94,4230.13 668.19,4230.13 671.43,4230.13 674.67,4230.13 677.91,4230.13 681.15,4230.13 684.39,4230.13 687.64,4230.13 690.88,4230.13 694.12,4230.13 697.36,4230.13 700.60,4230.13 703.84,4230.13 707.09,4230.13"/>
<polyline fill="none" stroke="#800080" stroke-width="3.40" stroke-linejoin="round" stroke-linecap="square" points="126.81,4230.13 130.06,4223.10 133.30,4212.66 136.54,4200.40 139.78,4186.83 143.02,4172.22 146.26,4156.79 149.51,4140.70 152.75,4124.08 155.99,4107.06 159.23,4089.75 162.47,4072.26 165.71,4054.69 168.96,4037.14 172.20,4019.70 175.44,4002.47 178.68,3985.53 181.92,3968.98 185.17,3952.88 188.41,3937.33 191.65,3922.39 194.89,3908.13 198.13,3894.63 201.37,3881.95 204.62,3870.13 207.86,3859.22 211.10,3849.29 214.34,3840.35 217.58,3832.44 220.82,3825.60 224.07,3819.83 227.31,3815.15 230.55,3811.57 233.79,3809.09 237.03,3807.69 240.27,3807.37 243.52,3808.11 246.76,3809.88 250.00,3812.65 253.24,3816.38 256.48,3821.04 259.73,3826.59 262.97,3832.96 266.21,3840.12 269.45,3848.00 272.69,3856.55 275.93,3865.71 279.18,3875.42 282.42,3885.62 285.66,3896.24 288.90,3907.22 292.14,3918.50 295.38,3930.03 298.63,3941.74 301.87,3953.56 305.11,3965.46 308.35,3977.37 311.59,3989.25 314.83,4001.04 318.08,4012.71 321.32,4024.20 324.56,4035.49 327.80,4046.54 331.04,4057.31 334.29,4067.79 337.53,4077.94 340.77,4087.75 344.01,4097.20 347.25,4106.27 350.49,4114.96 353.74,4123.26 356.98,4131.17 360.22,4138.67 363.46,4145.78 366.70,4152.50 369.94,4158.83 373.19,4164.77 376.43,4170.35 379.67,4175.56 382.91,4180.41 386.15,4184.93 389.40,4189.12 392.64,4193.00 395.88,4196.59 399.12,4199.88 402.36,4202.92 405.60,4205.69 408.85,4208.23 412.09,4210.55 415.33,4212.66 418.57,4214.57 421.81,4216.30 425.05,4217.87 428.30,4219.28 431.54,4220.55 434.78,4221.68 438.02,4222.70 441.26,4223.61 444.50,4224.42 447.75,4225.14 450.99,4225.78 454.23,4226.34 457.47,4226.84 460.71,4227.28 463.96,4227.67 467.20,4228.00 470.44,4228.30 473.68,4228.56 476.92,4228.78 480.16,4228.98 483.41,4229.14 486.65,4229.29 489.89,4229.42 493.13,4229.52 496.37,4229.62 499.61,4229.70 502.86,4229.76 506.10,4229.82 509.34,4229.87 512.58,4229.91 515.82,4229.95 519.07,4229.98 522.31,4230.00 525.55,4230.02 528.79,4230.04 532.03,4230.06 535.27,4230.07 538.52,4230.08 541.76,4230.09 545.00,4230.10 548.24,4230.10 551.48,4230.11 554.72,4230.11 557.97,4230.11 561.21,4230.12 564.45,4230.12 567.69,4230.12 570.93,4230.12 574.17,4230.12 577.42,4230.12 580.66,4230.12 583.90,4230.12 587.14,4230.13 590.38,4230.13 593.63,4230.13 596.87,4230.13 600.11,4230.13 603.35,4230.13 606.59,4230.13 609.83,4230.13 613.08,4230.13 616.32,4230.13 619.56,4230.13 622.80,4230.13 626.04,4230.13 629.28,4230.13 632.53,4230.13 635.77,4230.13 639.01,4230.13 642.25,4230.13 645.49,4230.13 648.73,4230.13 651.98,4230.13 655.22,4230.13 658.46,4230.13 661.70,4230.13 664.94,4230.13 668.19,4230.13 671.43,4230.13 674.67,4230.13 677.91,4230.13 681.15,4230.13 684.39,4230.13 687.64,4230.13 690.88,4230.13 694.12,4230.13 697.36,4230.13 700.60,4230.13 703.84,4230.13 707.09,4230.13"/>
<polyline fill="none" stroke="#ff0000" stroke-width="3.40" stroke-linejoin="round" stroke-linecap="square" points="126.81,4230.13 130.06,4215.91 133.30,4199.17 136.54,4181.39 139.78,4162.98 143.02,4144.17 146.26,4125.12 149.51,4105.99 152.75,4086.88 155.99,4067.90 159.23,4049.14 162.47,4030.70 165.71,4012.65 168.96,3995.09 172.20,3978.07 175.44,3961.68 178.68,3945.97 181.92,3931.00 185.17,3916.83 188.41,3903.51 191.65,3891.08 194.89,3879.57 198.13,3869.02 201.37,3859.47 204.62,3850.92 207.86,3843.39 211.10,3836.90 214.34,3831.45 217.58,3827.04 220.82,3823.67 224.07,3821.31 227.31,3819.97 230.55,3819.61 233.79,3820.21 237.03,3821.74 240.27,3824.18 243.52,3827.47 246.76,3831.59 250.00,3836.49 253.24,3842.13 256.48,3848.46 259.73,3855.43 262.97,3862.98 266.21,3871.08 269.45,3879.67 272.69,3888.69 275.93,3898.09 279.18,3907.83 282.42,3917.85 285.66,3928.10 288.90,3938.54 292.14,3949.11 295.38,3959.77 298.63,3970.48 301.87,3981.20 305.11,3991.88 308.35,4002.49 311.59,4013.00 314.83,4023.37 318.08,4033.57 321.32,4043.58 324.56,4053.38 327.80,4062.94 331.04,4072.24 334.29,4081.26 337.53,4090.00 340.77,4098.44 344.01,4106.58 347.25,4114.39 350.49,4121.89 353.74,4129.07 356.98,4135.92 360.22,4142.44 363.46,4148.65 366.70,4154.53 369.94,4160.10 373.19,4165.36 376.43,4170.33 379.67,4175.00 382.91,4179.38 386.15,4183.49 389.40,4187.33 392.64,4190.92 395.88,4194.27 399.12,4197.38 402.36,4200.26 405.60,4202.94 408.85,4205.41 412.09,4207.70 415.33,4209.80 418.57,4211.74 421.81,4213.51 425.05,4215.14 428.30,4216.63 431.54,4217.99 434.78,4219.23 438.02,4220.36 441.26,4221.39 444.50,4222.32 447.75,4223.16 450.99,4223.92 454.23,4224.61 457.47,4225.22 460.71,4225.78 463.96,4226.28 467.20,4226.72 470.44,4227.12 473.68,4227.48 476.92,4227.80 480.16,4228.08 483.41,4228.33 486.65,4228.56 489.89,4228.75 493.13,4228.93 496.37,4229.08 499.61,4229.22 502.86,4229.34 506.10,4229.44 509.34,4229.53 512.58,4229.61 515.82,4229.68 519.07,4229.74 522.31,4229.80 525.55,4229.84 528.79,4229.88 532.03,4229.92 535.27,4229.95 538.52,4229.97 541.76,4230.00 545.00,4230.02 548.24,4230.03 551.48,4230.05 554.72,4230.06 557.97,4230.07 561.21,4230.08 564.45,4230.09 567.69,4230.09 570.93,4230.10 574.17,4230.10 577.42,4230.11 580.66,4230.11 583.90,4230.11 587.14,4230.12 590.38,4230.12 593.63,4230.12 596.87,4230.12 600.11,4230.12 603.35,4230.12 606.59,4230.12 609.83,4230.12 613.08,4230.12 616.32,4230.13 619.56,4230.13 622.80,4230.13 626.04,4230.13 629.28,4230.13 632.53,4230.13 635.77,4230.13 639.01,4230.13 642.25,4230.13 645.49,4230.13 648.73,4230.13 651.98,4230.13 655.22,4230.13 658.46,4230.13 661.70,4230.13 664.94,4230.13 668.19,4230.13 671.43,4230.13 674.67,4230.13 677.91,4230.13 681.15,4230.13 684.39,4230.13 687.64,4230.13 690.88,4230.13 694.12,4230.13 697.36,4230.13 700.60,4230.13 703.84,4230.13 707.09,4230.13"/>
<polyline fill="none" stroke="#0000ff" stroke-width="3.40" stroke-linejoin="round" stroke-linecap="square" points="126.81,4230.13 130.06,4004.28 133.30,3962.67 136.54,3936.98 139.78,3919.02 143.02,3905.86 146.26,3896.06 149.51,3888.76 152.75,3883.44 155.99,3879.72 159.23,3877.32 162.47,3876.04 165.71,3875.71 168.96,3876.20 172.20,3877.40 175.44,3879.22 178.68,3881.58 181.92,3884.41 185.17,3887.66 188.41,3891.28 191.65,3895.22 194.89,3899.44 198.13,3903.91 201.37,3908.59 204.62,3913.45 207.86,3918.48 211.10,3923.64 214.34,3928.91 217.58,3934.28 220.82,3939.72 224.07,3945.23 227.31,3950.78 230.55,3956.36 233.79,3961.97 237.03,3967.58 240.27,3973.19 243.52,3978.80 246.76,3984.38 250.00,3989.93 253.24,3995.45 256.48,4000.93 259.73,4006.36 262.97,4011.74 266.21,4017.07 269.45,4022.33 272.69,4027.53 275.93,4032.66 279.18,4037.72 282.42,4042.70 285.66,4047.61 288.90,4052.44 292.14,4057.19 295.38,4061.85 298.63,4066.44 301.87,4070.93 305.11,4075.35 308.35,4079.68 311.59,4083.92 314.83,4088.08 318.08,4092.15 321.32,4096.13 324.56,4100.03 327.80,4103.84 331.04,4107.56 334.29,4111.20 337.53,4114.76 340.77,4118.23 344.01,4121.62 347.25,4124.93 350.49,4128.15 353.74,4131.30 356.98,4134.36 360.22,4137.35 363.46,4140.26 366.70,4143.10 369.94,4145.86 373.19,4148.54 376.43,4151.16 379.67,4153.70 382.91,4156.17 386.15,4158.58 389.40,4160.92 392.64,4163.19 395.88,4165.40 399.12,4167.54 402.36,4169.63 405.60,4171.65 408.85,4173.61 412.09,4175.52 415.33,4177.36 418.57,4179.16 421.81,4180.90 425.05,4182.58 428.30,4184.22 431.54,4185.80 434.78,4187.34 438.02,4188.83 441.26,4190.27 444.50,4191.67 447.75,4193.02 450.99,4194.33 454.23,4195.60 457.47,4196.83 460.71,4198.01 463.96,4199.16 467.20,4200.27 470.44,4201.35 473.68,4202.39 476.92,4203.39 480.16,4204.37 483.41,4205.31 486.65,4206.21 489.89,4207.09 493.13,4207.94 496.37,4208.76 499.61,4209.55 502.86,4210.31 506.10,4211.05 509.34,4211.76 512.58,4212.45 515.82,4213.11 519.07,4213.76 522.31,4214.37 525.55,4214.97 528.79,4215.55 532.03,4216.10 535.27,4216.64 538.52,4217.15 541.76,4217.65 545.00,4218.13 548.24,4218.59 551.48,4219.04 554.72,4219.47 557.97,4219.88 561.21,4220.28 564.45,4220.66 567.69,4221.03 570.93,4221.39 574.17,4221.73 577.42,4222.06 580.66,4222.38 583.90,4222.69 587.14,4222.98 590.38,4223.27 593.63,4223.54 596.87,4223.80 600.11,4224.06 603.35,4224.30 606.59,4224.53 609.83,4224.76 613.08,4224.97 616.32,4225.18 619.56,4225.38 622.80,4225.58 626.04,4225.76 629.28,4225.94 632.53,4226.11 635.77,4226.27 639.01,4226.43 642.25,4226.58 645.49,4226.73 648.73,4226.87 651.98,4227.00 655.22,4227.13 658.46,4227.26 661.70,4227.38 664.94,4227.49 668.19,4227.60 671.43,4227.71 674.67,4227.81 677.91,4227.90 681.15,4228.00 684.39,4228.09 687.64,4228.17 690.88,4228.26 694.12,4228.34 697.36,4228.41 700.60,4228.48 703.84,4228.55 707.09,4228.62"/>
<rect x="97.80" y="3777.10" width="638.30" height="474.60" fill="none" stroke="#cccccc" stroke-width="2.2"/>
<g font-size="19.3"><text transform="matrix(1 0 0 0.930 126.81 4282.02)" text-anchor="middle">0.0</text><text transform="matrix(1 0 0 0.930 207.86 4282.02)" text-anchor="middle">2.5</text><text transform="matrix(1 0 0 0.930 288.90 4282.02)" text-anchor="middle">5.0</text><text transform="matrix(1 0 0 0.930 369.94 4282.02)" text-anchor="middle">7.5</text><text transform="matrix(1 0 0 0.930 450.99 4282.02)" text-anchor="middle">10.0</text><text transform="matrix(1 0 0 0.930 532.03 4282.02)" text-anchor="middle">12.5</text><text transform="matrix(1 0 0 0.930 613.08 4282.02)" text-anchor="middle">15.0</text><text transform="matrix(1 0 0 0.930 694.12 4282.02)" text-anchor="middle">17.5</text><text transform="matrix(1 0 0 0.930 79.80 4236.54)" text-anchor="end">0.00</text><text transform="matrix(1 0 0 0.930 79.80 4137.76)" text-anchor="end">0.05</text><text transform="matrix(1 0 0 0.930 79.80 4038.99)" text-anchor="end">0.10</text><text transform="matrix(1 0 0 0.930 79.80 3940.21)" text-anchor="end">0.15</text><text transform="matrix(1 0 0 0.930 79.80 3841.43)" text-anchor="end">0.20</text></g>
<text transform="matrix(1 0 0 0.930 416.95 4308.70)" font-size="21.2" text-anchor="middle">wind speed m/s</text>
<text x="416.95" y="0.00" font-size="45.5" text-anchor="middle" transform="translate(0 3765.20) scale(1 1.05)">Tower 7 10m</text>
<g><rect x="601.80" y="3786.80" width="125.00" height="115.40" rx="3.8" ry="3.8" fill="#fff" fill-opacity="0.8" stroke="#cccccc" stroke-width="1.75"/><line x1="609.50" y1="3802.20" x2="647.90" y2="3802.20" stroke="#008000" stroke-width="3.40" stroke-linecap="square"/><text transform="matrix(1 0 0 0.930 663.80 3807.12)" font-size="19.3">Test 1</text><line x1="609.50" y1="3830.15" x2="647.90" y2="3830.15" stroke="#800080" stroke-width="3.40" stroke-linecap="square"/><text transform="matrix(1 0 0 0.930 663.80 3835.07)" font-size="19.3">Test 3</text><line x1="609.50" y1="3858.10" x2="647.90" y2="3858.10" stroke="#ff0000" stroke-width="3.40" stroke-linecap="square"/><text transform="matrix(1 0 0 0.930 663.80 3863.02)" font-size="19.3">Test 2</text><line x1="609.50" y1="3886.05" x2="647.90" y2="3886.05" stroke="#0000ff" stroke-width="3.40" stroke-linecap="square"/><text transform="matrix(1 0 0 0.930 663.80 3890.97)" font-size="19.3">obs</text></g>
<g stroke="#d0d0d0" stroke-width="2.1"><line x1="950.56" y1="3777.10" x2="950.56" y2="4251.70"/><line x1="1031.61" y1="3777.10" x2="1031.61" y2="4251.70"/><line x1="1112.65" y1="3777.10" x2="1112.65" y2="4251.70"/><line x1="1193.69" y1="3777.10" x2="1193.69" y2="4251.70"/><line x1="1274.74" y1="3777.10" x2="1274.74" y2="4251.70"/><line x1="1355.78" y1="3777.10" x2="1355.78" y2="4251.70"/><line x1="1436.83" y1="3777.10" x2="1436.83" y2="4251.70"/><line x1="1517.87" y1="3777.10" x2="1517.87" y2="4251.70"/><line x1="921.55" y1="4230.13" x2="1559.85" y2="4230.13"/><line x1="921.55" y1="4164.35" x2="1559.85" y2="4164.35"/><line x1="921.55" y1="4098.58" x2="1559.85" y2="4098.58"/><line x1="921.55" y1="4032.81" x2="1559.85" y2="4032.81"/><line x1="921.55" y1="3967.03" x2="1559.85" y2="3967.03"/><line x1="921.55" y1="3901.26" x2="1559.85" y2="3901.26"/><line x1="921.55" y1="3835.49" x2="1559.85" y2="3835.49"/></g>
<polyline fill="none" stroke="#008000" stroke-width="3.40" stroke-linejoin="round" stroke-linecap="square" points="950.56,4230.13 953.81,4228.96 957.05,4226.50 960.29,4223.08 963.53,4218.83 966.77,4213.84 970.01,4208.17 973.26,4201.88 976.50,4195.00 979.74,4187.58 982.98,4179.64 986.22,4171.22 989.46,4162.34 992.71,4153.04 995.95,4143.35 999.19,4133.29 1002.43,4122.90 1005.67,4112.21 1008.92,4101.24 1012.16,4090.03 1015.40,4078.60 1018.64,4067.00 1021.88,4055.25 1025.12,4043.39 1028.37,4031.45 1031.61,4019.47 1034.85,4007.48 1038.09,3995.51 1041.33,3983.60 1044.57,3971.79 1047.82,3960.11 1051.06,3948.59 1054.30,3937.28 1057.54,3926.21 1060.78,3915.41 1064.02,3904.91 1067.27,3894.75 1070.51,3884.95 1073.75,3875.56 1076.99,3866.60 1080.23,3858.09 1083.48,3850.07 1086.72,3842.56 1089.96,3835.58 1093.20,3829.16 1096.44,3823.31 1099.68,3818.05 1102.93,3813.40 1106.17,3809.38 1109.41,3805.98 1112.65,3803.22 1115.89,3801.11 1119.13,3799.65 1122.38,3798.83 1125.62,3798.67 1128.86,3799.16 1132.10,3800.28 1135.34,3802.03 1138.58,3804.41 1141.83,3807.39 1145.07,3810.96 1148.31,3815.11 1151.55,3819.82 1154.79,3825.05 1158.04,3830.80 1161.28,3837.03 1164.52,3843.73 1167.76,3850.85 1171.00,3858.38 1174.24,3866.29 1177.49,3874.53 1180.73,3883.09 1183.97,3891.94 1187.21,3901.03 1190.45,3910.33 1193.69,3919.83 1196.94,3929.47 1200.18,3939.24 1203.42,3949.10 1206.66,3959.02 1209.90,3968.96 1213.15,3978.91 1216.39,3988.84 1219.63,3998.71 1222.87,4008.50 1226.11,4018.19 1229.35,4027.76 1232.60,4037.18 1235.84,4046.44 1239.08,4055.51 1242.32,4064.38 1245.56,4073.04 1248.80,4081.47 1252.05,4089.65 1255.29,4097.59 1258.53,4105.27 1261.77,4112.68 1265.01,4119.83 1268.25,4126.69 1271.50,4133.28 1274.74,4139.59 1277.98,4145.62 1281.22,4151.37 1284.46,4156.84 1287.71,4162.04 1290.95,4166.97 1294.19,4171.64 1297.43,4176.05 1300.67,4180.20 1303.91,4184.11 1307.16,4187.78 1310.40,4191.22 1313.64,4194.44 1316.88,4197.45 1320.12,4200.25 1323.36,4202.85 1326.61,4205.27 1329.85,4207.52 1333.09,4209.59 1336.33,4211.50 1339.57,4213.27 1342.82,4214.89 1346.06,4216.38 1349.30,4217.74 1352.54,4218.99 1355.78,4220.13 1359.02,4221.17 1362.27,4222.11 1365.51,4222.97 1368.75,4223.75 1371.99,4224.45 1375.23,4225.08 1378.47,4225.65 1381.72,4226.17 1384.96,4226.63 1388.20,4227.04 1391.44,4227.41 1394.68,4227.74 1397.92,4228.03 1401.17,4228.29 1404.41,4228.52 1407.65,4228.72 1410.89,4228.91 1414.13,4229.06 1417.38,4229.20 1420.62,4229.33 1423.86,4229.44 1427.10,4229.53 1430.34,4229.61 1433.58,4229.68 1436.83,4229.75 1440.07,4229.80 1443.31,4229.85 1446.55,4229.89 1449.79,4229.92 1453.03,4229.96 1456.28,4229.98 1459.52,4230.00 1462.76,4230.02 1466.00,4230.04 1469.24,4230.05 1472.48,4230.06 1475.73,4230.07 1478.97,4230.08 1482.21,4230.09 1485.45,4230.10 1488.69,4230.10 1491.94,4230.11 1495.18,4230.11 1498.42,4230.11 1501.66,4230.12 1504.90,4230.12 1508.14,4230.12 1511.39,4230.12 1514.63,4230.12 1517.87,4230.12 1521.11,4230.12 1524.35,4230.12 1527.59,4230.12 1530.84,4230.13"/>
<polyline fill="none" stroke="#800080" stroke-width="3.40" stroke-linejoin="round" stroke-linecap="square" points="950.56,4230.13 953.81,4227.99 957.05,4224.06 960.29,4218.98 963.53,4212.96 966.77,4206.15 970.01,4198.62 973.26,4190.47 976.50,4181.74 979.74,4172.49 982.98,4162.77 986.22,4152.61 989.46,4142.07 992.71,4131.17 995.95,4119.97 999.19,4108.49 1002.43,4096.77 1005.67,4084.85 1008.92,4072.77 1012.16,4060.57 1015.40,4048.27 1018.64,4035.92 1021.88,4023.56 1025.12,4011.22 1028.37,3998.93 1031.61,3986.74 1034.85,3974.68 1038.09,3962.78 1041.33,3951.09 1044.57,3939.63 1047.82,3928.44 1051.06,3917.56 1054.30,3907.01 1057.54,3896.82 1060.78,3887.03 1064.02,3877.67 1067.27,3868.76 1070.51,3860.33 1073.75,3852.40 1076.99,3844.99 1080.23,3838.13 1083.48,3831.83 1086.72,3826.11 1089.96,3820.98 1093.20,3816.46 1096.44,3812.56 1099.68,3809.28 1102.93,3806.63 1106.17,3804.62 1109.41,3803.23 1112.65,3802.49 1115.89,3802.37 1119.13,3802.87 1122.38,3803.99 1125.62,3805.72 1128.86,3808.04 1132.10,3810.94 1135.34,3814.40 1138.58,3818.41 1141.83,3822.94 1145.07,3827.98 1148.31,3833.51 1151.55,3839.49 1154.79,3845.91 1158.04,3852.73 1161.28,3859.93 1164.52,3867.49 1167.76,3875.37 1171.00,3883.55 1174.24,3891.99 1177.49,3900.67 1180.73,3909.56 1183.97,3918.62 1187.21,3927.83 1190.45,3937.16 1193.69,3946.59 1196.94,3956.07 1200.18,3965.59 1203.42,3975.13 1206.66,3984.65 1209.90,3994.12 1213.15,4003.54 1216.39,4012.87 1219.63,4022.10 1222.87,4031.20 1226.11,4040.17 1229.35,4048.97 1232.60,4057.59 1235.84,4066.03 1239.08,4074.26 1242.32,4082.29 1245.56,4090.09 1248.80,4097.66 1252.05,4104.99 1255.29,4112.07 1258.53,4118.91 1261.77,4125.49 1265.01,4131.82 1268.25,4137.90 1271.50,4143.72 1274.74,4149.28 1277.98,4154.59 1281.22,4159.65 1284.46,4164.46 1287.71,4169.03 1290.95,4173.36 1294.19,4177.46 1297.43,4181.33 1300.67,4184.98 1303.91,4188.41 1307.16,4191.64 1310.40,4194.67 1313.64,4197.51 1316.88,4200.16 1320.12,4202.64 1323.36,4204.94 1326.61,4207.09 1329.85,4209.09 1333.09,4210.94 1336.33,4212.65 1339.57,4214.23 1342.82,4215.69 1346.06,4217.04 1349.30,4218.28 1352.54,4219.41 1355.78,4220.45 1359.02,4221.41 1362.27,4222.28 1365.51,4223.07 1368.75,4223.80 1371.99,4224.45 1375.23,4225.05 1378.47,4225.59 1381.72,4226.08 1384.96,4226.52 1388.20,4226.92 1391.44,4227.28 1394.68,4227.60 1397.92,4227.89 1401.17,4228.15 1404.41,4228.38 1407.65,4228.59 1410.89,4228.78 1414.13,4228.94 1417.38,4229.09 1420.62,4229.22 1423.86,4229.33 1427.10,4229.43 1430.34,4229.52 1433.58,4229.60 1436.83,4229.67 1440.07,4229.73 1443.31,4229.78 1446.55,4229.83 1449.79,4229.87 1453.03,4229.91 1456.28,4229.94 1459.52,4229.96 1462.76,4229.99 1466.00,4230.01 1469.24,4230.02 1472.48,4230.04 1475.73,4230.05 1478.97,4230.06 1482.21,4230.07 1485.45,4230.08 1488.69,4230.09 1491.94,4230.09 1495.18,4230.10 1498.42,4230.10 1501.66,4230.11 1504.90,4230.11 1508.14,4230.11 1511.39,4230.12 1514.63,4230.12 1517.87,4230.12 1521.11,4230.12 1524.35,4230.12 1527.59,4230.12 1530.84,4230.12"/>
<polyline fill="none" stroke="#ff0000" stroke-width="3.40" stroke-linejoin="round" stroke-linecap="square" points="950.56,4230.13 953.81,4223.34 957.05,4214.26 960.29,4204.06 963.53,4193.08 966.77,4181.50 970.01,4169.45 973.26,4157.01 976.50,4144.27 979.74,4131.28 982.98,4118.11 986.22,4104.80 989.46,4091.41 992.71,4077.98 995.95,4064.55 999.19,4051.16 1002.43,4037.86 1005.67,4024.68 1008.92,4011.66 1012.16,3998.83 1015.40,3986.23 1018.64,3973.89 1021.88,3961.84 1025.12,3950.12 1028.37,3938.75 1031.61,3927.76 1034.85,3917.17 1038.09,3907.02 1041.33,3897.32 1044.57,3888.09 1047.82,3879.36 1051.06,3871.14 1054.30,3863.45 1057.54,3856.30 1060.78,3849.70 1064.02,3843.67 1067.27,3838.22 1070.51,3833.35 1073.75,3829.06 1076.99,3825.36 1080.23,3822.25 1083.48,3819.74 1086.72,3817.81 1089.96,3816.46 1093.20,3815.69 1096.44,3815.50 1099.68,3815.86 1102.93,3816.77 1106.17,3818.22 1109.41,3820.20 1112.65,3822.69 1115.89,3825.67 1119.13,3829.12 1122.38,3833.03 1125.62,3837.39 1128.86,3842.15 1132.10,3847.32 1135.34,3852.86 1138.58,3858.76 1141.83,3864.98 1145.07,3871.52 1148.31,3878.33 1151.55,3885.41 1154.79,3892.73 1158.04,3900.25 1161.28,3907.97 1164.52,3915.85 1167.76,3923.88 1171.00,3932.03 1174.24,3940.27 1177.49,3948.59 1180.73,3956.97 1183.97,3965.38 1187.21,3973.81 1190.45,3982.23 1193.69,3990.63 1196.94,3998.99 1200.18,4007.29 1203.42,4015.53 1206.66,4023.67 1209.90,4031.71 1213.15,4039.64 1216.39,4047.44 1219.63,4055.10 1222.87,4062.62 1226.11,4069.98 1229.35,4077.17 1232.60,4084.19 1235.84,4091.03 1239.08,4097.69 1242.32,4104.16 1245.56,4110.44 1248.80,4116.52 1252.05,4122.40 1255.29,4128.08 1258.53,4133.56 1261.77,4138.84 1265.01,4143.92 1268.25,4148.79 1271.50,4153.48 1274.74,4157.96 1277.98,4162.25 1281.22,4166.35 1284.46,4170.27 1287.71,4174.00 1290.95,4177.55 1294.19,4180.93 1297.43,4184.14 1300.67,4187.18 1303.91,4190.06 1307.16,4192.79 1310.40,4195.36 1313.64,4197.80 1316.88,4200.09 1320.12,4202.25 1323.36,4204.27 1326.61,4206.18 1329.85,4207.97 1333.09,4209.64 1336.33,4211.21 1339.57,4212.68 1342.82,4214.04 1346.06,4215.32 1349.30,4216.51 1352.54,4217.62 1355.78,4218.64 1359.02,4219.60 1362.27,4220.48 1365.51,4221.30 1368.75,4222.06 1371.99,4222.76 1375.23,4223.41 1378.47,4224.00 1381.72,4224.55 1384.96,4225.06 1388.20,4225.52 1391.44,4225.95 1394.68,4226.34 1397.92,4226.70 1401.17,4227.02 1404.41,4227.32 1407.65,4227.59 1410.89,4227.84 1414.13,4228.07 1417.38,4228.27 1420.62,4228.46 1423.86,4228.63 1427.10,4228.78 1430.34,4228.92 1433.58,4229.05 1436.83,4229.16 1440.07,4229.27 1443.31,4229.36 1446.55,4229.44 1449.79,4229.52 1453.03,4229.58 1456.28,4229.64 1459.52,4229.70 1462.76,4229.75 1466.00,4229.79 1469.24,4229.83 1472.48,4229.86 1475.73,4229.89 1478.97,4229.92 1482.21,4229.95 1485.45,4229.97 1488.69,4229.99 1491.94,4230.00 1495.18,4230.02 1498.42,4230.03 1501.66,4230.04 1504.90,4230.05 1508.14,4230.06 1511.39,4230.07 1514.63,4230.08 1517.87,4230.08 1521.11,4230.09 1524.35,4230.10 1527.59,4230.10 1530.84,4230.10"/>
<polyline fill="none" stroke="#0000ff" stroke-width="3.40" stroke-linejoin="round" stroke-linecap="square" points="950.56,4230.13 953.81,4164.73 957.05,4135.21 960.29,4112.36 963.53,4093.17 966.77,4076.43 970.01,4061.52 973.26,4048.08 976.50,4035.87 979.74,4024.70 982.98,4014.45 986.22,4005.03 989.46,3996.36 992.71,3988.37 995.95,3981.02 999.19,3974.25 1002.43,3968.04 1005.67,3962.35 1008.92,3957.15 1012.16,3952.42 1015.40,3948.12 1018.64,3944.25 1021.88,3940.77 1025.12,3937.68 1028.37,3934.95 1031.61,3932.57 1034.85,3930.52 1038.09,3928.79 1041.33,3927.37 1044.57,3926.24 1047.82,3925.40 1051.06,3924.82 1054.30,3924.49 1057.54,3924.42 1060.78,3924.57 1064.02,3924.96 1067.27,3925.56 1070.51,3926.36 1073.75,3927.36 1076.99,3928.55 1080.23,3929.91 1083.48,3931.45 1086.72,3933.14 1089.96,3934.99 1093.20,3936.98 1096.44,3939.12 1099.68,3941.38 1102.93,3943.76 1106.17,3946.26 1109.41,3948.87 1112.65,3951.58 1115.89,3954.39 1119.13,3957.28 1122.38,3960.26 1125.62,3963.32 1128.86,3966.44 1132.10,3969.64 1135.34,3972.89 1138.58,3976.20 1141.83,3979.57 1145.07,3982.97 1148.31,3986.42 1151.55,3989.90 1154.79,3993.42 1158.04,3996.96 1161.28,4000.53 1164.52,4004.11 1167.76,4007.71 1171.00,4011.33 1174.24,4014.95 1177.49,4018.58 1180.73,4022.21 1183.97,4025.84 1187.21,4029.46 1190.45,4033.08 1193.69,4036.68 1196.94,4040.28 1200.18,4043.86 1203.42,4047.42 1206.66,4050.97 1209.90,4054.49 1213.15,4057.99 1216.39,4061.46 1219.63,4064.91 1222.87,4068.33 1226.11,4071.71 1229.35,4075.07 1232.60,4078.39 1235.84,4081.68 1239.08,4084.93 1242.32,4088.15 1245.56,4091.32 1248.80,4094.46 1252.05,4097.56 1255.29,4100.61 1258.53,4103.63 1261.77,4106.60 1265.01,4109.53 1268.25,4112.42 1271.50,4115.27 1274.74,4118.07 1277.98,4120.82 1281.22,4123.53 1284.46,4126.20 1287.71,4128.82 1290.95,4131.39 1294.19,4133.92 1297.43,4136.41 1300.67,4138.85 1303.91,4141.24 1307.16,4143.59 1310.40,4145.89 1313.64,4148.15 1316.88,4150.37 1320.12,4152.54 1323.36,4154.66 1326.61,4156.74 1329.85,4158.78 1333.09,4160.78 1336.33,4162.73 1339.57,4164.64 1342.82,4166.50 1346.06,4168.33 1349.30,4170.11 1352.54,4171.86 1355.78,4173.56 1359.02,4175.22 1362.27,4176.85 1365.51,4178.43 1368.75,4179.98 1371.99,4181.49 1375.23,4182.96 1378.47,4184.40 1381.72,4185.80 1384.96,4187.16 1388.20,4188.49 1391.44,4189.79 1394.68,4191.05 1397.92,4192.28 1401.17,4193.47 1404.41,4194.64 1407.65,4195.77 1410.89,4196.88 1414.13,4197.95 1417.38,4198.99 1420.62,4200.01 1423.86,4200.99 1427.10,4201.95 1430.34,4202.88 1433.58,4203.79 1436.83,4204.67 1440.07,4205.52 1443.31,4206.35 1446.55,4207.15 1449.79,4207.93 1453.03,4208.69 1456.28,4209.43 1459.52,4210.14 1462.76,4210.83 1466.00,4211.50 1469.24,4212.15 1472.48,4212.78 1475.73,4213.39 1478.97,4213.98 1482.21,4214.55 1485.45,4215.11 1488.69,4215.65 1491.94,4216.17 1495.18,4216.67 1498.42,4217.16 1501.66,4217.63 1504.90,4218.08 1508.14,4218.52 1511.39,4218.95 1514.63,4219.36 1517.87,4219.76 1521.11,4220.15 1524.35,4220.52 1527.59,4220.88 1530.84,4221.23"/>
<rect x="921.55" y="3777.10" width="638.30" height="474.60" fill="none" stroke="#cccccc" stroke-width="2.2"/>
<g font-size="19.3"><text transform="matrix(1 0 0 0.930 950.56 4282.02)" text-anchor="middle">0.0</text><text transform="matrix(1 0 0 0.930 1031.61 4282.02)" text-anchor="middle">2.5</text><text transform="matrix(1 0 0 0.930 1112.65 4282.02)" text-anchor="middle">5.0</text><text transform="matrix(1 0 0 0.930 1193.69 4282.02)" text-anchor="middle">7.5</text><text transform="matrix(1 0 0 0.930 1274.74 4282.02)" text-anchor="middle">10.0</text><text transform="matrix(1 0 0 0.930 1355.78 4282.02)" text-anchor="middle">12.5</text><text transform="matrix(1 0 0 0.930 1436.83 4282.02)" text-anchor="middle">15.0</text><text transform="matrix(1 0 0 0.930 1517.87 4282.02)" text-anchor="middle">17.5</text><text transform="matrix(1 0 0 0.930 903.55 4236.54)" text-anchor="end">0.000</text><text transform="matrix(1 0 0 0.930 903.55 4170.77)" text-anchor="end">0.025</text><text transform="matrix(1 0 0 0.930 903.55 4105.00)" text-anchor="end">0.050</text><text transform="matrix(1 0 0 0.930 903.55 4039.22)" text-anchor="end">0.075</text><text transform="matrix(1 0 0 0.930 903.55 3973.45)" text-anchor="end">0.100</text><text transform="matrix(1 0 0 0.930 903.55 3907.68)" text-anchor="end">0.125</text><text transform="matrix(1 0 0 0.930 903.55 3841.90)" text-anchor="end">0.150</text></g>
<text transform="matrix(1 0 0 0.930 1240.70 4308.70)" font-size="21.2" text-anchor="middle">wind speed m/s</text>
<text x="1240.70" y="0.00" font-size="45.5" text-anchor="middle" transform="translate(0 3765.20) scale(1 1.05)">Tower 7 50m</text>
<g><rect x="1425.55" y="3786.80" width="125.00" height="115.40" rx="3.8" ry="3.8" fill="#fff" fill-opacity="0.8" stroke="#cccccc" stroke-width="1.75"/><line x1="1433.25" y1="3802.20" x2="1471.65" y2="3802.20" stroke="#008000" stroke-width="3.40" stroke-linecap="square"/><text transform="matrix(1 0 0 0.930 1487.55 3807.12)" font-size="19.3">Test 1</text><line x1="1433.25" y1="3830.15" x2="1471.65" y2="3830.15" stroke="#800080" stroke-width="3.40" stroke-linecap="square"/><text transform="matrix(1 0 0 0.930 1487.55 3835.07)" font-size="19.3">Test 3</text><line x1="1433.25" y1="3858.10" x2="1471.65" y2="3858.10" stroke="#ff0000" stroke-width="3.40" stroke-linecap="square"/><text transform="matrix(1 0 0 0.930 1487.55 3863.02)" font-size="19.3">Test 2</text><line x1="1433.25" y1="3886.05" x2="1471.65" y2="3886.05" stroke="#0000ff" stroke-width="3.40" stroke-linecap="square"/><text transform="matrix(1 0 0 0.930 1487.55 3890.97)" font-size="19.3">obs</text></g>
<g stroke="#d0d0d0" stroke-width="2.1"><line x1="1774.31" y1="3777.10" x2="1774.31" y2="4251.70"/><line x1="1855.36" y1="3777.10" x2="1855.36" y2="4251.70"/><line x1="1936.40" y1="3777.10" x2="1936.40" y2="4251.70"/><line x1="2017.44" y1="3777.10" x2="2017.44" y2="4251.70"/><line x1="2098.49" y1="3777.10" x2="2098.49" y2="4251.70"/><line x1="2179.53" y1="3777.10" x2="2179.53" y2="4251.70"/><line x1="2260.58" y1="3777.10" x2="2260.58" y2="4251.70"/><line x1="2341.62" y1="3777.10" x2="2341.62" y2="4251.70"/><line x1="1745.30" y1="4230.13" x2="2383.60" y2="4230.13"/><line x1="1745.30" y1="4167.78" x2="2383.60" y2="4167.78"/><line x1="1745.30" y1="4105.43" x2="2383.60" y2="4105.43"/><line x1="1745.30" y1="4043.08" x2="2383.60" y2="4043.08"/><line x1="1745.30" y1="3980.72" x2="2383.60" y2="3980.72"/><line x1="1745.30" y1="3918.37" x2="2383.60" y2="3918.37"/><line x1="1745.30" y1="3856.02" x2="2383.60" y2="3856.02"/><line x1="1745.30" y1="3793.67" x2="2383.60" y2="3793.67"/></g>
<polyline fill="none" stroke="#008000" stroke-width="3.40" stroke-linejoin="round" stroke-linecap="square" points="1774.31,4230.13 1777.56,4230.07 1780.80,4229.85 1784.04,4229.42 1787.28,4228.76 1790.52,4227.84 1793.76,4226.65 1797.01,4225.17 1800.25,4223.39 1803.49,4221.30 1806.73,4218.89 1809.97,4216.14 1813.21,4213.06 1816.46,4209.62 1819.70,4205.84 1822.94,4201.70 1826.18,4197.19 1829.42,4192.32 1832.67,4187.08 1835.91,4181.48 1839.15,4175.51 1842.39,4169.17 1845.63,4162.47 1848.87,4155.41 1852.12,4148.00 1855.36,4140.24 1858.60,4132.14 1861.84,4123.71 1865.08,4114.97 1868.32,4105.92 1871.57,4096.58 1874.81,4086.97 1878.05,4077.10 1881.29,4067.00 1884.53,4056.68 1887.77,4046.17 1891.02,4035.48 1894.26,4024.66 1897.50,4013.72 1900.74,4002.69 1903.98,3991.61 1907.23,3980.50 1910.47,3969.41 1913.71,3958.35 1916.95,3947.37 1920.19,3936.51 1923.43,3925.80 1926.68,3915.28 1929.92,3904.98 1933.16,3894.95 1936.40,3885.22 1939.64,3875.83 1942.88,3866.82 1946.13,3858.23 1949.37,3850.08 1952.61,3842.43 1955.85,3835.29 1959.09,3828.71 1962.33,3822.71 1965.58,3817.33 1968.82,3812.58 1972.06,3808.50 1975.30,3805.10 1978.54,3802.40 1981.79,3800.43 1985.03,3799.18 1988.27,3798.67 1991.51,3798.91 1994.75,3799.90 1997.99,3801.63 2001.24,3804.11 2004.48,3807.32 2007.72,3811.25 2010.96,3815.88 2014.20,3821.20 2017.44,3827.19 2020.69,3833.81 2023.93,3841.04 2027.17,3848.84 2030.41,3857.19 2033.65,3866.04 2036.90,3875.36 2040.14,3885.10 2043.38,3895.22 2046.62,3905.68 2049.86,3916.43 2053.10,3927.43 2056.35,3938.62 2059.59,3949.97 2062.83,3961.43 2066.07,3972.95 2069.31,3984.49 2072.55,3996.00 2075.80,4007.44 2079.04,4018.78 2082.28,4029.98 2085.52,4040.99 2088.76,4051.80 2092.00,4062.36 2095.25,4072.64 2098.49,4082.64 2101.73,4092.31 2104.97,4101.65 2108.21,4110.63 2111.46,4119.25 2114.70,4127.49 2117.94,4135.35 2121.18,4142.81 2124.42,4149.89 2127.66,4156.57 2130.91,4162.87 2134.15,4168.78 2137.39,4174.32 2140.63,4179.48 2143.87,4184.29 2147.11,4188.75 2150.36,4192.87 2153.60,4196.67 2156.84,4200.17 2160.08,4203.37 2163.32,4206.30 2166.57,4208.96 2169.81,4211.38 2173.05,4213.57 2176.29,4215.55 2179.53,4217.32 2182.77,4218.92 2186.02,4220.34 2189.26,4221.61 2192.50,4222.73 2195.74,4223.73 2198.98,4224.61 2202.22,4225.38 2205.47,4226.06 2208.71,4226.65 2211.95,4227.16 2215.19,4227.61 2218.43,4228.00 2221.67,4228.33 2224.92,4228.61 2228.16,4228.86 2231.40,4229.07 2234.64,4229.24 2237.88,4229.39 2241.13,4229.52 2244.37,4229.63 2247.61,4229.72 2250.85,4229.79 2254.09,4229.85 2257.33,4229.90 2260.58,4229.95 2263.82,4229.98 2267.06,4230.01 2270.30,4230.03 2273.54,4230.05 2276.78,4230.07 2280.03,4230.08 2283.27,4230.09 2286.51,4230.10 2289.75,4230.10 2292.99,4230.11 2296.23,4230.11 2299.48,4230.12 2302.72,4230.12 2305.96,4230.12 2309.20,4230.12 2312.44,4230.12 2315.69,4230.12 2318.93,4230.13 2322.17,4230.13 2325.41,4230.13 2328.65,4230.13 2331.89,4230.13 2335.14,4230.13 2338.38,4230.13 2341.62,4230.13 2344.86,4230.13 2348.10,4230.13 2351.34,4230.13 2354.59,4230.13"/>
<polyline fill="none" stroke="#800080" stroke-width="3.40" stroke-linejoin="round" stroke-linecap="square" points="1774.31,4230.13 1777.56,4229.94 1780.80,4229.37 1784.04,4228.41 1787.28,4227.05 1790.52,4225.29 1793.76,4223.13 1797.01,4220.58 1800.25,4217.62 1803.49,4214.26 1806.73,4210.50 1809.97,4206.35 1813.21,4201.80 1816.46,4196.86 1819.70,4191.53 1822.94,4185.82 1826.18,4179.74 1829.42,4173.28 1832.67,4166.47 1835.91,4159.30 1839.15,4151.79 1842.39,4143.95 1845.63,4135.80 1848.87,4127.34 1852.12,4118.59 1855.36,4109.57 1858.60,4100.29 1861.84,4090.78 1865.08,4081.05 1868.32,4071.12 1871.57,4061.02 1874.81,4050.78 1878.05,4040.41 1881.29,4029.94 1884.53,4019.40 1887.77,4008.82 1891.02,3998.22 1894.26,3987.64 1897.50,3977.11 1900.74,3966.66 1903.98,3956.31 1907.23,3946.10 1910.47,3936.07 1913.71,3926.24 1916.95,3916.65 1920.19,3907.34 1923.43,3898.32 1926.68,3889.64 1929.92,3881.32 1933.16,3873.40 1936.40,3865.90 1939.64,3858.85 1942.88,3852.28 1946.13,3846.21 1949.37,3840.67 1952.61,3835.68 1955.85,3831.26 1959.09,3827.42 1962.33,3824.19 1965.58,3821.57 1968.82,3819.57 1972.06,3818.21 1975.30,3817.49 1978.54,3817.41 1981.79,3817.98 1985.03,3819.19 1988.27,3821.03 1991.51,3823.51 1994.75,3826.60 1997.99,3830.30 2001.24,3834.59 2004.48,3839.46 2007.72,3844.87 2010.96,3850.82 2014.20,3857.28 2017.44,3864.21 2020.69,3871.59 2023.93,3879.40 2027.17,3887.60 2030.41,3896.15 2033.65,3905.02 2036.90,3914.19 2040.14,3923.60 2043.38,3933.24 2046.62,3943.06 2049.86,3953.02 2053.10,3963.09 2056.35,3973.24 2059.59,3983.43 2062.83,3993.63 2066.07,4003.81 2069.31,4013.93 2072.55,4023.96 2075.80,4033.88 2079.04,4043.65 2082.28,4053.26 2085.52,4062.69 2088.76,4071.90 2092.00,4080.88 2095.25,4089.61 2098.49,4098.08 2101.73,4106.27 2104.97,4114.18 2108.21,4121.79 2111.46,4129.09 2114.70,4136.09 2117.94,4142.77 2121.18,4149.14 2124.42,4155.19 2127.66,4160.93 2130.91,4166.35 2134.15,4171.47 2137.39,4176.29 2140.63,4180.82 2143.87,4185.06 2147.11,4189.02 2150.36,4192.71 2153.60,4196.14 2156.84,4199.32 2160.08,4202.26 2163.32,4204.98 2166.57,4207.48 2169.81,4209.78 2173.05,4211.88 2176.29,4213.81 2179.53,4215.56 2182.77,4217.15 2186.02,4218.60 2189.26,4219.91 2192.50,4221.09 2195.74,4222.15 2198.98,4223.10 2202.22,4223.96 2205.47,4224.72 2208.71,4225.40 2211.95,4226.00 2215.19,4226.54 2218.43,4227.01 2221.67,4227.43 2224.92,4227.80 2228.16,4228.12 2231.40,4228.40 2234.64,4228.65 2237.88,4228.86 2241.13,4229.05 2244.37,4229.21 2247.61,4229.35 2250.85,4229.47 2254.09,4229.57 2257.33,4229.66 2260.58,4229.73 2263.82,4229.80 2267.06,4229.85 2270.30,4229.90 2273.54,4229.94 2276.78,4229.97 2280.03,4230.00 2283.27,4230.02 2286.51,4230.04 2289.75,4230.05 2292.99,4230.07 2296.23,4230.08 2299.48,4230.09 2302.72,4230.10 2305.96,4230.10 2309.20,4230.11 2312.44,4230.11 2315.69,4230.11 2318.93,4230.12 2322.17,4230.12 2325.41,4230.12 2328.65,4230.12 2331.89,4230.12 2335.14,4230.12 2338.38,4230.12 2341.62,4230.13 2344.86,4230.13 2348.10,4230.13 2351.34,4230.13 2354.59,4230.13"/>
<polyline fill="none" stroke="#ff0000" stroke-width="3.40" stroke-linejoin="round" stroke-linecap="square" points="1774.31,4230.13 1777.56,4227.30 1780.80,4222.82 1784.04,4217.42 1787.28,4211.30 1790.52,4204.61 1793.76,4197.42 1797.01,4189.80 1800.25,4181.81 1803.49,4173.49 1806.73,4164.87 1809.97,4156.00 1813.21,4146.90 1816.46,4137.60 1819.70,4128.14 1822.94,4118.54 1826.18,4108.84 1829.42,4099.04 1832.67,4089.19 1835.91,4079.30 1839.15,4069.40 1842.39,4059.52 1845.63,4049.68 1848.87,4039.91 1852.12,4030.22 1855.36,4020.64 1858.60,4011.19 1861.84,4001.89 1865.08,3992.77 1868.32,3983.85 1871.57,3975.14 1874.81,3966.67 1878.05,3958.45 1881.29,3950.51 1884.53,3942.86 1887.77,3935.51 1891.02,3928.49 1894.26,3921.80 1897.50,3915.46 1900.74,3909.49 1903.98,3903.89 1907.23,3898.68 1910.47,3893.87 1913.71,3889.45 1916.95,3885.45 1920.19,3881.86 1923.43,3878.70 1926.68,3875.96 1929.92,3873.64 1933.16,3871.76 1936.40,3870.30 1939.64,3869.28 1942.88,3868.67 1946.13,3868.49 1949.37,3868.73 1952.61,3869.38 1955.85,3870.43 1959.09,3871.89 1962.33,3873.73 1965.58,3875.95 1968.82,3878.54 1972.06,3881.48 1975.30,3884.77 1978.54,3888.40 1981.79,3892.34 1985.03,3896.59 1988.27,3901.12 1991.51,3905.94 1994.75,3911.01 1997.99,3916.32 2001.24,3921.87 2004.48,3927.62 2007.72,3933.56 2010.96,3939.69 2014.20,3945.97 2017.44,3952.40 2020.69,3958.95 2023.93,3965.61 2027.17,3972.37 2030.41,3979.20 2033.65,3986.10 2036.90,3993.04 2040.14,4000.01 2043.38,4006.99 2046.62,4013.98 2049.86,4020.95 2053.10,4027.90 2056.35,4034.81 2059.59,4041.67 2062.83,4048.47 2066.07,4055.19 2069.31,4061.83 2072.55,4068.37 2075.80,4074.82 2079.04,4081.15 2082.28,4087.36 2085.52,4093.45 2088.76,4099.41 2092.00,4105.23 2095.25,4110.91 2098.49,4116.44 2101.73,4121.82 2104.97,4127.04 2108.21,4132.12 2111.46,4137.03 2114.70,4141.78 2117.94,4146.37 2121.18,4150.81 2124.42,4155.08 2127.66,4159.19 2130.91,4163.14 2134.15,4166.94 2137.39,4170.58 2140.63,4174.06 2143.87,4177.39 2147.11,4180.58 2150.36,4183.61 2153.60,4186.51 2156.84,4189.26 2160.08,4191.88 2163.32,4194.37 2166.57,4196.73 2169.81,4198.96 2173.05,4201.08 2176.29,4203.07 2179.53,4204.96 2182.77,4206.74 2186.02,4208.41 2189.26,4209.98 2192.50,4211.46 2195.74,4212.85 2198.98,4214.15 2202.22,4215.37 2205.47,4216.51 2208.71,4217.57 2211.95,4218.56 2215.19,4219.49 2218.43,4220.35 2221.67,4221.15 2224.92,4221.89 2228.16,4222.58 2231.40,4223.22 2234.64,4223.81 2237.88,4224.36 2241.13,4224.86 2244.37,4225.33 2247.61,4225.76 2250.85,4226.15 2254.09,4226.51 2257.33,4226.85 2260.58,4227.15 2263.82,4227.43 2267.06,4227.69 2270.30,4227.92 2273.54,4228.14 2276.78,4228.33 2280.03,4228.51 2283.27,4228.67 2286.51,4228.82 2289.75,4228.95 2292.99,4229.07 2296.23,4229.18 2299.48,4229.28 2302.72,4229.37 2305.96,4229.45 2309.20,4229.52 2312.44,4229.59 2315.69,4229.65 2318.93,4229.70 2322.17,4229.75 2325.41,4229.79 2328.65,4229.83 2331.89,4229.86 2335.14,4229.89 2338.38,4229.92 2341.62,4229.94 2344.86,4229.97 2348.10,4229.98 2351.34,4230.00 2354.59,4230.02"/>
<polyline fill="none" stroke="#0000ff" stroke-width="3.40" stroke-linejoin="round" stroke-linecap="square" points="1774.31,4230.13 1777.56,4208.09 1780.80,4193.10 1784.04,4180.03 1787.28,4168.10 1790.52,4156.99 1793.76,4146.54 1797.01,4136.62 1800.25,4127.18 1803.49,4118.17 1806.73,4109.54 1809.97,4101.26 1813.21,4093.33 1816.46,4085.71 1819.70,4078.40 1822.94,4071.39 1826.18,4064.66 1829.42,4058.21 1832.67,4052.03 1835.91,4046.11 1839.15,4040.45 1842.39,4035.05 1845.63,4029.90 1848.87,4024.99 1852.12,4020.33 1855.36,4015.90 1858.60,4011.71 1861.84,4007.74 1865.08,4004.01 1868.32,4000.49 1871.57,3997.20 1874.81,3994.13 1878.05,3991.26 1881.29,3988.61 1884.53,3986.17 1887.77,3983.92 1891.02,3981.88 1894.26,3980.03 1897.50,3978.38 1900.74,3976.91 1903.98,3975.63 1907.23,3974.52 1910.47,3973.60 1913.71,3972.85 1916.95,3972.27 1920.19,3971.85 1923.43,3971.60 1926.68,3971.50 1929.92,3971.55 1933.16,3971.76 1936.40,3972.11 1939.64,3972.60 1942.88,3973.23 1946.13,3973.99 1949.37,3974.88 1952.61,3975.90 1955.85,3977.04 1959.09,3978.29 1962.33,3979.65 1965.58,3981.12 1968.82,3982.70 1972.06,3984.38 1975.30,3986.15 1978.54,3988.01 1981.79,3989.97 1985.03,3992.00 1988.27,3994.12 1991.51,3996.31 1994.75,3998.57 1997.99,4000.91 2001.24,4003.30 2004.48,4005.76 2007.72,4008.27 2010.96,4010.84 2014.20,4013.46 2017.44,4016.13 2020.69,4018.83 2023.93,4021.58 2027.17,4024.37 2030.41,4027.18 2033.65,4030.03 2036.90,4032.90 2040.14,4035.80 2043.38,4038.72 2046.62,4041.66 2049.86,4044.61 2053.10,4047.58 2056.35,4050.55 2059.59,4053.54 2062.83,4056.53 2066.07,4059.52 2069.31,4062.51 2072.55,4065.49 2075.80,4068.48 2079.04,4071.46 2082.28,4074.43 2085.52,4077.39 2088.76,4080.33 2092.00,4083.26 2095.25,4086.18 2098.49,4089.08 2101.73,4091.96 2104.97,4094.82 2108.21,4097.66 2111.46,4100.47 2114.70,4103.26 2117.94,4106.03 2121.18,4108.77 2124.42,4111.48 2127.66,4114.16 2130.91,4116.81 2134.15,4119.42 2137.39,4122.01 2140.63,4124.57 2143.87,4127.09 2147.11,4129.58 2150.36,4132.03 2153.60,4134.45 2156.84,4136.83 2160.08,4139.17 2163.32,4141.48 2166.57,4143.76 2169.81,4145.99 2173.05,4148.19 2176.29,4150.35 2179.53,4152.47 2182.77,4154.56 2186.02,4156.61 2189.26,4158.61 2192.50,4160.59 2195.74,4162.52 2198.98,4164.41 2202.22,4166.27 2205.47,4168.09 2208.71,4169.87 2211.95,4171.62 2215.19,4173.33 2218.43,4175.00 2221.67,4176.63 2224.92,4178.23 2228.16,4179.79 2231.40,4181.32 2234.64,4182.81 2237.88,4184.27 2241.13,4185.69 2244.37,4187.07 2247.61,4188.43 2250.85,4189.75 2254.09,4191.03 2257.33,4192.29 2260.58,4193.51 2263.82,4194.70 2267.06,4195.86 2270.30,4196.99 2273.54,4198.09 2276.78,4199.16 2280.03,4200.20 2283.27,4201.21 2286.51,4202.19 2289.75,4203.15 2292.99,4204.08 2296.23,4204.98 2299.48,4205.86 2302.72,4206.71 2305.96,4207.53 2309.20,4208.33 2312.44,4209.11 2315.69,4209.87 2318.93,4210.60 2322.17,4211.31 2325.41,4211.99 2328.65,4212.66 2331.89,4213.30 2335.14,4213.93 2338.38,4214.53 2341.62,4215.11 2344.86,4215.68 2348.10,4216.23 2351.34,4216.76 2354.59,4217.27"/>
<rect x="1745.30" y="3777.10" width="638.30" height="474.60" fill="none" stroke="#cccccc" stroke-width="2.2"/>
<g font-size="19.3"><text transform="matrix(1 0 0 0.930 1774.31 4282.02)" text-anchor="middle">0.0</text><text transform="matrix(1 0 0 0.930 1855.36 4282.02)" text-anchor="middle">2.5</text><text transform="matrix(1 0 0 0.930 1936.40 4282.02)" text-anchor="middle">5.0</text><text transform="matrix(1 0 0 0.930 2017.44 4282.02)" text-anchor="middle">7.5</text><text transform="matrix(1 0 0 0.930 2098.49 4282.02)" text-anchor="middle">10.0</text><text transform="matrix(1 0 0 0.930 2179.53 4282.02)" text-anchor="middle">12.5</text><text transform="matrix(1 0 0 0.930 2260.58 4282.02)" text-anchor="middle">15.0</text><text transform="matrix(1 0 0 0.930 2341.62 4282.02)" text-anchor="middle">17.5</text><text transform="matrix(1 0 0 0.930 1727.30 4236.54)" text-anchor="end">0.000</text><text transform="matrix(1 0 0 0.930 1727.30 4174.19)" text-anchor="end">0.025</text><text transform="matrix(1 0 0 0.930 1727.30 4111.84)" text-anchor="end">0.050</text><text transform="matrix(1 0 0 0.930 1727.30 4049.49)" text-anchor="end">0.075</text><text transform="matrix(1 0 0 0.930 1727.30 3987.14)" text-anchor="end">0.100</text><text transform="matrix(1 0 0 0.930 1727.30 3924.79)" text-anchor="end">0.125</text><text transform="matrix(1 0 0 0.930 1727.30 3862.44)" text-anchor="end">0.150</text><text transform="matrix(1 0 0 0.930 1727.30 3800.09)" text-anchor="end">0.175</text></g>
<text transform="matrix(1 0 0 0.930 2064.45 4308.70)" font-size="21.2" text-anchor="middle">wind speed m/s</text>
<text x="2064.45" y="0.00" font-size="45.5" text-anchor="middle" transform="translate(0 3765.20) scale(1 1.05)">Tower 7 70m</text>
<g><rect x="2249.30" y="3786.80" width="125.00" height="115.40" rx="3.8" ry="3.8" fill="#fff" fill-opacity="0.8" stroke="#cccccc" stroke-width="1.75"/><line x1="2257.00" y1="3802.20" x2="2295.40" y2="3802.20" stroke="#008000" stroke-width="3.40" stroke-linecap="square"/><text transform="matrix(1 0 0 0.930 2311.30 3807.12)" font-size="19.3">Test 1</text><line x1="2257.00" y1="3830.15" x2="2295.40" y2="3830.15" stroke="#800080" stroke-width="3.40" stroke-linecap="square"/><text transform="matrix(1 0 0 0.930 2311.30 3835.07)" font-size="19.3">Test 3</text><line x1="2257.00" y1="3858.10" x2="2295.40" y2="3858.10" stroke="#ff0000" stroke-width="3.40" stroke-linecap="square"/><text transform="matrix(1 0 0 0.930 2311.30 3863.02)" font-size="19.3">Test 2</text><line x1="2257.00" y1="3886.05" x2="2295.40" y2="3886.05" stroke="#0000ff" stroke-width="3.40" stroke-linecap="square"/><text transform="matrix(1 0 0 0.930 2311.30 3890.97)" font-size="19.3">obs</text></g>
</svg>
</body></html>
